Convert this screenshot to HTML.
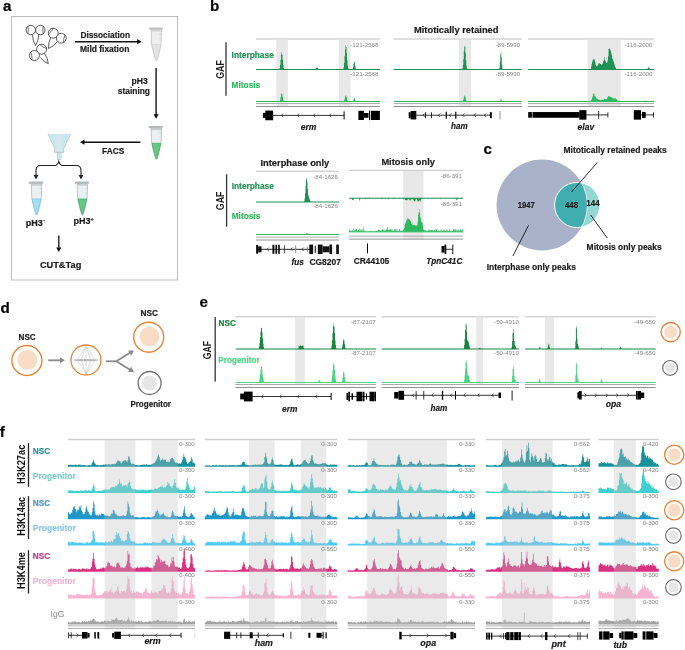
<!DOCTYPE html><html><head><meta charset="utf-8"><style>html,body{margin:0;padding:0;background:#fff;width:685px;height:650px;overflow:hidden;font-family:"Liberation Sans",sans-serif}svg text{font-family:"Liberation Sans",sans-serif}</style></head><body><svg width="685" height="650" viewBox="0 0 685 650" style="position:absolute;left:0;top:0;will-change:transform">
<text x="2.9" y="11.4" font-size="15.2" font-weight="bold" fill="#000" text-anchor="start" stroke="#000" stroke-width="0.18">a</text>
<text x="210.0" y="11.4" font-size="15.2" font-weight="bold" fill="#000" text-anchor="start" stroke="#000" stroke-width="0.18">b</text>
<text x="483.6" y="153.8" font-size="15.2" font-weight="bold" fill="#000" text-anchor="start" stroke="#000" stroke-width="0.18">c</text>
<text x="0.6" y="313.0" font-size="15.2" font-weight="bold" fill="#000" text-anchor="start" stroke="#000" stroke-width="0.18">d</text>
<text x="199.4" y="306.7" font-size="15.2" font-weight="bold" fill="#000" text-anchor="start" stroke="#000" stroke-width="0.18">e</text>
<text x="-0.3" y="436.8" font-size="15.2" font-weight="bold" fill="#000" text-anchor="start" stroke="#000" stroke-width="0.18">f</text>
<rect x="11.5" y="16.5" width="166" height="263.5" fill="none" stroke="#bdbdbd" stroke-width="1"/>
<path d="M32.5,34.5 Q32.46,40.42 35.5,45.5 Q38.68,40.46 38.8,34.5" fill="#fff" stroke="#333" stroke-width="0.8" stroke-linejoin="round"/>
<circle cx="30.8" cy="30" r="4.7" fill="#fff" stroke="#333" stroke-width="0.8"/>
<path d="M27.88,33.68 Q28.78,30.00 27.88,26.32" fill="none" stroke="#333" stroke-width="0.7"/>
<circle cx="40.3" cy="30" r="4.7" fill="#fff" stroke="#333" stroke-width="0.8"/>
<path d="M43.22,26.32 Q42.32,30.00 43.22,33.68" fill="none" stroke="#333" stroke-width="0.7"/>
<path d="M50.8,37.5 Q48.08,42.67 48.5,48.5 Q53.98,46.26 57.5,41.5" fill="#fff" stroke="#333" stroke-width="0.8" stroke-linejoin="round"/>
<circle cx="53.2" cy="33.2" r="5.0" fill="#fff" stroke="#333" stroke-width="0.8"/>
<path d="M48.30,34.20 Q51.56,31.82 53.34,28.20" fill="none" stroke="#333" stroke-width="0.7"/>
<circle cx="61.3" cy="38.2" r="4.9" fill="#fff" stroke="#333" stroke-width="0.8"/>
<path d="M64.97,34.95 Q63.37,38.57 63.63,42.51" fill="none" stroke="#333" stroke-width="0.7"/>
<path d="M40.5,57.5 Q43.40,61.85 48.3,63.7 Q47.90,58.04 44.5,53.5" fill="#fff" stroke="#333" stroke-width="0.8" stroke-linejoin="round"/>
<circle cx="41.6" cy="49.2" r="5.0" fill="#fff" stroke="#333" stroke-width="0.8"/>
<path d="M39.76,44.55 Q42.67,47.34 46.55,48.47" fill="none" stroke="#333" stroke-width="0.7"/>
<circle cx="34.4" cy="55.5" r="5.0" fill="#fff" stroke="#333" stroke-width="0.8"/>
<path d="M32.02,59.90 Q32.29,55.87 30.66,52.18" fill="none" stroke="#333" stroke-width="0.7"/>
<line x1="75" y1="41.7" x2="138.1" y2="41.7" stroke="#111" stroke-width="1.4"/>
<path d="M141.7,41.7 L137.2,39.1 L137.2,44.300000000000004 Z" fill="#111"/>
<text x="80.4" y="37.9" font-size="8.6" font-weight="bold" fill="#1a1a1a" text-anchor="start" textLength="49.6" lengthAdjust="spacingAndGlyphs" stroke="#1a1a1a" stroke-width="0.18">Dissociation</text>
<text x="80.0" y="51.5" font-size="8.6" font-weight="bold" fill="#1a1a1a" text-anchor="start" textLength="49.3" lengthAdjust="spacingAndGlyphs" stroke="#1a1a1a" stroke-width="0.18">Mild fixation</text>
<line x1="156.1" y1="68" x2="156.1" y2="115.10000000000001" stroke="#111" stroke-width="1.4"/>
<path d="M156.1,118.7 L153.5,114.2 L158.7,114.2 Z" fill="#111"/>
<text x="147.7" y="83.7" font-size="8.6" font-weight="bold" fill="#1a1a1a" text-anchor="end" stroke="#1a1a1a" stroke-width="0.18">pH3</text>
<text x="150.0" y="93.6" font-size="8.6" font-weight="bold" fill="#1a1a1a" text-anchor="end" textLength="32.2" lengthAdjust="spacingAndGlyphs" stroke="#1a1a1a" stroke-width="0.18">staining</text>
<line x1="140.4" y1="142.2" x2="83.6" y2="142.2" stroke="#111" stroke-width="1.4"/>
<path d="M80,142.2 L84.5,139.6 L84.5,144.79999999999998 Z" fill="#111"/>
<text x="102" y="153.8" font-size="8.6" font-weight="bold" fill="#1a1a1a" text-anchor="start" textLength="22.4" lengthAdjust="spacingAndGlyphs" stroke="#1a1a1a" stroke-width="0.18">FACS</text>
<path d="M151.1,29.3 L161.6,29.3 L161.1,44.3 Q159.45,52.6 157.09999999999997,60.300000000000004 Q156.39999999999998,61.300000000000004 155.7,60.300000000000004 Q153.3,52.6 151.6,44.3 Z" fill="#efefef" stroke="#c2c2c2" stroke-width="0.8"/>
<path d="M152.0,44.699999999999996 L160.7,44.699999999999996 Q159.14999999999998,52.6 156.89999999999998,59.900000000000006 Q156.39999999999998,60.50000000000001 155.89999999999998,59.900000000000006 Q153.6,52.6 152.0,44.699999999999996 Z" fill="#e3e3e3" stroke="#cfcfcf" stroke-width="0.6"/>
<rect x="151.1" y="29.3" width="10.5" height="2.2" fill="#c2c2c2" opacity="0.6"/>
<path d="M148.29999999999998,28.8 L149.79999999999998,27.400000000000002 L162.89999999999998,27.400000000000002 L162.89999999999998,29.2 L149.0,29.5 Z" fill="#c2c2c2"/>
<line x1="159.2" y1="34.3" x2="161.0" y2="34.3" stroke="#c3c9cb" stroke-width="0.5"/>
<line x1="159.2" y1="38.6" x2="161.0" y2="38.6" stroke="#c3c9cb" stroke-width="0.5"/>
<path d="M151.1,127.9 L161.6,127.9 L161.1,142.9 Q159.45,151.2 157.09999999999997,158.9 Q156.39999999999998,159.9 155.7,158.9 Q153.3,151.2 151.6,142.9 Z" fill="#e9f1f3" stroke="#b3b9bb" stroke-width="0.8"/>
<path d="M152.0,143.3 L160.7,143.3 Q159.14999999999998,151.2 156.89999999999998,158.5 Q156.39999999999998,159.1 155.89999999999998,158.5 Q153.6,151.2 152.0,143.3 Z" fill="#63c983" stroke="#3d9e5b" stroke-width="0.6"/>
<rect x="151.1" y="127.9" width="10.5" height="2.2" fill="#b3b9bb" opacity="0.6"/>
<path d="M148.29999999999998,127.4 L149.79999999999998,126.0 L162.89999999999998,126.0 L162.89999999999998,127.80000000000001 L149.0,128.1 Z" fill="#b3b9bb"/>
<line x1="159.2" y1="132.9" x2="161.0" y2="132.9" stroke="#c3c9cb" stroke-width="0.5"/>
<line x1="159.2" y1="137.20000000000002" x2="161.0" y2="137.20000000000002" stroke="#c3c9cb" stroke-width="0.5"/>
<path d="M31.299999999999997,183.5 L41.8,183.5 L41.3,198.5 Q39.65,206.8 37.3,214.5 Q36.599999999999994,215.5 35.89999999999999,214.5 Q33.49999999999999,206.8 31.799999999999997,198.5 Z" fill="#e9f1f3" stroke="#b3b9bb" stroke-width="0.8"/>
<path d="M32.199999999999996,198.9 L40.9,198.9 Q39.35,206.8 37.099999999999994,214.1 Q36.599999999999994,214.7 36.099999999999994,214.1 Q33.79999999999999,206.8 32.199999999999996,198.9 Z" fill="#a4def2" stroke="#70c2dd" stroke-width="0.6"/>
<rect x="31.299999999999997" y="183.5" width="10.5" height="2.2" fill="#b3b9bb" opacity="0.6"/>
<path d="M28.5,183.0 L30.0,181.6 L43.099999999999994,181.6 L43.099999999999994,183.4 L29.2,183.7 Z" fill="#b3b9bb"/>
<line x1="39.4" y1="188.5" x2="41.199999999999996" y2="188.5" stroke="#c3c9cb" stroke-width="0.5"/>
<line x1="39.4" y1="192.8" x2="41.199999999999996" y2="192.8" stroke="#c3c9cb" stroke-width="0.5"/>
<path d="M77.10000000000001,183.5 L87.60000000000001,183.5 L87.10000000000001,198.5 Q85.45,206.8 83.10000000000001,214.5 Q82.4,215.5 81.7,214.5 Q79.3,206.8 77.60000000000001,198.5 Z" fill="#e9f1f3" stroke="#b3b9bb" stroke-width="0.8"/>
<path d="M78.00000000000001,198.9 L86.7,198.9 Q85.15,206.8 82.9,214.1 Q82.4,214.7 81.9,214.1 Q79.60000000000002,206.8 78.00000000000001,198.9 Z" fill="#63c983" stroke="#3d9e5b" stroke-width="0.6"/>
<rect x="77.10000000000001" y="183.5" width="10.5" height="2.2" fill="#b3b9bb" opacity="0.6"/>
<path d="M74.3,183.0 L75.8,181.6 L88.9,181.6 L88.9,183.4 L75.0,183.7 Z" fill="#b3b9bb"/>
<line x1="85.2" y1="188.5" x2="87.00000000000001" y2="188.5" stroke="#c3c9cb" stroke-width="0.5"/>
<line x1="85.2" y1="192.8" x2="87.00000000000001" y2="192.8" stroke="#c3c9cb" stroke-width="0.5"/>
<path d="M48.6,133.9 L70.1,133.9 L63.3,148.3 L63.3,152.1 L55.0,152.1 L55.0,148.3 Z" fill="#c6eaf3"/>
<path d="M55.3,134 L62.9,134 L61.0,151.8 L57.2,151.8 Z" fill="#dbe4e7" opacity="0.85"/>
<path d="M47.8,133.6 L54.6,148.3 L54.6,152.4 L63.7,152.4 L63.7,148.3 L70.9,133.6" fill="none" stroke="#b8b8b8" stroke-width="0.8"/>
<rect x="57.3" y="152.4" width="3.8" height="7.0" fill="#c6eaf3" stroke="#bdbdbd" stroke-width="0.6"/>
<path d="M36,178 L36,170.5 Q36,165.5 41,165.5 L55,165.5 Q57.5,165.5 58.8,161.4 Q60,165.5 62.5,165.5 L76,165.5 Q81,165.5 81,170.5 L81,178" fill="none" stroke="#222" stroke-width="1.1"/>
<path d="M36,179.5 L33.6,175 L38.4,175 Z" fill="#222"/>
<path d="M81,179.5 L78.6,175 L83.4,175 Z" fill="#222"/>
<text x="25.8" y="225.8" font-size="9.0" font-weight="bold" fill="#1a1a1a" text-anchor="start" stroke="#1a1a1a" stroke-width="0.18">pH3<tspan font-size="5.0" dx="0.8" dy="-3.4">-</tspan></text>
<text x="73.4" y="224.3" font-size="9.0" font-weight="bold" fill="#1a1a1a" text-anchor="start" stroke="#1a1a1a" stroke-width="0.18">pH3<tspan font-size="5.5" dx="0.2" dy="-3.5">+</tspan></text>
<line x1="58.8" y1="235.5" x2="58.8" y2="248.5" stroke="#111" stroke-width="1.3"/>
<path d="M58.8,252.1 L56.199999999999996,247.6 L61.4,247.6 Z" fill="#111"/>
<text x="39.9" y="268" font-size="8.6" font-weight="bold" fill="#1a1a1a" text-anchor="start" textLength="41.4" lengthAdjust="spacingAndGlyphs" stroke="#1a1a1a" stroke-width="0.18">CUT&amp;Tag</text>
<text x="414" y="33" font-size="9.2" font-weight="bold" fill="#1a1a1a" text-anchor="start" textLength="84.5" lengthAdjust="spacingAndGlyphs" stroke="#1a1a1a" stroke-width="0.18">Mitotically retained</text>
<line x1="226" y1="42.3" x2="226" y2="95.8" stroke="#333" stroke-width="1.3"/>
<text transform="translate(223.5,69.5) rotate(-90)" x="0" y="0" font-size="10.3" font-weight="bold" fill="#1a1a1a" text-anchor="middle" textLength="18.6" lengthAdjust="spacingAndGlyphs">GAF</text>
<text x="231.6" y="57.7" font-size="8.6" font-weight="bold" fill="#1f9152" text-anchor="start" textLength="42.2" lengthAdjust="spacingAndGlyphs" stroke="#1f9152" stroke-width="0.18">Interphase</text>
<text x="231.6" y="87.8" font-size="8.6" font-weight="bold" fill="#2cb85c" text-anchor="start" textLength="28.6" lengthAdjust="spacingAndGlyphs" stroke="#2cb85c" stroke-width="0.18">Mitosis</text>
<line x1="256" y1="39.1" x2="380" y2="39.1" stroke="#d4d4d4" stroke-width="1.5"/>
<rect x="276.3" y="39.800000000000004" width="11.599999999999966" height="67.0" fill="#e8e8e8"/>
<rect x="339" y="39.800000000000004" width="11.600000000000023" height="67.0" fill="#e8e8e8"/>
<path d="M256.0,69.90 L256.00,68.90 256.50,68.90 L256.50,68.90 257.00,68.90 L257.00,68.90 257.50,68.90 L257.50,68.90 258.00,68.90 L258.00,68.90 258.50,68.90 L258.50,68.90 259.00,68.90 L259.00,68.90 259.50,68.90 L259.50,68.90 260.00,68.90 L260.00,68.90 260.50,68.90 L260.50,68.90 261.00,68.90 L261.00,68.90 261.50,68.90 L261.50,68.90 262.00,68.90 L262.00,68.90 262.50,68.90 L262.50,68.90 263.00,68.90 L263.00,68.90 263.50,68.90 L263.50,68.90 264.00,68.90 L264.00,68.90 264.50,68.90 L264.50,68.90 265.00,68.90 L265.00,68.90 265.50,68.90 L265.50,68.90 266.00,68.90 L266.00,68.90 266.50,68.90 L266.50,68.90 267.00,68.90 L267.00,68.90 267.50,68.90 L267.50,68.90 268.00,68.90 L268.00,68.90 268.50,68.90 L268.50,68.90 269.00,68.90 L269.00,68.90 269.50,68.90 L269.50,68.90 270.00,68.90 L270.00,68.90 270.50,68.90 L270.50,68.90 271.00,68.90 L271.00,68.90 271.50,68.90 L271.50,68.90 272.00,68.90 L272.00,68.90 272.50,68.90 L272.50,68.90 273.00,68.90 L273.00,68.90 273.50,68.90 L273.50,68.90 274.00,68.90 L274.00,68.90 274.50,68.90 L274.50,68.90 275.00,68.90 L275.00,68.90 275.50,68.90 L275.50,68.90 276.00,68.90 L276.00,68.90 276.50,68.90 L276.50,68.90 277.00,68.90 L277.00,68.90 277.50,68.90 L277.50,68.90 278.00,68.90 L278.00,68.90 278.50,68.90 L278.50,68.90 279.00,68.90 L279.00,68.90 279.50,68.90 L279.50,67.98 280.00,67.98 L280.00,64.84 280.50,64.84 L280.50,59.79 281.00,59.79 L281.00,54.58 281.50,54.58 L281.50,52.30 282.00,52.30 L282.00,54.58 282.50,54.58 L282.50,59.79 283.00,59.79 L283.00,64.84 283.50,64.84 L283.50,67.98 284.00,67.98 L284.00,68.90 284.50,68.90 L284.50,68.90 285.00,68.90 L285.00,68.90 285.50,68.90 L285.50,68.90 286.00,68.90 L286.00,68.90 286.50,68.90 L286.50,68.90 287.00,68.90 L287.00,68.90 287.50,68.90 L287.50,68.90 288.00,68.90 L288.00,68.90 288.50,68.90 L288.50,68.90 289.00,68.90 L289.00,68.90 289.50,68.90 L289.50,68.90 290.00,68.90 L290.00,68.90 290.50,68.90 L290.50,68.90 291.00,68.90 L291.00,68.90 291.50,68.90 L291.50,68.90 292.00,68.90 L292.00,68.90 292.50,68.90 L292.50,68.90 293.00,68.90 L293.00,68.90 293.50,68.90 L293.50,68.90 294.00,68.90 L294.00,68.90 294.50,68.90 L294.50,68.90 295.00,68.90 L295.00,68.90 295.50,68.90 L295.50,68.90 296.00,68.90 L296.00,68.90 296.50,68.90 L296.50,68.90 297.00,68.90 L297.00,68.90 297.50,68.90 L297.50,68.90 298.00,68.90 L298.00,68.90 298.50,68.90 L298.50,68.90 299.00,68.90 L299.00,68.90 299.50,68.90 L299.50,68.90 300.00,68.90 L300.00,68.90 300.50,68.90 L300.50,68.90 301.00,68.90 L301.00,68.90 301.50,68.90 L301.50,68.90 302.00,68.90 L302.00,68.90 302.50,68.90 L302.50,68.90 303.00,68.90 L303.00,68.90 303.50,68.90 L303.50,68.90 304.00,68.90 L304.00,68.90 304.50,68.90 L304.50,68.90 305.00,68.90 L305.00,68.90 305.50,68.90 L305.50,68.90 306.00,68.90 L306.00,68.90 306.50,68.90 L306.50,68.90 307.00,68.90 L307.00,68.90 307.50,68.90 L307.50,68.90 308.00,68.90 L308.00,68.90 308.50,68.90 L308.50,68.90 309.00,68.90 L309.00,68.90 309.50,68.90 L309.50,68.90 310.00,68.90 L310.00,68.90 310.50,68.90 L310.50,68.90 311.00,68.90 L311.00,68.90 311.50,68.90 L311.50,68.90 312.00,68.90 L312.00,68.90 312.50,68.90 L312.50,68.90 313.00,68.90 L313.00,68.90 313.50,68.90 L313.50,68.90 314.00,68.90 L314.00,68.90 314.50,68.90 L314.50,68.90 315.00,68.90 L315.00,68.90 315.50,68.90 L315.50,68.53 316.00,68.53 L316.00,67.81 316.50,67.81 L316.50,67.41 317.00,67.41 L317.00,67.59 317.50,67.59 L317.50,68.23 318.00,68.23 L318.00,68.90 318.50,68.90 L318.50,68.90 319.00,68.90 L319.00,68.90 319.50,68.90 L319.50,68.90 320.00,68.90 L320.00,68.90 320.50,68.90 L320.50,68.90 321.00,68.90 L321.00,68.90 321.50,68.90 L321.50,68.90 322.00,68.90 L322.00,68.90 322.50,68.90 L322.50,68.90 323.00,68.90 L323.00,68.90 323.50,68.90 L323.50,68.90 324.00,68.90 L324.00,68.90 324.50,68.90 L324.50,68.90 325.00,68.90 L325.00,68.90 325.50,68.90 L325.50,68.90 326.00,68.90 L326.00,68.90 326.50,68.90 L326.50,68.90 327.00,68.90 L327.00,68.90 327.50,68.90 L327.50,68.90 328.00,68.90 L328.00,68.90 328.50,68.90 L328.50,68.90 329.00,68.90 L329.00,68.90 329.50,68.90 L329.50,68.90 330.00,68.90 L330.00,68.90 330.50,68.90 L330.50,68.90 331.00,68.90 L331.00,68.90 331.50,68.90 L331.50,68.90 332.00,68.90 L332.00,68.90 332.50,68.90 L332.50,68.90 333.00,68.90 L333.00,68.90 333.50,68.90 L333.50,68.90 334.00,68.90 L334.00,68.90 334.50,68.90 L334.50,68.90 335.00,68.90 L335.00,68.90 335.50,68.90 L335.50,68.90 336.00,68.90 L336.00,68.90 336.50,68.90 L336.50,68.90 337.00,68.90 L337.00,68.90 337.50,68.90 L337.50,68.90 338.00,68.90 L338.00,68.90 338.50,68.90 L338.50,68.90 339.00,68.90 L339.00,68.90 339.50,68.90 L339.50,68.90 340.00,68.90 L340.00,68.90 340.50,68.90 L340.50,68.90 341.00,68.90 L341.00,68.90 341.50,68.90 L341.50,68.90 342.00,68.90 L342.00,68.90 342.50,68.90 L342.50,68.90 343.00,68.90 L343.00,68.90 343.50,68.90 L343.50,67.17 344.00,67.17 L344.00,63.00 344.50,63.00 L344.50,56.36 345.00,56.36 L345.00,49.19 345.50,49.19 L345.50,45.22 346.00,45.22 L346.00,47.01 346.50,47.01 L346.50,53.36 347.00,53.36 L347.00,60.59 347.50,60.59 L347.50,65.82 348.00,65.82 L348.00,68.51 348.50,68.51 L348.50,68.90 349.00,68.90 L349.00,68.90 349.50,68.90 L349.50,68.90 350.00,68.90 L350.00,68.90 350.50,68.90 L350.50,68.90 351.00,68.90 L351.00,68.90 351.50,68.90 L351.50,68.90 352.00,68.90 L352.00,68.90 352.50,68.90 L352.50,68.90 353.00,68.90 L353.00,67.03 353.50,67.03 L353.50,63.80 354.00,63.80 L354.00,61.57 354.50,61.57 L354.50,62.61 355.00,62.61 L355.00,65.81 355.50,65.81 L355.50,68.43 356.00,68.43 L356.00,68.90 356.50,68.90 L356.50,68.90 357.00,68.90 L357.00,68.90 357.50,68.90 L357.50,68.90 358.00,68.90 L358.00,68.90 358.50,68.90 L358.50,68.90 359.00,68.90 L359.00,68.90 359.50,68.90 L359.50,68.90 360.00,68.90 L360.00,68.90 360.50,68.90 L360.50,68.90 361.00,68.90 L361.00,68.90 361.50,68.90 L361.50,68.90 362.00,68.90 L362.00,68.90 362.50,68.90 L362.50,68.90 363.00,68.90 L363.00,68.90 363.50,68.90 L363.50,68.90 364.00,68.90 L364.00,68.90 364.50,68.90 L364.50,68.90 365.00,68.90 L365.00,68.90 365.50,68.90 L365.50,68.90 366.00,68.90 L366.00,68.90 366.50,68.90 L366.50,68.90 367.00,68.90 L367.00,68.90 367.50,68.90 L367.50,68.90 368.00,68.90 L368.00,68.90 368.50,68.90 L368.50,68.90 369.00,68.90 L369.00,68.90 369.50,68.90 L369.50,68.90 370.00,68.90 L370.00,68.90 370.50,68.90 L370.50,68.90 371.00,68.90 L371.00,68.90 371.50,68.90 L371.50,68.90 372.00,68.90 L372.00,68.90 372.50,68.90 L372.50,68.90 373.00,68.90 L373.00,68.90 373.50,68.90 L373.50,68.90 374.00,68.90 L374.00,68.90 374.50,68.90 L374.50,68.90 375.00,68.90 L375.00,68.90 375.50,68.90 L375.50,68.90 376.00,68.90 L376.00,68.90 376.50,68.90 L376.50,68.90 377.00,68.90 L377.00,68.90 377.50,68.90 L377.50,68.90 378.00,68.90 L378.00,68.90 378.50,68.90 L378.50,68.90 379.00,68.90 L379.00,68.90 379.50,68.90 L379.50,68.90 380.00,68.90 L380.00,68.90 380.00,68.90 L380.0,69.90 Z" fill="#1f9152"/>
<path d="M256.0,101.95 L256.00,100.95 256.50,100.95 L256.50,100.95 257.00,100.95 L257.00,100.95 257.50,100.95 L257.50,100.95 258.00,100.95 L258.00,100.95 258.50,100.95 L258.50,100.95 259.00,100.95 L259.00,100.95 259.50,100.95 L259.50,100.95 260.00,100.95 L260.00,100.95 260.50,100.95 L260.50,100.95 261.00,100.95 L261.00,100.95 261.50,100.95 L261.50,100.95 262.00,100.95 L262.00,100.95 262.50,100.95 L262.50,100.95 263.00,100.95 L263.00,100.95 263.50,100.95 L263.50,100.95 264.00,100.95 L264.00,100.95 264.50,100.95 L264.50,100.95 265.00,100.95 L265.00,100.95 265.50,100.95 L265.50,100.95 266.00,100.95 L266.00,100.95 266.50,100.95 L266.50,100.95 267.00,100.95 L267.00,100.95 267.50,100.95 L267.50,100.95 268.00,100.95 L268.00,100.95 268.50,100.95 L268.50,100.95 269.00,100.95 L269.00,100.95 269.50,100.95 L269.50,100.95 270.00,100.95 L270.00,100.95 270.50,100.95 L270.50,100.95 271.00,100.95 L271.00,100.95 271.50,100.95 L271.50,100.95 272.00,100.95 L272.00,100.95 272.50,100.95 L272.50,100.95 273.00,100.95 L273.00,100.95 273.50,100.95 L273.50,100.95 274.00,100.95 L274.00,100.95 274.50,100.95 L274.50,100.95 275.00,100.95 L275.00,100.95 275.50,100.95 L275.50,100.95 276.00,100.95 L276.00,100.95 276.50,100.95 L276.50,100.95 277.00,100.95 L277.00,100.95 277.50,100.95 L277.50,100.95 278.00,100.95 L278.00,100.95 278.50,100.95 L278.50,100.95 279.00,100.95 L279.00,100.95 279.50,100.95 L279.50,100.95 280.00,100.95 L280.00,99.71 280.50,99.71 L280.50,97.10 281.00,97.10 L281.00,94.24 281.50,94.24 L281.50,92.95 282.00,92.95 L282.00,94.24 282.50,94.24 L282.50,97.10 283.00,97.10 L283.00,99.71 283.50,99.71 L283.50,100.95 284.00,100.95 L284.00,100.95 284.50,100.95 L284.50,100.95 285.00,100.95 L285.00,100.95 285.50,100.95 L285.50,100.95 286.00,100.95 L286.00,100.95 286.50,100.95 L286.50,100.95 287.00,100.95 L287.00,100.95 287.50,100.95 L287.50,100.95 288.00,100.95 L288.00,100.95 288.50,100.95 L288.50,100.95 289.00,100.95 L289.00,100.95 289.50,100.95 L289.50,100.95 290.00,100.95 L290.00,100.95 290.50,100.95 L290.50,100.95 291.00,100.95 L291.00,100.95 291.50,100.95 L291.50,100.95 292.00,100.95 L292.00,100.95 292.50,100.95 L292.50,100.95 293.00,100.95 L293.00,100.95 293.50,100.95 L293.50,100.95 294.00,100.95 L294.00,100.95 294.50,100.95 L294.50,100.95 295.00,100.95 L295.00,100.95 295.50,100.95 L295.50,100.95 296.00,100.95 L296.00,100.95 296.50,100.95 L296.50,100.95 297.00,100.95 L297.00,100.95 297.50,100.95 L297.50,100.95 298.00,100.95 L298.00,100.95 298.50,100.95 L298.50,100.95 299.00,100.95 L299.00,100.95 299.50,100.95 L299.50,100.95 300.00,100.95 L300.00,100.95 300.50,100.95 L300.50,100.95 301.00,100.95 L301.00,100.95 301.50,100.95 L301.50,100.95 302.00,100.95 L302.00,100.95 302.50,100.95 L302.50,100.95 303.00,100.95 L303.00,100.95 303.50,100.95 L303.50,100.95 304.00,100.95 L304.00,100.95 304.50,100.95 L304.50,100.95 305.00,100.95 L305.00,100.95 305.50,100.95 L305.50,100.95 306.00,100.95 L306.00,100.95 306.50,100.95 L306.50,100.95 307.00,100.95 L307.00,100.95 307.50,100.95 L307.50,100.95 308.00,100.95 L308.00,100.95 308.50,100.95 L308.50,100.95 309.00,100.95 L309.00,100.95 309.50,100.95 L309.50,100.95 310.00,100.95 L310.00,100.95 310.50,100.95 L310.50,100.95 311.00,100.95 L311.00,100.95 311.50,100.95 L311.50,100.95 312.00,100.95 L312.00,100.95 312.50,100.95 L312.50,100.95 313.00,100.95 L313.00,100.95 313.50,100.95 L313.50,100.95 314.00,100.95 L314.00,100.95 314.50,100.95 L314.50,100.95 315.00,100.95 L315.00,100.95 315.50,100.95 L315.50,100.95 316.00,100.95 L316.00,100.95 316.50,100.95 L316.50,100.95 317.00,100.95 L317.00,100.95 317.50,100.95 L317.50,100.95 318.00,100.95 L318.00,100.95 318.50,100.95 L318.50,100.95 319.00,100.95 L319.00,100.95 319.50,100.95 L319.50,100.95 320.00,100.95 L320.00,100.95 320.50,100.95 L320.50,100.95 321.00,100.95 L321.00,100.95 321.50,100.95 L321.50,100.95 322.00,100.95 L322.00,100.95 322.50,100.95 L322.50,100.95 323.00,100.95 L323.00,100.95 323.50,100.95 L323.50,100.95 324.00,100.95 L324.00,100.95 324.50,100.95 L324.50,100.95 325.00,100.95 L325.00,100.95 325.50,100.95 L325.50,100.95 326.00,100.95 L326.00,100.95 326.50,100.95 L326.50,100.95 327.00,100.95 L327.00,100.95 327.50,100.95 L327.50,100.95 328.00,100.95 L328.00,100.95 328.50,100.95 L328.50,100.95 329.00,100.95 L329.00,100.95 329.50,100.95 L329.50,100.95 330.00,100.95 L330.00,100.95 330.50,100.95 L330.50,100.95 331.00,100.95 L331.00,100.95 331.50,100.95 L331.50,100.95 332.00,100.95 L332.00,100.95 332.50,100.95 L332.50,100.95 333.00,100.95 L333.00,100.95 333.50,100.95 L333.50,100.95 334.00,100.95 L334.00,100.95 334.50,100.95 L334.50,100.95 335.00,100.95 L335.00,100.95 335.50,100.95 L335.50,100.95 336.00,100.95 L336.00,100.95 336.50,100.95 L336.50,100.95 337.00,100.95 L337.00,100.95 337.50,100.95 L337.50,100.95 338.00,100.95 L338.00,100.95 338.50,100.95 L338.50,100.95 339.00,100.95 L339.00,100.95 339.50,100.95 L339.50,100.95 340.00,100.95 L340.00,100.95 340.50,100.95 L340.50,100.95 341.00,100.95 L341.00,100.95 341.50,100.95 L341.50,100.95 342.00,100.95 L342.00,100.95 342.50,100.95 L342.50,100.95 343.00,100.95 L343.00,100.95 343.50,100.95 L343.50,100.95 344.00,100.95 L344.00,100.55 344.50,100.55 L344.50,98.73 345.00,98.73 L345.00,96.50 345.50,96.50 L345.50,95.19 346.00,95.19 L346.00,95.79 346.50,95.79 L346.50,97.83 347.00,97.83 L347.00,99.92 347.50,99.92 L347.50,100.95 348.00,100.95 L348.00,100.95 348.50,100.95 L348.50,100.95 349.00,100.95 L349.00,100.95 349.50,100.95 L349.50,100.95 350.00,100.95 L350.00,100.95 350.50,100.95 L350.50,100.95 351.00,100.95 L351.00,100.95 351.50,100.95 L351.50,100.95 352.00,100.95 L352.00,100.95 352.50,100.95 L352.50,100.95 353.00,100.95 L353.00,100.65 353.50,100.65 L353.50,99.19 354.00,99.19 L354.00,98.18 354.50,98.18 L354.50,98.65 355.00,98.65 L355.00,100.10 355.50,100.10 L355.50,100.95 356.00,100.95 L356.00,100.95 356.50,100.95 L356.50,100.95 357.00,100.95 L357.00,100.95 357.50,100.95 L357.50,100.95 358.00,100.95 L358.00,100.95 358.50,100.95 L358.50,100.95 359.00,100.95 L359.00,100.95 359.50,100.95 L359.50,100.95 360.00,100.95 L360.00,100.95 360.50,100.95 L360.50,100.95 361.00,100.95 L361.00,100.95 361.50,100.95 L361.50,100.95 362.00,100.95 L362.00,100.95 362.50,100.95 L362.50,100.95 363.00,100.95 L363.00,100.95 363.50,100.95 L363.50,100.95 364.00,100.95 L364.00,100.95 364.50,100.95 L364.50,100.95 365.00,100.95 L365.00,100.95 365.50,100.95 L365.50,100.95 366.00,100.95 L366.00,100.95 366.50,100.95 L366.50,100.95 367.00,100.95 L367.00,100.95 367.50,100.95 L367.50,100.95 368.00,100.95 L368.00,100.95 368.50,100.95 L368.50,100.95 369.00,100.95 L369.00,100.95 369.50,100.95 L369.50,100.95 370.00,100.95 L370.00,100.95 370.50,100.95 L370.50,100.95 371.00,100.95 L371.00,100.95 371.50,100.95 L371.50,100.95 372.00,100.95 L372.00,100.95 372.50,100.95 L372.50,100.95 373.00,100.95 L373.00,100.95 373.50,100.95 L373.50,100.95 374.00,100.95 L374.00,100.95 374.50,100.95 L374.50,100.95 375.00,100.95 L375.00,100.95 375.50,100.95 L375.50,100.95 376.00,100.95 L376.00,100.95 376.50,100.95 L376.50,100.95 377.00,100.95 L377.00,100.95 377.50,100.95 L377.50,100.95 378.00,100.95 L378.00,100.95 378.50,100.95 L378.50,100.95 379.00,100.95 L379.00,100.95 379.50,100.95 L379.50,100.95 380.00,100.95 L380.00,100.95 380.00,100.95 L380.0,101.95 Z" fill="#2cb85c"/>
<line x1="256" y1="103.6" x2="380" y2="103.6" stroke="#ababab" stroke-width="1.0"/>
<line x1="256" y1="106.5" x2="380" y2="106.5" stroke="#929292" stroke-width="1.0"/>
<text x="378.5" y="47.0" font-size="6.2" font-weight="normal" fill="#858585" text-anchor="end">-121-2568</text>
<text x="378.5" y="76.3" font-size="6.2" font-weight="normal" fill="#858585" text-anchor="end">-121-2568</text>
<line x1="393.8" y1="39.1" x2="521.7" y2="39.1" stroke="#d4d4d4" stroke-width="1.5"/>
<rect x="459" y="39.800000000000004" width="12" height="67.0" fill="#e8e8e8"/>
<path d="M393.8,69.90 L393.80,68.90 394.30,68.90 L394.30,68.90 394.80,68.90 L394.80,68.90 395.30,68.90 L395.30,68.90 395.80,68.90 L395.80,68.90 396.30,68.90 L396.30,68.90 396.80,68.90 L396.80,68.90 397.30,68.90 L397.30,68.90 397.80,68.90 L397.80,68.90 398.30,68.90 L398.30,68.90 398.80,68.90 L398.80,68.90 399.30,68.90 L399.30,68.90 399.80,68.90 L399.80,68.90 400.30,68.90 L400.30,68.90 400.80,68.90 L400.80,68.90 401.30,68.90 L401.30,68.90 401.80,68.90 L401.80,68.90 402.30,68.90 L402.30,68.90 402.80,68.90 L402.80,68.90 403.30,68.90 L403.30,68.90 403.80,68.90 L403.80,68.90 404.30,68.90 L404.30,68.90 404.80,68.90 L404.80,68.90 405.30,68.90 L405.30,68.90 405.80,68.90 L405.80,68.90 406.30,68.90 L406.30,68.90 406.80,68.90 L406.80,68.90 407.30,68.90 L407.30,68.90 407.80,68.90 L407.80,68.90 408.30,68.90 L408.30,68.90 408.80,68.90 L408.80,68.90 409.30,68.90 L409.30,68.90 409.80,68.90 L409.80,68.90 410.30,68.90 L410.30,68.90 410.80,68.90 L410.80,68.90 411.30,68.90 L411.30,68.90 411.80,68.90 L411.80,68.90 412.30,68.90 L412.30,68.90 412.80,68.90 L412.80,68.90 413.30,68.90 L413.30,68.90 413.80,68.90 L413.80,68.90 414.30,68.90 L414.30,68.90 414.80,68.90 L414.80,68.90 415.30,68.90 L415.30,68.90 415.80,68.90 L415.80,68.90 416.30,68.90 L416.30,68.90 416.80,68.90 L416.80,68.90 417.30,68.90 L417.30,68.90 417.80,68.90 L417.80,68.90 418.30,68.90 L418.30,68.90 418.80,68.90 L418.80,68.90 419.30,68.90 L419.30,68.90 419.80,68.90 L419.80,68.90 420.30,68.90 L420.30,68.90 420.80,68.90 L420.80,68.90 421.30,68.90 L421.30,68.90 421.80,68.90 L421.80,68.90 422.30,68.90 L422.30,68.90 422.80,68.90 L422.80,68.90 423.30,68.90 L423.30,68.90 423.80,68.90 L423.80,68.90 424.30,68.90 L424.30,68.90 424.80,68.90 L424.80,68.90 425.30,68.90 L425.30,68.90 425.80,68.90 L425.80,68.90 426.30,68.90 L426.30,68.90 426.80,68.90 L426.80,68.90 427.30,68.90 L427.30,68.90 427.80,68.90 L427.80,68.90 428.30,68.90 L428.30,68.90 428.80,68.90 L428.80,68.90 429.30,68.90 L429.30,68.90 429.80,68.90 L429.80,68.90 430.30,68.90 L430.30,68.90 430.80,68.90 L430.80,68.90 431.30,68.90 L431.30,68.90 431.80,68.90 L431.80,68.90 432.30,68.90 L432.30,68.90 432.80,68.90 L432.80,68.90 433.30,68.90 L433.30,68.90 433.80,68.90 L433.80,68.90 434.30,68.90 L434.30,68.90 434.80,68.90 L434.80,68.90 435.30,68.90 L435.30,68.90 435.80,68.90 L435.80,68.90 436.30,68.90 L436.30,68.90 436.80,68.90 L436.80,68.90 437.30,68.90 L437.30,68.90 437.80,68.90 L437.80,68.90 438.30,68.90 L438.30,68.90 438.80,68.90 L438.80,68.90 439.30,68.90 L439.30,68.90 439.80,68.90 L439.80,68.90 440.30,68.90 L440.30,68.90 440.80,68.90 L440.80,68.90 441.30,68.90 L441.30,68.90 441.80,68.90 L441.80,68.90 442.30,68.90 L442.30,68.90 442.80,68.90 L442.80,68.90 443.30,68.90 L443.30,68.90 443.80,68.90 L443.80,68.90 444.30,68.90 L444.30,68.90 444.80,68.90 L444.80,68.90 445.30,68.90 L445.30,68.90 445.80,68.90 L445.80,68.90 446.30,68.90 L446.30,68.90 446.80,68.90 L446.80,68.90 447.30,68.90 L447.30,68.90 447.80,68.90 L447.80,68.90 448.30,68.90 L448.30,68.90 448.80,68.90 L448.80,68.90 449.30,68.90 L449.30,68.90 449.80,68.90 L449.80,68.90 450.30,68.90 L450.30,68.90 450.80,68.90 L450.80,68.90 451.30,68.90 L451.30,68.90 451.80,68.90 L451.80,68.90 452.30,68.90 L452.30,68.90 452.80,68.90 L452.80,68.90 453.30,68.90 L453.30,68.90 453.80,68.90 L453.80,68.90 454.30,68.90 L454.30,68.90 454.80,68.90 L454.80,68.90 455.30,68.90 L455.30,68.90 455.80,68.90 L455.80,68.90 456.30,68.90 L456.30,68.90 456.80,68.90 L456.80,68.90 457.30,68.90 L457.30,68.90 457.80,68.90 L457.80,68.90 458.30,68.90 L458.30,68.90 458.80,68.90 L458.80,68.90 459.30,68.90 L459.30,68.90 459.80,68.90 L459.80,68.90 460.30,68.90 L460.30,68.90 460.80,68.90 L460.80,68.90 461.30,68.90 L461.30,68.90 461.80,68.90 L461.80,68.90 462.30,68.90 L462.30,68.23 462.80,68.23 L462.80,64.98 463.30,64.98 L463.30,58.91 463.80,58.91 L463.80,51.30 464.30,51.30 L464.30,46.03 464.80,46.03 L464.80,46.69 465.30,46.69 L465.30,52.78 465.80,52.78 L465.80,60.33 466.30,60.33 L466.30,65.85 466.80,65.85 L466.80,68.60 467.30,68.60 L467.30,68.90 467.80,68.90 L467.80,68.90 468.30,68.90 L468.30,68.90 468.80,68.90 L468.80,68.90 469.30,68.90 L469.30,68.90 469.80,68.90 L469.80,68.90 470.30,68.90 L470.30,68.90 470.80,68.90 L470.80,68.90 471.30,68.90 L471.30,68.90 471.80,68.90 L471.80,68.90 472.30,68.90 L472.30,68.90 472.80,68.90 L472.80,68.90 473.30,68.90 L473.30,68.90 473.80,68.90 L473.80,68.90 474.30,68.90 L474.30,68.90 474.80,68.90 L474.80,68.90 475.30,68.90 L475.30,68.90 475.80,68.90 L475.80,68.90 476.30,68.90 L476.30,68.90 476.80,68.90 L476.80,68.90 477.30,68.90 L477.30,68.90 477.80,68.90 L477.80,68.90 478.30,68.90 L478.30,68.90 478.80,68.90 L478.80,68.90 479.30,68.90 L479.30,68.90 479.80,68.90 L479.80,68.90 480.30,68.90 L480.30,68.90 480.80,68.90 L480.80,68.90 481.30,68.90 L481.30,68.90 481.80,68.90 L481.80,68.90 482.30,68.90 L482.30,68.90 482.80,68.90 L482.80,68.90 483.30,68.90 L483.30,68.90 483.80,68.90 L483.80,68.90 484.30,68.90 L484.30,68.90 484.80,68.90 L484.80,68.90 485.30,68.90 L485.30,68.90 485.80,68.90 L485.80,68.90 486.30,68.90 L486.30,68.90 486.80,68.90 L486.80,68.90 487.30,68.90 L487.30,68.90 487.80,68.90 L487.80,68.90 488.30,68.90 L488.30,68.90 488.80,68.90 L488.80,68.90 489.30,68.90 L489.30,68.90 489.80,68.90 L489.80,68.90 490.30,68.90 L490.30,68.90 490.80,68.90 L490.80,68.90 491.30,68.90 L491.30,68.90 491.80,68.90 L491.80,68.90 492.30,68.90 L492.30,68.90 492.80,68.90 L492.80,68.90 493.30,68.90 L493.30,68.90 493.80,68.90 L493.80,68.90 494.30,68.90 L494.30,68.90 494.80,68.90 L494.80,68.90 495.30,68.90 L495.30,68.90 495.80,68.90 L495.80,68.90 496.30,68.90 L496.30,68.90 496.80,68.90 L496.80,68.90 497.30,68.90 L497.30,68.90 497.80,68.90 L497.80,68.90 498.30,68.90 L498.30,68.90 498.80,68.90 L498.80,68.90 499.30,68.90 L499.30,67.45 499.80,67.45 L499.80,61.98 500.30,61.98 L500.30,54.53 500.80,54.53 L500.80,51.98 501.30,51.98 L501.30,57.36 501.80,57.36 L501.80,64.63 502.30,64.63 L502.30,68.57 502.80,68.57 L502.80,68.90 503.30,68.90 L503.30,68.90 503.80,68.90 L503.80,68.90 504.30,68.90 L504.30,68.90 504.80,68.90 L504.80,68.90 505.30,68.90 L505.30,68.90 505.80,68.90 L505.80,68.90 506.30,68.90 L506.30,68.90 506.80,68.90 L506.80,68.90 507.30,68.90 L507.30,68.90 507.80,68.90 L507.80,68.90 508.30,68.90 L508.30,68.90 508.80,68.90 L508.80,68.90 509.30,68.90 L509.30,68.90 509.80,68.90 L509.80,68.90 510.30,68.90 L510.30,68.90 510.80,68.90 L510.80,68.90 511.30,68.90 L511.30,68.90 511.80,68.90 L511.80,68.90 512.30,68.90 L512.30,68.90 512.80,68.90 L512.80,68.90 513.30,68.90 L513.30,68.90 513.80,68.90 L513.80,68.90 514.30,68.90 L514.30,68.90 514.80,68.90 L514.80,68.90 515.30,68.90 L515.30,68.90 515.80,68.90 L515.80,68.90 516.30,68.90 L516.30,68.90 516.80,68.90 L516.80,68.90 517.30,68.90 L517.30,68.90 517.80,68.90 L517.80,68.90 518.30,68.90 L518.30,68.90 518.80,68.90 L518.80,68.90 519.30,68.90 L519.30,68.90 519.80,68.90 L519.80,68.90 520.30,68.90 L520.30,68.90 520.80,68.90 L520.80,68.90 521.30,68.90 L521.30,68.90 521.70,68.90 L521.7,69.90 Z" fill="#1f9152"/>
<path d="M393.8,101.95 L393.80,100.95 394.30,100.95 L394.30,100.95 394.80,100.95 L394.80,100.95 395.30,100.95 L395.30,100.95 395.80,100.95 L395.80,100.95 396.30,100.95 L396.30,100.95 396.80,100.95 L396.80,100.95 397.30,100.95 L397.30,100.95 397.80,100.95 L397.80,100.95 398.30,100.95 L398.30,100.95 398.80,100.95 L398.80,100.95 399.30,100.95 L399.30,100.95 399.80,100.95 L399.80,100.95 400.30,100.95 L400.30,100.95 400.80,100.95 L400.80,100.95 401.30,100.95 L401.30,100.95 401.80,100.95 L401.80,100.95 402.30,100.95 L402.30,100.95 402.80,100.95 L402.80,100.95 403.30,100.95 L403.30,100.95 403.80,100.95 L403.80,100.95 404.30,100.95 L404.30,100.95 404.80,100.95 L404.80,100.95 405.30,100.95 L405.30,100.95 405.80,100.95 L405.80,100.95 406.30,100.95 L406.30,100.95 406.80,100.95 L406.80,100.95 407.30,100.95 L407.30,100.95 407.80,100.95 L407.80,100.95 408.30,100.95 L408.30,100.95 408.80,100.95 L408.80,100.95 409.30,100.95 L409.30,100.95 409.80,100.95 L409.80,100.95 410.30,100.95 L410.30,100.95 410.80,100.95 L410.80,100.95 411.30,100.95 L411.30,100.95 411.80,100.95 L411.80,100.95 412.30,100.95 L412.30,100.95 412.80,100.95 L412.80,100.95 413.30,100.95 L413.30,100.95 413.80,100.95 L413.80,100.95 414.30,100.95 L414.30,100.95 414.80,100.95 L414.80,100.95 415.30,100.95 L415.30,100.95 415.80,100.95 L415.80,100.95 416.30,100.95 L416.30,100.95 416.80,100.95 L416.80,100.95 417.30,100.95 L417.30,100.95 417.80,100.95 L417.80,100.95 418.30,100.95 L418.30,100.95 418.80,100.95 L418.80,100.95 419.30,100.95 L419.30,100.95 419.80,100.95 L419.80,100.95 420.30,100.95 L420.30,100.95 420.80,100.95 L420.80,100.95 421.30,100.95 L421.30,100.95 421.80,100.95 L421.80,100.95 422.30,100.95 L422.30,100.95 422.80,100.95 L422.80,100.95 423.30,100.95 L423.30,100.95 423.80,100.95 L423.80,100.95 424.30,100.95 L424.30,100.95 424.80,100.95 L424.80,100.95 425.30,100.95 L425.30,100.95 425.80,100.95 L425.80,100.95 426.30,100.95 L426.30,100.95 426.80,100.95 L426.80,100.95 427.30,100.95 L427.30,100.95 427.80,100.95 L427.80,100.95 428.30,100.95 L428.30,100.95 428.80,100.95 L428.80,100.95 429.30,100.95 L429.30,100.95 429.80,100.95 L429.80,100.95 430.30,100.95 L430.30,100.95 430.80,100.95 L430.80,100.95 431.30,100.95 L431.30,100.95 431.80,100.95 L431.80,100.95 432.30,100.95 L432.30,100.95 432.80,100.95 L432.80,100.95 433.30,100.95 L433.30,100.95 433.80,100.95 L433.80,100.95 434.30,100.95 L434.30,100.95 434.80,100.95 L434.80,100.95 435.30,100.95 L435.30,100.95 435.80,100.95 L435.80,100.95 436.30,100.95 L436.30,100.95 436.80,100.95 L436.80,100.95 437.30,100.95 L437.30,100.95 437.80,100.95 L437.80,100.95 438.30,100.95 L438.30,100.95 438.80,100.95 L438.80,100.95 439.30,100.95 L439.30,100.95 439.80,100.95 L439.80,100.95 440.30,100.95 L440.30,100.95 440.80,100.95 L440.80,100.95 441.30,100.95 L441.30,100.95 441.80,100.95 L441.80,100.95 442.30,100.95 L442.30,100.95 442.80,100.95 L442.80,100.95 443.30,100.95 L443.30,100.95 443.80,100.95 L443.80,100.95 444.30,100.95 L444.30,100.95 444.80,100.95 L444.80,100.95 445.30,100.95 L445.30,100.95 445.80,100.95 L445.80,100.95 446.30,100.95 L446.30,100.95 446.80,100.95 L446.80,100.95 447.30,100.95 L447.30,100.95 447.80,100.95 L447.80,100.95 448.30,100.95 L448.30,100.95 448.80,100.95 L448.80,100.95 449.30,100.95 L449.30,100.95 449.80,100.95 L449.80,100.95 450.30,100.95 L450.30,100.95 450.80,100.95 L450.80,100.95 451.30,100.95 L451.30,100.95 451.80,100.95 L451.80,100.95 452.30,100.95 L452.30,100.95 452.80,100.95 L452.80,100.95 453.30,100.95 L453.30,100.95 453.80,100.95 L453.80,100.95 454.30,100.95 L454.30,100.95 454.80,100.95 L454.80,100.95 455.30,100.95 L455.30,100.95 455.80,100.95 L455.80,100.95 456.30,100.95 L456.30,100.95 456.80,100.95 L456.80,100.95 457.30,100.95 L457.30,100.95 457.80,100.95 L457.80,100.95 458.30,100.95 L458.30,100.95 458.80,100.95 L458.80,100.95 459.30,100.95 L459.30,100.95 459.80,100.95 L459.80,100.95 460.30,100.95 L460.30,100.95 460.80,100.95 L460.80,100.95 461.30,100.95 L461.30,100.95 461.80,100.95 L461.80,100.95 462.30,100.95 L462.30,100.95 462.80,100.95 L462.80,100.64 463.30,100.64 L463.30,99.02 463.80,99.02 L463.80,97.00 464.30,97.00 L464.30,95.59 464.80,95.59 L464.80,95.77 465.30,95.77 L465.30,97.39 465.80,97.39 L465.80,99.40 466.30,99.40 L466.30,100.87 466.80,100.87 L466.80,100.95 467.30,100.95 L467.30,100.95 467.80,100.95 L467.80,100.95 468.30,100.95 L468.30,100.95 468.80,100.95 L468.80,100.95 469.30,100.95 L469.30,100.95 469.80,100.95 L469.80,100.95 470.30,100.95 L470.30,100.95 470.80,100.95 L470.80,100.95 471.30,100.95 L471.30,100.95 471.80,100.95 L471.80,100.95 472.30,100.95 L472.30,100.95 472.80,100.95 L472.80,100.95 473.30,100.95 L473.30,100.95 473.80,100.95 L473.80,100.95 474.30,100.95 L474.30,100.95 474.80,100.95 L474.80,100.95 475.30,100.95 L475.30,100.95 475.80,100.95 L475.80,100.95 476.30,100.95 L476.30,100.95 476.80,100.95 L476.80,100.95 477.30,100.95 L477.30,100.95 477.80,100.95 L477.80,100.95 478.30,100.95 L478.30,100.95 478.80,100.95 L478.80,100.95 479.30,100.95 L479.30,100.95 479.80,100.95 L479.80,100.95 480.30,100.95 L480.30,100.95 480.80,100.95 L480.80,100.95 481.30,100.95 L481.30,100.95 481.80,100.95 L481.80,100.95 482.30,100.95 L482.30,100.95 482.80,100.95 L482.80,100.95 483.30,100.95 L483.30,100.95 483.80,100.95 L483.80,100.95 484.30,100.95 L484.30,100.95 484.80,100.95 L484.80,100.95 485.30,100.95 L485.30,100.95 485.80,100.95 L485.80,100.95 486.30,100.95 L486.30,100.95 486.80,100.95 L486.80,100.95 487.30,100.95 L487.30,100.95 487.80,100.95 L487.80,100.95 488.30,100.95 L488.30,100.95 488.80,100.95 L488.80,100.95 489.30,100.95 L489.30,100.95 489.80,100.95 L489.80,100.95 490.30,100.95 L490.30,100.95 490.80,100.95 L490.80,100.95 491.30,100.95 L491.30,100.95 491.80,100.95 L491.80,100.95 492.30,100.95 L492.30,100.95 492.80,100.95 L492.80,100.95 493.30,100.95 L493.30,100.95 493.80,100.95 L493.80,100.95 494.30,100.95 L494.30,100.95 494.80,100.95 L494.80,100.95 495.30,100.95 L495.30,100.95 495.80,100.95 L495.80,100.95 496.30,100.95 L496.30,100.95 496.80,100.95 L496.80,100.95 497.30,100.95 L497.30,100.95 497.80,100.95 L497.80,100.95 498.30,100.95 L498.30,100.95 498.80,100.95 L498.80,100.95 499.30,100.95 L499.30,100.95 499.80,100.95 L499.80,100.64 500.30,100.64 L500.30,99.40 500.80,99.40 L500.80,98.98 501.30,98.98 L501.30,99.87 501.80,99.87 L501.80,100.95 502.30,100.95 L502.30,100.95 502.80,100.95 L502.80,100.95 503.30,100.95 L503.30,100.95 503.80,100.95 L503.80,100.95 504.30,100.95 L504.30,100.95 504.80,100.95 L504.80,100.95 505.30,100.95 L505.30,100.95 505.80,100.95 L505.80,100.95 506.30,100.95 L506.30,100.95 506.80,100.95 L506.80,100.95 507.30,100.95 L507.30,100.95 507.80,100.95 L507.80,100.95 508.30,100.95 L508.30,100.95 508.80,100.95 L508.80,100.95 509.30,100.95 L509.30,100.95 509.80,100.95 L509.80,100.95 510.30,100.95 L510.30,100.95 510.80,100.95 L510.80,100.95 511.30,100.95 L511.30,100.95 511.80,100.95 L511.80,100.95 512.30,100.95 L512.30,100.95 512.80,100.95 L512.80,100.95 513.30,100.95 L513.30,100.95 513.80,100.95 L513.80,100.95 514.30,100.95 L514.30,100.95 514.80,100.95 L514.80,100.95 515.30,100.95 L515.30,100.95 515.80,100.95 L515.80,100.95 516.30,100.95 L516.30,100.95 516.80,100.95 L516.80,100.95 517.30,100.95 L517.30,100.95 517.80,100.95 L517.80,100.95 518.30,100.95 L518.30,100.95 518.80,100.95 L518.80,100.95 519.30,100.95 L519.30,100.95 519.80,100.95 L519.80,100.95 520.30,100.95 L520.30,100.95 520.80,100.95 L520.80,100.95 521.30,100.95 L521.30,100.95 521.70,100.95 L521.7,101.95 Z" fill="#2cb85c"/>
<line x1="393.8" y1="103.6" x2="521.7" y2="103.6" stroke="#ababab" stroke-width="1.0"/>
<line x1="393.8" y1="106.5" x2="521.7" y2="106.5" stroke="#929292" stroke-width="1.0"/>
<text x="520.2" y="47.0" font-size="6.2" font-weight="normal" fill="#858585" text-anchor="end">-89-5990</text>
<text x="520.2" y="76.3" font-size="6.2" font-weight="normal" fill="#858585" text-anchor="end">-89-5990</text>
<line x1="528" y1="39.1" x2="654" y2="39.1" stroke="#d4d4d4" stroke-width="1.5"/>
<rect x="587.5" y="39.800000000000004" width="33.200000000000045" height="67.0" fill="#e8e8e8"/>
<path d="M528.0,69.90 L528.00,68.90 528.50,68.90 L528.50,68.90 529.00,68.90 L529.00,68.90 529.50,68.90 L529.50,68.90 530.00,68.90 L530.00,68.90 530.50,68.90 L530.50,68.90 531.00,68.90 L531.00,68.90 531.50,68.90 L531.50,68.90 532.00,68.90 L532.00,68.90 532.50,68.90 L532.50,68.90 533.00,68.90 L533.00,68.90 533.50,68.90 L533.50,68.90 534.00,68.90 L534.00,68.90 534.50,68.90 L534.50,68.90 535.00,68.90 L535.00,68.90 535.50,68.90 L535.50,68.90 536.00,68.90 L536.00,68.90 536.50,68.90 L536.50,68.90 537.00,68.90 L537.00,68.90 537.50,68.90 L537.50,68.90 538.00,68.90 L538.00,68.90 538.50,68.90 L538.50,68.90 539.00,68.90 L539.00,68.90 539.50,68.90 L539.50,68.90 540.00,68.90 L540.00,68.90 540.50,68.90 L540.50,68.90 541.00,68.90 L541.00,68.90 541.50,68.90 L541.50,68.90 542.00,68.90 L542.00,68.90 542.50,68.90 L542.50,68.90 543.00,68.90 L543.00,68.90 543.50,68.90 L543.50,68.90 544.00,68.90 L544.00,68.90 544.50,68.90 L544.50,68.90 545.00,68.90 L545.00,68.90 545.50,68.90 L545.50,68.90 546.00,68.90 L546.00,68.90 546.50,68.90 L546.50,68.90 547.00,68.90 L547.00,68.90 547.50,68.90 L547.50,68.90 548.00,68.90 L548.00,68.90 548.50,68.90 L548.50,68.90 549.00,68.90 L549.00,68.90 549.50,68.90 L549.50,68.90 550.00,68.90 L550.00,68.90 550.50,68.90 L550.50,68.90 551.00,68.90 L551.00,68.90 551.50,68.90 L551.50,68.90 552.00,68.90 L552.00,68.90 552.50,68.90 L552.50,68.90 553.00,68.90 L553.00,68.90 553.50,68.90 L553.50,68.90 554.00,68.90 L554.00,68.90 554.50,68.90 L554.50,68.90 555.00,68.90 L555.00,68.90 555.50,68.90 L555.50,68.90 556.00,68.90 L556.00,68.90 556.50,68.90 L556.50,68.90 557.00,68.90 L557.00,68.90 557.50,68.90 L557.50,68.90 558.00,68.90 L558.00,68.90 558.50,68.90 L558.50,68.90 559.00,68.90 L559.00,68.90 559.50,68.90 L559.50,68.90 560.00,68.90 L560.00,68.90 560.50,68.90 L560.50,68.90 561.00,68.90 L561.00,68.90 561.50,68.90 L561.50,68.90 562.00,68.90 L562.00,68.90 562.50,68.90 L562.50,68.90 563.00,68.90 L563.00,68.90 563.50,68.90 L563.50,68.90 564.00,68.90 L564.00,68.90 564.50,68.90 L564.50,68.90 565.00,68.90 L565.00,68.90 565.50,68.90 L565.50,68.90 566.00,68.90 L566.00,68.90 566.50,68.90 L566.50,68.90 567.00,68.90 L567.00,68.90 567.50,68.90 L567.50,68.90 568.00,68.90 L568.00,68.90 568.50,68.90 L568.50,68.90 569.00,68.90 L569.00,68.90 569.50,68.90 L569.50,68.90 570.00,68.90 L570.00,68.90 570.50,68.90 L570.50,68.90 571.00,68.90 L571.00,68.90 571.50,68.90 L571.50,68.90 572.00,68.90 L572.00,68.90 572.50,68.90 L572.50,68.90 573.00,68.90 L573.00,68.90 573.50,68.90 L573.50,68.90 574.00,68.90 L574.00,68.90 574.50,68.90 L574.50,68.90 575.00,68.90 L575.00,68.90 575.50,68.90 L575.50,68.90 576.00,68.90 L576.00,68.90 576.50,68.90 L576.50,68.90 577.00,68.90 L577.00,68.90 577.50,68.90 L577.50,68.90 578.00,68.90 L578.00,68.90 578.50,68.90 L578.50,68.90 579.00,68.90 L579.00,68.90 579.50,68.90 L579.50,68.90 580.00,68.90 L580.00,68.90 580.50,68.90 L580.50,68.90 581.00,68.90 L581.00,68.90 581.50,68.90 L581.50,68.90 582.00,68.90 L582.00,68.90 582.50,68.90 L582.50,68.90 583.00,68.90 L583.00,68.90 583.50,68.90 L583.50,68.90 584.00,68.90 L584.00,68.90 584.50,68.90 L584.50,68.90 585.00,68.90 L585.00,68.90 585.50,68.90 L585.50,68.90 586.00,68.90 L586.00,68.90 586.50,68.90 L586.50,68.90 587.00,68.90 L587.00,68.90 587.50,68.90 L587.50,68.90 588.00,68.90 L588.00,68.90 588.50,68.90 L588.50,68.90 589.00,68.90 L589.00,68.90 589.50,68.90 L589.50,68.90 590.00,68.90 L590.00,68.90 590.50,68.90 L590.50,68.90 591.00,68.90 L591.00,66.67 591.50,66.67 L591.50,64.26 592.00,64.26 L592.00,62.25 592.50,62.25 L592.50,60.27 593.00,60.27 L593.00,59.79 593.50,59.79 L593.50,58.73 594.00,58.73 L594.00,58.96 594.50,58.96 L594.50,60.41 595.00,60.41 L595.00,62.49 595.50,62.49 L595.50,64.64 596.00,64.64 L596.00,66.33 596.50,66.33 L596.50,66.11 597.00,66.11 L597.00,66.27 597.50,66.27 L597.50,65.15 598.00,65.15 L598.00,64.41 598.50,64.41 L598.50,63.17 599.00,63.17 L599.00,62.83 599.50,62.83 L599.50,63.65 600.00,63.65 L600.00,63.89 600.50,63.89 L600.50,64.09 601.00,64.09 L601.00,65.10 601.50,65.10 L601.50,64.37 602.00,64.37 L602.00,64.37 602.50,64.37 L602.50,63.62 603.00,63.62 L603.00,61.16 603.50,61.16 L603.50,60.75 604.00,60.75 L604.00,59.67 604.50,59.67 L604.50,57.07 605.00,57.07 L605.00,60.65 605.50,60.65 L605.50,61.53 606.00,61.53 L606.00,62.87 606.50,62.87 L606.50,63.05 607.00,63.05 L607.00,62.33 607.50,62.33 L607.50,60.29 608.00,60.29 L608.00,56.21 608.50,56.21 L608.50,49.10 609.00,49.10 L609.00,48.96 609.50,48.96 L609.50,48.33 610.00,48.33 L610.00,49.43 610.50,49.43 L610.50,50.66 611.00,50.66 L611.00,53.26 611.50,53.26 L611.50,54.67 612.00,54.67 L612.00,58.62 612.50,58.62 L612.50,58.92 613.00,58.92 L613.00,60.44 613.50,60.44 L613.50,62.12 614.00,62.12 L614.00,63.73 614.50,63.73 L614.50,66.00 615.00,66.00 L615.00,66.97 615.50,66.97 L615.50,67.90 616.00,67.90 L616.00,68.90 616.50,68.90 L616.50,68.90 617.00,68.90 L617.00,68.90 617.50,68.90 L617.50,68.90 618.00,68.90 L618.00,68.90 618.50,68.90 L618.50,68.90 619.00,68.90 L619.00,68.90 619.50,68.90 L619.50,68.90 620.00,68.90 L620.00,68.90 620.50,68.90 L620.50,68.90 621.00,68.90 L621.00,68.90 621.50,68.90 L621.50,68.90 622.00,68.90 L622.00,68.90 622.50,68.90 L622.50,68.90 623.00,68.90 L623.00,68.90 623.50,68.90 L623.50,68.90 624.00,68.90 L624.00,68.90 624.50,68.90 L624.50,68.90 625.00,68.90 L625.00,68.90 625.50,68.90 L625.50,68.90 626.00,68.90 L626.00,68.90 626.50,68.90 L626.50,68.90 627.00,68.90 L627.00,68.90 627.50,68.90 L627.50,68.90 628.00,68.90 L628.00,68.90 628.50,68.90 L628.50,68.90 629.00,68.90 L629.00,68.90 629.50,68.90 L629.50,68.90 630.00,68.90 L630.00,68.90 630.50,68.90 L630.50,68.90 631.00,68.90 L631.00,68.90 631.50,68.90 L631.50,68.90 632.00,68.90 L632.00,68.90 632.50,68.90 L632.50,68.90 633.00,68.90 L633.00,68.90 633.50,68.90 L633.50,68.90 634.00,68.90 L634.00,68.90 634.50,68.90 L634.50,68.90 635.00,68.90 L635.00,68.90 635.50,68.90 L635.50,68.90 636.00,68.90 L636.00,68.90 636.50,68.90 L636.50,68.90 637.00,68.90 L637.00,68.90 637.50,68.90 L637.50,68.90 638.00,68.90 L638.00,68.90 638.50,68.90 L638.50,68.90 639.00,68.90 L639.00,68.90 639.50,68.90 L639.50,68.90 640.00,68.90 L640.00,68.90 640.50,68.90 L640.50,68.90 641.00,68.90 L641.00,68.90 641.50,68.90 L641.50,68.90 642.00,68.90 L642.00,68.90 642.50,68.90 L642.50,68.90 643.00,68.90 L643.00,68.90 643.50,68.90 L643.50,68.90 644.00,68.90 L644.00,68.90 644.50,68.90 L644.50,68.90 645.00,68.90 L645.00,68.90 645.50,68.90 L645.50,68.90 646.00,68.90 L646.00,68.90 646.50,68.90 L646.50,68.90 647.00,68.90 L647.00,68.90 647.50,68.90 L647.50,68.23 648.00,68.23 L648.00,67.59 648.50,67.59 L648.50,67.41 649.00,67.41 L649.00,67.81 649.50,67.81 L649.50,68.53 650.00,68.53 L650.00,68.90 650.50,68.90 L650.50,68.90 651.00,68.90 L651.00,68.90 651.50,68.90 L651.50,68.90 652.00,68.90 L652.00,68.90 652.50,68.90 L652.50,68.90 653.00,68.90 L653.00,68.90 653.50,68.90 L653.50,68.90 654.00,68.90 L654.00,68.90 654.00,68.90 L654.0,69.90 Z" fill="#1f9152"/>
<path d="M528.0,101.95 L528.00,100.95 528.50,100.95 L528.50,100.95 529.00,100.95 L529.00,100.95 529.50,100.95 L529.50,100.95 530.00,100.95 L530.00,100.95 530.50,100.95 L530.50,100.95 531.00,100.95 L531.00,100.95 531.50,100.95 L531.50,100.95 532.00,100.95 L532.00,100.95 532.50,100.95 L532.50,100.95 533.00,100.95 L533.00,100.95 533.50,100.95 L533.50,100.95 534.00,100.95 L534.00,100.95 534.50,100.95 L534.50,100.95 535.00,100.95 L535.00,100.95 535.50,100.95 L535.50,100.95 536.00,100.95 L536.00,100.95 536.50,100.95 L536.50,100.95 537.00,100.95 L537.00,100.95 537.50,100.95 L537.50,100.95 538.00,100.95 L538.00,100.95 538.50,100.95 L538.50,100.95 539.00,100.95 L539.00,100.95 539.50,100.95 L539.50,100.95 540.00,100.95 L540.00,100.95 540.50,100.95 L540.50,100.95 541.00,100.95 L541.00,100.95 541.50,100.95 L541.50,100.95 542.00,100.95 L542.00,100.95 542.50,100.95 L542.50,100.95 543.00,100.95 L543.00,100.95 543.50,100.95 L543.50,100.95 544.00,100.95 L544.00,100.95 544.50,100.95 L544.50,100.95 545.00,100.95 L545.00,100.95 545.50,100.95 L545.50,100.95 546.00,100.95 L546.00,100.95 546.50,100.95 L546.50,100.95 547.00,100.95 L547.00,100.95 547.50,100.95 L547.50,100.95 548.00,100.95 L548.00,100.95 548.50,100.95 L548.50,100.95 549.00,100.95 L549.00,100.95 549.50,100.95 L549.50,100.95 550.00,100.95 L550.00,100.95 550.50,100.95 L550.50,100.95 551.00,100.95 L551.00,100.95 551.50,100.95 L551.50,100.95 552.00,100.95 L552.00,100.95 552.50,100.95 L552.50,100.95 553.00,100.95 L553.00,100.95 553.50,100.95 L553.50,100.95 554.00,100.95 L554.00,100.95 554.50,100.95 L554.50,100.95 555.00,100.95 L555.00,100.95 555.50,100.95 L555.50,100.95 556.00,100.95 L556.00,100.95 556.50,100.95 L556.50,100.95 557.00,100.95 L557.00,100.95 557.50,100.95 L557.50,100.95 558.00,100.95 L558.00,100.95 558.50,100.95 L558.50,100.95 559.00,100.95 L559.00,100.95 559.50,100.95 L559.50,100.95 560.00,100.95 L560.00,100.95 560.50,100.95 L560.50,100.95 561.00,100.95 L561.00,100.95 561.50,100.95 L561.50,100.95 562.00,100.95 L562.00,100.95 562.50,100.95 L562.50,100.95 563.00,100.95 L563.00,100.95 563.50,100.95 L563.50,100.95 564.00,100.95 L564.00,100.95 564.50,100.95 L564.50,100.95 565.00,100.95 L565.00,100.95 565.50,100.95 L565.50,100.95 566.00,100.95 L566.00,100.95 566.50,100.95 L566.50,100.95 567.00,100.95 L567.00,100.95 567.50,100.95 L567.50,100.95 568.00,100.95 L568.00,100.95 568.50,100.95 L568.50,100.95 569.00,100.95 L569.00,100.95 569.50,100.95 L569.50,100.95 570.00,100.95 L570.00,100.95 570.50,100.95 L570.50,100.95 571.00,100.95 L571.00,100.95 571.50,100.95 L571.50,100.95 572.00,100.95 L572.00,100.95 572.50,100.95 L572.50,100.95 573.00,100.95 L573.00,100.95 573.50,100.95 L573.50,100.95 574.00,100.95 L574.00,100.95 574.50,100.95 L574.50,100.95 575.00,100.95 L575.00,100.95 575.50,100.95 L575.50,100.95 576.00,100.95 L576.00,100.95 576.50,100.95 L576.50,100.95 577.00,100.95 L577.00,100.95 577.50,100.95 L577.50,100.95 578.00,100.95 L578.00,100.95 578.50,100.95 L578.50,100.95 579.00,100.95 L579.00,100.95 579.50,100.95 L579.50,100.95 580.00,100.95 L580.00,100.95 580.50,100.95 L580.50,100.95 581.00,100.95 L581.00,100.95 581.50,100.95 L581.50,100.95 582.00,100.95 L582.00,100.95 582.50,100.95 L582.50,100.95 583.00,100.95 L583.00,100.95 583.50,100.95 L583.50,100.95 584.00,100.95 L584.00,100.95 584.50,100.95 L584.50,100.95 585.00,100.95 L585.00,100.95 585.50,100.95 L585.50,100.95 586.00,100.95 L586.00,100.95 586.50,100.95 L586.50,100.95 587.00,100.95 L587.00,100.95 587.50,100.95 L587.50,100.95 588.00,100.95 L588.00,100.95 588.50,100.95 L588.50,100.95 589.00,100.95 L589.00,100.95 589.50,100.95 L589.50,100.95 590.00,100.95 L590.00,100.95 590.50,100.95 L590.50,100.95 591.00,100.95 L591.00,100.20 591.50,100.20 L591.50,99.10 592.00,99.10 L592.00,97.72 592.50,97.72 L592.50,96.31 593.00,96.31 L593.00,93.74 593.50,93.74 L593.50,93.85 594.00,93.85 L594.00,93.46 594.50,93.46 L594.50,95.90 595.00,95.90 L595.00,95.85 595.50,95.85 L595.50,97.06 596.00,97.06 L596.00,97.78 596.50,97.78 L596.50,98.67 597.00,98.67 L597.00,98.92 597.50,98.92 L597.50,99.32 598.00,99.32 L598.00,99.65 598.50,99.65 L598.50,99.70 599.00,99.70 L599.00,99.25 599.50,99.25 L599.50,99.88 600.00,99.88 L600.00,100.54 600.50,100.54 L600.50,100.28 601.00,100.28 L601.00,99.96 601.50,99.96 L601.50,99.56 602.00,99.56 L602.00,99.64 602.50,99.64 L602.50,99.76 603.00,99.76 L603.00,100.32 603.50,100.32 L603.50,99.81 604.00,99.81 L604.00,98.87 604.50,98.87 L604.50,99.03 605.00,99.03 L605.00,98.83 605.50,98.83 L605.50,99.43 606.00,99.43 L606.00,99.47 606.50,99.47 L606.50,98.90 607.00,98.90 L607.00,98.36 607.50,98.36 L607.50,97.28 608.00,97.28 L608.00,96.02 608.50,96.02 L608.50,96.40 609.00,96.40 L609.00,96.18 609.50,96.18 L609.50,96.47 610.00,96.47 L610.00,96.88 610.50,96.88 L610.50,96.76 611.00,96.76 L611.00,97.26 611.50,97.26 L611.50,97.50 612.00,97.50 L612.00,97.57 612.50,97.57 L612.50,98.37 613.00,98.37 L613.00,98.62 613.50,98.62 L613.50,98.50 614.00,98.50 L614.00,98.59 614.50,98.59 L614.50,98.34 615.00,98.34 L615.00,98.32 615.50,98.32 L615.50,99.00 616.00,99.00 L616.00,98.94 616.50,98.94 L616.50,99.36 617.00,99.36 L617.00,99.95 617.50,99.95 L617.50,100.87 618.00,100.87 L618.00,100.95 618.50,100.95 L618.50,100.95 619.00,100.95 L619.00,100.95 619.50,100.95 L619.50,100.95 620.00,100.95 L620.00,100.95 620.50,100.95 L620.50,100.95 621.00,100.95 L621.00,100.95 621.50,100.95 L621.50,100.95 622.00,100.95 L622.00,100.95 622.50,100.95 L622.50,100.95 623.00,100.95 L623.00,100.95 623.50,100.95 L623.50,100.95 624.00,100.95 L624.00,100.95 624.50,100.95 L624.50,100.95 625.00,100.95 L625.00,100.95 625.50,100.95 L625.50,100.95 626.00,100.95 L626.00,100.95 626.50,100.95 L626.50,100.95 627.00,100.95 L627.00,100.95 627.50,100.95 L627.50,100.95 628.00,100.95 L628.00,100.95 628.50,100.95 L628.50,100.95 629.00,100.95 L629.00,100.95 629.50,100.95 L629.50,100.95 630.00,100.95 L630.00,100.95 630.50,100.95 L630.50,100.95 631.00,100.95 L631.00,100.95 631.50,100.95 L631.50,100.95 632.00,100.95 L632.00,100.95 632.50,100.95 L632.50,100.95 633.00,100.95 L633.00,100.95 633.50,100.95 L633.50,100.95 634.00,100.95 L634.00,100.95 634.50,100.95 L634.50,100.95 635.00,100.95 L635.00,100.95 635.50,100.95 L635.50,100.95 636.00,100.95 L636.00,100.95 636.50,100.95 L636.50,100.95 637.00,100.95 L637.00,100.95 637.50,100.95 L637.50,100.95 638.00,100.95 L638.00,100.95 638.50,100.95 L638.50,100.95 639.00,100.95 L639.00,100.95 639.50,100.95 L639.50,100.95 640.00,100.95 L640.00,100.95 640.50,100.95 L640.50,100.95 641.00,100.95 L641.00,100.95 641.50,100.95 L641.50,100.95 642.00,100.95 L642.00,100.95 642.50,100.95 L642.50,100.95 643.00,100.95 L643.00,100.95 643.50,100.95 L643.50,100.95 644.00,100.95 L644.00,100.89 644.50,100.89 L644.50,100.57 645.00,100.57 L645.00,100.45 645.50,100.45 L645.50,100.57 646.00,100.57 L646.00,100.89 646.50,100.89 L646.50,100.95 647.00,100.95 L647.00,100.95 647.50,100.95 L647.50,100.95 648.00,100.95 L648.00,100.95 648.50,100.95 L648.50,100.95 649.00,100.95 L649.00,100.95 649.50,100.95 L649.50,100.95 650.00,100.95 L650.00,100.95 650.50,100.95 L650.50,100.95 651.00,100.95 L651.00,100.95 651.50,100.95 L651.50,100.95 652.00,100.95 L652.00,100.95 652.50,100.95 L652.50,100.95 653.00,100.95 L653.00,100.95 653.50,100.95 L653.50,100.95 654.00,100.95 L654.00,100.95 654.00,100.95 L654.0,101.95 Z" fill="#2cb85c"/>
<line x1="528" y1="103.6" x2="654" y2="103.6" stroke="#ababab" stroke-width="1.0"/>
<line x1="528" y1="106.5" x2="654" y2="106.5" stroke="#929292" stroke-width="1.0"/>
<text x="652.5" y="47.0" font-size="6.2" font-weight="normal" fill="#858585" text-anchor="end">-116-2000</text>
<text x="652.5" y="76.3" font-size="6.2" font-weight="normal" fill="#858585" text-anchor="end">-116-2000</text>
<line x1="273" y1="115.4" x2="344" y2="115.4" stroke="#000" stroke-width="0.8"/>
<path d="M283.2,113.60000000000001 L281.4,115.4 L283.2,117.2" fill="none" stroke="#000" stroke-width="0.6"/>
<path d="M299.2,113.60000000000001 L297.4,115.4 L299.2,117.2" fill="none" stroke="#000" stroke-width="0.6"/>
<path d="M315.2,113.60000000000001 L313.4,115.4 L315.2,117.2" fill="none" stroke="#000" stroke-width="0.6"/>
<path d="M331.2,113.60000000000001 L329.4,115.4 L331.2,117.2" fill="none" stroke="#000" stroke-width="0.6"/>
<rect x="262.9" y="112.9" width="10.200000000000045" height="5" fill="#000"/>
<rect x="265.3" y="110.55000000000001" width="7.800000000000011" height="9.7" fill="#000"/>
<rect x="343.6" y="111.4" width="1.0" height="8" fill="#000"/>
<rect x="358.4" y="110.80000000000001" width="5.5" height="9.2" fill="#000"/>
<rect x="363.9" y="113.0" width="4.600000000000023" height="4.8" fill="#000"/>
<rect x="369" y="110.60000000000001" width="1" height="9.6" fill="#000"/>
<rect x="370.8" y="110.80000000000001" width="9.099999999999966" height="9.2" fill="#000"/>
<text x="300.7" y="129.7" font-size="8.6" font-weight="bold" fill="#1a1a1a" text-anchor="start" font-style="italic" textLength="15.7" lengthAdjust="spacingAndGlyphs" stroke="#1a1a1a" stroke-width="0.18">erm</text>
<line x1="416" y1="115.2" x2="491" y2="115.2" stroke="#000" stroke-width="0.8"/>
<path d="M424.7,113.4 L422.9,115.2 L424.7,117.0" fill="none" stroke="#000" stroke-width="0.6"/>
<path d="M440.2,113.4 L438.4,115.2 L440.2,117.0" fill="none" stroke="#000" stroke-width="0.6"/>
<path d="M451.2,113.4 L449.4,115.2 L451.2,117.0" fill="none" stroke="#000" stroke-width="0.6"/>
<path d="M464.5,113.4 L462.7,115.2 L464.5,117.0" fill="none" stroke="#000" stroke-width="0.6"/>
<path d="M475.9,113.4 L474.09999999999997,115.2 L475.9,117.0" fill="none" stroke="#000" stroke-width="0.6"/>
<path d="M486.2,113.4 L484.4,115.2 L486.2,117.0" fill="none" stroke="#000" stroke-width="0.6"/>
<rect x="408.7" y="112.2" width="1.900000000000034" height="6" fill="#000"/>
<rect x="410.6" y="110.95" width="5.699999999999989" height="8.5" fill="#000"/>
<rect x="425" y="112.2" width="0.8000000000000114" height="6" fill="#000"/>
<rect x="431" y="112.2" width="0.8000000000000114" height="6" fill="#000"/>
<rect x="445.7" y="111.7" width="1.1999999999999886" height="7" fill="#000"/>
<rect x="455.2" y="111.7" width="1.1999999999999886" height="7" fill="#000"/>
<rect x="489.9" y="112.2" width="1.900000000000034" height="6" fill="#000"/>
<line x1="500" y1="111" x2="500" y2="119.5" stroke="#888" stroke-width="0.9"/>
<text x="451" y="129.4" font-size="9.0" font-weight="bold" fill="#1a1a1a" text-anchor="start" font-style="italic" textLength="16.7" lengthAdjust="spacingAndGlyphs" stroke="#1a1a1a" stroke-width="0.18">ham</text>
<line x1="586" y1="114.9" x2="608" y2="114.9" stroke="#000" stroke-width="0.8"/>
<line x1="641" y1="114.9" x2="654" y2="114.9" stroke="#000" stroke-width="0.8"/>
<rect x="528.2" y="112.05000000000001" width="3.699999999999932" height="5.7" fill="#000"/>
<rect x="532.5" y="112.05000000000001" width="47.0" height="5.7" fill="#000"/>
<rect x="579.3" y="110.15" width="7.100000000000023" height="9.5" fill="#000"/>
<rect x="598.3" y="110.9" width="0.8000000000000682" height="8" fill="#000"/>
<rect x="607.5" y="112.4" width="0.7999999999999545" height="5" fill="#000"/>
<rect x="633.8" y="110.15" width="7.2000000000000455" height="9.5" fill="#000"/>
<rect x="642" y="111.9" width="3.7000000000000455" height="6" fill="#000"/>
<rect x="653.2" y="112.4" width="0.7999999999999545" height="5" fill="#000"/>
<text x="577.6" y="129.6" font-size="9.0" font-weight="bold" fill="#1a1a1a" text-anchor="start" font-style="italic" textLength="16.6" lengthAdjust="spacingAndGlyphs" stroke="#1a1a1a" stroke-width="0.18">elav</text>
<line x1="226.6" y1="174.2" x2="226.6" y2="226.8" stroke="#333" stroke-width="1.3"/>
<text transform="translate(223.9,200.9) rotate(-90)" x="0" y="0" font-size="10.3" font-weight="bold" fill="#1a1a1a" text-anchor="middle" textLength="18.6" lengthAdjust="spacingAndGlyphs">GAF</text>
<text x="231.7" y="188.8" font-size="8.6" font-weight="bold" fill="#1f9152" text-anchor="start" textLength="42.2" lengthAdjust="spacingAndGlyphs" stroke="#1f9152" stroke-width="0.18">Interphase</text>
<text x="231.7" y="219.0" font-size="8.6" font-weight="bold" fill="#2cb85c" text-anchor="start" textLength="28.6" lengthAdjust="spacingAndGlyphs" stroke="#2cb85c" stroke-width="0.18">Mitosis</text>
<text x="260.5" y="165.7" font-size="9.2" font-weight="bold" fill="#1a1a1a" text-anchor="start" textLength="68.8" lengthAdjust="spacingAndGlyphs" stroke="#1a1a1a" stroke-width="0.18">Interphase only</text>
<text x="381.4" y="165.4" font-size="9.2" font-weight="bold" fill="#1a1a1a" text-anchor="start" textLength="53.5" lengthAdjust="spacingAndGlyphs" stroke="#1a1a1a" stroke-width="0.18">Mitosis only</text>
<line x1="256" y1="171.2" x2="339" y2="171.2" stroke="#d4d4d4" stroke-width="1.5"/>
<path d="M256.0,202.50 L256.00,201.50 256.50,201.50 L256.50,201.50 257.00,201.50 L257.00,201.50 257.50,201.50 L257.50,201.50 258.00,201.50 L258.00,201.50 258.50,201.50 L258.50,201.50 259.00,201.50 L259.00,201.50 259.50,201.50 L259.50,201.50 260.00,201.50 L260.00,201.50 260.50,201.50 L260.50,201.50 261.00,201.50 L261.00,201.50 261.50,201.50 L261.50,201.50 262.00,201.50 L262.00,201.50 262.50,201.50 L262.50,201.50 263.00,201.50 L263.00,201.50 263.50,201.50 L263.50,201.50 264.00,201.50 L264.00,201.50 264.50,201.50 L264.50,201.50 265.00,201.50 L265.00,201.50 265.50,201.50 L265.50,201.50 266.00,201.50 L266.00,201.50 266.50,201.50 L266.50,201.50 267.00,201.50 L267.00,201.50 267.50,201.50 L267.50,201.50 268.00,201.50 L268.00,201.50 268.50,201.50 L268.50,201.50 269.00,201.50 L269.00,201.50 269.50,201.50 L269.50,201.50 270.00,201.50 L270.00,201.50 270.50,201.50 L270.50,201.50 271.00,201.50 L271.00,201.50 271.50,201.50 L271.50,201.50 272.00,201.50 L272.00,201.50 272.50,201.50 L272.50,201.50 273.00,201.50 L273.00,201.50 273.50,201.50 L273.50,201.50 274.00,201.50 L274.00,201.50 274.50,201.50 L274.50,201.50 275.00,201.50 L275.00,201.50 275.50,201.50 L275.50,201.50 276.00,201.50 L276.00,201.50 276.50,201.50 L276.50,201.50 277.00,201.50 L277.00,201.50 277.50,201.50 L277.50,201.50 278.00,201.50 L278.00,201.50 278.50,201.50 L278.50,201.50 279.00,201.50 L279.00,201.50 279.50,201.50 L279.50,201.50 280.00,201.50 L280.00,201.50 280.50,201.50 L280.50,201.50 281.00,201.50 L281.00,201.50 281.50,201.50 L281.50,201.50 282.00,201.50 L282.00,201.50 282.50,201.50 L282.50,201.50 283.00,201.50 L283.00,201.50 283.50,201.50 L283.50,201.50 284.00,201.50 L284.00,201.50 284.50,201.50 L284.50,201.50 285.00,201.50 L285.00,201.50 285.50,201.50 L285.50,201.50 286.00,201.50 L286.00,201.50 286.50,201.50 L286.50,201.50 287.00,201.50 L287.00,201.50 287.50,201.50 L287.50,201.50 288.00,201.50 L288.00,201.50 288.50,201.50 L288.50,201.50 289.00,201.50 L289.00,201.50 289.50,201.50 L289.50,201.50 290.00,201.50 L290.00,201.50 290.50,201.50 L290.50,201.50 291.00,201.50 L291.00,201.50 291.50,201.50 L291.50,201.50 292.00,201.50 L292.00,201.50 292.50,201.50 L292.50,201.50 293.00,201.50 L293.00,201.50 293.50,201.50 L293.50,201.50 294.00,201.50 L294.00,201.50 294.50,201.50 L294.50,201.50 295.00,201.50 L295.00,201.50 295.50,201.50 L295.50,201.50 296.00,201.50 L296.00,201.50 296.50,201.50 L296.50,201.50 297.00,201.50 L297.00,201.50 297.50,201.50 L297.50,201.50 298.00,201.50 L298.00,201.50 298.50,201.50 L298.50,201.50 299.00,201.50 L299.00,201.50 299.50,201.50 L299.50,201.50 300.00,201.50 L300.00,201.50 300.50,201.50 L300.50,201.50 301.00,201.50 L301.00,201.50 301.50,201.50 L301.50,201.50 302.00,201.50 L302.00,201.50 302.50,201.50 L302.50,201.50 303.00,201.50 L303.00,201.50 303.50,201.50 L303.50,201.50 304.00,201.50 L304.00,201.12 304.50,201.12 L304.50,198.45 305.00,198.45 L305.00,193.27 305.50,193.27 L305.50,186.09 306.00,186.09 L306.00,179.79 306.50,179.79 L306.50,178.02 307.00,178.02 L307.00,181.95 307.50,181.95 L307.50,189.07 308.00,189.07 L308.00,194.87 308.50,194.87 L308.50,196.20 309.00,196.20 L309.00,198.02 309.50,198.02 L309.50,199.75 310.00,199.75 L310.00,201.04 310.50,201.04 L310.50,201.50 311.00,201.50 L311.00,201.50 311.50,201.50 L311.50,201.50 312.00,201.50 L312.00,201.50 312.50,201.50 L312.50,201.50 313.00,201.50 L313.00,201.50 313.50,201.50 L313.50,201.50 314.00,201.50 L314.00,201.50 314.50,201.50 L314.50,201.50 315.00,201.50 L315.00,201.50 315.50,201.50 L315.50,201.50 316.00,201.50 L316.00,201.50 316.50,201.50 L316.50,201.50 317.00,201.50 L317.00,201.50 317.50,201.50 L317.50,201.50 318.00,201.50 L318.00,201.50 318.50,201.50 L318.50,201.50 319.00,201.50 L319.00,201.50 319.50,201.50 L319.50,201.50 320.00,201.50 L320.00,201.50 320.50,201.50 L320.50,201.50 321.00,201.50 L321.00,201.50 321.50,201.50 L321.50,201.50 322.00,201.50 L322.00,201.50 322.50,201.50 L322.50,201.50 323.00,201.50 L323.00,201.50 323.50,201.50 L323.50,201.50 324.00,201.50 L324.00,201.50 324.50,201.50 L324.50,201.50 325.00,201.50 L325.00,201.50 325.50,201.50 L325.50,201.50 326.00,201.50 L326.00,201.50 326.50,201.50 L326.50,201.50 327.00,201.50 L327.00,201.50 327.50,201.50 L327.50,201.50 328.00,201.50 L328.00,201.50 328.50,201.50 L328.50,201.50 329.00,201.50 L329.00,201.50 329.50,201.50 L329.50,201.50 330.00,201.50 L330.00,201.50 330.50,201.50 L330.50,201.50 331.00,201.50 L331.00,201.50 331.50,201.50 L331.50,201.50 332.00,201.50 L332.00,201.50 332.50,201.50 L332.50,201.50 333.00,201.50 L333.00,201.50 333.50,201.50 L333.50,201.50 334.00,201.50 L334.00,201.50 334.50,201.50 L334.50,201.50 335.00,201.50 L335.00,201.50 335.50,201.50 L335.50,201.50 336.00,201.50 L336.00,201.50 336.50,201.50 L336.50,201.50 337.00,201.50 L337.00,201.50 337.50,201.50 L337.50,201.50 338.00,201.50 L338.00,201.50 338.50,201.50 L338.50,201.50 339.00,201.50 L339.00,201.50 339.00,201.50 L339.0,202.50 Z" fill="#1f9152"/>
<path d="M256.0,234.90 L256.00,233.90 256.50,233.90 L256.50,233.90 257.00,233.90 L257.00,233.90 257.50,233.90 L257.50,233.90 258.00,233.90 L258.00,233.90 258.50,233.90 L258.50,233.90 259.00,233.90 L259.00,233.90 259.50,233.90 L259.50,233.90 260.00,233.90 L260.00,233.90 260.50,233.90 L260.50,233.90 261.00,233.90 L261.00,233.90 261.50,233.90 L261.50,233.90 262.00,233.90 L262.00,233.90 262.50,233.90 L262.50,233.90 263.00,233.90 L263.00,233.90 263.50,233.90 L263.50,233.90 264.00,233.90 L264.00,233.90 264.50,233.90 L264.50,233.90 265.00,233.90 L265.00,233.90 265.50,233.90 L265.50,233.90 266.00,233.90 L266.00,233.90 266.50,233.90 L266.50,233.90 267.00,233.90 L267.00,233.90 267.50,233.90 L267.50,233.90 268.00,233.90 L268.00,233.90 268.50,233.90 L268.50,233.90 269.00,233.90 L269.00,233.90 269.50,233.90 L269.50,233.90 270.00,233.90 L270.00,233.90 270.50,233.90 L270.50,233.90 271.00,233.90 L271.00,233.90 271.50,233.90 L271.50,233.90 272.00,233.90 L272.00,233.90 272.50,233.90 L272.50,233.90 273.00,233.90 L273.00,233.90 273.50,233.90 L273.50,233.90 274.00,233.90 L274.00,233.90 274.50,233.90 L274.50,233.90 275.00,233.90 L275.00,233.90 275.50,233.90 L275.50,233.90 276.00,233.90 L276.00,233.90 276.50,233.90 L276.50,233.90 277.00,233.90 L277.00,233.90 277.50,233.90 L277.50,233.90 278.00,233.90 L278.00,233.90 278.50,233.90 L278.50,233.90 279.00,233.90 L279.00,233.90 279.50,233.90 L279.50,233.90 280.00,233.90 L280.00,233.90 280.50,233.90 L280.50,233.90 281.00,233.90 L281.00,233.90 281.50,233.90 L281.50,233.90 282.00,233.90 L282.00,233.90 282.50,233.90 L282.50,233.90 283.00,233.90 L283.00,233.90 283.50,233.90 L283.50,233.90 284.00,233.90 L284.00,233.90 284.50,233.90 L284.50,233.90 285.00,233.90 L285.00,233.90 285.50,233.90 L285.50,233.90 286.00,233.90 L286.00,233.90 286.50,233.90 L286.50,233.90 287.00,233.90 L287.00,233.90 287.50,233.90 L287.50,233.90 288.00,233.90 L288.00,233.90 288.50,233.90 L288.50,233.90 289.00,233.90 L289.00,233.90 289.50,233.90 L289.50,233.90 290.00,233.90 L290.00,233.90 290.50,233.90 L290.50,233.90 291.00,233.90 L291.00,233.90 291.50,233.90 L291.50,233.90 292.00,233.90 L292.00,233.90 292.50,233.90 L292.50,233.90 293.00,233.90 L293.00,233.90 293.50,233.90 L293.50,233.90 294.00,233.90 L294.00,233.90 294.50,233.90 L294.50,233.90 295.00,233.90 L295.00,233.90 295.50,233.90 L295.50,233.90 296.00,233.90 L296.00,233.90 296.50,233.90 L296.50,233.90 297.00,233.90 L297.00,233.90 297.50,233.90 L297.50,233.90 298.00,233.90 L298.00,233.90 298.50,233.90 L298.50,233.90 299.00,233.90 L299.00,233.90 299.50,233.90 L299.50,233.90 300.00,233.90 L300.00,233.90 300.50,233.90 L300.50,233.90 301.00,233.90 L301.00,233.90 301.50,233.90 L301.50,233.90 302.00,233.90 L302.00,233.90 302.50,233.90 L302.50,233.90 303.00,233.90 L303.00,233.90 303.50,233.90 L303.50,233.90 304.00,233.90 L304.00,233.90 304.50,233.90 L304.50,233.90 305.00,233.90 L305.00,233.90 305.50,233.90 L305.50,233.90 306.00,233.90 L306.00,233.39 306.50,233.39 L306.50,232.92 307.00,232.92 L307.00,233.14 307.50,233.14 L307.50,233.84 308.00,233.84 L308.00,233.90 308.50,233.90 L308.50,233.90 309.00,233.90 L309.00,233.90 309.50,233.90 L309.50,233.90 310.00,233.90 L310.00,233.90 310.50,233.90 L310.50,233.90 311.00,233.90 L311.00,233.90 311.50,233.90 L311.50,233.90 312.00,233.90 L312.00,233.90 312.50,233.90 L312.50,233.90 313.00,233.90 L313.00,233.90 313.50,233.90 L313.50,233.90 314.00,233.90 L314.00,233.90 314.50,233.90 L314.50,233.90 315.00,233.90 L315.00,233.90 315.50,233.90 L315.50,233.90 316.00,233.90 L316.00,233.90 316.50,233.90 L316.50,233.90 317.00,233.90 L317.00,233.90 317.50,233.90 L317.50,233.90 318.00,233.90 L318.00,233.90 318.50,233.90 L318.50,233.90 319.00,233.90 L319.00,233.90 319.50,233.90 L319.50,233.90 320.00,233.90 L320.00,233.90 320.50,233.90 L320.50,233.90 321.00,233.90 L321.00,233.90 321.50,233.90 L321.50,233.90 322.00,233.90 L322.00,233.90 322.50,233.90 L322.50,233.90 323.00,233.90 L323.00,233.90 323.50,233.90 L323.50,233.90 324.00,233.90 L324.00,233.90 324.50,233.90 L324.50,233.90 325.00,233.90 L325.00,233.90 325.50,233.90 L325.50,233.90 326.00,233.90 L326.00,233.90 326.50,233.90 L326.50,233.90 327.00,233.90 L327.00,233.90 327.50,233.90 L327.50,233.90 328.00,233.90 L328.00,233.90 328.50,233.90 L328.50,233.90 329.00,233.90 L329.00,233.90 329.50,233.90 L329.50,233.90 330.00,233.90 L330.00,233.90 330.50,233.90 L330.50,233.90 331.00,233.90 L331.00,233.90 331.50,233.90 L331.50,233.90 332.00,233.90 L332.00,233.90 332.50,233.90 L332.50,233.90 333.00,233.90 L333.00,233.90 333.50,233.90 L333.50,233.90 334.00,233.90 L334.00,233.90 334.50,233.90 L334.50,233.90 335.00,233.90 L335.00,233.90 335.50,233.90 L335.50,233.90 336.00,233.90 L336.00,233.90 336.50,233.90 L336.50,233.90 337.00,233.90 L337.00,233.90 337.50,233.90 L337.50,233.90 338.00,233.90 L338.00,233.90 338.50,233.90 L338.50,233.90 339.00,233.90 L339.00,233.90 339.00,233.90 L339.0,234.90 Z" fill="#2cb85c"/>
<line x1="256" y1="237.1" x2="339" y2="237.1" stroke="#ababab" stroke-width="1.0"/>
<line x1="256" y1="240.0" x2="339" y2="240.0" stroke="#929292" stroke-width="1.0"/>
<text x="338" y="178.6" font-size="6.2" font-weight="normal" fill="#858585" text-anchor="end">-84-1626</text>
<text x="338" y="207.6" font-size="6.2" font-weight="normal" fill="#858585" text-anchor="end">-84-1626</text>
<line x1="349.1" y1="170.4" x2="463" y2="170.4" stroke="#cfcfcf" stroke-width="1.3"/>
<rect x="403.2" y="171" width="20.30000000000001" height="68.5" fill="#e8e8e8"/>
<path d="M349.1,198.2 L349.1,198.51 L349.6,198.51 L349.6,198.20 L350.1,198.20 L350.1,198.20 L350.6,198.20 L350.6,198.72 L351.1,198.72 L351.1,198.69 L351.6,198.69 L351.6,198.27 L352.1,198.27 L352.1,199.98 L352.6,199.98 L352.6,200.13 L353.1,200.13 L353.1,200.23 L353.6,200.23 L353.6,199.03 L354.1,199.03 L354.1,198.32 L354.6,198.32 L354.6,198.21 L355.1,198.21 L355.1,198.20 L355.6,198.20 L355.6,198.20 L356.1,198.20 L356.1,198.66 L356.6,198.66 L356.6,198.20 L357.1,198.20 L357.1,198.20 L357.6,198.20 L357.6,198.20 L358.1,198.20 L358.1,198.25 L358.6,198.25 L358.6,198.64 L359.1,198.64 L359.1,199.54 L359.6,199.54 L359.6,200.77 L360.1,200.77 L360.1,198.80 L360.6,198.80 L360.6,198.29 L361.1,198.29 L361.1,198.20 L361.6,198.20 L361.6,198.20 L362.1,198.20 L362.1,199.10 L362.6,199.10 L362.6,198.20 L363.1,198.20 L363.1,198.20 L363.6,198.20 L363.6,198.89 L364.1,198.89 L364.1,198.20 L364.6,198.20 L364.6,198.22 L365.1,198.22 L365.1,199.33 L365.6,199.33 L365.6,198.78 L366.1,198.78 L366.1,198.98 L366.6,198.98 L366.6,198.73 L367.1,198.73 L367.1,198.27 L367.6,198.27 L367.6,199.25 L368.1,199.25 L368.1,198.20 L368.6,198.20 L368.6,198.91 L369.1,198.91 L369.1,199.01 L369.6,199.01 L369.6,198.65 L370.1,198.65 L370.1,198.20 L370.6,198.20 L370.6,198.20 L371.1,198.20 L371.1,198.20 L371.6,198.20 L371.6,198.20 L372.1,198.20 L372.1,198.20 L372.6,198.20 L372.6,198.80 L373.1,198.80 L373.1,198.74 L373.6,198.74 L373.6,198.20 L374.1,198.20 L374.1,198.20 L374.6,198.20 L374.6,198.20 L375.1,198.20 L375.1,198.39 L375.6,198.39 L375.6,199.32 L376.1,199.32 L376.1,198.20 L376.6,198.20 L376.6,198.20 L377.1,198.20 L377.1,198.20 L377.6,198.20 L377.6,198.20 L378.1,198.20 L378.1,198.68 L378.6,198.68 L378.6,198.35 L379.1,198.35 L379.1,198.24 L379.6,198.24 L379.6,198.20 L380.1,198.20 L380.1,198.20 L380.6,198.20 L380.6,198.82 L381.1,198.82 L381.1,198.20 L381.6,198.20 L381.6,199.29 L382.1,199.29 L382.1,199.32 L382.6,199.32 L382.6,198.20 L383.1,198.20 L383.1,198.20 L383.6,198.20 L383.6,198.83 L384.1,198.83 L384.1,198.20 L384.6,198.20 L384.6,198.68 L385.1,198.68 L385.1,198.25 L385.6,198.25 L385.6,199.16 L386.1,199.16 L386.1,198.20 L386.6,198.20 L386.6,198.22 L387.1,198.22 L387.1,198.38 L387.6,198.38 L387.6,198.85 L388.1,198.85 L388.1,199.61 L388.6,199.61 L388.6,198.64 L389.1,198.64 L389.1,198.28 L389.6,198.28 L389.6,198.21 L390.1,198.21 L390.1,198.20 L390.6,198.20 L390.6,198.20 L391.1,198.20 L391.1,198.20 L391.6,198.20 L391.6,198.20 L392.1,198.20 L392.1,198.20 L392.6,198.20 L392.6,199.14 L393.1,199.14 L393.1,198.22 L393.6,198.22 L393.6,198.22 L394.1,198.22 L394.1,199.08 L394.6,199.08 L394.6,198.78 L395.1,198.78 L395.1,198.98 L395.6,198.98 L395.6,198.59 L396.1,198.59 L396.1,198.27 L396.6,198.27 L396.6,198.20 L397.1,198.20 L397.1,198.20 L397.6,198.20 L397.6,198.20 L398.1,198.20 L398.1,198.64 L398.6,198.64 L398.6,198.20 L399.1,198.20 L399.1,198.89 L399.6,198.89 L399.6,198.20 L400.1,198.20 L400.1,198.20 L400.6,198.20 L400.6,198.20 L401.1,198.20 L401.1,198.20 L401.6,198.20 L401.6,198.26 L402.1,198.26 L402.1,198.21 L402.6,198.21 L402.6,198.98 L403.1,198.98 L403.1,198.30 L403.6,198.30 L403.6,199.59 L404.1,199.59 L404.1,199.14 L404.6,199.14 L404.6,199.11 L405.1,199.11 L405.1,200.09 L405.6,200.09 L405.6,199.90 L406.1,199.90 L406.1,199.99 L406.6,199.99 L406.6,200.68 L407.1,200.68 L407.1,199.38 L407.6,199.38 L407.6,199.93 L408.1,199.93 L408.1,198.59 L408.6,198.59 L408.6,199.18 L409.1,199.18 L409.1,199.69 L409.6,199.69 L409.6,200.47 L410.1,200.47 L410.1,200.39 L410.6,200.39 L410.6,200.04 L411.1,200.04 L411.1,199.40 L411.6,199.40 L411.6,198.81 L412.1,198.81 L412.1,198.66 L412.6,198.66 L412.6,199.34 L413.1,199.34 L413.1,200.07 L413.6,200.07 L413.6,200.78 L414.1,200.78 L414.1,200.99 L414.6,200.99 L414.6,201.41 L415.1,201.41 L415.1,200.55 L415.6,200.55 L415.6,198.98 L416.1,198.98 L416.1,198.51 L416.6,198.51 L416.6,198.98 L417.1,198.98 L417.1,200.11 L417.6,200.11 L417.6,201.41 L418.1,201.41 L418.1,201.77 L418.6,201.77 L418.6,200.92 L419.1,200.92 L419.1,200.57 L419.6,200.57 L419.6,200.41 L420.1,200.41 L420.1,201.85 L420.6,201.85 L420.6,200.09 L421.1,200.09 L421.1,199.17 L421.6,199.17 L421.6,198.54 L422.1,198.54 L422.1,198.28 L422.6,198.28 L422.6,198.21 L423.1,198.21 L423.1,198.20 L423.6,198.20 L423.6,198.67 L424.1,198.67 L424.1,198.23 L424.6,198.23 L424.6,198.20 L425.1,198.20 L425.1,198.20 L425.6,198.20 L425.6,198.20 L426.1,198.20 L426.1,198.20 L426.6,198.20 L426.6,198.20 L427.1,198.20 L427.1,199.26 L427.6,199.26 L427.6,198.20 L428.1,198.20 L428.1,198.20 L428.6,198.20 L428.6,198.20 L429.1,198.20 L429.1,198.20 L429.6,198.20 L429.6,198.20 L430.1,198.20 L430.1,198.20 L430.6,198.20 L430.6,198.20 L431.1,198.20 L431.1,198.20 L431.6,198.20 L431.6,198.20 L432.1,198.20 L432.1,198.20 L432.6,198.20 L432.6,198.20 L433.1,198.20 L433.1,198.71 L433.6,198.71 L433.6,198.20 L434.1,198.20 L434.1,198.20 L434.6,198.20 L434.6,199.03 L435.1,199.03 L435.1,198.89 L435.6,198.89 L435.6,198.20 L436.1,198.20 L436.1,198.20 L436.6,198.20 L436.6,198.20 L437.1,198.20 L437.1,198.20 L437.6,198.20 L437.6,198.20 L438.1,198.20 L438.1,198.20 L438.6,198.20 L438.6,198.20 L439.1,198.20 L439.1,198.20 L439.6,198.20 L439.6,198.20 L440.1,198.20 L440.1,198.20 L440.6,198.20 L440.6,199.31 L441.1,199.31 L441.1,198.20 L441.6,198.20 L441.6,198.20 L442.1,198.20 L442.1,198.20 L442.6,198.20 L442.6,198.20 L443.1,198.20 L443.1,198.20 L443.6,198.20 L443.6,198.20 L444.1,198.20 L444.1,198.20 L444.6,198.20 L444.6,198.38 L445.1,198.38 L445.1,198.20 L445.6,198.20 L445.6,198.20 L446.1,198.20 L446.1,198.20 L446.6,198.20 L446.6,198.20 L447.1,198.20 L447.1,198.20 L447.6,198.20 L447.6,198.20 L448.1,198.20 L448.1,198.42 L448.6,198.42 L448.6,198.20 L449.1,198.20 L449.1,198.20 L449.6,198.20 L449.6,198.97 L450.1,198.97 L450.1,198.20 L450.6,198.20 L450.6,198.20 L451.1,198.20 L451.1,198.20 L451.6,198.20 L451.6,198.20 L452.1,198.20 L452.1,198.65 L452.6,198.65 L452.6,198.20 L453.1,198.20 L453.1,198.20 L453.6,198.20 L453.6,198.20 L454.1,198.20 L454.1,198.20 L454.6,198.20 L454.6,198.52 L455.1,198.52 L455.1,198.40 L455.6,198.40 L455.6,198.93 L456.1,198.93 L456.1,200.22 L456.6,200.22 L456.6,199.40 L457.1,199.40 L457.1,199.47 L457.6,199.47 L457.6,198.21 L458.1,198.21 L458.1,198.20 L458.6,198.20 L458.6,199.13 L459.1,199.13 L459.1,198.20 L459.6,198.20 L459.6,198.20 L460.1,198.20 L460.1,199.07 L460.6,199.07 L460.6,198.20 L461.1,198.20 L461.1,198.96 L461.6,198.96 L461.6,198.20 L462.1,198.20 L462.1,198.20 L462.6,198.20 L462.6,198.20 L463.1,198.20 L463,198.2 Z" fill="#1f9152"/>
<line x1="349.1" y1="198.2" x2="463" y2="198.2" stroke="#1f9152" stroke-width="1.0"/>
<path d="M349.1,231.7 L349.1,229.46 L349.6,229.46 L349.6,229.45 L350.1,229.45 L350.1,230.40 L350.6,230.40 L350.6,230.95 L351.1,230.95 L351.1,231.26 L351.6,231.26 L351.6,230.74 L352.1,230.74 L352.1,230.68 L352.6,230.68 L352.6,229.65 L353.1,229.65 L353.1,231.28 L353.6,231.28 L353.6,228.70 L354.1,228.70 L354.1,229.88 L354.6,229.88 L354.6,231.04 L355.1,231.04 L355.1,230.61 L355.6,230.61 L355.6,228.81 L356.1,228.81 L356.1,229.11 L356.6,229.11 L356.6,229.32 L357.1,229.32 L357.1,230.72 L357.6,230.72 L357.6,230.46 L358.1,230.46 L358.1,229.91 L358.6,229.91 L358.6,229.57 L359.1,229.57 L359.1,228.05 L359.6,228.05 L359.6,230.98 L360.1,230.98 L360.1,229.18 L360.6,229.18 L360.6,231.27 L361.1,231.27 L361.1,229.90 L361.6,229.90 L361.6,229.22 L362.1,229.22 L362.1,231.06 L362.6,231.06 L362.6,229.12 L363.1,229.12 L363.1,227.04 L363.6,227.04 L363.6,231.30 L364.1,231.30 L364.1,229.81 L364.6,229.81 L364.6,231.30 L365.1,231.30 L365.1,231.26 L365.6,231.26 L365.6,231.32 L366.1,231.32 L366.1,231.49 L366.6,231.49 L366.6,231.41 L367.1,231.41 L367.1,230.92 L367.6,230.92 L367.6,231.42 L368.1,231.42 L368.1,231.52 L368.6,231.52 L368.6,231.05 L369.1,231.05 L369.1,231.31 L369.6,231.31 L369.6,230.92 L370.1,230.92 L370.1,230.87 L370.6,230.87 L370.6,231.41 L371.1,231.41 L371.1,230.92 L371.6,230.92 L371.6,231.25 L372.1,231.25 L372.1,231.25 L372.6,231.25 L372.6,231.47 L373.1,231.47 L373.1,231.56 L373.6,231.56 L373.6,230.75 L374.1,230.75 L374.1,231.54 L374.6,231.54 L374.6,230.87 L375.1,230.87 L375.1,231.38 L375.6,231.38 L375.6,230.72 L376.1,230.72 L376.1,231.35 L376.6,231.35 L376.6,230.74 L377.1,230.74 L377.1,230.28 L377.6,230.28 L377.6,231.03 L378.1,231.03 L378.1,229.69 L378.6,229.69 L378.6,229.92 L379.1,229.92 L379.1,229.88 L379.6,229.88 L379.6,230.54 L380.1,230.54 L380.1,231.07 L380.6,231.07 L380.6,230.02 L381.1,230.02 L381.1,231.23 L381.6,231.23 L381.6,229.86 L382.1,229.86 L382.1,230.04 L382.6,230.04 L382.6,228.72 L383.1,228.72 L383.1,229.49 L383.6,229.49 L383.6,231.11 L384.1,231.11 L384.1,230.72 L384.6,230.72 L384.6,229.49 L385.1,229.49 L385.1,230.75 L385.6,230.75 L385.6,229.79 L386.1,229.79 L386.1,230.11 L386.6,230.11 L386.6,228.56 L387.1,228.56 L387.1,226.91 L387.6,226.91 L387.6,229.75 L388.1,229.75 L388.1,229.45 L388.6,229.45 L388.6,231.17 L389.1,231.17 L389.1,229.79 L389.6,229.79 L389.6,229.30 L390.1,229.30 L390.1,229.55 L390.6,229.55 L390.6,229.22 L391.1,229.22 L391.1,230.49 L391.6,230.49 L391.6,228.87 L392.1,228.87 L392.1,230.89 L392.6,230.89 L392.6,229.56 L393.1,229.56 L393.1,231.30 L393.6,231.30 L393.6,230.65 L394.1,230.65 L394.1,230.05 L394.6,230.05 L394.6,228.97 L395.1,228.97 L395.1,229.01 L395.6,229.01 L395.6,230.86 L396.1,230.86 L396.1,228.75 L396.6,228.75 L396.6,231.12 L397.1,231.12 L397.1,229.40 L397.6,229.40 L397.6,231.17 L398.1,231.17 L398.1,230.69 L398.6,230.69 L398.6,231.26 L399.1,231.26 L399.1,229.26 L399.6,229.26 L399.6,229.37 L400.1,229.37 L400.1,231.19 L400.6,231.19 L400.6,230.37 L401.1,230.37 L401.1,231.00 L401.6,231.00 L401.6,230.46 L402.1,230.46 L402.1,230.29 L402.6,230.29 L402.6,231.23 L403.1,231.23 L403.1,229.24 L403.6,229.24 L403.6,229.74 L404.1,229.74 L404.1,228.12 L404.6,228.12 L404.6,224.92 L405.1,224.92 L405.1,223.48 L405.6,223.48 L405.6,222.30 L406.1,222.30 L406.1,219.75 L406.6,219.75 L406.6,220.89 L407.1,220.89 L407.1,218.63 L407.6,218.63 L407.6,217.86 L408.1,217.86 L408.1,218.48 L408.6,218.48 L408.6,219.33 L409.1,219.33 L409.1,219.18 L409.6,219.18 L409.6,219.90 L410.1,219.90 L410.1,220.92 L410.6,220.92 L410.6,221.87 L411.1,221.87 L411.1,223.50 L411.6,223.50 L411.6,224.21 L412.1,224.21 L412.1,223.41 L412.6,223.41 L412.6,225.49 L413.1,225.49 L413.1,224.71 L413.6,224.71 L413.6,225.17 L414.1,225.17 L414.1,224.87 L414.6,224.87 L414.6,225.23 L415.1,225.23 L415.1,225.81 L415.6,225.81 L415.6,225.60 L416.1,225.60 L416.1,225.90 L416.6,225.90 L416.6,225.32 L417.1,225.32 L417.1,224.46 L417.6,224.46 L417.6,221.64 L418.1,221.64 L418.1,214.65 L418.6,214.65 L418.6,212.07 L419.1,212.07 L419.1,209.44 L419.6,209.44 L419.6,212.80 L420.1,212.80 L420.1,217.33 L420.6,217.33 L420.6,218.32 L421.1,218.32 L421.1,221.55 L421.6,221.55 L421.6,222.56 L422.1,222.56 L422.1,222.63 L422.6,222.63 L422.6,225.39 L423.1,225.39 L423.1,229.88 L423.6,229.88 L423.6,229.22 L424.1,229.22 L424.1,230.43 L424.6,230.43 L424.6,229.74 L425.1,229.74 L425.1,230.34 L425.6,230.34 L425.6,230.89 L426.1,230.89 L426.1,230.46 L426.6,230.46 L426.6,231.28 L427.1,231.28 L427.1,231.28 L427.6,231.28 L427.6,230.36 L428.1,230.36 L428.1,230.50 L428.6,230.50 L428.6,229.36 L429.1,229.36 L429.1,230.45 L429.6,230.45 L429.6,230.28 L430.1,230.28 L430.1,230.47 L430.6,230.47 L430.6,230.16 L431.1,230.16 L431.1,229.73 L431.6,229.73 L431.6,230.37 L432.1,230.37 L432.1,230.26 L432.6,230.26 L432.6,230.46 L433.1,230.46 L433.1,230.10 L433.6,230.10 L433.6,231.02 L434.1,231.02 L434.1,230.29 L434.6,230.29 L434.6,229.92 L435.1,229.92 L435.1,231.12 L435.6,231.12 L435.6,228.74 L436.1,228.74 L436.1,229.67 L436.6,229.67 L436.6,228.88 L437.1,228.88 L437.1,230.93 L437.6,230.93 L437.6,230.59 L438.1,230.59 L438.1,231.00 L438.6,231.00 L438.6,229.73 L439.1,229.73 L439.1,231.30 L439.6,231.30 L439.6,231.02 L440.1,231.02 L440.1,229.25 L440.6,229.25 L440.6,231.16 L441.1,231.16 L441.1,229.87 L441.6,229.87 L441.6,231.02 L442.1,231.02 L442.1,231.27 L442.6,231.27 L442.6,231.11 L443.1,231.11 L443.1,229.90 L443.6,229.90 L443.6,230.44 L444.1,230.44 L444.1,230.30 L444.6,230.30 L444.6,230.57 L445.1,230.57 L445.1,230.97 L445.6,230.97 L445.6,230.47 L446.1,230.47 L446.1,229.02 L446.6,229.02 L446.6,231.10 L447.1,231.10 L447.1,229.72 L447.6,229.72 L447.6,231.02 L448.1,231.02 L448.1,231.11 L448.6,231.11 L448.6,230.87 L449.1,230.87 L449.1,230.03 L449.6,230.03 L449.6,228.96 L450.1,228.96 L450.1,230.78 L450.6,230.78 L450.6,231.14 L451.1,231.14 L451.1,231.30 L451.6,231.30 L451.6,231.27 L452.1,231.27 L452.1,231.08 L452.6,231.08 L452.6,230.66 L453.1,230.66 L453.1,229.26 L453.6,229.26 L453.6,228.78 L454.1,228.78 L454.1,229.14 L454.6,229.14 L454.6,231.03 L455.1,231.03 L455.1,230.12 L455.6,230.12 L455.6,229.02 L456.1,229.02 L456.1,231.23 L456.6,231.23 L456.6,229.28 L457.1,229.28 L457.1,230.71 L457.6,230.71 L457.6,229.55 L458.1,229.55 L458.1,230.87 L458.6,230.87 L458.6,230.07 L459.1,230.07 L459.1,230.42 L459.6,230.42 L459.6,231.23 L460.1,231.23 L460.1,229.62 L460.6,229.62 L460.6,229.40 L461.1,229.40 L461.1,230.49 L461.6,230.49 L461.6,230.73 L462.1,230.73 L462.1,228.91 L462.6,228.91 L462.6,230.76 L463.1,230.76 L463,231.7 Z" fill="#2cb85c"/>
<line x1="349.1" y1="231.9" x2="463" y2="231.9" stroke="#2cb85c" stroke-width="0.9"/>
<line x1="349.1" y1="236.1" x2="463" y2="236.1" stroke="#ababab" stroke-width="1.0"/>
<line x1="349.1" y1="239.1" x2="463" y2="239.1" stroke="#929292" stroke-width="1.0"/>
<text x="462" y="177.6" font-size="6.2" font-weight="normal" fill="#858585" text-anchor="end">-86-391</text>
<text x="462" y="205.5" font-size="6.2" font-weight="normal" fill="#858585" text-anchor="end">-86-391</text>
<line x1="256" y1="249.3" x2="310" y2="249.3" stroke="#111" stroke-width="0.9"/>
<path d="M268.8,247.5 L267.0,249.3 L268.8,251.10000000000002" fill="none" stroke="#111" stroke-width="0.6"/>
<path d="M292.59999999999997,247.5 L290.79999999999995,249.3 L292.59999999999997,251.10000000000002" fill="none" stroke="#111" stroke-width="0.6"/>
<path d="M303.7,247.5 L301.9,249.3 L303.7,251.10000000000002" fill="none" stroke="#111" stroke-width="0.6"/>
<rect x="256.1" y="244.9" width="2.099999999999966" height="8.8" fill="#111"/>
<rect x="258.2" y="246.3" width="3.3000000000000114" height="6" fill="#111"/>
<rect x="272.4" y="244.8" width="2.0" height="9" fill="#111"/>
<rect x="275.4" y="244.8" width="1.7000000000000455" height="9" fill="#111"/>
<rect x="278.1" y="244.8" width="1.6999999999999886" height="9" fill="#111"/>
<rect x="284.3" y="245.3" width="0.6999999999999886" height="8" fill="#111"/>
<rect x="309.3" y="244.55" width="3.8000000000000114" height="9.5" fill="#111"/>
<rect x="314.7" y="245.8" width="1.1000000000000227" height="7" fill="#111"/>
<rect x="317.8" y="244.55" width="4.800000000000011" height="9.5" fill="#111"/>
<rect x="322.6" y="246.3" width="6.7999999999999545" height="6" fill="#111"/>
<rect x="329.4" y="244.55" width="2.7000000000000455" height="9.5" fill="#111"/>
<rect x="336.2" y="244.55" width="2.6999999999999886" height="9.5" fill="#111"/>
<line x1="295.7" y1="245.3" x2="295.7" y2="253.3" stroke="#777" stroke-width="0.8"/>
<line x1="307.4" y1="246.8" x2="307.4" y2="251.8" stroke="#777" stroke-width="0.8"/>
<text x="291.5" y="264.8" font-size="8.6" font-weight="bold" fill="#1a1a1a" text-anchor="start" font-style="italic" textLength="12.4" lengthAdjust="spacingAndGlyphs" stroke="#1a1a1a" stroke-width="0.18">fus</text>
<text x="309.4" y="264.8" font-size="8.6" font-weight="bold" fill="#1a1a1a" text-anchor="start" textLength="31.6" lengthAdjust="spacingAndGlyphs" stroke="#1a1a1a" stroke-width="0.18">CG8207</text>
<line x1="367.5" y1="243.4" x2="367.5" y2="253.4" stroke="#000" stroke-width="1.0"/>
<line x1="445" y1="249.3" x2="452.8" y2="249.3" stroke="#000" stroke-width="0.8"/>
<rect x="441.5" y="246.05" width="3.0" height="6.5" fill="#000"/>
<rect x="444.5" y="244.8" width="1.3000000000000114" height="9" fill="#000"/>
<line x1="445.8" y1="244.5" x2="445.8" y2="254" stroke="#000" stroke-width="0.9"/>
<line x1="452.8" y1="244.5" x2="452.8" y2="254" stroke="#000" stroke-width="0.9"/>
<text x="353.7" y="263.9" font-size="8.6" font-weight="bold" fill="#1a1a1a" text-anchor="start" textLength="35.6" lengthAdjust="spacingAndGlyphs" stroke="#1a1a1a" stroke-width="0.18">CR44105</text>
<text x="426.3" y="263.9" font-size="8.6" font-weight="bold" fill="#1a1a1a" text-anchor="start" font-style="italic" textLength="36.1" lengthAdjust="spacingAndGlyphs" stroke="#1a1a1a" stroke-width="0.18">TpnC41C</text>
<circle cx="542" cy="205" r="45.4" fill="#a9b2c9"/>
<clipPath id="bigc"><circle cx="542" cy="205" r="45.4"/></clipPath>
<circle cx="577.2" cy="205" r="22.6" fill="#93d8d2"/>
<circle cx="577.2" cy="205" r="22.6" fill="#41adae" clip-path="url(#bigc)"/>
<circle cx="577.2" cy="205" r="22.6" fill="none" stroke="#ffffff" stroke-width="1.0"/>
<clipPath id="smc"><circle cx="577.2" cy="205" r="22.6"/></clipPath>
<circle cx="542" cy="205" r="45.4" fill="none" stroke="#e8f4f4" stroke-width="0.9" clip-path="url(#smc)"/>
<text x="563.5" y="153.2" font-size="8.6" font-weight="bold" fill="#1a1a1a" text-anchor="start" textLength="103.3" lengthAdjust="spacingAndGlyphs" stroke="#1a1a1a" stroke-width="0.18">Mitotically retained peaks</text>
<line x1="597.4" y1="162.4" x2="571.5" y2="192" stroke="#111" stroke-width="0.9"/>
<text x="517.7" y="208.3" font-size="8.6" font-weight="bold" fill="#1a1a1a" text-anchor="start" textLength="17" lengthAdjust="spacingAndGlyphs" stroke="#1a1a1a" stroke-width="0.18">1947</text>
<text x="565" y="208.3" font-size="8.6" font-weight="bold" fill="#1a1a1a" text-anchor="start" textLength="13.1" lengthAdjust="spacingAndGlyphs" stroke="#1a1a1a" stroke-width="0.18">448</text>
<text x="586.3" y="206.3" font-size="8.6" font-weight="bold" fill="#1a1a1a" text-anchor="start" textLength="13.4" lengthAdjust="spacingAndGlyphs" stroke="#1a1a1a" stroke-width="0.18">144</text>
<line x1="590.7" y1="215" x2="607.2" y2="238" stroke="#111" stroke-width="0.9"/>
<text x="586.6" y="249.7" font-size="8.6" font-weight="bold" fill="#1a1a1a" text-anchor="start" textLength="75.1" lengthAdjust="spacingAndGlyphs" stroke="#1a1a1a" stroke-width="0.18">Mitosis only peaks</text>
<line x1="528.5" y1="225.4" x2="512.9" y2="256" stroke="#111" stroke-width="0.9"/>
<text x="486.7" y="270.2" font-size="8.6" font-weight="bold" fill="#1a1a1a" text-anchor="start" textLength="89.3" lengthAdjust="spacingAndGlyphs" stroke="#1a1a1a" stroke-width="0.18">Interphase only peaks</text>
<circle cx="26.9" cy="360.5" r="15.0" fill="#fff" stroke="#ec8236" stroke-width="1.4"/>
<circle cx="27.4" cy="359.9" r="10.0" fill="#f9dcc6"/>
<text x="18.5" y="340.3" font-size="8.6" font-weight="bold" fill="#1a1a1a" text-anchor="start" textLength="17.2" lengthAdjust="spacingAndGlyphs" stroke="#1a1a1a" stroke-width="0.18">NSC</text>
<line x1="48.2" y1="360.3" x2="60.5" y2="360.3" stroke="#8a8a8a" stroke-width="1.8"/>
<path d="M65.00,360.30 L60.00,363.30 L60.00,357.30 Z" fill="#8a8a8a"/>
<circle cx="86" cy="360" r="15.0" fill="#fff" stroke="#ec8236" stroke-width="1.3"/>
<path d="M86,346.4 L77.4,360 L86,373.8 M86,346.4 L81.2,360 L86,373.8 M86,346.4 L86,360 L86,373.8 M86,346.4 L90.8,360 L86,373.8 M86,346.4 L95.0,360 L86,373.8" fill="none" stroke="#c4c4c4" stroke-width="0.55"/>
<ellipse cx="86" cy="360.1" rx="12.7" ry="1.1" fill="#b9b9b9"/>
<path d="M106,361.3 L116.6,361.3" stroke="#8a8a8a" stroke-width="1.8" fill="none"/>
<line x1="116.3" y1="361.3" x2="130.06454772108103" y2="352.85357298933667" stroke="#8a8a8a" stroke-width="1.8"/>
<path d="M133.90,350.50 L131.21,355.67 L128.07,350.56 Z" fill="#8a8a8a"/>
<line x1="116.3" y1="361.3" x2="130.05484141429713" y2="369.66231835982836" stroke="#8a8a8a" stroke-width="1.8"/>
<path d="M133.90,372.00 L128.07,371.97 L131.19,366.84 Z" fill="#8a8a8a"/>
<circle cx="148.7" cy="337.2" r="15.0" fill="#fff" stroke="#ec8236" stroke-width="1.4"/>
<circle cx="149.5" cy="336.6" r="10.0" fill="#f9dcc6"/>
<text x="140.6" y="316.2" font-size="8.6" font-weight="bold" fill="#1a1a1a" text-anchor="start" textLength="17.5" lengthAdjust="spacingAndGlyphs" stroke="#1a1a1a" stroke-width="0.18">NSC</text>
<circle cx="149.6" cy="383.0" r="11.5" fill="#fff" stroke="#707070" stroke-width="1.3"/>
<circle cx="149.6" cy="383.0" r="7.6" fill="#e6e6e6"/>
<text x="130.4" y="406.8" font-size="8.6" font-weight="bold" fill="#1a1a1a" text-anchor="start" textLength="40.6" lengthAdjust="spacingAndGlyphs" stroke="#1a1a1a" stroke-width="0.18">Progenitor</text>
<line x1="215.2" y1="317" x2="215.2" y2="381.4" stroke="#333" stroke-width="1.3"/>
<text transform="translate(211.3,350.2) rotate(-90)" x="0" y="0" font-size="10.3" font-weight="bold" fill="#1a1a1a" text-anchor="middle" textLength="18.2" lengthAdjust="spacingAndGlyphs">GAF</text>
<text x="218.6" y="326.0" font-size="8.6" font-weight="bold" fill="#17843f" text-anchor="start" textLength="17.3" lengthAdjust="spacingAndGlyphs" stroke="#17843f" stroke-width="0.18">NSC</text>
<text x="218.3" y="362.8" font-size="8.6" font-weight="bold" fill="#4cd383" text-anchor="start" textLength="41.3" lengthAdjust="spacingAndGlyphs" stroke="#4cd383" stroke-width="0.18">Progenitor</text>
<line x1="235.5" y1="316.7" x2="376" y2="316.7" stroke="#d4d4d4" stroke-width="1.4"/>
<rect x="295.1" y="317.4" width="9.799999999999955" height="67.40000000000003" fill="#e8e8e8"/>
<path d="M235.5,349.50 L235.50,348.50 236.00,348.50 L236.00,348.50 236.50,348.50 L236.50,348.50 237.00,348.50 L237.00,348.50 237.50,348.50 L237.50,348.50 238.00,348.50 L238.00,348.50 238.50,348.50 L238.50,348.50 239.00,348.50 L239.00,348.50 239.50,348.50 L239.50,348.50 240.00,348.50 L240.00,348.50 240.50,348.50 L240.50,348.50 241.00,348.50 L241.00,348.50 241.50,348.50 L241.50,348.50 242.00,348.50 L242.00,348.50 242.50,348.50 L242.50,348.50 243.00,348.50 L243.00,348.50 243.50,348.50 L243.50,348.50 244.00,348.50 L244.00,348.50 244.50,348.50 L244.50,348.50 245.00,348.50 L245.00,348.50 245.50,348.50 L245.50,348.50 246.00,348.50 L246.00,348.50 246.50,348.50 L246.50,348.50 247.00,348.50 L247.00,348.50 247.50,348.50 L247.50,348.50 248.00,348.50 L248.00,348.50 248.50,348.50 L248.50,348.50 249.00,348.50 L249.00,348.50 249.50,348.50 L249.50,348.50 250.00,348.50 L250.00,348.50 250.50,348.50 L250.50,348.50 251.00,348.50 L251.00,348.50 251.50,348.50 L251.50,348.50 252.00,348.50 L252.00,348.50 252.50,348.50 L252.50,348.50 253.00,348.50 L253.00,348.50 253.50,348.50 L253.50,348.50 254.00,348.50 L254.00,348.50 254.50,348.50 L254.50,348.50 255.00,348.50 L255.00,348.50 255.50,348.50 L255.50,348.50 256.00,348.50 L256.00,348.50 256.50,348.50 L256.50,348.50 257.00,348.50 L257.00,348.50 257.50,348.50 L257.50,348.50 258.00,348.50 L258.00,348.50 258.50,348.50 L258.50,348.41 259.00,348.41 L259.00,346.50 259.50,346.50 L259.50,342.77 260.00,342.77 L260.00,337.26 260.50,337.26 L260.50,331.37 261.00,331.37 L261.00,327.66 261.50,327.66 L261.50,328.11 262.00,328.11 L262.00,332.46 262.50,332.46 L262.50,338.46 263.00,338.46 L263.00,343.68 263.50,343.68 L263.50,347.01 264.00,347.01 L264.00,348.50 264.50,348.50 L264.50,348.50 265.00,348.50 L265.00,348.50 265.50,348.50 L265.50,348.50 266.00,348.50 L266.00,348.50 266.50,348.50 L266.50,348.50 267.00,348.50 L267.00,348.50 267.50,348.50 L267.50,348.50 268.00,348.50 L268.00,348.50 268.50,348.50 L268.50,348.50 269.00,348.50 L269.00,348.50 269.50,348.50 L269.50,348.50 270.00,348.50 L270.00,348.50 270.50,348.50 L270.50,348.50 271.00,348.50 L271.00,348.50 271.50,348.50 L271.50,348.50 272.00,348.50 L272.00,348.50 272.50,348.50 L272.50,348.50 273.00,348.50 L273.00,348.50 273.50,348.50 L273.50,348.50 274.00,348.50 L274.00,348.50 274.50,348.50 L274.50,348.50 275.00,348.50 L275.00,348.50 275.50,348.50 L275.50,348.50 276.00,348.50 L276.00,348.50 276.50,348.50 L276.50,348.50 277.00,348.50 L277.00,348.50 277.50,348.50 L277.50,348.50 278.00,348.50 L278.00,348.50 278.50,348.50 L278.50,348.50 279.00,348.50 L279.00,348.50 279.50,348.50 L279.50,348.50 280.00,348.50 L280.00,348.50 280.50,348.50 L280.50,348.50 281.00,348.50 L281.00,348.50 281.50,348.50 L281.50,348.50 282.00,348.50 L282.00,348.50 282.50,348.50 L282.50,348.50 283.00,348.50 L283.00,348.50 283.50,348.50 L283.50,348.50 284.00,348.50 L284.00,348.50 284.50,348.50 L284.50,348.50 285.00,348.50 L285.00,348.50 285.50,348.50 L285.50,348.50 286.00,348.50 L286.00,348.50 286.50,348.50 L286.50,348.50 287.00,348.50 L287.00,348.50 287.50,348.50 L287.50,348.50 288.00,348.50 L288.00,348.50 288.50,348.50 L288.50,348.50 289.00,348.50 L289.00,348.50 289.50,348.50 L289.50,348.50 290.00,348.50 L290.00,348.50 290.50,348.50 L290.50,348.50 291.00,348.50 L291.00,348.50 291.50,348.50 L291.50,348.50 292.00,348.50 L292.00,348.50 292.50,348.50 L292.50,348.50 293.00,348.50 L293.00,348.50 293.50,348.50 L293.50,348.50 294.00,348.50 L294.00,348.50 294.50,348.50 L294.50,348.50 295.00,348.50 L295.00,348.50 295.50,348.50 L295.50,348.50 296.00,348.50 L296.00,348.50 296.50,348.50 L296.50,348.50 297.00,348.50 L297.00,348.50 297.50,348.50 L297.50,348.50 298.00,348.50 L298.00,348.50 298.50,348.50 L298.50,346.29 299.00,346.29 L299.00,346.38 299.50,346.38 L299.50,345.91 300.00,345.91 L300.00,345.17 300.50,345.17 L300.50,346.00 301.00,346.00 L301.00,346.02 301.50,346.02 L301.50,345.90 302.00,345.90 L302.00,345.87 302.50,345.87 L302.50,345.41 303.00,345.41 L303.00,345.40 303.50,345.40 L303.50,348.03 304.00,348.03 L304.00,348.50 304.50,348.50 L304.50,348.50 305.00,348.50 L305.00,348.50 305.50,348.50 L305.50,348.50 306.00,348.50 L306.00,348.50 306.50,348.50 L306.50,348.50 307.00,348.50 L307.00,348.50 307.50,348.50 L307.50,348.50 308.00,348.50 L308.00,348.50 308.50,348.50 L308.50,348.50 309.00,348.50 L309.00,348.50 309.50,348.50 L309.50,348.50 310.00,348.50 L310.00,348.50 310.50,348.50 L310.50,348.50 311.00,348.50 L311.00,348.50 311.50,348.50 L311.50,348.50 312.00,348.50 L312.00,348.50 312.50,348.50 L312.50,348.50 313.00,348.50 L313.00,348.50 313.50,348.50 L313.50,348.50 314.00,348.50 L314.00,348.50 314.50,348.50 L314.50,348.50 315.00,348.50 L315.00,348.50 315.50,348.50 L315.50,348.50 316.00,348.50 L316.00,348.50 316.50,348.50 L316.50,348.50 317.00,348.50 L317.00,348.50 317.50,348.50 L317.50,348.50 318.00,348.50 L318.00,348.50 318.50,348.50 L318.50,348.50 319.00,348.50 L319.00,348.50 319.50,348.50 L319.50,348.50 320.00,348.50 L320.00,348.50 320.50,348.50 L320.50,348.50 321.00,348.50 L321.00,348.50 321.50,348.50 L321.50,348.50 322.00,348.50 L322.00,348.50 322.50,348.50 L322.50,348.50 323.00,348.50 L323.00,348.50 323.50,348.50 L323.50,348.50 324.00,348.50 L324.00,348.50 324.50,348.50 L324.50,348.50 325.00,348.50 L325.00,348.50 325.50,348.50 L325.50,348.50 326.00,348.50 L326.00,348.50 326.50,348.50 L326.50,348.50 327.00,348.50 L327.00,348.50 327.50,348.50 L327.50,348.50 328.00,348.50 L328.00,348.50 328.50,348.50 L328.50,348.50 329.00,348.50 L329.00,348.50 329.50,348.50 L329.50,348.50 330.00,348.50 L330.00,348.50 330.50,348.50 L330.50,348.50 331.00,348.50 L331.00,347.98 331.50,347.98 L331.50,345.28 332.00,345.28 L332.00,340.16 332.50,340.16 L332.50,333.04 333.00,333.04 L333.00,326.38 333.50,326.38 L333.50,323.60 334.00,323.60 L334.00,326.38 334.50,326.38 L334.50,333.04 335.00,333.04 L335.00,340.16 335.50,340.16 L335.50,345.28 336.00,345.28 L336.00,347.98 336.50,347.98 L336.50,348.50 337.00,348.50 L337.00,348.50 337.50,348.50 L337.50,348.50 338.00,348.50 L338.00,348.50 338.50,348.50 L338.50,348.50 339.00,348.50 L339.00,348.50 339.50,348.50 L339.50,348.50 340.00,348.50 L340.00,348.50 340.50,348.50 L340.50,348.50 341.00,348.50 L341.00,348.50 341.50,348.50 L341.50,348.50 342.00,348.50 L342.00,347.27 342.50,347.27 L342.50,344.19 343.00,344.19 L343.00,340.58 343.50,340.58 L343.50,338.90 344.00,338.90 L344.00,340.58 344.50,340.58 L344.50,344.19 345.00,344.19 L345.00,347.27 345.50,347.27 L345.50,348.50 346.00,348.50 L346.00,348.50 346.50,348.50 L346.50,348.50 347.00,348.50 L347.00,348.50 347.50,348.50 L347.50,348.50 348.00,348.50 L348.00,348.50 348.50,348.50 L348.50,348.50 349.00,348.50 L349.00,348.50 349.50,348.50 L349.50,348.50 350.00,348.50 L350.00,348.46 350.50,348.46 L350.50,348.22 351.00,348.22 L351.00,348.50 351.50,348.50 L351.50,348.50 352.00,348.50 L352.00,348.50 352.50,348.50 L352.50,348.50 353.00,348.50 L353.00,348.50 353.50,348.50 L353.50,348.50 354.00,348.50 L354.00,348.50 354.50,348.50 L354.50,348.50 355.00,348.50 L355.00,348.50 355.50,348.50 L355.50,348.50 356.00,348.50 L356.00,348.50 356.50,348.50 L356.50,348.50 357.00,348.50 L357.00,348.50 357.50,348.50 L357.50,348.50 358.00,348.50 L358.00,348.50 358.50,348.50 L358.50,348.50 359.00,348.50 L359.00,348.50 359.50,348.50 L359.50,348.50 360.00,348.50 L360.00,348.50 360.50,348.50 L360.50,348.50 361.00,348.50 L361.00,348.50 361.50,348.50 L361.50,348.50 362.00,348.50 L362.00,348.50 362.50,348.50 L362.50,348.50 363.00,348.50 L363.00,348.50 363.50,348.50 L363.50,348.50 364.00,348.50 L364.00,348.50 364.50,348.50 L364.50,348.50 365.00,348.50 L365.00,348.50 365.50,348.50 L365.50,348.50 366.00,348.50 L366.00,348.50 366.50,348.50 L366.50,348.50 367.00,348.50 L367.00,348.50 367.50,348.50 L367.50,348.50 368.00,348.50 L368.00,348.50 368.50,348.50 L368.50,348.50 369.00,348.50 L369.00,348.50 369.50,348.50 L369.50,348.50 370.00,348.50 L370.00,348.50 370.50,348.50 L370.50,348.50 371.00,348.50 L371.00,348.50 371.50,348.50 L371.50,348.50 372.00,348.50 L372.00,348.50 372.50,348.50 L372.50,348.50 373.00,348.50 L373.00,348.50 373.50,348.50 L373.50,348.50 374.00,348.50 L374.00,348.50 374.50,348.50 L374.50,348.50 375.00,348.50 L375.00,348.50 375.50,348.50 L375.50,348.50 376.00,348.50 L376.00,348.50 376.00,348.50 L376.0,349.50 Z" fill="#17843f"/>
<path d="M235.5,382.90 L235.50,381.90 236.00,381.90 L236.00,381.90 236.50,381.90 L236.50,381.90 237.00,381.90 L237.00,381.90 237.50,381.90 L237.50,381.90 238.00,381.90 L238.00,381.90 238.50,381.90 L238.50,381.90 239.00,381.90 L239.00,381.90 239.50,381.90 L239.50,381.90 240.00,381.90 L240.00,381.90 240.50,381.90 L240.50,381.90 241.00,381.90 L241.00,381.90 241.50,381.90 L241.50,381.90 242.00,381.90 L242.00,381.90 242.50,381.90 L242.50,381.90 243.00,381.90 L243.00,381.90 243.50,381.90 L243.50,381.90 244.00,381.90 L244.00,381.90 244.50,381.90 L244.50,381.90 245.00,381.90 L245.00,381.90 245.50,381.90 L245.50,381.90 246.00,381.90 L246.00,381.90 246.50,381.90 L246.50,381.90 247.00,381.90 L247.00,381.90 247.50,381.90 L247.50,381.90 248.00,381.90 L248.00,381.90 248.50,381.90 L248.50,381.90 249.00,381.90 L249.00,381.90 249.50,381.90 L249.50,381.90 250.00,381.90 L250.00,381.90 250.50,381.90 L250.50,381.90 251.00,381.90 L251.00,381.90 251.50,381.90 L251.50,381.90 252.00,381.90 L252.00,381.90 252.50,381.90 L252.50,381.90 253.00,381.90 L253.00,381.90 253.50,381.90 L253.50,381.90 254.00,381.90 L254.00,381.90 254.50,381.90 L254.50,381.90 255.00,381.90 L255.00,381.90 255.50,381.90 L255.50,381.90 256.00,381.90 L256.00,381.90 256.50,381.90 L256.50,381.90 257.00,381.90 L257.00,381.90 257.50,381.90 L257.50,381.90 258.00,381.90 L258.00,381.90 258.50,381.90 L258.50,381.90 259.00,381.90 L259.00,381.01 259.50,381.01 L259.50,378.32 260.00,378.32 L260.00,374.05 260.50,374.05 L260.50,369.29 261.00,369.29 L261.00,366.21 261.50,366.21 L261.50,366.58 262.00,366.58 L262.00,370.18 262.50,370.18 L262.50,375.00 263.00,375.00 L263.00,378.99 263.50,378.99 L263.50,381.36 264.00,381.36 L264.00,381.90 264.50,381.90 L264.50,381.90 265.00,381.90 L265.00,381.90 265.50,381.90 L265.50,381.90 266.00,381.90 L266.00,381.90 266.50,381.90 L266.50,381.90 267.00,381.90 L267.00,381.90 267.50,381.90 L267.50,381.90 268.00,381.90 L268.00,381.90 268.50,381.90 L268.50,381.90 269.00,381.90 L269.00,381.90 269.50,381.90 L269.50,381.90 270.00,381.90 L270.00,381.90 270.50,381.90 L270.50,381.90 271.00,381.90 L271.00,381.90 271.50,381.90 L271.50,381.90 272.00,381.90 L272.00,381.90 272.50,381.90 L272.50,381.90 273.00,381.90 L273.00,381.90 273.50,381.90 L273.50,381.90 274.00,381.90 L274.00,381.90 274.50,381.90 L274.50,381.90 275.00,381.90 L275.00,381.90 275.50,381.90 L275.50,381.90 276.00,381.90 L276.00,381.90 276.50,381.90 L276.50,381.90 277.00,381.90 L277.00,381.90 277.50,381.90 L277.50,381.90 278.00,381.90 L278.00,381.90 278.50,381.90 L278.50,381.90 279.00,381.90 L279.00,381.90 279.50,381.90 L279.50,381.90 280.00,381.90 L280.00,381.90 280.50,381.90 L280.50,381.90 281.00,381.90 L281.00,381.90 281.50,381.90 L281.50,381.90 282.00,381.90 L282.00,381.90 282.50,381.90 L282.50,381.90 283.00,381.90 L283.00,381.90 283.50,381.90 L283.50,381.90 284.00,381.90 L284.00,381.90 284.50,381.90 L284.50,381.70 285.00,381.70 L285.00,381.90 285.50,381.90 L285.50,381.90 286.00,381.90 L286.00,381.90 286.50,381.90 L286.50,381.90 287.00,381.90 L287.00,381.90 287.50,381.90 L287.50,381.90 288.00,381.90 L288.00,381.90 288.50,381.90 L288.50,381.90 289.00,381.90 L289.00,381.90 289.50,381.90 L289.50,381.90 290.00,381.90 L290.00,381.90 290.50,381.90 L290.50,381.90 291.00,381.90 L291.00,381.90 291.50,381.90 L291.50,381.90 292.00,381.90 L292.00,381.90 292.50,381.90 L292.50,381.90 293.00,381.90 L293.00,381.90 293.50,381.90 L293.50,381.90 294.00,381.90 L294.00,381.90 294.50,381.90 L294.50,381.90 295.00,381.90 L295.00,381.90 295.50,381.90 L295.50,381.90 296.00,381.90 L296.00,381.90 296.50,381.90 L296.50,381.90 297.00,381.90 L297.00,381.90 297.50,381.90 L297.50,381.90 298.00,381.90 L298.00,381.90 298.50,381.90 L298.50,381.90 299.00,381.90 L299.00,381.90 299.50,381.90 L299.50,381.90 300.00,381.90 L300.00,381.90 300.50,381.90 L300.50,381.90 301.00,381.90 L301.00,381.90 301.50,381.90 L301.50,381.90 302.00,381.90 L302.00,381.90 302.50,381.90 L302.50,381.90 303.00,381.90 L303.00,381.90 303.50,381.90 L303.50,381.90 304.00,381.90 L304.00,381.90 304.50,381.90 L304.50,381.90 305.00,381.90 L305.00,381.90 305.50,381.90 L305.50,381.90 306.00,381.90 L306.00,381.90 306.50,381.90 L306.50,381.90 307.00,381.90 L307.00,381.90 307.50,381.90 L307.50,381.90 308.00,381.90 L308.00,381.90 308.50,381.90 L308.50,381.90 309.00,381.90 L309.00,381.90 309.50,381.90 L309.50,381.90 310.00,381.90 L310.00,381.90 310.50,381.90 L310.50,381.90 311.00,381.90 L311.00,381.90 311.50,381.90 L311.50,381.90 312.00,381.90 L312.00,381.90 312.50,381.90 L312.50,381.90 313.00,381.90 L313.00,381.90 313.50,381.90 L313.50,381.90 314.00,381.90 L314.00,381.90 314.50,381.90 L314.50,381.90 315.00,381.90 L315.00,381.90 315.50,381.90 L315.50,381.90 316.00,381.90 L316.00,381.90 316.50,381.90 L316.50,381.90 317.00,381.90 L317.00,381.90 317.50,381.90 L317.50,381.90 318.00,381.90 L318.00,381.44 318.50,381.44 L318.50,380.59 319.00,380.59 L319.00,380.20 319.50,380.20 L319.50,380.59 320.00,380.59 L320.00,381.44 320.50,381.44 L320.50,381.90 321.00,381.90 L321.00,381.90 321.50,381.90 L321.50,381.90 322.00,381.90 L322.00,381.90 322.50,381.90 L322.50,381.90 323.00,381.90 L323.00,381.90 323.50,381.90 L323.50,381.90 324.00,381.90 L324.00,381.90 324.50,381.90 L324.50,381.90 325.00,381.90 L325.00,381.90 325.50,381.90 L325.50,381.90 326.00,381.90 L326.00,381.90 326.50,381.90 L326.50,381.90 327.00,381.90 L327.00,381.90 327.50,381.90 L327.50,381.90 328.00,381.90 L328.00,381.90 328.50,381.90 L328.50,381.90 329.00,381.90 L329.00,381.90 329.50,381.90 L329.50,381.90 330.00,381.90 L330.00,381.90 330.50,381.90 L330.50,381.90 331.00,381.90 L331.00,381.71 331.50,381.71 L331.50,379.59 332.00,379.59 L332.00,375.58 332.50,375.58 L332.50,370.00 333.00,370.00 L333.00,364.78 333.50,364.78 L333.50,362.60 334.00,362.60 L334.00,364.78 334.50,364.78 L334.50,370.00 335.00,370.00 L335.00,375.58 335.50,375.58 L335.50,379.59 336.00,379.59 L336.00,381.71 336.50,381.71 L336.50,381.90 337.00,381.90 L337.00,381.90 337.50,381.90 L337.50,381.90 338.00,381.90 L338.00,381.90 338.50,381.90 L338.50,381.90 339.00,381.90 L339.00,381.90 339.50,381.90 L339.50,381.90 340.00,381.90 L340.00,381.90 340.50,381.90 L340.50,381.90 341.00,381.90 L341.00,381.90 341.50,381.90 L341.50,381.90 342.00,381.90 L342.00,380.39 342.50,380.39 L342.50,376.94 343.00,376.94 L343.00,372.89 343.50,372.89 L343.50,371.00 344.00,371.00 L344.00,372.89 344.50,372.89 L344.50,376.94 345.00,376.94 L345.00,380.39 345.50,380.39 L345.50,381.90 346.00,381.90 L346.00,381.90 346.50,381.90 L346.50,381.90 347.00,381.90 L347.00,381.90 347.50,381.90 L347.50,381.90 348.00,381.90 L348.00,381.90 348.50,381.90 L348.50,381.90 349.00,381.90 L349.00,381.90 349.50,381.90 L349.50,381.90 350.00,381.90 L350.00,381.86 350.50,381.86 L350.50,381.62 351.00,381.62 L351.00,381.90 351.50,381.90 L351.50,381.90 352.00,381.90 L352.00,381.90 352.50,381.90 L352.50,381.90 353.00,381.90 L353.00,381.90 353.50,381.90 L353.50,381.90 354.00,381.90 L354.00,381.90 354.50,381.90 L354.50,381.90 355.00,381.90 L355.00,381.90 355.50,381.90 L355.50,381.90 356.00,381.90 L356.00,381.90 356.50,381.90 L356.50,381.90 357.00,381.90 L357.00,381.90 357.50,381.90 L357.50,381.90 358.00,381.90 L358.00,381.90 358.50,381.90 L358.50,381.90 359.00,381.90 L359.00,381.90 359.50,381.90 L359.50,381.90 360.00,381.90 L360.00,381.90 360.50,381.90 L360.50,381.90 361.00,381.90 L361.00,381.90 361.50,381.90 L361.50,381.90 362.00,381.90 L362.00,381.90 362.50,381.90 L362.50,381.90 363.00,381.90 L363.00,381.90 363.50,381.90 L363.50,381.90 364.00,381.90 L364.00,381.90 364.50,381.90 L364.50,381.90 365.00,381.90 L365.00,381.90 365.50,381.90 L365.50,381.90 366.00,381.90 L366.00,381.90 366.50,381.90 L366.50,381.90 367.00,381.90 L367.00,381.90 367.50,381.90 L367.50,381.90 368.00,381.90 L368.00,381.90 368.50,381.90 L368.50,381.90 369.00,381.90 L369.00,381.90 369.50,381.90 L369.50,381.90 370.00,381.90 L370.00,381.90 370.50,381.90 L370.50,381.90 371.00,381.90 L371.00,381.90 371.50,381.90 L371.50,381.90 372.00,381.90 L372.00,381.90 372.50,381.90 L372.50,381.90 373.00,381.90 L373.00,381.90 373.50,381.90 L373.50,381.90 374.00,381.90 L374.00,381.90 374.50,381.90 L374.50,381.90 375.00,381.90 L375.00,381.90 375.50,381.90 L375.50,381.90 376.00,381.90 L376.00,381.90 376.00,381.90 L376.0,382.90 Z" fill="#4cd383"/>
<line x1="235.5" y1="384.5" x2="376" y2="384.5" stroke="#ababab" stroke-width="1.0"/>
<line x1="235.5" y1="387.5" x2="376" y2="387.5" stroke="#929292" stroke-width="1.0"/>
<text x="375.8" y="323.9" font-size="6.2" font-weight="normal" fill="#858585" text-anchor="end">-87-2107</text>
<text x="375.8" y="355.3" font-size="6.2" font-weight="normal" fill="#858585" text-anchor="end">-87-2107</text>
<line x1="381.6" y1="316.7" x2="519.1" y2="316.7" stroke="#d4d4d4" stroke-width="1.4"/>
<rect x="476.2" y="317.4" width="6.800000000000011" height="67.40000000000003" fill="#e8e8e8"/>
<path d="M381.6,349.50 L381.60,348.50 382.10,348.50 L382.10,348.50 382.60,348.50 L382.60,348.50 383.10,348.50 L383.10,348.50 383.60,348.50 L383.60,348.50 384.10,348.50 L384.10,348.50 384.60,348.50 L384.60,348.50 385.10,348.50 L385.10,348.50 385.60,348.50 L385.60,348.50 386.10,348.50 L386.10,348.50 386.60,348.50 L386.60,348.50 387.10,348.50 L387.10,348.50 387.60,348.50 L387.60,348.50 388.10,348.50 L388.10,348.50 388.60,348.50 L388.60,348.50 389.10,348.50 L389.10,348.50 389.60,348.50 L389.60,348.50 390.10,348.50 L390.10,348.50 390.60,348.50 L390.60,348.50 391.10,348.50 L391.10,348.50 391.60,348.50 L391.60,348.50 392.10,348.50 L392.10,348.50 392.60,348.50 L392.60,348.50 393.10,348.50 L393.10,348.50 393.60,348.50 L393.60,348.50 394.10,348.50 L394.10,348.50 394.60,348.50 L394.60,348.50 395.10,348.50 L395.10,348.50 395.60,348.50 L395.60,348.50 396.10,348.50 L396.10,348.50 396.60,348.50 L396.60,348.50 397.10,348.50 L397.10,348.50 397.60,348.50 L397.60,348.50 398.10,348.50 L398.10,348.50 398.60,348.50 L398.60,348.50 399.10,348.50 L399.10,348.50 399.60,348.50 L399.60,348.50 400.10,348.50 L400.10,348.50 400.60,348.50 L400.60,348.50 401.10,348.50 L401.10,348.50 401.60,348.50 L401.60,348.50 402.10,348.50 L402.10,348.50 402.60,348.50 L402.60,348.50 403.10,348.50 L403.10,348.50 403.60,348.50 L403.60,348.50 404.10,348.50 L404.10,348.50 404.60,348.50 L404.60,348.50 405.10,348.50 L405.10,348.50 405.60,348.50 L405.60,348.50 406.10,348.50 L406.10,348.50 406.60,348.50 L406.60,348.50 407.10,348.50 L407.10,348.50 407.60,348.50 L407.60,348.50 408.10,348.50 L408.10,348.50 408.60,348.50 L408.60,348.50 409.10,348.50 L409.10,348.50 409.60,348.50 L409.60,348.50 410.10,348.50 L410.10,348.50 410.60,348.50 L410.60,348.50 411.10,348.50 L411.10,348.50 411.60,348.50 L411.60,348.50 412.10,348.50 L412.10,348.50 412.60,348.50 L412.60,348.50 413.10,348.50 L413.10,348.50 413.60,348.50 L413.60,348.50 414.10,348.50 L414.10,348.50 414.60,348.50 L414.60,348.50 415.10,348.50 L415.10,348.50 415.60,348.50 L415.60,348.50 416.10,348.50 L416.10,348.50 416.60,348.50 L416.60,348.50 417.10,348.50 L417.10,348.50 417.60,348.50 L417.60,348.50 418.10,348.50 L418.10,348.50 418.60,348.50 L418.60,348.50 419.10,348.50 L419.10,348.50 419.60,348.50 L419.60,348.50 420.10,348.50 L420.10,348.50 420.60,348.50 L420.60,348.50 421.10,348.50 L421.10,348.50 421.60,348.50 L421.60,348.50 422.10,348.50 L422.10,348.50 422.60,348.50 L422.60,348.50 423.10,348.50 L423.10,348.50 423.60,348.50 L423.60,348.50 424.10,348.50 L424.10,348.50 424.60,348.50 L424.60,348.50 425.10,348.50 L425.10,348.50 425.60,348.50 L425.60,348.50 426.10,348.50 L426.10,348.50 426.60,348.50 L426.60,348.50 427.10,348.50 L427.10,348.50 427.60,348.50 L427.60,348.50 428.10,348.50 L428.10,348.50 428.60,348.50 L428.60,348.50 429.10,348.50 L429.10,348.50 429.60,348.50 L429.60,348.50 430.10,348.50 L430.10,348.50 430.60,348.50 L430.60,348.50 431.10,348.50 L431.10,348.50 431.60,348.50 L431.60,348.50 432.10,348.50 L432.10,348.50 432.60,348.50 L432.60,348.50 433.10,348.50 L433.10,348.50 433.60,348.50 L433.60,348.50 434.10,348.50 L434.10,348.50 434.60,348.50 L434.60,348.50 435.10,348.50 L435.10,348.50 435.60,348.50 L435.60,348.50 436.10,348.50 L436.10,348.50 436.60,348.50 L436.60,348.50 437.10,348.50 L437.10,348.50 437.60,348.50 L437.60,348.50 438.10,348.50 L438.10,348.50 438.60,348.50 L438.60,348.50 439.10,348.50 L439.10,348.50 439.60,348.50 L439.60,348.50 440.10,348.50 L440.10,348.50 440.60,348.50 L440.60,348.50 441.10,348.50 L441.10,348.50 441.60,348.50 L441.60,348.50 442.10,348.50 L442.10,348.50 442.60,348.50 L442.60,348.50 443.10,348.50 L443.10,348.50 443.60,348.50 L443.60,348.50 444.10,348.50 L444.10,348.50 444.60,348.50 L444.60,348.50 445.10,348.50 L445.10,348.50 445.60,348.50 L445.60,348.50 446.10,348.50 L446.10,348.50 446.60,348.50 L446.60,348.50 447.10,348.50 L447.10,348.50 447.60,348.50 L447.60,348.50 448.10,348.50 L448.10,348.50 448.60,348.50 L448.60,348.50 449.10,348.50 L449.10,348.50 449.60,348.50 L449.60,348.50 450.10,348.50 L450.10,348.50 450.60,348.50 L450.60,348.50 451.10,348.50 L451.10,348.50 451.60,348.50 L451.60,348.50 452.10,348.50 L452.10,348.50 452.60,348.50 L452.60,348.50 453.10,348.50 L453.10,348.50 453.60,348.50 L453.60,348.50 454.10,348.50 L454.10,348.50 454.60,348.50 L454.60,348.50 455.10,348.50 L455.10,348.50 455.60,348.50 L455.60,348.50 456.10,348.50 L456.10,348.50 456.60,348.50 L456.60,348.50 457.10,348.50 L457.10,348.50 457.60,348.50 L457.60,348.50 458.10,348.50 L458.10,348.50 458.60,348.50 L458.60,348.50 459.10,348.50 L459.10,348.50 459.60,348.50 L459.60,348.50 460.10,348.50 L460.10,348.50 460.60,348.50 L460.60,348.50 461.10,348.50 L461.10,348.50 461.60,348.50 L461.60,348.50 462.10,348.50 L462.10,348.50 462.60,348.50 L462.60,348.50 463.10,348.50 L463.10,348.50 463.60,348.50 L463.60,348.17 464.10,348.17 L464.10,345.08 464.60,345.08 L464.60,338.69 465.10,338.69 L465.10,330.06 465.60,330.06 L465.60,323.84 466.10,323.84 L466.10,324.62 466.60,324.62 L466.60,331.78 467.10,331.78 L467.10,340.23 467.60,340.23 L467.60,340.50 468.10,340.50 L468.10,341.25 468.60,341.25 L468.60,343.14 469.10,343.14 L469.10,345.38 469.60,345.38 L469.60,347.26 470.10,347.26 L470.10,348.47 470.60,348.47 L470.60,348.50 471.10,348.50 L471.10,348.50 471.60,348.50 L471.60,348.50 472.10,348.50 L472.10,348.50 472.60,348.50 L472.60,348.50 473.10,348.50 L473.10,348.50 473.60,348.50 L473.60,348.50 474.10,348.50 L474.10,348.50 474.60,348.50 L474.60,348.50 475.10,348.50 L475.10,348.50 475.60,348.50 L475.60,348.50 476.10,348.50 L476.10,348.50 476.60,348.50 L476.60,348.50 477.10,348.50 L477.10,348.50 477.60,348.50 L477.60,348.50 478.10,348.50 L478.10,348.50 478.60,348.50 L478.60,348.50 479.10,348.50 L479.10,348.11 479.60,348.11 L479.60,347.70 480.10,347.70 L480.10,348.11 480.60,348.11 L480.60,348.50 481.10,348.50 L481.10,348.50 481.60,348.50 L481.60,348.50 482.10,348.50 L482.10,348.50 482.60,348.50 L482.60,348.50 483.10,348.50 L483.10,348.50 483.60,348.50 L483.60,348.50 484.10,348.50 L484.10,348.50 484.60,348.50 L484.60,348.50 485.10,348.50 L485.10,348.50 485.60,348.50 L485.60,348.50 486.10,348.50 L486.10,348.50 486.60,348.50 L486.60,348.50 487.10,348.50 L487.10,348.50 487.60,348.50 L487.60,348.50 488.10,348.50 L488.10,348.50 488.60,348.50 L488.60,348.50 489.10,348.50 L489.10,348.50 489.60,348.50 L489.60,348.50 490.10,348.50 L490.10,348.50 490.60,348.50 L490.60,348.50 491.10,348.50 L491.10,348.50 491.60,348.50 L491.60,348.50 492.10,348.50 L492.10,348.50 492.60,348.50 L492.60,348.50 493.10,348.50 L493.10,348.50 493.60,348.50 L493.60,348.50 494.10,348.50 L494.10,348.50 494.60,348.50 L494.60,348.50 495.10,348.50 L495.10,348.50 495.60,348.50 L495.60,348.50 496.10,348.50 L496.10,348.50 496.60,348.50 L496.60,348.50 497.10,348.50 L497.10,348.50 497.60,348.50 L497.60,348.50 498.10,348.50 L498.10,348.50 498.60,348.50 L498.60,348.50 499.10,348.50 L499.10,348.50 499.60,348.50 L499.60,348.50 500.10,348.50 L500.10,348.50 500.60,348.50 L500.60,348.50 501.10,348.50 L501.10,348.50 501.60,348.50 L501.60,348.50 502.10,348.50 L502.10,348.50 502.60,348.50 L502.60,348.50 503.10,348.50 L503.10,348.50 503.60,348.50 L503.60,348.50 504.10,348.50 L504.10,348.50 504.60,348.50 L504.60,348.50 505.10,348.50 L505.10,348.50 505.60,348.50 L505.60,348.50 506.10,348.50 L506.10,348.50 506.60,348.50 L506.60,348.50 507.10,348.50 L507.10,348.50 507.60,348.50 L507.60,348.50 508.10,348.50 L508.10,348.50 508.60,348.50 L508.60,348.50 509.10,348.50 L509.10,348.50 509.60,348.50 L509.60,348.50 510.10,348.50 L510.10,348.50 510.60,348.50 L510.60,348.50 511.10,348.50 L511.10,348.50 511.60,348.50 L511.60,346.73 512.10,346.73 L512.10,341.07 512.60,341.07 L512.60,333.08 513.10,333.08 L513.10,329.00 513.60,329.00 L513.60,333.08 514.10,333.08 L514.10,341.07 514.60,341.07 L514.60,344.82 515.10,344.82 L515.10,345.92 515.60,345.92 L515.60,347.28 516.10,347.28 L516.10,348.38 516.60,348.38 L516.60,348.50 517.10,348.50 L517.10,348.50 517.60,348.50 L517.60,348.50 518.10,348.50 L518.10,348.50 518.60,348.50 L518.60,348.50 519.10,348.50 L519.10,348.50 519.10,348.50 L519.1,349.50 Z" fill="#17843f"/>
<path d="M381.6,382.90 L381.60,381.90 382.10,381.90 L382.10,381.90 382.60,381.90 L382.60,381.90 383.10,381.90 L383.10,381.90 383.60,381.90 L383.60,381.90 384.10,381.90 L384.10,381.90 384.60,381.90 L384.60,381.90 385.10,381.90 L385.10,381.90 385.60,381.90 L385.60,381.90 386.10,381.90 L386.10,381.90 386.60,381.90 L386.60,381.90 387.10,381.90 L387.10,381.90 387.60,381.90 L387.60,381.90 388.10,381.90 L388.10,381.90 388.60,381.90 L388.60,381.90 389.10,381.90 L389.10,381.90 389.60,381.90 L389.60,381.90 390.10,381.90 L390.10,381.90 390.60,381.90 L390.60,381.90 391.10,381.90 L391.10,381.90 391.60,381.90 L391.60,381.90 392.10,381.90 L392.10,381.90 392.60,381.90 L392.60,381.90 393.10,381.90 L393.10,381.90 393.60,381.90 L393.60,381.90 394.10,381.90 L394.10,381.90 394.60,381.90 L394.60,381.90 395.10,381.90 L395.10,381.90 395.60,381.90 L395.60,381.90 396.10,381.90 L396.10,381.90 396.60,381.90 L396.60,381.90 397.10,381.90 L397.10,381.90 397.60,381.90 L397.60,381.90 398.10,381.90 L398.10,381.90 398.60,381.90 L398.60,381.90 399.10,381.90 L399.10,381.90 399.60,381.90 L399.60,381.90 400.10,381.90 L400.10,381.90 400.60,381.90 L400.60,381.90 401.10,381.90 L401.10,381.90 401.60,381.90 L401.60,381.90 402.10,381.90 L402.10,381.90 402.60,381.90 L402.60,381.90 403.10,381.90 L403.10,381.90 403.60,381.90 L403.60,381.90 404.10,381.90 L404.10,381.90 404.60,381.90 L404.60,381.90 405.10,381.90 L405.10,381.90 405.60,381.90 L405.60,381.90 406.10,381.90 L406.10,381.90 406.60,381.90 L406.60,381.90 407.10,381.90 L407.10,381.90 407.60,381.90 L407.60,381.90 408.10,381.90 L408.10,381.90 408.60,381.90 L408.60,381.90 409.10,381.90 L409.10,381.90 409.60,381.90 L409.60,381.90 410.10,381.90 L410.10,381.90 410.60,381.90 L410.60,381.90 411.10,381.90 L411.10,381.90 411.60,381.90 L411.60,381.90 412.10,381.90 L412.10,381.90 412.60,381.90 L412.60,381.90 413.10,381.90 L413.10,381.90 413.60,381.90 L413.60,381.90 414.10,381.90 L414.10,381.90 414.60,381.90 L414.60,381.90 415.10,381.90 L415.10,381.90 415.60,381.90 L415.60,381.90 416.10,381.90 L416.10,381.90 416.60,381.90 L416.60,381.90 417.10,381.90 L417.10,381.90 417.60,381.90 L417.60,381.90 418.10,381.90 L418.10,381.90 418.60,381.90 L418.60,381.90 419.10,381.90 L419.10,381.90 419.60,381.90 L419.60,381.90 420.10,381.90 L420.10,381.90 420.60,381.90 L420.60,381.90 421.10,381.90 L421.10,381.90 421.60,381.90 L421.60,381.90 422.10,381.90 L422.10,381.90 422.60,381.90 L422.60,381.90 423.10,381.90 L423.10,381.90 423.60,381.90 L423.60,381.90 424.10,381.90 L424.10,381.90 424.60,381.90 L424.60,381.90 425.10,381.90 L425.10,381.90 425.60,381.90 L425.60,381.90 426.10,381.90 L426.10,381.90 426.60,381.90 L426.60,381.90 427.10,381.90 L427.10,381.90 427.60,381.90 L427.60,381.90 428.10,381.90 L428.10,381.90 428.60,381.90 L428.60,381.90 429.10,381.90 L429.10,381.90 429.60,381.90 L429.60,381.90 430.10,381.90 L430.10,381.90 430.60,381.90 L430.60,381.90 431.10,381.90 L431.10,381.90 431.60,381.90 L431.60,381.90 432.10,381.90 L432.10,381.90 432.60,381.90 L432.60,381.90 433.10,381.90 L433.10,381.90 433.60,381.90 L433.60,381.90 434.10,381.90 L434.10,381.90 434.60,381.90 L434.60,381.90 435.10,381.90 L435.10,381.90 435.60,381.90 L435.60,381.90 436.10,381.90 L436.10,381.90 436.60,381.90 L436.60,381.90 437.10,381.90 L437.10,381.90 437.60,381.90 L437.60,381.90 438.10,381.90 L438.10,381.90 438.60,381.90 L438.60,381.90 439.10,381.90 L439.10,381.90 439.60,381.90 L439.60,381.90 440.10,381.90 L440.10,381.90 440.60,381.90 L440.60,381.90 441.10,381.90 L441.10,381.90 441.60,381.90 L441.60,381.90 442.10,381.90 L442.10,381.90 442.60,381.90 L442.60,381.90 443.10,381.90 L443.10,381.90 443.60,381.90 L443.60,381.90 444.10,381.90 L444.10,381.90 444.60,381.90 L444.60,381.90 445.10,381.90 L445.10,381.90 445.60,381.90 L445.60,381.90 446.10,381.90 L446.10,381.90 446.60,381.90 L446.60,381.90 447.10,381.90 L447.10,381.90 447.60,381.90 L447.60,381.90 448.10,381.90 L448.10,381.90 448.60,381.90 L448.60,381.90 449.10,381.90 L449.10,381.90 449.60,381.90 L449.60,381.90 450.10,381.90 L450.10,381.90 450.60,381.90 L450.60,381.90 451.10,381.90 L451.10,381.90 451.60,381.90 L451.60,381.90 452.10,381.90 L452.10,381.90 452.60,381.90 L452.60,381.90 453.10,381.90 L453.10,381.90 453.60,381.90 L453.60,381.90 454.10,381.90 L454.10,381.90 454.60,381.90 L454.60,381.90 455.10,381.90 L455.10,381.90 455.60,381.90 L455.60,381.90 456.10,381.90 L456.10,381.90 456.60,381.90 L456.60,381.90 457.10,381.90 L457.10,381.90 457.60,381.90 L457.60,381.90 458.10,381.90 L458.10,381.90 458.60,381.90 L458.60,381.90 459.10,381.90 L459.10,381.90 459.60,381.90 L459.60,381.90 460.10,381.90 L460.10,381.90 460.60,381.90 L460.60,381.90 461.10,381.90 L461.10,381.90 461.60,381.90 L461.60,381.90 462.10,381.90 L462.10,381.90 462.60,381.90 L462.60,381.90 463.10,381.90 L463.10,381.90 463.60,381.90 L463.60,381.90 464.10,381.90 L464.10,379.79 464.60,379.79 L464.60,375.14 465.10,375.14 L465.10,368.22 465.60,368.22 L465.60,361.85 466.10,361.85 L466.10,360.03 466.60,360.03 L466.60,364.06 467.10,364.06 L467.10,371.13 467.60,371.13 L467.60,375.01 468.10,375.01 L468.10,375.15 468.60,375.15 L468.60,376.49 469.10,376.49 L469.10,378.45 469.60,378.45 L469.60,380.30 470.10,380.30 L470.10,381.63 470.60,381.63 L470.60,381.90 471.10,381.90 L471.10,381.90 471.60,381.90 L471.60,381.90 472.10,381.90 L472.10,381.90 472.60,381.90 L472.60,381.90 473.10,381.90 L473.10,381.90 473.60,381.90 L473.60,381.90 474.10,381.90 L474.10,381.90 474.60,381.90 L474.60,381.90 475.10,381.90 L475.10,381.90 475.60,381.90 L475.60,381.90 476.10,381.90 L476.10,381.90 476.60,381.90 L476.60,381.90 477.10,381.90 L477.10,381.90 477.60,381.90 L477.60,381.90 478.10,381.90 L478.10,381.90 478.60,381.90 L478.60,381.90 479.10,381.90 L479.10,381.90 479.60,381.90 L479.60,381.90 480.10,381.90 L480.10,381.90 480.60,381.90 L480.60,381.90 481.10,381.90 L481.10,381.90 481.60,381.90 L481.60,381.90 482.10,381.90 L482.10,381.90 482.60,381.90 L482.60,381.90 483.10,381.90 L483.10,381.90 483.60,381.90 L483.60,381.90 484.10,381.90 L484.10,381.90 484.60,381.90 L484.60,381.90 485.10,381.90 L485.10,381.90 485.60,381.90 L485.60,381.90 486.10,381.90 L486.10,381.90 486.60,381.90 L486.60,381.90 487.10,381.90 L487.10,381.90 487.60,381.90 L487.60,381.90 488.10,381.90 L488.10,381.90 488.60,381.90 L488.60,381.90 489.10,381.90 L489.10,381.90 489.60,381.90 L489.60,381.90 490.10,381.90 L490.10,381.90 490.60,381.90 L490.60,381.90 491.10,381.90 L491.10,381.90 491.60,381.90 L491.60,381.90 492.10,381.90 L492.10,381.90 492.60,381.90 L492.60,381.90 493.10,381.90 L493.10,381.90 493.60,381.90 L493.60,381.90 494.10,381.90 L494.10,381.90 494.60,381.90 L494.60,381.90 495.10,381.90 L495.10,381.90 495.60,381.90 L495.60,381.90 496.10,381.90 L496.10,381.90 496.60,381.90 L496.60,381.90 497.10,381.90 L497.10,381.90 497.60,381.90 L497.60,381.90 498.10,381.90 L498.10,381.90 498.60,381.90 L498.60,381.90 499.10,381.90 L499.10,381.90 499.60,381.90 L499.60,381.90 500.10,381.90 L500.10,381.90 500.60,381.90 L500.60,381.90 501.10,381.90 L501.10,381.90 501.60,381.90 L501.60,381.90 502.10,381.90 L502.10,381.90 502.60,381.90 L502.60,381.90 503.10,381.90 L503.10,381.90 503.60,381.90 L503.60,381.90 504.10,381.90 L504.10,381.90 504.60,381.90 L504.60,381.90 505.10,381.90 L505.10,381.90 505.60,381.90 L505.60,381.90 506.10,381.90 L506.10,381.90 506.60,381.90 L506.60,381.90 507.10,381.90 L507.10,381.90 507.60,381.90 L507.60,381.90 508.10,381.90 L508.10,381.90 508.60,381.90 L508.60,381.90 509.10,381.90 L509.10,381.90 509.60,381.90 L509.60,381.90 510.10,381.90 L510.10,381.90 510.60,381.90 L510.60,381.90 511.10,381.90 L511.10,381.90 511.60,381.90 L511.60,380.56 512.10,380.56 L512.10,375.79 512.60,375.79 L512.60,369.05 513.10,369.05 L513.10,365.60 513.60,365.60 L513.60,369.05 514.10,369.05 L514.10,375.79 514.60,375.79 L514.60,379.16 515.10,379.16 L515.10,380.04 515.60,380.04 L515.60,381.12 516.10,381.12 L516.10,381.90 516.60,381.90 L516.60,381.90 517.10,381.90 L517.10,381.90 517.60,381.90 L517.60,381.90 518.10,381.90 L518.10,381.90 518.60,381.90 L518.60,381.90 519.10,381.90 L519.10,381.90 519.10,381.90 L519.1,382.90 Z" fill="#4cd383"/>
<line x1="381.6" y1="384.5" x2="519.1" y2="384.5" stroke="#ababab" stroke-width="1.0"/>
<line x1="381.6" y1="387.5" x2="519.1" y2="387.5" stroke="#929292" stroke-width="1.0"/>
<text x="518.9" y="323.9" font-size="6.2" font-weight="normal" fill="#858585" text-anchor="end">-50-4910</text>
<text x="518.9" y="355.3" font-size="6.2" font-weight="normal" fill="#858585" text-anchor="end">-50-4910</text>
<line x1="524.9" y1="316.7" x2="655.7" y2="316.7" stroke="#d4d4d4" stroke-width="1.4"/>
<rect x="544.8" y="317.4" width="9.200000000000045" height="67.40000000000003" fill="#e8e8e8"/>
<path d="M524.9,349.50 L524.90,348.50 525.40,348.50 L525.40,348.50 525.90,348.50 L525.90,348.50 526.40,348.50 L526.40,348.50 526.90,348.50 L526.90,348.50 527.40,348.50 L527.40,348.50 527.90,348.50 L527.90,348.50 528.40,348.50 L528.40,348.50 528.90,348.50 L528.90,348.50 529.40,348.50 L529.40,348.50 529.90,348.50 L529.90,348.50 530.40,348.50 L530.40,348.50 530.90,348.50 L530.90,348.50 531.40,348.50 L531.40,348.50 531.90,348.50 L531.90,348.50 532.40,348.50 L532.40,348.50 532.90,348.50 L532.90,348.50 533.40,348.50 L533.40,348.50 533.90,348.50 L533.90,348.50 534.40,348.50 L534.40,348.50 534.90,348.50 L534.90,348.50 535.40,348.50 L535.40,348.50 535.90,348.50 L535.90,348.50 536.40,348.50 L536.40,348.50 536.90,348.50 L536.90,348.50 537.40,348.50 L537.40,348.50 537.90,348.50 L537.90,348.50 538.40,348.50 L538.40,348.50 538.90,348.50 L538.90,348.13 539.40,348.13 L539.40,346.95 539.90,346.95 L539.90,347.12 540.40,347.12 L540.40,348.39 540.90,348.39 L540.90,348.50 541.40,348.50 L541.40,348.50 541.90,348.50 L541.90,348.50 542.40,348.50 L542.40,348.50 542.90,348.50 L542.90,348.50 543.40,348.50 L543.40,348.50 543.90,348.50 L543.90,348.50 544.40,348.50 L544.40,348.50 544.90,348.50 L544.90,348.50 545.40,348.50 L545.40,348.50 545.90,348.50 L545.90,348.50 546.40,348.50 L546.40,348.50 546.90,348.50 L546.90,348.50 547.40,348.50 L547.40,347.78 547.90,347.78 L547.90,345.41 548.40,345.41 L548.40,343.66 548.90,343.66 L548.90,344.49 549.40,344.49 L549.40,346.92 549.90,346.92 L549.90,348.50 550.40,348.50 L550.40,348.50 550.90,348.50 L550.90,348.50 551.40,348.50 L551.40,348.50 551.90,348.50 L551.90,348.50 552.40,348.50 L552.40,348.50 552.90,348.50 L552.90,348.50 553.40,348.50 L553.40,348.50 553.90,348.50 L553.90,348.50 554.40,348.50 L554.40,348.50 554.90,348.50 L554.90,348.50 555.40,348.50 L555.40,348.50 555.90,348.50 L555.90,348.50 556.40,348.50 L556.40,348.50 556.90,348.50 L556.90,348.50 557.40,348.50 L557.40,348.50 557.90,348.50 L557.90,348.50 558.40,348.50 L558.40,348.50 558.90,348.50 L558.90,348.50 559.40,348.50 L559.40,348.50 559.90,348.50 L559.90,348.50 560.40,348.50 L560.40,348.50 560.90,348.50 L560.90,348.50 561.40,348.50 L561.40,348.50 561.90,348.50 L561.90,348.50 562.40,348.50 L562.40,348.50 562.90,348.50 L562.90,348.50 563.40,348.50 L563.40,348.50 563.90,348.50 L563.90,348.50 564.40,348.50 L564.40,348.50 564.90,348.50 L564.90,348.50 565.40,348.50 L565.40,348.50 565.90,348.50 L565.90,348.50 566.40,348.50 L566.40,348.50 566.90,348.50 L566.90,348.50 567.40,348.50 L567.40,348.50 567.90,348.50 L567.90,348.50 568.40,348.50 L568.40,348.50 568.90,348.50 L568.90,348.50 569.40,348.50 L569.40,348.50 569.90,348.50 L569.90,348.50 570.40,348.50 L570.40,348.50 570.90,348.50 L570.90,348.50 571.40,348.50 L571.40,348.50 571.90,348.50 L571.90,348.50 572.40,348.50 L572.40,348.50 572.90,348.50 L572.90,348.50 573.40,348.50 L573.40,348.50 573.90,348.50 L573.90,348.50 574.40,348.50 L574.40,348.50 574.90,348.50 L574.90,348.00 575.40,348.00 L575.40,340.99 575.90,340.99 L575.90,328.39 576.40,328.39 L576.40,326.57 576.90,326.57 L576.90,338.60 577.40,338.60 L577.40,343.96 577.90,343.96 L577.90,345.50 578.40,345.50 L578.40,347.25 578.90,347.25 L578.90,348.50 579.40,348.50 L579.40,348.50 579.90,348.50 L579.90,348.50 580.40,348.50 L580.40,348.50 580.90,348.50 L580.90,348.50 581.40,348.50 L581.40,348.50 581.90,348.50 L581.90,348.50 582.40,348.50 L582.40,348.50 582.90,348.50 L582.90,348.50 583.40,348.50 L583.40,348.50 583.90,348.50 L583.90,348.50 584.40,348.50 L584.40,348.50 584.90,348.50 L584.90,348.50 585.40,348.50 L585.40,348.50 585.90,348.50 L585.90,348.50 586.40,348.50 L586.40,348.50 586.90,348.50 L586.90,348.50 587.40,348.50 L587.40,348.50 587.90,348.50 L587.90,348.50 588.40,348.50 L588.40,348.50 588.90,348.50 L588.90,348.50 589.40,348.50 L589.40,348.50 589.90,348.50 L589.90,348.50 590.40,348.50 L590.40,348.50 590.90,348.50 L590.90,348.50 591.40,348.50 L591.40,348.50 591.90,348.50 L591.90,348.50 592.40,348.50 L592.40,348.50 592.90,348.50 L592.90,348.50 593.40,348.50 L593.40,348.50 593.90,348.50 L593.90,348.50 594.40,348.50 L594.40,348.50 594.90,348.50 L594.90,348.50 595.40,348.50 L595.40,348.50 595.90,348.50 L595.90,348.50 596.40,348.50 L596.40,348.50 596.90,348.50 L596.90,348.50 597.40,348.50 L597.40,348.50 597.90,348.50 L597.90,348.50 598.40,348.50 L598.40,348.50 598.90,348.50 L598.90,348.50 599.40,348.50 L599.40,348.50 599.90,348.50 L599.90,348.50 600.40,348.50 L600.40,348.50 600.90,348.50 L600.90,348.05 601.40,348.05 L601.40,347.54 601.90,347.54 L601.90,348.50 602.40,348.50 L602.40,348.50 602.90,348.50 L602.90,348.50 603.40,348.50 L603.40,348.50 603.90,348.50 L603.90,348.50 604.40,348.50 L604.40,348.50 604.90,348.50 L604.90,348.50 605.40,348.50 L605.40,348.50 605.90,348.50 L605.90,348.50 606.40,348.50 L606.40,348.50 606.90,348.50 L606.90,348.50 607.40,348.50 L607.40,348.50 607.90,348.50 L607.90,348.50 608.40,348.50 L608.40,348.50 608.90,348.50 L608.90,348.50 609.40,348.50 L609.40,348.50 609.90,348.50 L609.90,348.50 610.40,348.50 L610.40,348.50 610.90,348.50 L610.90,348.50 611.40,348.50 L611.40,348.50 611.90,348.50 L611.90,348.50 612.40,348.50 L612.40,348.50 612.90,348.50 L612.90,348.50 613.40,348.50 L613.40,348.50 613.90,348.50 L613.90,348.50 614.40,348.50 L614.40,348.50 614.90,348.50 L614.90,348.50 615.40,348.50 L615.40,348.50 615.90,348.50 L615.90,348.50 616.40,348.50 L616.40,348.50 616.90,348.50 L616.90,348.50 617.40,348.50 L617.40,348.50 617.90,348.50 L617.90,348.50 618.40,348.50 L618.40,348.50 618.90,348.50 L618.90,348.50 619.40,348.50 L619.40,348.27 619.90,348.27 L619.90,346.85 620.40,346.85 L620.40,346.66 620.90,346.66 L620.90,347.98 621.40,347.98 L621.40,348.50 621.90,348.50 L621.90,348.50 622.40,348.50 L622.40,348.50 622.90,348.50 L622.90,348.50 623.40,348.50 L623.40,348.50 623.90,348.50 L623.90,348.50 624.40,348.50 L624.40,348.50 624.90,348.50 L624.90,348.50 625.40,348.50 L625.40,348.50 625.90,348.50 L625.90,348.50 626.40,348.50 L626.40,348.50 626.90,348.50 L626.90,348.50 627.40,348.50 L627.40,348.50 627.90,348.50 L627.90,348.50 628.40,348.50 L628.40,348.50 628.90,348.50 L628.90,348.50 629.40,348.50 L629.40,348.50 629.90,348.50 L629.90,348.50 630.40,348.50 L630.40,348.50 630.90,348.50 L630.90,348.50 631.40,348.50 L631.40,348.50 631.90,348.50 L631.90,348.50 632.40,348.50 L632.40,348.50 632.90,348.50 L632.90,348.50 633.40,348.50 L633.40,348.50 633.90,348.50 L633.90,348.50 634.40,348.50 L634.40,348.50 634.90,348.50 L634.90,348.50 635.40,348.50 L635.40,348.50 635.90,348.50 L635.90,348.50 636.40,348.50 L636.40,348.50 636.90,348.50 L636.90,348.50 637.40,348.50 L637.40,348.50 637.90,348.50 L637.90,348.50 638.40,348.50 L638.40,348.50 638.90,348.50 L638.90,348.50 639.40,348.50 L639.40,348.50 639.90,348.50 L639.90,348.50 640.40,348.50 L640.40,348.50 640.90,348.50 L640.90,348.50 641.40,348.50 L641.40,348.50 641.90,348.50 L641.90,348.50 642.40,348.50 L642.40,348.50 642.90,348.50 L642.90,348.50 643.40,348.50 L643.40,348.50 643.90,348.50 L643.90,348.50 644.40,348.50 L644.40,348.50 644.90,348.50 L644.90,348.50 645.40,348.50 L645.40,348.50 645.90,348.50 L645.90,348.50 646.40,348.50 L646.40,348.50 646.90,348.50 L646.90,348.50 647.40,348.50 L647.40,348.50 647.90,348.50 L647.90,348.50 648.40,348.50 L648.40,348.50 648.90,348.50 L648.90,348.50 649.40,348.50 L649.40,348.50 649.90,348.50 L649.90,348.50 650.40,348.50 L650.40,348.50 650.90,348.50 L650.90,348.50 651.40,348.50 L651.40,348.50 651.90,348.50 L651.90,348.50 652.40,348.50 L652.40,348.50 652.90,348.50 L652.90,348.50 653.40,348.50 L653.40,348.50 653.90,348.50 L653.90,348.50 654.40,348.50 L654.40,348.50 654.90,348.50 L654.90,348.50 655.40,348.50 L655.40,348.50 655.70,348.50 L655.7,349.50 Z" fill="#17843f"/>
<path d="M524.9,382.90 L524.90,381.90 525.40,381.90 L525.40,381.90 525.90,381.90 L525.90,381.90 526.40,381.90 L526.40,381.90 526.90,381.90 L526.90,381.90 527.40,381.90 L527.40,381.90 527.90,381.90 L527.90,381.90 528.40,381.90 L528.40,381.90 528.90,381.90 L528.90,381.90 529.40,381.90 L529.40,381.90 529.90,381.90 L529.90,381.90 530.40,381.90 L530.40,381.90 530.90,381.90 L530.90,381.90 531.40,381.90 L531.40,381.90 531.90,381.90 L531.90,381.90 532.40,381.90 L532.40,381.90 532.90,381.90 L532.90,381.90 533.40,381.90 L533.40,381.90 533.90,381.90 L533.90,381.90 534.40,381.90 L534.40,381.90 534.90,381.90 L534.90,381.90 535.40,381.90 L535.40,381.90 535.90,381.90 L535.90,381.90 536.40,381.90 L536.40,381.90 536.90,381.90 L536.90,381.90 537.40,381.90 L537.40,381.90 537.90,381.90 L537.90,381.90 538.40,381.90 L538.40,381.50 538.90,381.50 L538.90,379.46 539.40,379.46 L539.40,378.66 539.90,378.66 L539.90,380.29 540.40,380.29 L540.40,381.90 540.90,381.90 L540.90,381.90 541.40,381.90 L541.40,381.90 541.90,381.90 L541.90,381.90 542.40,381.90 L542.40,381.90 542.90,381.90 L542.90,381.90 543.40,381.90 L543.40,381.90 543.90,381.90 L543.90,381.90 544.40,381.90 L544.40,381.90 544.90,381.90 L544.90,381.90 545.40,381.90 L545.40,381.90 545.90,381.90 L545.90,381.90 546.40,381.90 L546.40,381.90 546.90,381.90 L546.90,381.90 547.40,381.90 L547.40,381.90 547.90,381.90 L547.90,381.90 548.40,381.90 L548.40,381.90 548.90,381.90 L548.90,381.90 549.40,381.90 L549.40,381.90 549.90,381.90 L549.90,381.90 550.40,381.90 L550.40,381.90 550.90,381.90 L550.90,381.90 551.40,381.90 L551.40,381.90 551.90,381.90 L551.90,381.90 552.40,381.90 L552.40,381.90 552.90,381.90 L552.90,381.90 553.40,381.90 L553.40,381.90 553.90,381.90 L553.90,381.90 554.40,381.90 L554.40,381.90 554.90,381.90 L554.90,381.90 555.40,381.90 L555.40,381.90 555.90,381.90 L555.90,381.90 556.40,381.90 L556.40,381.90 556.90,381.90 L556.90,381.90 557.40,381.90 L557.40,381.90 557.90,381.90 L557.90,381.90 558.40,381.90 L558.40,381.90 558.90,381.90 L558.90,381.90 559.40,381.90 L559.40,381.90 559.90,381.90 L559.90,381.90 560.40,381.90 L560.40,381.90 560.90,381.90 L560.90,381.90 561.40,381.90 L561.40,381.90 561.90,381.90 L561.90,381.90 562.40,381.90 L562.40,381.90 562.90,381.90 L562.90,381.90 563.40,381.90 L563.40,381.90 563.90,381.90 L563.90,381.90 564.40,381.90 L564.40,381.90 564.90,381.90 L564.90,381.90 565.40,381.90 L565.40,381.90 565.90,381.90 L565.90,381.90 566.40,381.90 L566.40,381.90 566.90,381.90 L566.90,381.90 567.40,381.90 L567.40,381.90 567.90,381.90 L567.90,381.90 568.40,381.90 L568.40,381.90 568.90,381.90 L568.90,381.90 569.40,381.90 L569.40,381.90 569.90,381.90 L569.90,381.90 570.40,381.90 L570.40,381.90 570.90,381.90 L570.90,381.90 571.40,381.90 L571.40,381.90 571.90,381.90 L571.90,381.90 572.40,381.90 L572.40,381.90 572.90,381.90 L572.90,381.90 573.40,381.90 L573.40,381.90 573.90,381.90 L573.90,381.90 574.40,381.90 L574.40,381.90 574.90,381.90 L574.90,381.56 575.40,381.56 L575.40,375.30 575.90,375.30 L575.90,364.03 576.40,364.03 L576.40,362.40 576.90,362.40 L576.90,373.16 577.40,373.16 L577.40,378.28 577.90,378.28 L577.90,379.57 578.40,379.57 L578.40,381.02 578.90,381.02 L578.90,381.90 579.40,381.90 L579.40,381.90 579.90,381.90 L579.90,381.90 580.40,381.90 L580.40,381.90 580.90,381.90 L580.90,381.90 581.40,381.90 L581.40,381.90 581.90,381.90 L581.90,381.90 582.40,381.90 L582.40,381.90 582.90,381.90 L582.90,381.90 583.40,381.90 L583.40,381.90 583.90,381.90 L583.90,381.90 584.40,381.90 L584.40,381.90 584.90,381.90 L584.90,381.90 585.40,381.90 L585.40,381.90 585.90,381.90 L585.90,381.90 586.40,381.90 L586.40,381.90 586.90,381.90 L586.90,381.90 587.40,381.90 L587.40,381.90 587.90,381.90 L587.90,381.90 588.40,381.90 L588.40,381.90 588.90,381.90 L588.90,381.90 589.40,381.90 L589.40,381.90 589.90,381.90 L589.90,381.90 590.40,381.90 L590.40,381.90 590.90,381.90 L590.90,381.90 591.40,381.90 L591.40,381.90 591.90,381.90 L591.90,381.90 592.40,381.90 L592.40,381.90 592.90,381.90 L592.90,381.90 593.40,381.90 L593.40,381.90 593.90,381.90 L593.90,381.90 594.40,381.90 L594.40,381.90 594.90,381.90 L594.90,381.90 595.40,381.90 L595.40,381.90 595.90,381.90 L595.90,381.90 596.40,381.90 L596.40,381.90 596.90,381.90 L596.90,381.90 597.40,381.90 L597.40,381.90 597.90,381.90 L597.90,381.90 598.40,381.90 L598.40,381.90 598.90,381.90 L598.90,381.90 599.40,381.90 L599.40,381.90 599.90,381.90 L599.90,381.90 600.40,381.90 L600.40,381.50 600.90,381.50 L600.90,379.46 601.40,379.46 L601.40,378.66 601.90,378.66 L601.90,380.29 602.40,380.29 L602.40,381.90 602.90,381.90 L602.90,381.90 603.40,381.90 L603.40,381.90 603.90,381.90 L603.90,381.90 604.40,381.90 L604.40,381.90 604.90,381.90 L604.90,381.90 605.40,381.90 L605.40,381.90 605.90,381.90 L605.90,381.90 606.40,381.90 L606.40,381.90 606.90,381.90 L606.90,381.90 607.40,381.90 L607.40,381.90 607.90,381.90 L607.90,381.90 608.40,381.90 L608.40,381.90 608.90,381.90 L608.90,381.90 609.40,381.90 L609.40,381.90 609.90,381.90 L609.90,381.90 610.40,381.90 L610.40,381.90 610.90,381.90 L610.90,381.90 611.40,381.90 L611.40,381.90 611.90,381.90 L611.90,381.90 612.40,381.90 L612.40,381.90 612.90,381.90 L612.90,381.90 613.40,381.90 L613.40,381.90 613.90,381.90 L613.90,381.90 614.40,381.90 L614.40,381.90 614.90,381.90 L614.90,381.90 615.40,381.90 L615.40,381.90 615.90,381.90 L615.90,381.90 616.40,381.90 L616.40,381.90 616.90,381.90 L616.90,381.90 617.40,381.90 L617.40,381.90 617.90,381.90 L617.90,381.90 618.40,381.90 L618.40,381.90 618.90,381.90 L618.90,381.90 619.40,381.90 L619.40,381.90 619.90,381.90 L619.90,381.90 620.40,381.90 L620.40,381.90 620.90,381.90 L620.90,381.90 621.40,381.90 L621.40,381.90 621.90,381.90 L621.90,381.90 622.40,381.90 L622.40,381.90 622.90,381.90 L622.90,381.90 623.40,381.90 L623.40,381.90 623.90,381.90 L623.90,381.90 624.40,381.90 L624.40,381.90 624.90,381.90 L624.90,381.90 625.40,381.90 L625.40,381.90 625.90,381.90 L625.90,381.90 626.40,381.90 L626.40,381.90 626.90,381.90 L626.90,381.90 627.40,381.90 L627.40,381.90 627.90,381.90 L627.90,381.90 628.40,381.90 L628.40,381.90 628.90,381.90 L628.90,381.90 629.40,381.90 L629.40,381.90 629.90,381.90 L629.90,381.90 630.40,381.90 L630.40,381.90 630.90,381.90 L630.90,381.90 631.40,381.90 L631.40,381.90 631.90,381.90 L631.90,381.90 632.40,381.90 L632.40,381.90 632.90,381.90 L632.90,381.90 633.40,381.90 L633.40,381.90 633.90,381.90 L633.90,381.90 634.40,381.90 L634.40,381.90 634.90,381.90 L634.90,381.90 635.40,381.90 L635.40,381.90 635.90,381.90 L635.90,381.90 636.40,381.90 L636.40,381.90 636.90,381.90 L636.90,381.90 637.40,381.90 L637.40,381.90 637.90,381.90 L637.90,381.90 638.40,381.90 L638.40,381.90 638.90,381.90 L638.90,381.90 639.40,381.90 L639.40,381.90 639.90,381.90 L639.90,381.90 640.40,381.90 L640.40,381.90 640.90,381.90 L640.90,381.90 641.40,381.90 L641.40,381.90 641.90,381.90 L641.90,381.90 642.40,381.90 L642.40,381.90 642.90,381.90 L642.90,381.90 643.40,381.90 L643.40,381.90 643.90,381.90 L643.90,381.90 644.40,381.90 L644.40,381.90 644.90,381.90 L644.90,381.90 645.40,381.90 L645.40,381.90 645.90,381.90 L645.90,381.90 646.40,381.90 L646.40,381.90 646.90,381.90 L646.90,381.90 647.40,381.90 L647.40,381.90 647.90,381.90 L647.90,381.90 648.40,381.90 L648.40,381.90 648.90,381.90 L648.90,381.90 649.40,381.90 L649.40,381.90 649.90,381.90 L649.90,381.90 650.40,381.90 L650.40,381.90 650.90,381.90 L650.90,381.90 651.40,381.90 L651.40,381.90 651.90,381.90 L651.90,381.90 652.40,381.90 L652.40,381.90 652.90,381.90 L652.90,381.90 653.40,381.90 L653.40,381.90 653.90,381.90 L653.90,381.90 654.40,381.90 L654.40,381.90 654.90,381.90 L654.90,381.90 655.40,381.90 L655.40,381.90 655.70,381.90 L655.7,382.90 Z" fill="#4cd383"/>
<line x1="524.9" y1="384.5" x2="655.7" y2="384.5" stroke="#ababab" stroke-width="1.0"/>
<line x1="524.9" y1="387.5" x2="655.7" y2="387.5" stroke="#929292" stroke-width="1.0"/>
<text x="655.5" y="323.9" font-size="6.2" font-weight="normal" fill="#858585" text-anchor="end">-49-650</text>
<text x="655.5" y="355.3" font-size="6.2" font-weight="normal" fill="#858585" text-anchor="end">-49-650</text>
<circle cx="670.7" cy="332.1" r="9.6" fill="#fff" stroke="#ec8236" stroke-width="1.35"/>
<circle cx="670.7" cy="332.1" r="6.5" fill="#f9dcc6"/>
<circle cx="670.1" cy="367.9" r="7.4" fill="#fff" stroke="#707070" stroke-width="1.2"/>
<circle cx="670.1" cy="367.9" r="5.0" fill="#e6e6e6"/>
<line x1="252" y1="396.5" x2="331.3" y2="396.5" stroke="#000" stroke-width="0.8"/>
<path d="M263.3,394.7 L261.5,396.5 L263.3,398.3" fill="none" stroke="#000" stroke-width="0.6"/>
<path d="M281.59999999999997,394.7 L279.79999999999995,396.5 L281.59999999999997,398.3" fill="none" stroke="#000" stroke-width="0.6"/>
<path d="M299.09999999999997,394.7 L297.29999999999995,396.5 L299.09999999999997,398.3" fill="none" stroke="#000" stroke-width="0.6"/>
<path d="M317.3,394.7 L315.5,396.5 L317.3,398.3" fill="none" stroke="#000" stroke-width="0.6"/>
<rect x="240.2" y="393.6" width="3.8000000000000114" height="5.8" fill="#000"/>
<rect x="243.9" y="391.6" width="8.699999999999989" height="9.8" fill="#000"/>
<rect x="330.6" y="393.0" width="1.0" height="7" fill="#000"/>
<text x="282.1" y="411.6" font-size="9.0" font-weight="bold" fill="#1a1a1a" text-anchor="start" font-style="italic" textLength="15.3" lengthAdjust="spacingAndGlyphs" stroke="#1a1a1a" stroke-width="0.18">erm</text>
<line x1="347" y1="396.5" x2="376" y2="396.5" stroke="#000" stroke-width="0.8"/>
<rect x="346.5" y="393.0" width="1.5" height="7" fill="#000"/>
<rect x="348.3" y="391.75" width="1.6999999999999886" height="9.5" fill="#000"/>
<rect x="351.5" y="393.25" width="1.5" height="6.5" fill="#000"/>
<rect x="356.5" y="391.75" width="6.0" height="9.5" fill="#000"/>
<rect x="363" y="391.75" width="1.5" height="9.5" fill="#000"/>
<rect x="366" y="393.5" width="1" height="6" fill="#000"/>
<rect x="369.5" y="391.75" width="5.0" height="9.5" fill="#000"/>
<rect x="374.5" y="391.75" width="1.5" height="9.5" fill="#000"/>
<line x1="403" y1="395.3" x2="501" y2="395.3" stroke="#000" stroke-width="0.8"/>
<path d="M414.2,393.5 L412.4,395.3 L414.2,397.1" fill="none" stroke="#000" stroke-width="0.6"/>
<path d="M433.7,393.5 L431.9,395.3 L433.7,397.1" fill="none" stroke="#000" stroke-width="0.6"/>
<path d="M452.2,393.5 L450.4,395.3 L452.2,397.1" fill="none" stroke="#000" stroke-width="0.6"/>
<path d="M465.7,393.5 L463.9,395.3 L465.7,397.1" fill="none" stroke="#000" stroke-width="0.6"/>
<path d="M479.7,393.5 L477.9,395.3 L479.7,397.1" fill="none" stroke="#000" stroke-width="0.6"/>
<path d="M493.7,393.5 L491.9,395.3 L493.7,397.1" fill="none" stroke="#000" stroke-width="0.6"/>
<rect x="394.2" y="392.05" width="4.300000000000011" height="6.5" fill="#000"/>
<rect x="398.5" y="390.8" width="5.600000000000023" height="9" fill="#000"/>
<rect x="415.7" y="391.05" width="0.8000000000000114" height="8.5" fill="#000"/>
<rect x="423.4" y="391.05" width="0.8000000000000114" height="8.5" fill="#000"/>
<rect x="441.8" y="390.8" width="1.3999999999999773" height="9" fill="#000"/>
<rect x="455" y="391.05" width="1" height="8.5" fill="#000"/>
<rect x="498.5" y="392.55" width="2.5" height="5.5" fill="#000"/>
<line x1="512.1" y1="390.5" x2="512.1" y2="400.5" stroke="#000" stroke-width="0.9"/>
<text x="430.4" y="410.8" font-size="9.0" font-weight="bold" fill="#1a1a1a" text-anchor="start" font-style="italic" textLength="16.8" lengthAdjust="spacingAndGlyphs" stroke="#1a1a1a" stroke-width="0.18">ham</text>
<line x1="580" y1="395.3" x2="638" y2="395.3" stroke="#000" stroke-width="0.8"/>
<path d="M584.5,393.5 L586.3000000000001,395.3 L584.5,397.1" fill="none" stroke="#000" stroke-width="0.6"/>
<path d="M595.0,393.5 L596.8000000000001,395.3 L595.0,397.1" fill="none" stroke="#000" stroke-width="0.6"/>
<path d="M605.9,393.5 L607.7,395.3 L605.9,397.1" fill="none" stroke="#000" stroke-width="0.6"/>
<path d="M616.1999999999999,393.5 L618.0,395.3 L616.1999999999999,397.1" fill="none" stroke="#000" stroke-width="0.6"/>
<path d="M627.1999999999999,393.5 L629.0,395.3 L627.1999999999999,397.1" fill="none" stroke="#000" stroke-width="0.6"/>
<rect x="577.4" y="392.3" width="1.6000000000000227" height="6" fill="#000"/>
<rect x="578.8" y="391.05" width="2.900000000000091" height="8.5" fill="#000"/>
<rect x="636" y="391.05" width="1.5" height="8.5" fill="#000"/>
<rect x="637.5" y="391.05" width="3.5" height="8.5" fill="#000"/>
<rect x="641" y="392.55" width="3.2000000000000455" height="5.5" fill="#000"/>
<text x="605.8" y="406.5" font-size="9.0" font-weight="bold" fill="#1a1a1a" text-anchor="start" font-style="italic" textLength="15.4" lengthAdjust="spacingAndGlyphs" stroke="#1a1a1a" stroke-width="0.18">opa</text>
<line x1="28.5" y1="443.2" x2="28.5" y2="486.8" stroke="#222" stroke-width="1.3"/>
<text transform="translate(24.8,464.3) rotate(-90)" x="0" y="0" font-size="10.0" font-weight="bold" fill="#111" text-anchor="middle" textLength="39.4" lengthAdjust="spacingAndGlyphs">H3K27ac</text>
<line x1="28.5" y1="496.2" x2="28.5" y2="539.1" stroke="#222" stroke-width="1.3"/>
<text transform="translate(24.8,516.3) rotate(-90)" x="0" y="0" font-size="10.0" font-weight="bold" fill="#111" text-anchor="middle" textLength="38.8" lengthAdjust="spacingAndGlyphs">H3K14ac</text>
<line x1="28.5" y1="550.2" x2="28.5" y2="593.6" stroke="#222" stroke-width="1.3"/>
<text transform="translate(24.8,570.5) rotate(-90)" x="0" y="0" font-size="10.0" font-weight="bold" fill="#111" text-anchor="middle" textLength="36.9" lengthAdjust="spacingAndGlyphs">H3K4me</text>
<text x="32.8" y="453.6" font-size="8.6" font-weight="bold" fill="#2b8e98" text-anchor="start" textLength="17.3" lengthAdjust="spacingAndGlyphs" stroke="#2b8e98" stroke-width="0.18">NSC</text>
<text x="32.8" y="478.8" font-size="8.6" font-weight="bold" fill="#7ed0cf" text-anchor="start" textLength="43.0" lengthAdjust="spacingAndGlyphs" stroke="#7ed0cf" stroke-width="0.18">Progenitor</text>
<text x="32.8" y="505.6" font-size="8.6" font-weight="bold" fill="#4b93c3" text-anchor="start" textLength="17.3" lengthAdjust="spacingAndGlyphs" stroke="#4b93c3" stroke-width="0.18">NSC</text>
<text x="32.8" y="530.8" font-size="8.6" font-weight="bold" fill="#86c9ee" text-anchor="start" textLength="43.0" lengthAdjust="spacingAndGlyphs" stroke="#86c9ee" stroke-width="0.18">Progenitor</text>
<text x="32.8" y="558.8" font-size="8.6" font-weight="bold" fill="#c23c80" text-anchor="start" textLength="17.3" lengthAdjust="spacingAndGlyphs" stroke="#c23c80" stroke-width="0.18">NSC</text>
<text x="32.8" y="584.2" font-size="8.6" font-weight="bold" fill="#f3b2d0" text-anchor="start" textLength="43.0" lengthAdjust="spacingAndGlyphs" stroke="#f3b2d0" stroke-width="0.18">Progenitor</text>
<text x="50.5" y="616.7" font-size="8.6" font-weight="normal" fill="#8d8d8d" text-anchor="start" textLength="13.9" lengthAdjust="spacingAndGlyphs">IgG</text>
<line x1="68" y1="439.5" x2="195.1" y2="439.5" stroke="#cfcfcf" stroke-width="1.3"/>
<path d="M68.0,466.80 L68.0,464.75 68.7,464.75 L68.7,464.78 69.4,464.78 L69.4,464.65 70.1,464.65 L70.1,464.73 70.8,464.73 L70.8,464.91 71.5,464.91 L71.5,464.79 72.2,464.79 L72.2,465.07 72.9,465.07 L72.9,464.79 73.6,464.79 L73.6,465.03 74.3,465.03 L74.3,465.07 75.0,465.07 L75.0,464.62 75.7,464.62 L75.7,464.69 76.4,464.69 L76.4,464.88 77.1,464.88 L77.1,464.93 77.8,464.93 L77.8,464.38 78.5,464.38 L78.5,464.83 79.2,464.83 L79.2,464.59 79.9,464.59 L79.9,464.96 80.6,464.96 L80.6,464.62 81.3,464.62 L81.3,465.26 82.0,465.26 L82.0,465.12 82.7,465.12 L82.7,464.95 83.4,464.95 L83.4,464.70 84.1,464.70 L84.1,465.10 84.8,465.10 L84.8,465.50 85.5,465.50 L85.5,464.99 86.2,464.99 L86.2,465.73 86.9,465.73 L86.9,465.54 87.6,465.54 L87.6,465.10 88.3,465.10 L88.3,465.10 89.0,465.10 L89.0,464.95 89.7,464.95 L89.7,465.33 90.4,465.33 L90.4,465.17 91.1,465.17 L91.1,464.85 91.8,464.85 L91.8,463.04 92.5,463.04 L92.5,461.45 93.2,461.45 L93.2,459.48 93.9,459.48 L93.9,462.05 94.6,462.05 L94.6,463.40 95.3,463.40 L95.3,464.27 96.0,464.27 L96.0,464.88 96.7,464.88 L96.7,465.08 97.4,465.08 L97.4,464.80 98.1,464.80 L98.1,465.25 98.8,465.25 L98.8,465.27 99.5,465.27 L99.5,465.15 100.2,465.15 L100.2,465.21 100.9,465.21 L100.9,464.93 101.6,464.93 L101.6,464.80 102.3,464.80 L102.3,465.12 103.0,465.12 L103.0,464.76 103.7,464.76 L103.7,464.48 104.4,464.48 L104.4,464.72 105.1,464.72 L105.1,464.27 105.8,464.27 L105.8,464.31 106.5,464.31 L106.5,464.49 107.2,464.49 L107.2,464.75 107.9,464.75 L107.9,464.30 108.6,464.30 L108.6,464.28 109.3,464.28 L109.3,464.46 110.0,464.46 L110.0,464.61 110.7,464.61 L110.7,464.43 111.4,464.43 L111.4,464.25 112.1,464.25 L112.1,463.88 112.8,463.88 L112.8,463.92 113.5,463.92 L113.5,464.43 114.2,464.43 L114.2,463.62 114.9,463.62 L114.9,463.80 115.6,463.80 L115.6,463.81 116.3,463.81 L116.3,462.37 117.0,462.37 L117.0,461.40 117.7,461.40 L117.7,460.08 118.4,460.08 L118.4,460.94 119.1,460.94 L119.1,461.08 119.8,461.08 L119.8,461.57 120.5,461.57 L120.5,463.19 121.2,463.19 L121.2,463.60 121.9,463.60 L121.9,462.28 122.6,462.28 L122.6,461.16 123.3,461.16 L123.3,460.66 124.0,460.66 L124.0,460.16 124.7,460.16 L124.7,460.85 125.4,460.85 L125.4,460.00 126.1,460.00 L126.1,461.16 126.8,461.16 L126.8,462.24 127.5,462.24 L127.5,460.11 128.2,460.11 L128.2,456.49 128.9,456.49 L128.9,456.55 129.6,456.55 L129.6,459.48 130.3,459.48 L130.3,462.56 131.0,462.56 L131.0,463.69 131.7,463.69 L131.7,464.21 132.4,464.21 L132.4,463.53 133.1,463.53 L133.1,463.94 133.8,463.94 L133.8,464.59 134.5,464.59 L134.5,464.56 135.2,464.56 L135.2,464.97 135.9,464.97 L135.9,465.10 136.6,465.10 L136.6,465.35 137.3,465.35 L137.3,465.20 138.0,465.20 L138.0,465.52 138.7,465.52 L138.7,465.32 139.4,465.32 L139.4,464.93 140.1,464.93 L140.1,464.94 140.8,464.94 L140.8,465.00 141.5,465.00 L141.5,465.07 142.2,465.07 L142.2,464.46 142.9,464.46 L142.9,464.83 143.6,464.83 L143.6,464.44 144.3,464.44 L144.3,464.58 145.0,464.58 L145.0,464.66 145.7,464.66 L145.7,464.48 146.4,464.48 L146.4,464.15 147.1,464.15 L147.1,464.75 147.8,464.75 L147.8,464.65 148.5,464.65 L148.5,464.65 149.2,464.65 L149.2,464.66 149.9,464.66 L149.9,465.08 150.6,465.08 L150.6,464.23 151.3,464.23 L151.3,464.43 152.0,464.43 L152.0,463.77 152.7,463.77 L152.7,464.10 153.4,464.10 L153.4,462.91 154.1,462.91 L154.1,463.09 154.8,463.09 L154.8,461.92 155.5,461.92 L155.5,460.76 156.2,460.76 L156.2,459.58 156.9,459.58 L156.9,457.72 157.6,457.72 L157.6,456.14 158.3,456.14 L158.3,454.52 159.0,454.52 L159.0,456.80 159.7,456.80 L159.7,459.61 160.4,459.61 L160.4,461.04 161.1,461.04 L161.1,460.06 161.8,460.06 L161.8,459.48 162.5,459.48 L162.5,458.24 163.2,458.24 L163.2,460.22 163.9,460.22 L163.9,460.08 164.6,460.08 L164.6,459.10 165.3,459.10 L165.3,460.15 166.0,460.15 L166.0,461.88 166.7,461.88 L166.7,461.80 167.4,461.80 L167.4,461.77 168.1,461.77 L168.1,461.71 168.8,461.71 L168.8,462.27 169.5,462.27 L169.5,461.28 170.2,461.28 L170.2,459.16 170.9,459.16 L170.9,457.90 171.6,457.90 L171.6,457.90 172.3,457.90 L172.3,457.78 173.0,457.78 L173.0,459.05 173.7,459.05 L173.7,460.28 174.4,460.28 L174.4,461.61 175.1,461.61 L175.1,462.68 175.8,462.68 L175.8,462.26 176.5,462.26 L176.5,463.11 177.2,463.11 L177.2,462.72 177.9,462.72 L177.9,463.40 178.6,463.40 L178.6,464.08 179.3,464.08 L179.3,463.12 180.0,463.12 L180.0,463.91 180.7,463.91 L180.7,463.20 181.4,463.20 L181.4,461.82 182.1,461.82 L182.1,460.03 182.8,460.03 L182.8,457.22 183.5,457.22 L183.5,453.69 184.2,453.69 L184.2,456.84 184.9,456.84 L184.9,457.85 185.6,457.85 L185.6,459.47 186.3,459.47 L186.3,461.86 187.0,461.86 L187.0,463.87 187.7,463.87 L187.7,462.75 188.4,462.75 L188.4,463.38 189.1,463.38 L189.1,462.12 189.8,462.12 L189.8,461.83 190.5,461.83 L190.5,460.68 191.2,460.68 L191.2,457.37 191.9,457.37 L191.9,459.21 192.6,459.21 L192.6,462.64 193.3,462.64 L193.3,462.62 194.0,462.62 L194.0,463.44 194.7,463.44 L194.7,463.13 195.1,463.13 L195.1,466.80 Z" fill="#14919b"/>
<path d="M68.0,492.90 L68.0,490.88 68.7,490.88 L68.7,490.36 69.4,490.36 L69.4,490.69 70.1,490.69 L70.1,490.32 70.8,490.32 L70.8,490.56 71.5,490.56 L71.5,490.51 72.2,490.51 L72.2,490.40 72.9,490.40 L72.9,490.94 73.6,490.94 L73.6,490.62 74.3,490.62 L74.3,491.15 75.0,491.15 L75.0,490.96 75.7,490.96 L75.7,490.72 76.4,490.72 L76.4,490.58 77.1,490.58 L77.1,491.02 77.8,491.02 L77.8,490.94 78.5,490.94 L78.5,491.06 79.2,491.06 L79.2,491.04 79.9,491.04 L79.9,490.42 80.6,490.42 L80.6,490.44 81.3,490.44 L81.3,491.00 82.0,491.00 L82.0,490.50 82.7,490.50 L82.7,490.38 83.4,490.38 L83.4,490.98 84.1,490.98 L84.1,490.67 84.8,490.67 L84.8,489.79 85.5,489.79 L85.5,490.37 86.2,490.37 L86.2,490.36 86.9,490.36 L86.9,491.05 87.6,491.05 L87.6,490.61 88.3,490.61 L88.3,490.22 89.0,490.22 L89.0,489.88 89.7,489.88 L89.7,491.01 90.4,491.01 L90.4,490.67 91.1,490.67 L91.1,490.80 91.8,490.80 L91.8,488.76 92.5,488.76 L92.5,487.22 93.2,487.22 L93.2,483.77 93.9,483.77 L93.9,485.64 94.6,485.64 L94.6,490.17 95.3,490.17 L95.3,491.25 96.0,491.25 L96.0,491.36 96.7,491.36 L96.7,491.13 97.4,491.13 L97.4,491.13 98.1,491.13 L98.1,490.40 98.8,490.40 L98.8,491.04 99.5,491.04 L99.5,490.88 100.2,490.88 L100.2,490.76 100.9,490.76 L100.9,491.14 101.6,491.14 L101.6,490.47 102.3,490.47 L102.3,490.52 103.0,490.52 L103.0,489.96 103.7,489.96 L103.7,490.05 104.4,490.05 L104.4,489.43 105.1,489.43 L105.1,489.16 105.8,489.16 L105.8,489.73 106.5,489.73 L106.5,489.29 107.2,489.29 L107.2,490.27 107.9,490.27 L107.9,489.22 108.6,489.22 L108.6,489.76 109.3,489.76 L109.3,489.19 110.0,489.19 L110.0,488.26 110.7,488.26 L110.7,487.45 111.4,487.45 L111.4,487.46 112.1,487.46 L112.1,486.77 112.8,486.77 L112.8,486.86 113.5,486.86 L113.5,487.14 114.2,487.14 L114.2,487.19 114.9,487.19 L114.9,485.54 115.6,485.54 L115.6,486.67 116.3,486.67 L116.3,485.38 117.0,485.38 L117.0,485.41 117.7,485.41 L117.7,484.11 118.4,484.11 L118.4,484.03 119.1,484.03 L119.1,479.51 119.8,479.51 L119.8,482.20 120.5,482.20 L120.5,484.26 121.2,484.26 L121.2,483.47 121.9,483.47 L121.9,486.51 122.6,486.51 L122.6,486.10 123.3,486.10 L123.3,485.53 124.0,485.53 L124.0,485.32 124.7,485.32 L124.7,485.92 125.4,485.92 L125.4,484.29 126.1,484.29 L126.1,485.35 126.8,485.35 L126.8,487.21 127.5,487.21 L127.5,484.17 128.2,484.17 L128.2,482.95 128.9,482.95 L128.9,480.13 129.6,480.13 L129.6,481.94 130.3,481.94 L130.3,485.65 131.0,485.65 L131.0,488.00 131.7,488.00 L131.7,488.83 132.4,488.83 L132.4,488.88 133.1,488.88 L133.1,489.48 133.8,489.48 L133.8,488.87 134.5,488.87 L134.5,489.81 135.2,489.81 L135.2,489.01 135.9,489.01 L135.9,489.57 136.6,489.57 L136.6,489.79 137.3,489.79 L137.3,490.42 138.0,490.42 L138.0,489.82 138.7,489.82 L138.7,489.86 139.4,489.86 L139.4,490.34 140.1,490.34 L140.1,490.33 140.8,490.33 L140.8,489.68 141.5,489.68 L141.5,490.30 142.2,490.30 L142.2,489.37 142.9,489.37 L142.9,490.02 143.6,490.02 L143.6,489.72 144.3,489.72 L144.3,489.81 145.0,489.81 L145.0,490.34 145.7,490.34 L145.7,490.44 146.4,490.44 L146.4,490.33 147.1,490.33 L147.1,490.21 147.8,490.21 L147.8,489.81 148.5,489.81 L148.5,489.54 149.2,489.54 L149.2,489.75 149.9,489.75 L149.9,489.89 150.6,489.89 L150.6,489.51 151.3,489.51 L151.3,489.38 152.0,489.38 L152.0,489.42 152.7,489.42 L152.7,489.89 153.4,489.89 L153.4,489.61 154.1,489.61 L154.1,489.09 154.8,489.09 L154.8,488.19 155.5,488.19 L155.5,488.63 156.2,488.63 L156.2,489.11 156.9,489.11 L156.9,488.46 157.6,488.46 L157.6,488.54 158.3,488.54 L158.3,487.42 159.0,487.42 L159.0,487.48 159.7,487.48 L159.7,486.95 160.4,486.95 L160.4,486.07 161.1,486.07 L161.1,486.90 161.8,486.90 L161.8,485.54 162.5,485.54 L162.5,487.07 163.2,487.07 L163.2,487.89 163.9,487.89 L163.9,487.22 164.6,487.22 L164.6,487.37 165.3,487.37 L165.3,487.58 166.0,487.58 L166.0,485.43 166.7,485.43 L166.7,485.49 167.4,485.49 L167.4,481.66 168.1,481.66 L168.1,483.71 168.8,483.71 L168.8,483.11 169.5,483.11 L169.5,485.80 170.2,485.80 L170.2,486.42 170.9,486.42 L170.9,486.61 171.6,486.61 L171.6,487.95 172.3,487.95 L172.3,485.89 173.0,485.89 L173.0,485.17 173.7,485.17 L173.7,483.02 174.4,483.02 L174.4,478.90 175.1,478.90 L175.1,482.63 175.8,482.63 L175.8,486.25 176.5,486.25 L176.5,488.13 177.2,488.13 L177.2,488.36 177.9,488.36 L177.9,487.49 178.6,487.49 L178.6,489.22 179.3,489.22 L179.3,489.57 180.0,489.57 L180.0,489.99 180.7,489.99 L180.7,490.14 181.4,490.14 L181.4,489.89 182.1,489.89 L182.1,490.11 182.8,490.11 L182.8,489.06 183.5,489.06 L183.5,490.27 184.2,490.27 L184.2,489.57 184.9,489.57 L184.9,489.60 185.6,489.60 L185.6,486.98 186.3,486.98 L186.3,481.66 187.0,481.66 L187.0,477.93 187.7,477.93 L187.7,483.51 188.4,483.51 L188.4,485.60 189.1,485.60 L189.1,487.72 189.8,487.72 L189.8,489.90 190.5,489.90 L190.5,489.38 191.2,489.38 L191.2,490.13 191.9,490.13 L191.9,490.03 192.6,490.03 L192.6,489.68 193.3,489.68 L193.3,488.78 194.0,488.78 L194.0,486.50 194.7,486.50 L194.7,487.17 195.1,487.17 L195.1,492.90 Z" fill="#3fcfcf"/>
<path d="M68.0,519.20 L68.0,511.74 68.7,511.74 L68.7,512.94 69.4,512.94 L69.4,514.17 70.1,514.17 L70.1,514.13 70.8,514.13 L70.8,512.70 71.5,512.70 L71.5,512.59 72.2,512.59 L72.2,510.06 72.9,510.06 L72.9,507.39 73.6,507.39 L73.6,507.57 74.3,507.57 L74.3,506.01 75.0,506.01 L75.0,509.16 75.7,509.16 L75.7,509.25 76.4,509.25 L76.4,512.28 77.1,512.28 L77.1,509.77 77.8,509.77 L77.8,510.13 78.5,510.13 L78.5,509.38 79.2,509.38 L79.2,506.58 79.9,506.58 L79.9,507.46 80.6,507.46 L80.6,505.37 81.3,505.37 L81.3,510.33 82.0,510.33 L82.0,512.11 82.7,512.11 L82.7,514.40 83.4,514.40 L83.4,513.63 84.1,513.63 L84.1,513.93 84.8,513.93 L84.8,512.10 85.5,512.10 L85.5,508.17 86.2,508.17 L86.2,505.77 86.9,505.77 L86.9,509.49 87.6,509.49 L87.6,511.13 88.3,511.13 L88.3,512.31 89.0,512.31 L89.0,514.04 89.7,514.04 L89.7,515.12 90.4,515.12 L90.4,515.37 91.1,515.37 L91.1,515.20 91.8,515.20 L91.8,512.24 92.5,512.24 L92.5,508.04 93.2,508.04 L93.2,500.90 93.9,500.90 L93.9,504.30 94.6,504.30 L94.6,511.34 95.3,511.34 L95.3,514.79 96.0,514.79 L96.0,515.49 96.7,515.49 L96.7,514.83 97.4,514.83 L97.4,515.21 98.1,515.21 L98.1,515.82 98.8,515.82 L98.8,514.17 99.5,514.17 L99.5,515.35 100.2,515.35 L100.2,515.22 100.9,515.22 L100.9,513.59 101.6,513.59 L101.6,513.79 102.3,513.79 L102.3,513.91 103.0,513.91 L103.0,513.65 103.7,513.65 L103.7,514.43 104.4,514.43 L104.4,515.69 105.1,515.69 L105.1,515.42 105.8,515.42 L105.8,515.29 106.5,515.29 L106.5,515.91 107.2,515.91 L107.2,515.41 107.9,515.41 L107.9,515.92 108.6,515.92 L108.6,516.05 109.3,516.05 L109.3,516.61 110.0,516.61 L110.0,515.57 110.7,515.57 L110.7,514.36 111.4,514.36 L111.4,513.36 112.1,513.36 L112.1,513.81 112.8,513.81 L112.8,509.66 113.5,509.66 L113.5,509.89 114.2,509.89 L114.2,511.26 114.9,511.26 L114.9,513.84 115.6,513.84 L115.6,513.78 116.3,513.78 L116.3,514.66 117.0,514.66 L117.0,515.44 117.7,515.44 L117.7,515.99 118.4,515.99 L118.4,515.56 119.1,515.56 L119.1,516.24 119.8,516.24 L119.8,515.65 120.5,515.65 L120.5,515.93 121.2,515.93 L121.2,515.97 121.9,515.97 L121.9,515.26 122.6,515.26 L122.6,516.33 123.3,516.33 L123.3,514.91 124.0,514.91 L124.0,515.69 124.7,515.69 L124.7,515.74 125.4,515.74 L125.4,516.34 126.1,516.34 L126.1,514.54 126.8,514.54 L126.8,511.46 127.5,511.46 L127.5,501.60 128.2,501.60 L128.2,504.23 128.9,504.23 L128.9,506.70 129.6,506.70 L129.6,513.37 130.3,513.37 L130.3,514.71 131.0,514.71 L131.0,515.40 131.7,515.40 L131.7,515.81 132.4,515.81 L132.4,515.08 133.1,515.08 L133.1,515.56 133.8,515.56 L133.8,516.71 134.5,516.71 L134.5,516.87 135.2,516.87 L135.2,517.21 135.9,517.21 L135.9,517.01 136.6,517.01 L136.6,517.29 137.3,517.29 L137.3,517.27 138.0,517.27 L138.0,517.39 138.7,517.39 L138.7,517.17 139.4,517.17 L139.4,517.57 140.1,517.57 L140.1,517.74 140.8,517.74 L140.8,517.24 141.5,517.24 L141.5,516.96 142.2,516.96 L142.2,517.12 142.9,517.12 L142.9,517.24 143.6,517.24 L143.6,517.06 144.3,517.06 L144.3,517.14 145.0,517.14 L145.0,517.47 145.7,517.47 L145.7,517.41 146.4,517.41 L146.4,517.47 147.1,517.47 L147.1,517.00 147.8,517.00 L147.8,517.24 148.5,517.24 L148.5,516.97 149.2,516.97 L149.2,517.61 149.9,517.61 L149.9,517.26 150.6,517.26 L150.6,517.59 151.3,517.59 L151.3,517.39 152.0,517.39 L152.0,516.86 152.7,516.86 L152.7,516.64 153.4,516.64 L153.4,516.12 154.1,516.12 L154.1,515.78 154.8,515.78 L154.8,513.98 155.5,513.98 L155.5,511.60 156.2,511.60 L156.2,511.60 156.9,511.60 L156.9,509.47 157.6,509.47 L157.6,510.93 158.3,510.93 L158.3,513.27 159.0,513.27 L159.0,514.17 159.7,514.17 L159.7,515.98 160.4,515.98 L160.4,514.86 161.1,514.86 L161.1,514.71 161.8,514.71 L161.8,513.74 162.5,513.74 L162.5,513.68 163.2,513.68 L163.2,512.74 163.9,512.74 L163.9,514.95 164.6,514.95 L164.6,515.73 165.3,515.73 L165.3,516.30 166.0,516.30 L166.0,516.40 166.7,516.40 L166.7,516.86 167.4,516.86 L167.4,516.69 168.1,516.69 L168.1,517.37 168.8,517.37 L168.8,517.40 169.5,517.40 L169.5,517.10 170.2,517.10 L170.2,517.08 170.9,517.08 L170.9,515.47 171.6,515.47 L171.6,512.60 172.3,512.60 L172.3,510.77 173.0,510.77 L173.0,512.23 173.7,512.23 L173.7,514.92 174.4,514.92 L174.4,515.79 175.1,515.79 L175.1,516.10 175.8,516.10 L175.8,515.87 176.5,515.87 L176.5,516.43 177.2,516.43 L177.2,516.18 177.9,516.18 L177.9,516.50 178.6,516.50 L178.6,516.67 179.3,516.67 L179.3,516.91 180.0,516.91 L180.0,516.51 180.7,516.51 L180.7,516.90 181.4,516.90 L181.4,517.37 182.1,517.37 L182.1,516.11 182.8,516.11 L182.8,513.02 183.5,513.02 L183.5,509.64 184.2,509.64 L184.2,506.23 184.9,506.23 L184.9,513.21 185.6,513.21 L185.6,515.73 186.3,515.73 L186.3,516.23 187.0,516.23 L187.0,517.01 187.7,517.01 L187.7,516.83 188.4,516.83 L188.4,517.42 189.1,517.42 L189.1,516.53 189.8,516.53 L189.8,515.70 190.5,515.70 L190.5,513.35 191.2,513.35 L191.2,512.80 191.9,512.80 L191.9,514.53 192.6,514.53 L192.6,515.35 193.3,515.35 L193.3,516.43 194.0,516.43 L194.0,517.43 194.7,517.43 L194.7,517.00 195.1,517.00 L195.1,519.20 Z" fill="#1e98c9"/>
<path d="M68.0,545.60 L68.0,541.71 68.7,541.71 L68.7,541.89 69.4,541.89 L69.4,542.16 70.1,542.16 L70.1,542.72 70.8,542.72 L70.8,542.19 71.5,542.19 L71.5,541.93 72.2,541.93 L72.2,542.08 72.9,542.08 L72.9,542.05 73.6,542.05 L73.6,542.00 74.3,542.00 L74.3,542.72 75.0,542.72 L75.0,542.21 75.7,542.21 L75.7,542.85 76.4,542.85 L76.4,542.08 77.1,542.08 L77.1,542.93 77.8,542.93 L77.8,543.15 78.5,543.15 L78.5,542.58 79.2,542.58 L79.2,542.41 79.9,542.41 L79.9,542.73 80.6,542.73 L80.6,542.83 81.3,542.83 L81.3,542.69 82.0,542.69 L82.0,543.01 82.7,543.01 L82.7,543.14 83.4,543.14 L83.4,543.55 84.1,543.55 L84.1,543.53 84.8,543.53 L84.8,542.91 85.5,542.91 L85.5,543.27 86.2,543.27 L86.2,542.34 86.9,542.34 L86.9,542.20 87.6,542.20 L87.6,542.36 88.3,542.36 L88.3,543.13 89.0,543.13 L89.0,542.78 89.7,542.78 L89.7,542.14 90.4,542.14 L90.4,542.56 91.1,542.56 L91.1,540.92 91.8,540.92 L91.8,540.26 92.5,540.26 L92.5,531.12 93.2,531.12 L93.2,530.91 93.9,530.91 L93.9,533.49 94.6,533.49 L94.6,538.87 95.3,538.87 L95.3,542.43 96.0,542.43 L96.0,542.19 96.7,542.19 L96.7,542.34 97.4,542.34 L97.4,542.12 98.1,542.12 L98.1,542.42 98.8,542.42 L98.8,542.04 99.5,542.04 L99.5,542.89 100.2,542.89 L100.2,542.13 100.9,542.13 L100.9,542.07 101.6,542.07 L101.6,542.78 102.3,542.78 L102.3,542.06 103.0,542.06 L103.0,543.04 103.7,543.04 L103.7,542.58 104.4,542.58 L104.4,542.82 105.1,542.82 L105.1,541.47 105.8,541.47 L105.8,542.36 106.5,542.36 L106.5,542.25 107.2,542.25 L107.2,542.75 107.9,542.75 L107.9,541.88 108.6,541.88 L108.6,541.33 109.3,541.33 L109.3,542.08 110.0,542.08 L110.0,542.60 110.7,542.60 L110.7,540.84 111.4,540.84 L111.4,540.69 112.1,540.69 L112.1,542.15 112.8,542.15 L112.8,541.37 113.5,541.37 L113.5,539.35 114.2,539.35 L114.2,539.11 114.9,539.11 L114.9,538.54 115.6,538.54 L115.6,534.89 116.3,534.89 L116.3,531.77 117.0,531.77 L117.0,534.76 117.7,534.76 L117.7,533.28 118.4,533.28 L118.4,532.91 119.1,532.91 L119.1,535.63 119.8,535.63 L119.8,537.94 120.5,537.94 L120.5,538.60 121.2,538.60 L121.2,540.95 121.9,540.95 L121.9,539.80 122.6,539.80 L122.6,541.08 123.3,541.08 L123.3,541.32 124.0,541.32 L124.0,541.76 124.7,541.76 L124.7,540.35 125.4,540.35 L125.4,540.37 126.1,540.37 L126.1,539.95 126.8,539.95 L126.8,534.05 127.5,534.05 L127.5,531.09 128.2,531.09 L128.2,531.74 128.9,531.74 L128.9,533.65 129.6,533.65 L129.6,538.17 130.3,538.17 L130.3,540.86 131.0,540.86 L131.0,541.04 131.7,541.04 L131.7,541.47 132.4,541.47 L132.4,541.33 133.1,541.33 L133.1,541.79 133.8,541.79 L133.8,541.08 134.5,541.08 L134.5,542.07 135.2,542.07 L135.2,543.25 135.9,543.25 L135.9,543.45 136.6,543.45 L136.6,543.71 137.3,543.71 L137.3,543.21 138.0,543.21 L138.0,543.86 138.7,543.86 L138.7,543.67 139.4,543.67 L139.4,543.32 140.1,543.32 L140.1,543.30 140.8,543.30 L140.8,543.49 141.5,543.49 L141.5,543.45 142.2,543.45 L142.2,543.76 142.9,543.76 L142.9,543.03 143.6,543.03 L143.6,542.90 144.3,542.90 L144.3,542.60 145.0,542.60 L145.0,542.46 145.7,542.46 L145.7,542.80 146.4,542.80 L146.4,543.16 147.1,543.16 L147.1,542.60 147.8,542.60 L147.8,543.33 148.5,543.33 L148.5,543.51 149.2,543.51 L149.2,542.67 149.9,542.67 L149.9,543.02 150.6,543.02 L150.6,543.27 151.3,543.27 L151.3,543.28 152.0,543.28 L152.0,542.07 152.7,542.07 L152.7,542.55 153.4,542.55 L153.4,541.72 154.1,541.72 L154.1,542.20 154.8,542.20 L154.8,542.77 155.5,542.77 L155.5,542.48 156.2,542.48 L156.2,542.05 156.9,542.05 L156.9,542.89 157.6,542.89 L157.6,542.71 158.3,542.71 L158.3,542.83 159.0,542.83 L159.0,542.84 159.7,542.84 L159.7,542.40 160.4,542.40 L160.4,542.64 161.1,542.64 L161.1,541.01 161.8,541.01 L161.8,539.87 162.5,539.87 L162.5,540.30 163.2,540.30 L163.2,538.30 163.9,538.30 L163.9,538.81 164.6,538.81 L164.6,539.82 165.3,539.82 L165.3,539.71 166.0,539.71 L166.0,541.23 166.7,541.23 L166.7,541.40 167.4,541.40 L167.4,542.83 168.1,542.83 L168.1,542.77 168.8,542.77 L168.8,543.04 169.5,543.04 L169.5,542.15 170.2,542.15 L170.2,541.18 170.9,541.18 L170.9,539.00 171.6,539.00 L171.6,537.82 172.3,537.82 L172.3,534.49 173.0,534.49 L173.0,538.07 173.7,538.07 L173.7,539.58 174.4,539.58 L174.4,541.63 175.1,541.63 L175.1,542.51 175.8,542.51 L175.8,542.71 176.5,542.71 L176.5,543.26 177.2,543.26 L177.2,542.70 177.9,542.70 L177.9,542.74 178.6,542.74 L178.6,543.21 179.3,543.21 L179.3,543.28 180.0,543.28 L180.0,543.34 180.7,543.34 L180.7,543.26 181.4,543.26 L181.4,543.11 182.1,543.11 L182.1,540.43 182.8,540.43 L182.8,539.17 183.5,539.17 L183.5,535.01 184.2,535.01 L184.2,536.22 184.9,536.22 L184.9,539.35 185.6,539.35 L185.6,541.18 186.3,541.18 L186.3,541.95 187.0,541.95 L187.0,543.17 187.7,543.17 L187.7,542.77 188.4,542.77 L188.4,542.95 189.1,542.95 L189.1,542.96 189.8,542.96 L189.8,542.20 190.5,542.20 L190.5,540.04 191.2,540.04 L191.2,538.91 191.9,538.91 L191.9,540.50 192.6,540.50 L192.6,542.38 193.3,542.38 L193.3,542.87 194.0,542.87 L194.0,543.67 194.7,543.67 L194.7,543.00 195.1,543.00 L195.1,545.60 Z" fill="#4fcaf2"/>
<path d="M68.0,571.70 L68.0,569.49 68.7,569.49 L68.7,569.60 69.4,569.60 L69.4,569.27 70.1,569.27 L70.1,568.80 70.8,568.80 L70.8,568.68 71.5,568.68 L71.5,568.43 72.2,568.43 L72.2,569.56 72.9,569.56 L72.9,568.61 73.6,568.61 L73.6,569.15 74.3,569.15 L74.3,568.80 75.0,568.80 L75.0,568.67 75.7,568.67 L75.7,568.94 76.4,568.94 L76.4,569.53 77.1,569.53 L77.1,569.64 77.8,569.64 L77.8,569.22 78.5,569.22 L78.5,568.85 79.2,568.85 L79.2,568.64 79.9,568.64 L79.9,569.28 80.6,569.28 L80.6,569.55 81.3,569.55 L81.3,569.31 82.0,569.31 L82.0,568.36 82.7,568.36 L82.7,568.60 83.4,568.60 L83.4,568.75 84.1,568.75 L84.1,568.67 84.8,568.67 L84.8,569.05 85.5,569.05 L85.5,569.19 86.2,569.19 L86.2,568.46 86.9,568.46 L86.9,568.40 87.6,568.40 L87.6,569.42 88.3,569.42 L88.3,569.12 89.0,569.12 L89.0,569.26 89.7,569.26 L89.7,569.12 90.4,569.12 L90.4,568.58 91.1,568.58 L91.1,567.04 91.8,567.04 L91.8,561.70 92.5,561.70 L92.5,558.47 93.2,558.47 L93.2,552.72 93.9,552.72 L93.9,559.00 94.6,559.00 L94.6,564.20 95.3,564.20 L95.3,567.23 96.0,567.23 L96.0,568.82 96.7,568.82 L96.7,569.31 97.4,569.31 L97.4,569.26 98.1,569.26 L98.1,568.85 98.8,568.85 L98.8,568.89 99.5,568.89 L99.5,568.90 100.2,568.90 L100.2,568.37 100.9,568.37 L100.9,568.91 101.6,568.91 L101.6,567.60 102.3,567.60 L102.3,567.90 103.0,567.90 L103.0,567.23 103.7,567.23 L103.7,567.92 104.4,567.92 L104.4,568.17 105.1,568.17 L105.1,567.60 105.8,567.60 L105.8,566.26 106.5,566.26 L106.5,566.13 107.2,566.13 L107.2,562.84 107.9,562.84 L107.9,561.86 108.6,561.86 L108.6,563.00 109.3,563.00 L109.3,562.89 110.0,562.89 L110.0,565.74 110.7,565.74 L110.7,564.94 111.4,564.94 L111.4,565.88 112.1,565.88 L112.1,566.61 112.8,566.61 L112.8,566.60 113.5,566.60 L113.5,567.23 114.2,567.23 L114.2,566.20 114.9,566.20 L114.9,567.41 115.6,567.41 L115.6,566.67 116.3,566.67 L116.3,563.38 117.0,563.38 L117.0,562.68 117.7,562.68 L117.7,562.21 118.4,562.21 L118.4,563.57 119.1,563.57 L119.1,564.88 119.8,564.88 L119.8,566.34 120.5,566.34 L120.5,567.83 121.2,567.83 L121.2,567.28 121.9,567.28 L121.9,566.89 122.6,566.89 L122.6,567.64 123.3,567.64 L123.3,567.70 124.0,567.70 L124.0,567.72 124.7,567.72 L124.7,567.59 125.4,567.59 L125.4,565.94 126.1,565.94 L126.1,564.40 126.8,564.40 L126.8,560.88 127.5,560.88 L127.5,551.03 128.2,551.03 L128.2,554.74 128.9,554.74 L128.9,553.62 129.6,553.62 L129.6,562.97 130.3,562.97 L130.3,566.53 131.0,566.53 L131.0,566.78 131.7,566.78 L131.7,568.36 132.4,568.36 L132.4,568.36 133.1,568.36 L133.1,568.13 133.8,568.13 L133.8,568.59 134.5,568.59 L134.5,567.37 135.2,567.37 L135.2,568.42 135.9,568.42 L135.9,567.95 136.6,567.95 L136.6,567.40 137.3,567.40 L137.3,566.53 138.0,566.53 L138.0,567.87 138.7,567.87 L138.7,568.36 139.4,568.36 L139.4,567.47 140.1,567.47 L140.1,567.14 140.8,567.14 L140.8,567.08 141.5,567.08 L141.5,567.80 142.2,567.80 L142.2,567.34 142.9,567.34 L142.9,567.36 143.6,567.36 L143.6,567.81 144.3,567.81 L144.3,567.21 145.0,567.21 L145.0,567.33 145.7,567.33 L145.7,566.17 146.4,566.17 L146.4,567.47 147.1,567.47 L147.1,566.72 147.8,566.72 L147.8,566.85 148.5,566.85 L148.5,567.59 149.2,567.59 L149.2,567.90 149.9,567.90 L149.9,568.19 150.6,568.19 L150.6,567.76 151.3,567.76 L151.3,567.77 152.0,567.77 L152.0,568.14 152.7,568.14 L152.7,567.68 153.4,567.68 L153.4,565.70 154.1,565.70 L154.1,565.50 154.8,565.50 L154.8,562.57 155.5,562.57 L155.5,562.33 156.2,562.33 L156.2,559.12 156.9,559.12 L156.9,560.07 157.6,560.07 L157.6,554.44 158.3,554.44 L158.3,556.14 159.0,556.14 L159.0,557.87 159.7,557.87 L159.7,559.62 160.4,559.62 L160.4,562.51 161.1,562.51 L161.1,560.06 161.8,560.06 L161.8,561.07 162.5,561.07 L162.5,561.99 163.2,561.99 L163.2,561.42 163.9,561.42 L163.9,561.50 164.6,561.50 L164.6,560.67 165.3,560.67 L165.3,564.00 166.0,564.00 L166.0,565.16 166.7,565.16 L166.7,564.59 167.4,564.59 L167.4,565.06 168.1,565.06 L168.1,566.38 168.8,566.38 L168.8,567.14 169.5,567.14 L169.5,566.51 170.2,566.51 L170.2,563.33 170.9,563.33 L170.9,563.38 171.6,563.38 L171.6,557.27 172.3,557.27 L172.3,560.70 173.0,560.70 L173.0,557.07 173.7,557.07 L173.7,561.59 174.4,561.59 L174.4,565.62 175.1,565.62 L175.1,567.05 175.8,567.05 L175.8,566.34 176.5,566.34 L176.5,566.92 177.2,566.92 L177.2,566.42 177.9,566.42 L177.9,567.42 178.6,567.42 L178.6,567.97 179.3,567.97 L179.3,567.32 180.0,567.32 L180.0,568.99 180.7,568.99 L180.7,568.64 181.4,568.64 L181.4,567.28 182.1,567.28 L182.1,562.15 182.8,562.15 L182.8,557.63 183.5,557.63 L183.5,550.64 184.2,550.64 L184.2,548.52 184.9,548.52 L184.9,558.80 185.6,558.80 L185.6,564.80 186.3,564.80 L186.3,567.33 187.0,567.33 L187.0,568.12 187.7,568.12 L187.7,568.46 188.4,568.46 L188.4,568.26 189.1,568.26 L189.1,566.73 189.8,566.73 L189.8,563.36 190.5,563.36 L190.5,554.69 191.2,554.69 L191.2,553.97 191.9,553.97 L191.9,557.01 192.6,557.01 L192.6,564.04 193.3,564.04 L193.3,567.32 194.0,567.32 L194.0,567.88 194.7,567.88 L194.7,568.87 195.1,568.87 L195.1,571.70 Z" fill="#d9307f"/>
<path d="M68.0,598.40 L68.0,594.69 68.7,594.69 L68.7,594.75 69.4,594.75 L69.4,594.13 70.1,594.13 L70.1,595.36 70.8,595.36 L70.8,594.12 71.5,594.12 L71.5,595.28 72.2,595.28 L72.2,595.63 72.9,595.63 L72.9,594.58 73.6,594.58 L73.6,594.72 74.3,594.72 L74.3,595.68 75.0,595.68 L75.0,595.72 75.7,595.72 L75.7,594.19 76.4,594.19 L76.4,593.91 77.1,593.91 L77.1,594.03 77.8,594.03 L77.8,594.16 78.5,594.16 L78.5,594.37 79.2,594.37 L79.2,594.47 79.9,594.47 L79.9,594.50 80.6,594.50 L80.6,594.76 81.3,594.76 L81.3,594.52 82.0,594.52 L82.0,595.05 82.7,595.05 L82.7,595.09 83.4,595.09 L83.4,595.35 84.1,595.35 L84.1,594.72 84.8,594.72 L84.8,595.12 85.5,595.12 L85.5,594.97 86.2,594.97 L86.2,594.21 86.9,594.21 L86.9,594.44 87.6,594.44 L87.6,595.52 88.3,595.52 L88.3,595.17 89.0,595.17 L89.0,594.42 89.7,594.42 L89.7,595.05 90.4,595.05 L90.4,594.32 91.1,594.32 L91.1,594.06 91.8,594.06 L91.8,586.23 92.5,586.23 L92.5,577.30 93.2,577.30 L93.2,577.76 93.9,577.76 L93.9,578.53 94.6,578.53 L94.6,589.64 95.3,589.64 L95.3,593.17 96.0,593.17 L96.0,594.64 96.7,594.64 L96.7,595.47 97.4,595.47 L97.4,595.12 98.1,595.12 L98.1,595.91 98.8,595.91 L98.8,594.72 99.5,594.72 L99.5,594.95 100.2,594.95 L100.2,594.68 100.9,594.68 L100.9,595.07 101.6,595.07 L101.6,594.42 102.3,594.42 L102.3,594.03 103.0,594.03 L103.0,593.01 103.7,593.01 L103.7,592.19 104.4,592.19 L104.4,591.03 105.1,591.03 L105.1,592.53 105.8,592.53 L105.8,590.98 106.5,590.98 L106.5,591.04 107.2,591.04 L107.2,592.75 107.9,592.75 L107.9,591.45 108.6,591.45 L108.6,592.01 109.3,592.01 L109.3,590.52 110.0,590.52 L110.0,590.42 110.7,590.42 L110.7,587.38 111.4,587.38 L111.4,592.22 112.1,592.22 L112.1,591.66 112.8,591.66 L112.8,593.25 113.5,593.25 L113.5,593.35 114.2,593.35 L114.2,592.05 114.9,592.05 L114.9,591.45 115.6,591.45 L115.6,591.96 116.3,591.96 L116.3,589.85 117.0,589.85 L117.0,586.93 117.7,586.93 L117.7,586.32 118.4,586.32 L118.4,590.25 119.1,590.25 L119.1,593.07 119.8,593.07 L119.8,593.63 120.5,593.63 L120.5,591.32 121.2,591.32 L121.2,591.01 121.9,591.01 L121.9,592.33 122.6,592.33 L122.6,591.50 123.3,591.50 L123.3,591.09 124.0,591.09 L124.0,590.54 124.7,590.54 L124.7,591.83 125.4,591.83 L125.4,592.84 126.1,592.84 L126.1,589.25 126.8,589.25 L126.8,584.46 127.5,584.46 L127.5,575.74 128.2,575.74 L128.2,578.36 128.9,578.36 L128.9,578.85 129.6,578.85 L129.6,586.46 130.3,586.46 L130.3,591.17 131.0,591.17 L131.0,590.43 131.7,590.43 L131.7,592.99 132.4,592.99 L132.4,592.65 133.1,592.65 L133.1,590.01 133.8,590.01 L133.8,592.73 134.5,592.73 L134.5,592.12 135.2,592.12 L135.2,592.86 135.9,592.86 L135.9,591.22 136.6,591.22 L136.6,592.16 137.3,592.16 L137.3,591.23 138.0,591.23 L138.0,591.48 138.7,591.48 L138.7,591.80 139.4,591.80 L139.4,593.01 140.1,593.01 L140.1,593.33 140.8,593.33 L140.8,593.10 141.5,593.10 L141.5,593.26 142.2,593.26 L142.2,594.31 142.9,594.31 L142.9,592.42 143.6,592.42 L143.6,592.10 144.3,592.10 L144.3,591.19 145.0,591.19 L145.0,588.60 145.7,588.60 L145.7,586.74 146.4,586.74 L146.4,589.79 147.1,589.79 L147.1,592.43 147.8,592.43 L147.8,592.75 148.5,592.75 L148.5,592.67 149.2,592.67 L149.2,593.32 149.9,593.32 L149.9,593.94 150.6,593.94 L150.6,592.25 151.3,592.25 L151.3,589.91 152.0,589.91 L152.0,592.61 152.7,592.61 L152.7,592.88 153.4,592.88 L153.4,592.31 154.1,592.31 L154.1,592.46 154.8,592.46 L154.8,591.39 155.5,591.39 L155.5,592.23 156.2,592.23 L156.2,591.69 156.9,591.69 L156.9,593.09 157.6,593.09 L157.6,593.29 158.3,593.29 L158.3,590.71 159.0,590.71 L159.0,591.10 159.7,591.10 L159.7,591.11 160.4,591.11 L160.4,590.56 161.1,590.56 L161.1,589.72 161.8,589.72 L161.8,589.53 162.5,589.53 L162.5,587.64 163.2,587.64 L163.2,584.66 163.9,584.66 L163.9,585.54 164.6,585.54 L164.6,585.02 165.3,585.02 L165.3,588.59 166.0,588.59 L166.0,592.28 166.7,592.28 L166.7,593.68 167.4,593.68 L167.4,592.94 168.1,592.94 L168.1,591.74 168.8,591.74 L168.8,593.20 169.5,593.20 L169.5,593.22 170.2,593.22 L170.2,591.73 170.9,591.73 L170.9,588.77 171.6,588.77 L171.6,579.87 172.3,579.87 L172.3,576.61 173.0,576.61 L173.0,581.03 173.7,581.03 L173.7,588.37 174.4,588.37 L174.4,591.07 175.1,591.07 L175.1,592.42 175.8,592.42 L175.8,591.16 176.5,591.16 L176.5,592.65 177.2,592.65 L177.2,593.15 177.9,593.15 L177.9,592.54 178.6,592.54 L178.6,593.67 179.3,593.67 L179.3,594.63 180.0,594.63 L180.0,594.45 180.7,594.45 L180.7,594.84 181.4,594.84 L181.4,594.24 182.1,594.24 L182.1,592.12 182.8,592.12 L182.8,586.75 183.5,586.75 L183.5,579.45 184.2,579.45 L184.2,576.25 184.9,576.25 L184.9,588.84 185.6,588.84 L185.6,592.99 186.3,592.99 L186.3,593.34 187.0,593.34 L187.0,592.71 187.7,592.71 L187.7,594.44 188.4,594.44 L188.4,594.34 189.1,594.34 L189.1,592.33 189.8,592.33 L189.8,588.99 190.5,588.99 L190.5,580.46 191.2,580.46 L191.2,574.40 191.9,574.40 L191.9,584.59 192.6,584.59 L192.6,588.61 193.3,588.61 L193.3,593.88 194.0,593.88 L194.0,595.32 194.7,595.32 L194.7,594.10 195.1,594.10 L195.1,598.40 Z" fill="#f9b3d1"/>
<path d="M68.0,624.60 L68.0,621.69 68.7,621.69 L68.7,622.19 69.4,622.19 L69.4,621.99 70.1,621.99 L70.1,622.99 70.8,622.99 L70.8,621.47 71.5,621.47 L71.5,622.32 72.2,622.32 L72.2,621.24 72.9,621.24 L72.9,621.71 73.6,621.71 L73.6,622.12 74.3,622.12 L74.3,621.23 75.0,621.23 L75.0,621.71 75.7,621.71 L75.7,621.31 76.4,621.31 L76.4,622.52 77.1,622.52 L77.1,621.90 77.8,621.90 L77.8,621.97 78.5,621.97 L78.5,621.73 79.2,621.73 L79.2,621.98 79.9,621.98 L79.9,622.73 80.6,622.73 L80.6,622.16 81.3,622.16 L81.3,621.99 82.0,621.99 L82.0,621.12 82.7,621.12 L82.7,622.00 83.4,622.00 L83.4,621.81 84.1,621.81 L84.1,621.02 84.8,621.02 L84.8,621.94 85.5,621.94 L85.5,621.35 86.2,621.35 L86.2,621.49 86.9,621.49 L86.9,621.94 87.6,621.94 L87.6,621.15 88.3,621.15 L88.3,620.84 89.0,620.84 L89.0,621.40 89.7,621.40 L89.7,620.94 90.4,620.94 L90.4,620.31 91.1,620.31 L91.1,621.36 91.8,621.36 L91.8,620.11 92.5,620.11 L92.5,619.11 93.2,619.11 L93.2,618.40 93.9,618.40 L93.9,619.00 94.6,619.00 L94.6,621.41 95.3,621.41 L95.3,620.29 96.0,620.29 L96.0,621.79 96.7,621.79 L96.7,621.68 97.4,621.68 L97.4,621.34 98.1,621.34 L98.1,621.64 98.8,621.64 L98.8,621.63 99.5,621.63 L99.5,622.40 100.2,622.40 L100.2,621.53 100.9,621.53 L100.9,621.51 101.6,621.51 L101.6,621.57 102.3,621.57 L102.3,621.54 103.0,621.54 L103.0,622.05 103.7,622.05 L103.7,620.94 104.4,620.94 L104.4,620.18 105.1,620.18 L105.1,620.90 105.8,620.90 L105.8,620.42 106.5,620.42 L106.5,621.64 107.2,621.64 L107.2,620.62 107.9,620.62 L107.9,620.79 108.6,620.79 L108.6,620.90 109.3,620.90 L109.3,621.32 110.0,621.32 L110.0,620.96 110.7,620.96 L110.7,621.35 111.4,621.35 L111.4,619.54 112.1,619.54 L112.1,620.09 112.8,620.09 L112.8,619.62 113.5,619.62 L113.5,620.01 114.2,620.01 L114.2,619.90 114.9,619.90 L114.9,618.69 115.6,618.69 L115.6,618.24 116.3,618.24 L116.3,617.59 117.0,617.59 L117.0,619.11 117.7,619.11 L117.7,620.67 118.4,620.67 L118.4,620.05 119.1,620.05 L119.1,620.00 119.8,620.00 L119.8,620.19 120.5,620.19 L120.5,620.11 121.2,620.11 L121.2,619.42 121.9,619.42 L121.9,619.56 122.6,619.56 L122.6,621.01 123.3,621.01 L123.3,621.08 124.0,621.08 L124.0,619.91 124.7,619.91 L124.7,621.62 125.4,621.62 L125.4,621.06 126.1,621.06 L126.1,621.14 126.8,621.14 L126.8,619.65 127.5,619.65 L127.5,619.43 128.2,619.43 L128.2,617.16 128.9,617.16 L128.9,619.16 129.6,619.16 L129.6,620.81 130.3,620.81 L130.3,621.70 131.0,621.70 L131.0,620.29 131.7,620.29 L131.7,620.83 132.4,620.83 L132.4,621.68 133.1,621.68 L133.1,620.61 133.8,620.61 L133.8,621.21 134.5,621.21 L134.5,621.42 135.2,621.42 L135.2,621.40 135.9,621.40 L135.9,621.41 136.6,621.41 L136.6,622.05 137.3,622.05 L137.3,621.73 138.0,621.73 L138.0,620.84 138.7,620.84 L138.7,620.99 139.4,620.99 L139.4,621.57 140.1,621.57 L140.1,621.74 140.8,621.74 L140.8,621.67 141.5,621.67 L141.5,620.87 142.2,620.87 L142.2,621.93 142.9,621.93 L142.9,622.15 143.6,622.15 L143.6,622.42 144.3,622.42 L144.3,622.10 145.0,622.10 L145.0,621.89 145.7,621.89 L145.7,621.44 146.4,621.44 L146.4,621.99 147.1,621.99 L147.1,622.24 147.8,622.24 L147.8,621.46 148.5,621.46 L148.5,621.55 149.2,621.55 L149.2,620.81 149.9,620.81 L149.9,621.35 150.6,621.35 L150.6,621.32 151.3,621.32 L151.3,621.76 152.0,621.76 L152.0,621.30 152.7,621.30 L152.7,620.94 153.4,620.94 L153.4,620.46 154.1,620.46 L154.1,620.81 154.8,620.81 L154.8,621.15 155.5,621.15 L155.5,620.79 156.2,620.79 L156.2,620.91 156.9,620.91 L156.9,619.70 157.6,619.70 L157.6,619.80 158.3,619.80 L158.3,619.82 159.0,619.82 L159.0,621.29 159.7,621.29 L159.7,620.68 160.4,620.68 L160.4,621.36 161.1,621.36 L161.1,621.03 161.8,621.03 L161.8,621.21 162.5,621.21 L162.5,620.52 163.2,620.52 L163.2,620.69 163.9,620.69 L163.9,621.60 164.6,621.60 L164.6,620.83 165.3,620.83 L165.3,620.52 166.0,620.52 L166.0,620.83 166.7,620.83 L166.7,620.68 167.4,620.68 L167.4,622.28 168.1,622.28 L168.1,621.29 168.8,621.29 L168.8,621.27 169.5,621.27 L169.5,621.17 170.2,621.17 L170.2,621.34 170.9,621.34 L170.9,621.56 171.6,621.56 L171.6,621.58 172.3,621.58 L172.3,620.77 173.0,620.77 L173.0,621.96 173.7,621.96 L173.7,621.43 174.4,621.43 L174.4,621.13 175.1,621.13 L175.1,621.44 175.8,621.44 L175.8,622.00 176.5,622.00 L176.5,621.97 177.2,621.97 L177.2,622.08 177.9,622.08 L177.9,621.48 178.6,621.48 L178.6,621.57 179.3,621.57 L179.3,622.09 180.0,622.09 L180.0,621.60 180.7,621.60 L180.7,622.31 181.4,622.31 L181.4,622.44 182.1,622.44 L182.1,622.76 182.8,622.76 L182.8,621.05 183.5,621.05 L183.5,619.12 184.2,619.12 L184.2,618.36 184.9,618.36 L184.9,622.00 185.6,622.00 L185.6,622.15 186.3,622.15 L186.3,621.25 187.0,621.25 L187.0,622.00 187.7,622.00 L187.7,622.12 188.4,622.12 L188.4,620.40 189.1,620.40 L189.1,621.03 189.8,621.03 L189.8,622.00 190.5,622.00 L190.5,621.79 191.2,621.79 L191.2,621.87 191.9,621.87 L191.9,620.98 192.6,620.98 L192.6,622.00 193.3,622.00 L193.3,621.16 194.0,621.16 L194.0,621.01 194.7,621.01 L194.7,621.70 195.1,621.70 L195.1,624.60 Z" fill="#a3a3a3"/>
<rect x="104.6" y="440.2" width="30.80000000000001" height="189.10000000000002" fill="#bebebe" opacity="0.33"/>
<rect x="151.5" y="440.2" width="26.19999999999999" height="189.10000000000002" fill="#bebebe" opacity="0.33"/>
<line x1="68" y1="625.9" x2="195.1" y2="625.9" stroke="#ababab" stroke-width="0.9"/>
<line x1="68" y1="628.5" x2="195.1" y2="628.5" stroke="#ababab" stroke-width="0.9"/>
<text x="194.79999999999998" y="445.5" font-size="6.2" font-weight="normal" fill="#858585" text-anchor="end">0-300</text>
<text x="194.79999999999998" y="472.3" font-size="6.2" font-weight="normal" fill="#858585" text-anchor="end">0-300</text>
<text x="194.79999999999998" y="498.4" font-size="6.2" font-weight="normal" fill="#858585" text-anchor="end">0-300</text>
<text x="194.79999999999998" y="524.7" font-size="6.2" font-weight="normal" fill="#858585" text-anchor="end">0-300</text>
<text x="194.79999999999998" y="551.1" font-size="6.2" font-weight="normal" fill="#858585" text-anchor="end">0-400</text>
<text x="194.79999999999998" y="577.2" font-size="6.2" font-weight="normal" fill="#858585" text-anchor="end">0-400</text>
<text x="194.79999999999998" y="603.9" font-size="6.2" font-weight="normal" fill="#858585" text-anchor="end">0-300</text>
<line x1="204.9" y1="439.5" x2="337.3" y2="439.5" stroke="#cfcfcf" stroke-width="1.3"/>
<path d="M204.9,466.80 L204.9,465.44 205.6,465.44 L205.6,465.46 206.3,465.46 L206.3,465.51 207.0,465.51 L207.0,465.33 207.7,465.33 L207.7,465.41 208.4,465.41 L208.4,465.46 209.1,465.46 L209.1,465.28 209.8,465.28 L209.8,465.69 210.5,465.69 L210.5,465.61 211.2,465.61 L211.2,465.68 211.9,465.68 L211.9,465.47 212.6,465.47 L212.6,465.04 213.3,465.04 L213.3,465.28 214.0,465.28 L214.0,465.49 214.7,465.49 L214.7,465.20 215.4,465.20 L215.4,465.36 216.1,465.36 L216.1,464.77 216.8,464.77 L216.8,465.45 217.5,465.45 L217.5,465.54 218.2,465.54 L218.2,465.45 218.9,465.45 L218.9,464.83 219.6,464.83 L219.6,465.26 220.3,465.26 L220.3,465.27 221.0,465.27 L221.0,465.17 221.7,465.17 L221.7,465.14 222.4,465.14 L222.4,465.14 223.1,465.14 L223.1,465.02 223.8,465.02 L223.8,465.18 224.5,465.18 L224.5,465.48 225.2,465.48 L225.2,464.87 225.9,464.87 L225.9,465.47 226.6,465.47 L226.6,465.36 227.3,465.36 L227.3,465.33 228.0,465.33 L228.0,465.28 228.7,465.28 L228.7,465.36 229.4,465.36 L229.4,465.06 230.1,465.06 L230.1,465.26 230.8,465.26 L230.8,465.18 231.5,465.18 L231.5,464.96 232.2,464.96 L232.2,465.21 232.9,465.21 L232.9,465.27 233.6,465.27 L233.6,465.04 234.3,465.04 L234.3,465.21 235.0,465.21 L235.0,465.47 235.7,465.47 L235.7,465.13 236.4,465.13 L236.4,465.17 237.1,465.17 L237.1,465.37 237.8,465.37 L237.8,464.71 238.5,464.71 L238.5,465.29 239.2,465.29 L239.2,464.97 239.9,464.97 L239.9,464.75 240.6,464.75 L240.6,464.68 241.3,464.68 L241.3,464.53 242.0,464.53 L242.0,462.56 242.7,462.56 L242.7,461.94 243.4,461.94 L243.4,461.60 244.1,461.60 L244.1,461.90 244.8,461.90 L244.8,464.19 245.5,464.19 L245.5,464.80 246.2,464.80 L246.2,464.81 246.9,464.81 L246.9,465.09 247.6,465.09 L247.6,465.22 248.3,465.22 L248.3,465.37 249.0,465.37 L249.0,465.35 249.7,465.35 L249.7,465.24 250.4,465.24 L250.4,464.94 251.1,464.94 L251.1,465.16 251.8,465.16 L251.8,464.90 252.5,464.90 L252.5,464.76 253.2,464.76 L253.2,464.74 253.9,464.74 L253.9,465.01 254.6,465.01 L254.6,464.59 255.3,464.59 L255.3,464.54 256.0,464.54 L256.0,464.90 256.7,464.90 L256.7,464.61 257.4,464.61 L257.4,465.05 258.1,465.05 L258.1,464.51 258.8,464.51 L258.8,464.38 259.5,464.38 L259.5,464.68 260.2,464.68 L260.2,464.86 260.9,464.86 L260.9,464.52 261.6,464.52 L261.6,464.82 262.3,464.82 L262.3,463.93 263.0,463.93 L263.0,463.47 263.7,463.47 L263.7,461.99 264.4,461.99 L264.4,456.99 265.1,456.99 L265.1,452.86 265.8,452.86 L265.8,456.36 266.5,456.36 L266.5,458.14 267.2,458.14 L267.2,462.72 267.9,462.72 L267.9,463.61 268.6,463.61 L268.6,464.04 269.3,464.04 L269.3,464.35 270.0,464.35 L270.0,463.53 270.7,463.53 L270.7,462.40 271.4,462.40 L271.4,459.59 272.1,459.59 L272.1,457.45 272.8,457.45 L272.8,459.88 273.5,459.88 L273.5,463.53 274.2,463.53 L274.2,464.14 274.9,464.14 L274.9,464.74 275.6,464.74 L275.6,464.78 276.3,464.78 L276.3,465.07 277.0,465.07 L277.0,465.11 277.7,465.11 L277.7,464.80 278.4,464.80 L278.4,464.83 279.1,464.83 L279.1,464.42 279.8,464.42 L279.8,464.43 280.5,464.43 L280.5,464.27 281.2,464.27 L281.2,464.55 281.9,464.55 L281.9,464.51 282.6,464.51 L282.6,464.93 283.3,464.93 L283.3,465.15 284.0,465.15 L284.0,465.00 284.7,465.00 L284.7,465.05 285.4,465.05 L285.4,465.03 286.1,465.03 L286.1,465.10 286.8,465.10 L286.8,465.22 287.5,465.22 L287.5,465.37 288.2,465.37 L288.2,464.96 288.9,464.96 L288.9,464.55 289.6,464.55 L289.6,463.71 290.3,463.71 L290.3,460.93 291.0,460.93 L291.0,459.21 291.7,459.21 L291.7,458.45 292.4,458.45 L292.4,461.76 293.1,461.76 L293.1,464.54 293.8,464.54 L293.8,465.02 294.5,465.02 L294.5,465.33 295.2,465.33 L295.2,465.18 295.9,465.18 L295.9,465.08 296.6,465.08 L296.6,464.77 297.3,464.77 L297.3,464.35 298.0,464.35 L298.0,464.87 298.7,464.87 L298.7,464.50 299.4,464.50 L299.4,464.68 300.1,464.68 L300.1,464.61 300.8,464.61 L300.8,463.95 301.5,463.95 L301.5,463.20 302.2,463.20 L302.2,462.18 302.9,462.18 L302.9,461.30 303.6,461.30 L303.6,460.25 304.3,460.25 L304.3,460.11 305.0,460.11 L305.0,460.25 305.7,460.25 L305.7,461.38 306.4,461.38 L306.4,461.96 307.1,461.96 L307.1,462.96 307.8,462.96 L307.8,463.85 308.5,463.85 L308.5,463.82 309.2,463.82 L309.2,462.93 309.9,462.93 L309.9,461.16 310.6,461.16 L310.6,458.55 311.3,458.55 L311.3,455.45 312.0,455.45 L312.0,455.32 312.7,455.32 L312.7,460.12 313.4,460.12 L313.4,461.91 314.1,461.91 L314.1,464.05 314.8,464.05 L314.8,463.01 315.5,463.01 L315.5,463.48 316.2,463.48 L316.2,463.66 316.9,463.66 L316.9,463.94 317.6,463.94 L317.6,464.11 318.3,464.11 L318.3,464.32 319.0,464.32 L319.0,464.36 319.7,464.36 L319.7,463.73 320.4,463.73 L320.4,463.94 321.1,463.94 L321.1,463.89 321.8,463.89 L321.8,463.22 322.5,463.22 L322.5,463.28 323.2,463.28 L323.2,463.24 323.9,463.24 L323.9,463.25 324.6,463.25 L324.6,463.12 325.3,463.12 L325.3,463.57 326.0,463.57 L326.0,464.17 326.7,464.17 L326.7,464.20 327.4,464.20 L327.4,465.05 328.1,465.05 L328.1,465.14 328.8,465.14 L328.8,464.93 329.5,464.93 L329.5,464.71 330.2,464.71 L330.2,464.30 330.9,464.30 L330.9,464.59 331.6,464.59 L331.6,464.89 332.3,464.89 L332.3,464.44 333.0,464.44 L333.0,464.44 333.7,464.44 L333.7,464.74 334.4,464.74 L334.4,464.45 335.1,464.45 L335.1,464.82 335.8,464.82 L335.8,464.71 336.5,464.71 L336.5,464.77 337.2,464.77 L337.2,465.04 337.3,465.04 L337.3,466.80 Z" fill="#14919b"/>
<path d="M204.9,492.90 L204.9,491.11 205.6,491.11 L205.6,491.31 206.3,491.31 L206.3,491.20 207.0,491.20 L207.0,491.26 207.7,491.26 L207.7,491.43 208.4,491.43 L208.4,491.02 209.1,491.02 L209.1,491.21 209.8,491.21 L209.8,491.40 210.5,491.40 L210.5,491.65 211.2,491.65 L211.2,491.77 211.9,491.77 L211.9,491.81 212.6,491.81 L212.6,491.36 213.3,491.36 L213.3,491.50 214.0,491.50 L214.0,491.49 214.7,491.49 L214.7,491.54 215.4,491.54 L215.4,491.78 216.1,491.78 L216.1,491.31 216.8,491.31 L216.8,491.48 217.5,491.48 L217.5,491.34 218.2,491.34 L218.2,491.26 218.9,491.26 L218.9,491.47 219.6,491.47 L219.6,491.12 220.3,491.12 L220.3,491.22 221.0,491.22 L221.0,491.45 221.7,491.45 L221.7,491.37 222.4,491.37 L222.4,491.77 223.1,491.77 L223.1,491.73 223.8,491.73 L223.8,491.76 224.5,491.76 L224.5,491.57 225.2,491.57 L225.2,491.61 225.9,491.61 L225.9,491.55 226.6,491.55 L226.6,491.22 227.3,491.22 L227.3,491.61 228.0,491.61 L228.0,491.43 228.7,491.43 L228.7,491.61 229.4,491.61 L229.4,491.50 230.1,491.50 L230.1,491.39 230.8,491.39 L230.8,491.25 231.5,491.25 L231.5,491.27 232.2,491.27 L232.2,490.95 232.9,490.95 L232.9,491.47 233.6,491.47 L233.6,491.28 234.3,491.28 L234.3,491.14 235.0,491.14 L235.0,491.40 235.7,491.40 L235.7,491.78 236.4,491.78 L236.4,491.43 237.1,491.43 L237.1,491.71 237.8,491.71 L237.8,491.72 238.5,491.72 L238.5,491.43 239.2,491.43 L239.2,491.32 239.9,491.32 L239.9,491.52 240.6,491.52 L240.6,491.19 241.3,491.19 L241.3,490.55 242.0,490.55 L242.0,487.68 242.7,487.68 L242.7,485.47 243.4,485.47 L243.4,486.14 244.1,486.14 L244.1,485.32 244.8,485.32 L244.8,489.56 245.5,489.56 L245.5,490.61 246.2,490.61 L246.2,491.38 246.9,491.38 L246.9,491.81 247.6,491.81 L247.6,491.65 248.3,491.65 L248.3,491.45 249.0,491.45 L249.0,490.43 249.7,490.43 L249.7,490.01 250.4,490.01 L250.4,489.72 251.1,489.72 L251.1,490.09 251.8,490.09 L251.8,488.77 252.5,488.77 L252.5,488.67 253.2,488.67 L253.2,489.49 253.9,489.49 L253.9,489.78 254.6,489.78 L254.6,488.37 255.3,488.37 L255.3,488.37 256.0,488.37 L256.0,488.36 256.7,488.36 L256.7,489.80 257.4,489.80 L257.4,489.33 258.1,489.33 L258.1,489.85 258.8,489.85 L258.8,488.38 259.5,488.38 L259.5,488.36 260.2,488.36 L260.2,485.50 260.9,485.50 L260.9,483.59 261.6,483.59 L261.6,482.62 262.3,482.62 L262.3,484.24 263.0,484.24 L263.0,488.14 263.7,488.14 L263.7,487.16 264.4,487.16 L264.4,479.45 265.1,479.45 L265.1,476.75 265.8,476.75 L265.8,474.67 266.5,474.67 L266.5,481.86 267.2,481.86 L267.2,487.61 267.9,487.61 L267.9,488.88 268.6,488.88 L268.6,489.73 269.3,489.73 L269.3,489.39 270.0,489.39 L270.0,488.77 270.7,488.77 L270.7,486.52 271.4,486.52 L271.4,482.74 272.1,482.74 L272.1,480.79 272.8,480.79 L272.8,484.36 273.5,484.36 L273.5,485.73 274.2,485.73 L274.2,489.66 274.9,489.66 L274.9,490.41 275.6,490.41 L275.6,490.22 276.3,490.22 L276.3,490.99 277.0,490.99 L277.0,490.64 277.7,490.64 L277.7,491.04 278.4,491.04 L278.4,491.30 279.1,491.30 L279.1,491.03 279.8,491.03 L279.8,491.13 280.5,491.13 L280.5,491.24 281.2,491.24 L281.2,490.88 281.9,490.88 L281.9,490.79 282.6,490.79 L282.6,490.54 283.3,490.54 L283.3,490.68 284.0,490.68 L284.0,491.13 284.7,491.13 L284.7,490.99 285.4,490.99 L285.4,490.61 286.1,490.61 L286.1,491.16 286.8,491.16 L286.8,490.88 287.5,490.88 L287.5,490.96 288.2,490.96 L288.2,490.70 288.9,490.70 L288.9,490.97 289.6,490.97 L289.6,489.73 290.3,489.73 L290.3,488.20 291.0,488.20 L291.0,482.43 291.7,482.43 L291.7,483.79 292.4,483.79 L292.4,485.63 293.1,485.63 L293.1,489.58 293.8,489.58 L293.8,489.76 294.5,489.76 L294.5,489.93 295.2,489.93 L295.2,490.54 295.9,490.54 L295.9,490.11 296.6,490.11 L296.6,490.31 297.3,490.31 L297.3,490.55 298.0,490.55 L298.0,490.62 298.7,490.62 L298.7,490.66 299.4,490.66 L299.4,490.12 300.1,490.12 L300.1,490.28 300.8,490.28 L300.8,489.84 301.5,489.84 L301.5,489.07 302.2,489.07 L302.2,486.92 302.9,486.92 L302.9,485.66 303.6,485.66 L303.6,482.76 304.3,482.76 L304.3,484.13 305.0,484.13 L305.0,485.06 305.7,485.06 L305.7,486.47 306.4,486.47 L306.4,486.32 307.1,486.32 L307.1,487.85 307.8,487.85 L307.8,487.32 308.5,487.32 L308.5,488.80 309.2,488.80 L309.2,487.16 309.9,487.16 L309.9,482.18 310.6,482.18 L310.6,478.82 311.3,478.82 L311.3,474.23 312.0,474.23 L312.0,477.93 312.7,477.93 L312.7,482.00 313.4,482.00 L313.4,486.78 314.1,486.78 L314.1,488.28 314.8,488.28 L314.8,487.37 315.5,487.37 L315.5,487.90 316.2,487.90 L316.2,487.53 316.9,487.53 L316.9,487.06 317.6,487.06 L317.6,488.48 318.3,488.48 L318.3,486.57 319.0,486.57 L319.0,487.87 319.7,487.87 L319.7,486.42 320.4,486.42 L320.4,487.21 321.1,487.21 L321.1,488.16 321.8,488.16 L321.8,488.23 322.5,488.23 L322.5,488.30 323.2,488.30 L323.2,487.71 323.9,487.71 L323.9,489.31 324.6,489.31 L324.6,487.45 325.3,487.45 L325.3,488.07 326.0,488.07 L326.0,489.61 326.7,489.61 L326.7,489.69 327.4,489.69 L327.4,490.38 328.1,490.38 L328.1,489.86 328.8,489.86 L328.8,487.54 329.5,487.54 L329.5,487.75 330.2,487.75 L330.2,487.32 330.9,487.32 L330.9,489.13 331.6,489.13 L331.6,490.34 332.3,490.34 L332.3,490.15 333.0,490.15 L333.0,491.27 333.7,491.27 L333.7,490.49 334.4,490.49 L334.4,490.86 335.1,490.86 L335.1,491.03 335.8,491.03 L335.8,490.84 336.5,490.84 L336.5,490.82 337.2,490.82 L337.2,490.85 337.3,490.85 L337.3,492.90 Z" fill="#3fcfcf"/>
<path d="M204.9,519.20 L204.9,516.60 205.6,516.60 L205.6,516.21 206.3,516.21 L206.3,514.86 207.0,514.86 L207.0,514.05 207.7,514.05 L207.7,514.66 208.4,514.66 L208.4,515.10 209.1,515.10 L209.1,515.54 209.8,515.54 L209.8,514.50 210.5,514.50 L210.5,515.15 211.2,515.15 L211.2,515.76 211.9,515.76 L211.9,513.22 212.6,513.22 L212.6,513.06 213.3,513.06 L213.3,509.86 214.0,509.86 L214.0,507.64 214.7,507.64 L214.7,511.40 215.4,511.40 L215.4,511.09 216.1,511.09 L216.1,513.84 216.8,513.84 L216.8,514.87 217.5,514.87 L217.5,515.23 218.2,515.23 L218.2,514.43 218.9,514.43 L218.9,514.60 219.6,514.60 L219.6,516.09 220.3,516.09 L220.3,515.76 221.0,515.76 L221.0,515.59 221.7,515.59 L221.7,515.17 222.4,515.17 L222.4,514.48 223.1,514.48 L223.1,514.78 223.8,514.78 L223.8,514.29 224.5,514.29 L224.5,513.43 225.2,513.43 L225.2,512.13 225.9,512.13 L225.9,509.78 226.6,509.78 L226.6,506.67 227.3,506.67 L227.3,508.34 228.0,508.34 L228.0,512.56 228.7,512.56 L228.7,514.90 229.4,514.90 L229.4,516.20 230.1,516.20 L230.1,516.45 230.8,516.45 L230.8,515.78 231.5,515.78 L231.5,514.05 232.2,514.05 L232.2,512.42 232.9,512.42 L232.9,508.62 233.6,508.62 L233.6,512.28 234.3,512.28 L234.3,515.41 235.0,515.41 L235.0,514.70 235.7,514.70 L235.7,514.85 236.4,514.85 L236.4,514.63 237.1,514.63 L237.1,514.45 237.8,514.45 L237.8,515.00 238.5,515.00 L238.5,515.41 239.2,515.41 L239.2,515.31 239.9,515.31 L239.9,515.63 240.6,515.63 L240.6,514.88 241.3,514.88 L241.3,511.57 242.0,511.57 L242.0,508.26 242.7,508.26 L242.7,508.09 243.4,508.09 L243.4,508.42 244.1,508.42 L244.1,511.28 244.8,511.28 L244.8,513.29 245.5,513.29 L245.5,515.71 246.2,515.71 L246.2,515.89 246.9,515.89 L246.9,516.46 247.6,516.46 L247.6,516.70 248.3,516.70 L248.3,516.94 249.0,516.94 L249.0,516.67 249.7,516.67 L249.7,516.53 250.4,516.53 L250.4,516.89 251.1,516.89 L251.1,515.98 251.8,515.98 L251.8,516.53 252.5,516.53 L252.5,516.54 253.2,516.54 L253.2,515.72 253.9,515.72 L253.9,516.25 254.6,516.25 L254.6,515.75 255.3,515.75 L255.3,515.67 256.0,515.67 L256.0,516.52 256.7,516.52 L256.7,516.67 257.4,516.67 L257.4,516.19 258.1,516.19 L258.1,516.06 258.8,516.06 L258.8,516.35 259.5,516.35 L259.5,515.69 260.2,515.69 L260.2,516.30 260.9,516.30 L260.9,516.05 261.6,516.05 L261.6,516.52 262.3,516.52 L262.3,516.06 263.0,516.06 L263.0,515.99 263.7,515.99 L263.7,514.10 264.4,514.10 L264.4,509.87 265.1,509.87 L265.1,501.38 265.8,501.38 L265.8,502.32 266.5,502.32 L266.5,511.99 267.2,511.99 L267.2,515.03 267.9,515.03 L267.9,516.17 268.6,516.17 L268.6,516.07 269.3,516.07 L269.3,516.16 270.0,516.16 L270.0,514.56 270.7,514.56 L270.7,513.54 271.4,513.54 L271.4,510.86 272.1,510.86 L272.1,510.68 272.8,510.68 L272.8,510.57 273.5,510.57 L273.5,515.18 274.2,515.18 L274.2,516.11 274.9,516.11 L274.9,516.75 275.6,516.75 L275.6,516.58 276.3,516.58 L276.3,516.29 277.0,516.29 L277.0,516.73 277.7,516.73 L277.7,517.13 278.4,517.13 L278.4,516.73 279.1,516.73 L279.1,516.83 279.8,516.83 L279.8,516.37 280.5,516.37 L280.5,516.50 281.2,516.50 L281.2,516.34 281.9,516.34 L281.9,516.51 282.6,516.51 L282.6,516.35 283.3,516.35 L283.3,516.29 284.0,516.29 L284.0,516.28 284.7,516.28 L284.7,516.95 285.4,516.95 L285.4,517.16 286.1,517.16 L286.1,516.42 286.8,516.42 L286.8,517.25 287.5,517.25 L287.5,516.57 288.2,516.57 L288.2,516.72 288.9,516.72 L288.9,516.74 289.6,516.74 L289.6,515.74 290.3,515.74 L290.3,510.32 291.0,510.32 L291.0,507.69 291.7,507.69 L291.7,505.40 292.4,505.40 L292.4,512.54 293.1,512.54 L293.1,516.27 293.8,516.27 L293.8,517.01 294.5,517.01 L294.5,517.13 295.2,517.13 L295.2,516.87 295.9,516.87 L295.9,516.82 296.6,516.82 L296.6,516.43 297.3,516.43 L297.3,516.36 298.0,516.36 L298.0,516.34 298.7,516.34 L298.7,516.34 299.4,516.34 L299.4,516.47 300.1,516.47 L300.1,516.45 300.8,516.45 L300.8,516.70 301.5,516.70 L301.5,516.36 302.2,516.36 L302.2,516.18 302.9,516.18 L302.9,516.32 303.6,516.32 L303.6,516.60 304.3,516.60 L304.3,516.74 305.0,516.74 L305.0,516.14 305.7,516.14 L305.7,516.28 306.4,516.28 L306.4,516.89 307.1,516.89 L307.1,516.67 307.8,516.67 L307.8,516.09 308.5,516.09 L308.5,516.20 309.2,516.20 L309.2,515.55 309.9,515.55 L309.9,512.58 310.6,512.58 L310.6,509.48 311.3,509.48 L311.3,500.82 312.0,500.82 L312.0,505.99 312.7,505.99 L312.7,511.74 313.4,511.74 L313.4,514.44 314.1,514.44 L314.1,515.33 314.8,515.33 L314.8,516.08 315.5,516.08 L315.5,516.05 316.2,516.05 L316.2,515.98 316.9,515.98 L316.9,515.61 317.6,515.61 L317.6,515.22 318.3,515.22 L318.3,516.14 319.0,516.14 L319.0,516.19 319.7,516.19 L319.7,516.77 320.4,516.77 L320.4,516.49 321.1,516.49 L321.1,516.68 321.8,516.68 L321.8,517.16 322.5,517.16 L322.5,516.77 323.2,516.77 L323.2,516.55 323.9,516.55 L323.9,517.27 324.6,517.27 L324.6,516.52 325.3,516.52 L325.3,516.42 326.0,516.42 L326.0,516.65 326.7,516.65 L326.7,515.96 327.4,515.96 L327.4,515.18 328.1,515.18 L328.1,514.62 328.8,514.62 L328.8,514.61 329.5,514.61 L329.5,514.97 330.2,514.97 L330.2,515.81 330.9,515.81 L330.9,516.13 331.6,516.13 L331.6,517.38 332.3,517.38 L332.3,516.55 333.0,516.55 L333.0,516.79 333.7,516.79 L333.7,517.16 334.4,517.16 L334.4,516.94 335.1,516.94 L335.1,516.42 335.8,516.42 L335.8,517.41 336.5,517.41 L336.5,517.11 337.2,517.11 L337.2,516.96 337.3,516.96 L337.3,519.20 Z" fill="#1e98c9"/>
<path d="M204.9,545.60 L204.9,543.60 205.6,543.60 L205.6,542.26 206.3,542.26 L206.3,542.95 207.0,542.95 L207.0,541.17 207.7,541.17 L207.7,542.08 208.4,542.08 L208.4,541.71 209.1,541.71 L209.1,542.30 209.8,542.30 L209.8,542.37 210.5,542.37 L210.5,541.94 211.2,541.94 L211.2,542.01 211.9,542.01 L211.9,541.88 212.6,541.88 L212.6,542.16 213.3,542.16 L213.3,542.43 214.0,542.43 L214.0,541.93 214.7,541.93 L214.7,542.75 215.4,542.75 L215.4,542.00 216.1,542.00 L216.1,542.77 216.8,542.77 L216.8,541.43 217.5,541.43 L217.5,542.08 218.2,542.08 L218.2,541.90 218.9,541.90 L218.9,541.85 219.6,541.85 L219.6,542.20 220.3,542.20 L220.3,542.49 221.0,542.49 L221.0,542.09 221.7,542.09 L221.7,542.19 222.4,542.19 L222.4,542.16 223.1,542.16 L223.1,541.59 223.8,541.59 L223.8,541.93 224.5,541.93 L224.5,541.89 225.2,541.89 L225.2,542.39 225.9,542.39 L225.9,542.69 226.6,542.69 L226.6,542.18 227.3,542.18 L227.3,541.91 228.0,541.91 L228.0,541.49 228.7,541.49 L228.7,542.01 229.4,542.01 L229.4,542.51 230.1,542.51 L230.1,541.04 230.8,541.04 L230.8,541.69 231.5,541.69 L231.5,540.77 232.2,540.77 L232.2,541.53 232.9,541.53 L232.9,541.40 233.6,541.40 L233.6,540.45 234.3,540.45 L234.3,541.49 235.0,541.49 L235.0,541.69 235.7,541.69 L235.7,542.68 236.4,542.68 L236.4,542.67 237.1,542.67 L237.1,542.53 237.8,542.53 L237.8,542.66 238.5,542.66 L238.5,542.92 239.2,542.92 L239.2,542.59 239.9,542.59 L239.9,541.80 240.6,541.80 L240.6,541.13 241.3,541.13 L241.3,540.32 242.0,540.32 L242.0,535.62 242.7,535.62 L242.7,532.67 243.4,532.67 L243.4,531.01 244.1,531.01 L244.1,532.30 244.8,532.30 L244.8,539.80 245.5,539.80 L245.5,541.20 246.2,541.20 L246.2,543.50 246.9,543.50 L246.9,542.94 247.6,542.94 L247.6,543.47 248.3,543.47 L248.3,543.09 249.0,543.09 L249.0,542.63 249.7,542.63 L249.7,541.44 250.4,541.44 L250.4,542.94 251.1,542.94 L251.1,541.97 251.8,541.97 L251.8,541.61 252.5,541.61 L252.5,542.63 253.2,542.63 L253.2,542.23 253.9,542.23 L253.9,542.25 254.6,542.25 L254.6,542.95 255.3,542.95 L255.3,542.44 256.0,542.44 L256.0,541.83 256.7,541.83 L256.7,542.42 257.4,542.42 L257.4,541.88 258.1,541.88 L258.1,542.08 258.8,542.08 L258.8,541.94 259.5,541.94 L259.5,541.73 260.2,541.73 L260.2,541.70 260.9,541.70 L260.9,542.06 261.6,542.06 L261.6,542.94 262.3,542.94 L262.3,542.57 263.0,542.57 L263.0,542.19 263.7,542.19 L263.7,540.64 264.4,540.64 L264.4,537.82 265.1,537.82 L265.1,531.72 265.8,531.72 L265.8,534.75 266.5,534.75 L266.5,538.25 267.2,538.25 L267.2,541.86 267.9,541.86 L267.9,542.48 268.6,542.48 L268.6,543.33 269.3,543.33 L269.3,542.16 270.0,542.16 L270.0,542.20 270.7,542.20 L270.7,540.50 271.4,540.50 L271.4,539.54 272.1,539.54 L272.1,538.88 272.8,538.88 L272.8,540.61 273.5,540.61 L273.5,541.95 274.2,541.95 L274.2,541.20 274.9,541.20 L274.9,542.43 275.6,542.43 L275.6,542.21 276.3,542.21 L276.3,542.22 277.0,542.22 L277.0,542.40 277.7,542.40 L277.7,543.07 278.4,543.07 L278.4,541.88 279.1,541.88 L279.1,542.67 279.8,542.67 L279.8,543.14 280.5,543.14 L280.5,542.24 281.2,542.24 L281.2,542.28 281.9,542.28 L281.9,542.47 282.6,542.47 L282.6,542.38 283.3,542.38 L283.3,542.62 284.0,542.62 L284.0,542.68 284.7,542.68 L284.7,542.31 285.4,542.31 L285.4,542.38 286.1,542.38 L286.1,542.50 286.8,542.50 L286.8,543.27 287.5,543.27 L287.5,543.08 288.2,543.08 L288.2,542.48 288.9,542.48 L288.9,542.84 289.6,542.84 L289.6,541.79 290.3,541.79 L290.3,537.32 291.0,537.32 L291.0,532.60 291.7,532.60 L291.7,533.75 292.4,533.75 L292.4,537.08 293.1,537.08 L293.1,540.75 293.8,540.75 L293.8,541.67 294.5,541.67 L294.5,541.88 295.2,541.88 L295.2,542.73 295.9,542.73 L295.9,542.70 296.6,542.70 L296.6,541.90 297.3,541.90 L297.3,541.93 298.0,541.93 L298.0,542.11 298.7,542.11 L298.7,542.39 299.4,542.39 L299.4,543.12 300.1,543.12 L300.1,542.46 300.8,542.46 L300.8,542.62 301.5,542.62 L301.5,541.58 302.2,541.58 L302.2,539.97 302.9,539.97 L302.9,538.81 303.6,538.81 L303.6,538.20 304.3,538.20 L304.3,539.24 305.0,539.24 L305.0,540.78 305.7,540.78 L305.7,542.43 306.4,542.43 L306.4,541.54 307.1,541.54 L307.1,542.39 307.8,542.39 L307.8,541.45 308.5,541.45 L308.5,542.29 309.2,542.29 L309.2,542.55 309.9,542.55 L309.9,540.95 310.6,540.95 L310.6,537.18 311.3,537.18 L311.3,529.99 312.0,529.99 L312.0,534.49 312.7,534.49 L312.7,538.71 313.4,538.71 L313.4,542.48 314.1,542.48 L314.1,542.85 314.8,542.85 L314.8,542.70 315.5,542.70 L315.5,542.80 316.2,542.80 L316.2,542.99 316.9,542.99 L316.9,543.13 317.6,543.13 L317.6,543.47 318.3,543.47 L318.3,543.22 319.0,543.22 L319.0,543.07 319.7,543.07 L319.7,543.37 320.4,543.37 L320.4,542.74 321.1,542.74 L321.1,543.43 321.8,543.43 L321.8,543.35 322.5,543.35 L322.5,543.14 323.2,543.14 L323.2,543.28 323.9,543.28 L323.9,542.61 324.6,542.61 L324.6,542.69 325.3,542.69 L325.3,543.41 326.0,543.41 L326.0,543.39 326.7,543.39 L326.7,543.34 327.4,543.34 L327.4,542.70 328.1,542.70 L328.1,541.69 328.8,541.69 L328.8,539.90 329.5,539.90 L329.5,539.61 330.2,539.61 L330.2,538.82 330.9,538.82 L330.9,539.89 331.6,539.89 L331.6,542.03 332.3,542.03 L332.3,542.54 333.0,542.54 L333.0,542.68 333.7,542.68 L333.7,542.21 334.4,542.21 L334.4,542.90 335.1,542.90 L335.1,542.37 335.8,542.37 L335.8,542.96 336.5,542.96 L336.5,542.59 337.2,542.59 L337.2,542.86 337.3,542.86 L337.3,545.60 Z" fill="#4fcaf2"/>
<path d="M204.9,571.70 L204.9,570.67 205.6,570.67 L205.6,570.70 206.3,570.70 L206.3,570.41 207.0,570.41 L207.0,570.57 207.7,570.57 L207.7,570.34 208.4,570.34 L208.4,570.39 209.1,570.39 L209.1,570.70 209.8,570.70 L209.8,570.52 210.5,570.52 L210.5,570.41 211.2,570.41 L211.2,570.70 211.9,570.70 L211.9,570.70 212.6,570.70 L212.6,570.70 213.3,570.70 L213.3,570.51 214.0,570.51 L214.0,570.35 214.7,570.35 L214.7,570.66 215.4,570.66 L215.4,570.13 216.1,570.13 L216.1,570.25 216.8,570.25 L216.8,570.54 217.5,570.54 L217.5,570.14 218.2,570.14 L218.2,570.07 218.9,570.07 L218.9,570.36 219.6,570.36 L219.6,570.70 220.3,570.70 L220.3,570.11 221.0,570.11 L221.0,570.16 221.7,570.16 L221.7,570.20 222.4,570.20 L222.4,570.44 223.1,570.44 L223.1,570.32 223.8,570.32 L223.8,570.32 224.5,570.32 L224.5,569.97 225.2,569.97 L225.2,570.31 225.9,570.31 L225.9,570.09 226.6,570.09 L226.6,570.61 227.3,570.61 L227.3,570.34 228.0,570.34 L228.0,570.30 228.7,570.30 L228.7,570.47 229.4,570.47 L229.4,570.25 230.1,570.25 L230.1,570.70 230.8,570.70 L230.8,570.38 231.5,570.38 L231.5,570.49 232.2,570.49 L232.2,570.19 232.9,570.19 L232.9,570.34 233.6,570.34 L233.6,570.54 234.3,570.54 L234.3,570.50 235.0,570.50 L235.0,570.43 235.7,570.43 L235.7,570.30 236.4,570.30 L236.4,570.46 237.1,570.46 L237.1,570.33 237.8,570.33 L237.8,570.06 238.5,570.06 L238.5,570.04 239.2,570.04 L239.2,569.79 239.9,569.79 L239.9,569.87 240.6,569.87 L240.6,569.27 241.3,569.27 L241.3,569.25 242.0,569.25 L242.0,566.54 242.7,566.54 L242.7,564.60 243.4,564.60 L243.4,561.81 244.1,561.81 L244.1,563.81 244.8,563.81 L244.8,567.30 245.5,567.30 L245.5,568.47 246.2,568.47 L246.2,569.44 246.9,569.44 L246.9,569.54 247.6,569.54 L247.6,568.99 248.3,568.99 L248.3,566.73 249.0,566.73 L249.0,564.66 249.7,564.66 L249.7,565.63 250.4,565.63 L250.4,565.44 251.1,565.44 L251.1,566.86 251.8,566.86 L251.8,567.16 252.5,567.16 L252.5,568.21 253.2,568.21 L253.2,567.69 253.9,567.69 L253.9,567.92 254.6,567.92 L254.6,568.48 255.3,568.48 L255.3,568.74 256.0,568.74 L256.0,568.79 256.7,568.79 L256.7,568.80 257.4,568.80 L257.4,569.46 258.1,569.46 L258.1,568.40 258.8,568.40 L258.8,569.33 259.5,569.33 L259.5,569.12 260.2,569.12 L260.2,569.56 260.9,569.56 L260.9,568.93 261.6,568.93 L261.6,568.69 262.3,568.69 L262.3,568.63 263.0,568.63 L263.0,567.60 263.7,567.60 L263.7,564.67 264.4,564.67 L264.4,559.05 265.1,559.05 L265.1,558.79 265.8,558.79 L265.8,559.98 266.5,559.98 L266.5,562.71 267.2,562.71 L267.2,565.12 267.9,565.12 L267.9,567.73 268.6,567.73 L268.6,568.55 269.3,568.55 L269.3,568.49 270.0,568.49 L270.0,567.89 270.7,567.89 L270.7,565.73 271.4,565.73 L271.4,561.55 272.1,561.55 L272.1,559.76 272.8,559.76 L272.8,563.86 273.5,563.86 L273.5,565.85 274.2,565.85 L274.2,568.57 274.9,568.57 L274.9,569.48 275.6,569.48 L275.6,568.73 276.3,568.73 L276.3,569.46 277.0,569.46 L277.0,569.34 277.7,569.34 L277.7,569.77 278.4,569.77 L278.4,568.74 279.1,568.74 L279.1,569.01 279.8,569.01 L279.8,569.02 280.5,569.02 L280.5,568.45 281.2,568.45 L281.2,568.88 281.9,568.88 L281.9,569.40 282.6,569.40 L282.6,569.08 283.3,569.08 L283.3,568.40 284.0,568.40 L284.0,569.03 284.7,569.03 L284.7,569.27 285.4,569.27 L285.4,568.77 286.1,568.77 L286.1,568.78 286.8,568.78 L286.8,569.15 287.5,569.15 L287.5,568.78 288.2,568.78 L288.2,569.80 288.9,569.80 L288.9,568.79 289.6,568.79 L289.6,567.55 290.3,567.55 L290.3,564.44 291.0,564.44 L291.0,556.29 291.7,556.29 L291.7,556.71 292.4,556.71 L292.4,561.97 293.1,561.97 L293.1,567.01 293.8,567.01 L293.8,567.96 294.5,567.96 L294.5,568.90 295.2,568.90 L295.2,568.84 295.9,568.84 L295.9,568.38 296.6,568.38 L296.6,568.49 297.3,568.49 L297.3,568.56 298.0,568.56 L298.0,568.74 298.7,568.74 L298.7,569.08 299.4,569.08 L299.4,569.03 300.1,569.03 L300.1,568.10 300.8,568.10 L300.8,568.28 301.5,568.28 L301.5,567.18 302.2,567.18 L302.2,565.44 302.9,565.44 L302.9,563.06 303.6,563.06 L303.6,564.65 304.3,564.65 L304.3,566.07 305.0,566.07 L305.0,566.65 305.7,566.65 L305.7,567.97 306.4,567.97 L306.4,568.46 307.1,568.46 L307.1,568.19 307.8,568.19 L307.8,568.68 308.5,568.68 L308.5,568.66 309.2,568.66 L309.2,567.21 309.9,567.21 L309.9,564.31 310.6,564.31 L310.6,560.75 311.3,560.75 L311.3,559.10 312.0,559.10 L312.0,560.04 312.7,560.04 L312.7,563.77 313.4,563.77 L313.4,566.44 314.1,566.44 L314.1,567.71 314.8,567.71 L314.8,568.94 315.5,568.94 L315.5,568.83 316.2,568.83 L316.2,568.92 316.9,568.92 L316.9,568.92 317.6,568.92 L317.6,569.01 318.3,569.01 L318.3,568.44 319.0,568.44 L319.0,568.42 319.7,568.42 L319.7,569.16 320.4,569.16 L320.4,568.04 321.1,568.04 L321.1,568.27 321.8,568.27 L321.8,569.28 322.5,569.28 L322.5,568.49 323.2,568.49 L323.2,567.76 323.9,567.76 L323.9,567.76 324.6,567.76 L324.6,567.69 325.3,567.69 L325.3,568.86 326.0,568.86 L326.0,568.72 326.7,568.72 L326.7,568.81 327.4,568.81 L327.4,568.63 328.1,568.63 L328.1,568.66 328.8,568.66 L328.8,566.59 329.5,566.59 L329.5,564.86 330.2,564.86 L330.2,566.73 330.9,566.73 L330.9,566.85 331.6,566.85 L331.6,569.04 332.3,569.04 L332.3,569.85 333.0,569.85 L333.0,569.64 333.7,569.64 L333.7,569.01 334.4,569.01 L334.4,569.30 335.1,569.30 L335.1,568.94 335.8,568.94 L335.8,569.87 336.5,569.87 L336.5,569.57 337.2,569.57 L337.2,569.54 337.3,569.54 L337.3,571.70 Z" fill="#d9307f"/>
<path d="M204.9,598.40 L204.9,596.76 205.6,596.76 L205.6,597.12 206.3,597.12 L206.3,596.62 207.0,596.62 L207.0,597.06 207.7,597.06 L207.7,596.87 208.4,596.87 L208.4,596.75 209.1,596.75 L209.1,596.24 209.8,596.24 L209.8,596.65 210.5,596.65 L210.5,596.50 211.2,596.50 L211.2,596.59 211.9,596.59 L211.9,596.71 212.6,596.71 L212.6,596.13 213.3,596.13 L213.3,596.47 214.0,596.47 L214.0,596.50 214.7,596.50 L214.7,597.01 215.4,597.01 L215.4,596.67 216.1,596.67 L216.1,596.36 216.8,596.36 L216.8,596.31 217.5,596.31 L217.5,596.91 218.2,596.91 L218.2,596.75 218.9,596.75 L218.9,596.85 219.6,596.85 L219.6,596.96 220.3,596.96 L220.3,596.54 221.0,596.54 L221.0,596.68 221.7,596.68 L221.7,597.08 222.4,597.08 L222.4,596.59 223.1,596.59 L223.1,596.74 223.8,596.74 L223.8,596.44 224.5,596.44 L224.5,596.77 225.2,596.77 L225.2,596.40 225.9,596.40 L225.9,596.52 226.6,596.52 L226.6,596.87 227.3,596.87 L227.3,596.73 228.0,596.73 L228.0,596.75 228.7,596.75 L228.7,596.85 229.4,596.85 L229.4,597.08 230.1,597.08 L230.1,597.07 230.8,597.07 L230.8,597.03 231.5,597.03 L231.5,596.70 232.2,596.70 L232.2,596.78 232.9,596.78 L232.9,596.98 233.6,596.98 L233.6,596.44 234.3,596.44 L234.3,597.09 235.0,597.09 L235.0,596.65 235.7,596.65 L235.7,596.17 236.4,596.17 L236.4,596.67 237.1,596.67 L237.1,596.79 237.8,596.79 L237.8,596.33 238.5,596.33 L238.5,596.12 239.2,596.12 L239.2,596.27 239.9,596.27 L239.9,595.70 240.6,595.70 L240.6,595.38 241.3,595.38 L241.3,594.43 242.0,594.43 L242.0,591.80 242.7,591.80 L242.7,585.20 243.4,585.20 L243.4,584.70 244.1,584.70 L244.1,586.95 244.8,586.95 L244.8,592.04 245.5,592.04 L245.5,595.09 246.2,595.09 L246.2,595.79 246.9,595.79 L246.9,595.12 247.6,595.12 L247.6,594.69 248.3,594.69 L248.3,594.06 249.0,594.06 L249.0,591.26 249.7,591.26 L249.7,591.59 250.4,591.59 L250.4,590.63 251.1,590.63 L251.1,593.68 251.8,593.68 L251.8,593.53 252.5,593.53 L252.5,594.40 253.2,594.40 L253.2,594.90 253.9,594.90 L253.9,594.95 254.6,594.95 L254.6,594.81 255.3,594.81 L255.3,593.77 256.0,593.77 L256.0,593.07 256.7,593.07 L256.7,594.89 257.4,594.89 L257.4,594.19 258.1,594.19 L258.1,594.43 258.8,594.43 L258.8,594.23 259.5,594.23 L259.5,594.42 260.2,594.42 L260.2,595.45 260.9,595.45 L260.9,594.87 261.6,594.87 L261.6,595.30 262.3,595.30 L262.3,594.94 263.0,594.94 L263.0,593.59 263.7,593.59 L263.7,591.21 264.4,591.21 L264.4,583.85 265.1,583.85 L265.1,582.85 265.8,582.85 L265.8,578.87 266.5,578.87 L266.5,587.13 267.2,587.13 L267.2,591.91 267.9,591.91 L267.9,593.74 268.6,593.74 L268.6,595.07 269.3,595.07 L269.3,595.16 270.0,595.16 L270.0,594.41 270.7,594.41 L270.7,593.28 271.4,593.28 L271.4,591.81 272.1,591.81 L272.1,590.23 272.8,590.23 L272.8,591.32 273.5,591.32 L273.5,593.39 274.2,593.39 L274.2,594.15 274.9,594.15 L274.9,595.42 275.6,595.42 L275.6,595.33 276.3,595.33 L276.3,595.14 277.0,595.14 L277.0,595.19 277.7,595.19 L277.7,595.45 278.4,595.45 L278.4,595.25 279.1,595.25 L279.1,595.38 279.8,595.38 L279.8,596.19 280.5,596.19 L280.5,595.04 281.2,595.04 L281.2,595.15 281.9,595.15 L281.9,596.04 282.6,596.04 L282.6,596.18 283.3,596.18 L283.3,595.47 284.0,595.47 L284.0,596.25 284.7,596.25 L284.7,595.89 285.4,595.89 L285.4,595.87 286.1,595.87 L286.1,595.84 286.8,595.84 L286.8,595.87 287.5,595.87 L287.5,595.79 288.2,595.79 L288.2,595.01 288.9,595.01 L288.9,595.00 289.6,595.00 L289.6,593.46 290.3,593.46 L290.3,587.45 291.0,587.45 L291.0,580.97 291.7,580.97 L291.7,583.11 292.4,583.11 L292.4,590.06 293.1,590.06 L293.1,593.69 293.8,593.69 L293.8,595.40 294.5,595.40 L294.5,595.51 295.2,595.51 L295.2,594.66 295.9,594.66 L295.9,595.44 296.6,595.44 L296.6,595.79 297.3,595.79 L297.3,594.64 298.0,594.64 L298.0,594.56 298.7,594.56 L298.7,594.62 299.4,594.62 L299.4,595.33 300.1,595.33 L300.1,595.10 300.8,595.10 L300.8,593.03 301.5,593.03 L301.5,591.06 302.2,591.06 L302.2,590.38 302.9,590.38 L302.9,587.45 303.6,587.45 L303.6,590.51 304.3,590.51 L304.3,588.94 305.0,588.94 L305.0,593.20 305.7,593.20 L305.7,594.44 306.4,594.44 L306.4,594.03 307.1,594.03 L307.1,594.34 307.8,594.34 L307.8,594.91 308.5,594.91 L308.5,595.52 309.2,595.52 L309.2,593.82 309.9,593.82 L309.9,589.80 310.6,589.80 L310.6,585.67 311.3,585.67 L311.3,585.24 312.0,585.24 L312.0,585.29 312.7,585.29 L312.7,590.85 313.4,590.85 L313.4,592.12 314.1,592.12 L314.1,593.60 314.8,593.60 L314.8,594.58 315.5,594.58 L315.5,594.74 316.2,594.74 L316.2,594.40 316.9,594.40 L316.9,595.03 317.6,595.03 L317.6,595.18 318.3,595.18 L318.3,595.13 319.0,595.13 L319.0,594.67 319.7,594.67 L319.7,594.21 320.4,594.21 L320.4,595.25 321.1,595.25 L321.1,593.83 321.8,593.83 L321.8,595.38 322.5,595.38 L322.5,594.20 323.2,594.20 L323.2,595.06 323.9,595.06 L323.9,594.99 324.6,594.99 L324.6,594.27 325.3,594.27 L325.3,595.31 326.0,595.31 L326.0,595.76 326.7,595.76 L326.7,595.31 327.4,595.31 L327.4,594.69 328.1,594.69 L328.1,594.45 328.8,594.45 L328.8,591.25 329.5,591.25 L329.5,588.84 330.2,588.84 L330.2,590.47 330.9,590.47 L330.9,592.31 331.6,592.31 L331.6,594.74 332.3,594.74 L332.3,595.64 333.0,595.64 L333.0,595.77 333.7,595.77 L333.7,595.60 334.4,595.60 L334.4,595.38 335.1,595.38 L335.1,595.32 335.8,595.32 L335.8,595.64 336.5,595.64 L336.5,594.94 337.2,594.94 L337.2,594.67 337.3,594.67 L337.3,598.40 Z" fill="#f9b3d1"/>
<path d="M204.9,624.60 L204.9,622.52 205.6,622.52 L205.6,621.90 206.3,621.90 L206.3,621.25 207.0,621.25 L207.0,620.57 207.7,620.57 L207.7,621.52 208.4,621.52 L208.4,620.78 209.1,620.78 L209.1,621.04 209.8,621.04 L209.8,620.45 210.5,620.45 L210.5,621.02 211.2,621.02 L211.2,621.77 211.9,621.77 L211.9,621.28 212.6,621.28 L212.6,621.86 213.3,621.86 L213.3,621.55 214.0,621.55 L214.0,621.59 214.7,621.59 L214.7,622.03 215.4,622.03 L215.4,621.77 216.1,621.77 L216.1,622.14 216.8,622.14 L216.8,622.19 217.5,622.19 L217.5,621.79 218.2,621.79 L218.2,621.20 218.9,621.20 L218.9,622.21 219.6,622.21 L219.6,620.60 220.3,620.60 L220.3,621.76 221.0,621.76 L221.0,621.98 221.7,621.98 L221.7,621.58 222.4,621.58 L222.4,622.04 223.1,622.04 L223.1,621.46 223.8,621.46 L223.8,620.93 224.5,620.93 L224.5,621.39 225.2,621.39 L225.2,622.02 225.9,622.02 L225.9,621.78 226.6,621.78 L226.6,622.26 227.3,622.26 L227.3,622.43 228.0,622.43 L228.0,621.50 228.7,621.50 L228.7,621.38 229.4,621.38 L229.4,621.88 230.1,621.88 L230.1,621.71 230.8,621.71 L230.8,621.96 231.5,621.96 L231.5,621.73 232.2,621.73 L232.2,620.94 232.9,620.94 L232.9,621.19 233.6,621.19 L233.6,620.84 234.3,620.84 L234.3,621.74 235.0,621.74 L235.0,622.24 235.7,622.24 L235.7,620.65 236.4,620.65 L236.4,622.31 237.1,622.31 L237.1,621.28 237.8,621.28 L237.8,621.27 238.5,621.27 L238.5,621.04 239.2,621.04 L239.2,621.37 239.9,621.37 L239.9,620.80 240.6,620.80 L240.6,620.40 241.3,620.40 L241.3,620.56 242.0,620.56 L242.0,621.51 242.7,621.51 L242.7,619.76 243.4,619.76 L243.4,617.72 244.1,617.72 L244.1,620.55 244.8,620.55 L244.8,620.87 245.5,620.87 L245.5,621.33 246.2,621.33 L246.2,621.41 246.9,621.41 L246.9,621.34 247.6,621.34 L247.6,621.31 248.3,621.31 L248.3,621.85 249.0,621.85 L249.0,621.67 249.7,621.67 L249.7,622.02 250.4,622.02 L250.4,622.52 251.1,622.52 L251.1,622.65 251.8,622.65 L251.8,621.85 252.5,621.85 L252.5,622.04 253.2,622.04 L253.2,622.53 253.9,622.53 L253.9,622.30 254.6,622.30 L254.6,621.54 255.3,621.54 L255.3,621.47 256.0,621.47 L256.0,621.41 256.7,621.41 L256.7,621.17 257.4,621.17 L257.4,620.90 258.1,620.90 L258.1,622.14 258.8,622.14 L258.8,621.96 259.5,621.96 L259.5,621.74 260.2,621.74 L260.2,621.57 260.9,621.57 L260.9,621.02 261.6,621.02 L261.6,622.19 262.3,622.19 L262.3,621.15 263.0,621.15 L263.0,620.97 263.7,620.97 L263.7,621.72 264.4,621.72 L264.4,621.20 265.1,621.20 L265.1,617.68 265.8,617.68 L265.8,617.70 266.5,617.70 L266.5,621.97 267.2,621.97 L267.2,622.09 267.9,622.09 L267.9,621.39 268.6,621.39 L268.6,621.22 269.3,621.22 L269.3,621.36 270.0,621.36 L270.0,620.98 270.7,620.98 L270.7,622.20 271.4,622.20 L271.4,621.38 272.1,621.38 L272.1,621.92 272.8,621.92 L272.8,621.02 273.5,621.02 L273.5,621.77 274.2,621.77 L274.2,621.85 274.9,621.85 L274.9,621.69 275.6,621.69 L275.6,622.25 276.3,622.25 L276.3,621.84 277.0,621.84 L277.0,621.93 277.7,621.93 L277.7,621.43 278.4,621.43 L278.4,622.29 279.1,622.29 L279.1,622.55 279.8,622.55 L279.8,622.00 280.5,622.00 L280.5,622.04 281.2,622.04 L281.2,621.94 281.9,621.94 L281.9,621.31 282.6,621.31 L282.6,621.64 283.3,621.64 L283.3,622.59 284.0,622.59 L284.0,621.40 284.7,621.40 L284.7,622.15 285.4,622.15 L285.4,622.20 286.1,622.20 L286.1,621.50 286.8,621.50 L286.8,621.41 287.5,621.41 L287.5,621.81 288.2,621.81 L288.2,621.55 288.9,621.55 L288.9,622.48 289.6,622.48 L289.6,621.60 290.3,621.60 L290.3,621.03 291.0,621.03 L291.0,620.76 291.7,620.76 L291.7,619.79 292.4,619.79 L292.4,621.92 293.1,621.92 L293.1,621.77 293.8,621.77 L293.8,622.26 294.5,622.26 L294.5,621.74 295.2,621.74 L295.2,620.92 295.9,620.92 L295.9,621.84 296.6,621.84 L296.6,620.83 297.3,620.83 L297.3,621.10 298.0,621.10 L298.0,622.23 298.7,622.23 L298.7,621.94 299.4,621.94 L299.4,622.07 300.1,622.07 L300.1,621.91 300.8,621.91 L300.8,621.83 301.5,621.83 L301.5,621.60 302.2,621.60 L302.2,622.34 302.9,622.34 L302.9,621.16 303.6,621.16 L303.6,620.91 304.3,620.91 L304.3,622.03 305.0,622.03 L305.0,622.08 305.7,622.08 L305.7,621.56 306.4,621.56 L306.4,621.56 307.1,621.56 L307.1,621.42 307.8,621.42 L307.8,621.49 308.5,621.49 L308.5,621.32 309.2,621.32 L309.2,621.40 309.9,621.40 L309.9,620.58 310.6,620.58 L310.6,621.15 311.3,621.15 L311.3,617.91 312.0,617.91 L312.0,620.01 312.7,620.01 L312.7,621.10 313.4,621.10 L313.4,621.61 314.1,621.61 L314.1,621.33 314.8,621.33 L314.8,621.18 315.5,621.18 L315.5,621.63 316.2,621.63 L316.2,621.29 316.9,621.29 L316.9,620.97 317.6,620.97 L317.6,622.06 318.3,622.06 L318.3,620.72 319.0,620.72 L319.0,621.81 319.7,621.81 L319.7,621.97 320.4,621.97 L320.4,621.76 321.1,621.76 L321.1,621.77 321.8,621.77 L321.8,621.90 322.5,621.90 L322.5,621.55 323.2,621.55 L323.2,622.34 323.9,622.34 L323.9,622.51 324.6,622.51 L324.6,620.80 325.3,620.80 L325.3,621.87 326.0,621.87 L326.0,620.86 326.7,620.86 L326.7,621.95 327.4,621.95 L327.4,621.42 328.1,621.42 L328.1,621.24 328.8,621.24 L328.8,621.43 329.5,621.43 L329.5,621.48 330.2,621.48 L330.2,621.78 330.9,621.78 L330.9,621.44 331.6,621.44 L331.6,621.24 332.3,621.24 L332.3,621.52 333.0,621.52 L333.0,621.04 333.7,621.04 L333.7,621.89 334.4,621.89 L334.4,622.47 335.1,622.47 L335.1,621.49 335.8,621.49 L335.8,621.79 336.5,621.79 L336.5,621.78 337.2,621.78 L337.2,622.30 337.3,622.30 L337.3,624.60 Z" fill="#a3a3a3"/>
<rect x="249" y="440.2" width="25.600000000000023" height="189.10000000000002" fill="#bebebe" opacity="0.33"/>
<rect x="300.8" y="440.2" width="25.5" height="189.10000000000002" fill="#bebebe" opacity="0.33"/>
<line x1="204.9" y1="625.9" x2="337.3" y2="625.9" stroke="#ababab" stroke-width="0.9"/>
<line x1="204.9" y1="628.5" x2="337.3" y2="628.5" stroke="#ababab" stroke-width="0.9"/>
<text x="337.0" y="445.5" font-size="6.2" font-weight="normal" fill="#858585" text-anchor="end">0-300</text>
<text x="337.0" y="472.3" font-size="6.2" font-weight="normal" fill="#858585" text-anchor="end">0-300</text>
<text x="337.0" y="498.4" font-size="6.2" font-weight="normal" fill="#858585" text-anchor="end">0-300</text>
<text x="337.0" y="524.7" font-size="6.2" font-weight="normal" fill="#858585" text-anchor="end">0-300</text>
<text x="337.0" y="551.1" font-size="6.2" font-weight="normal" fill="#858585" text-anchor="end">0-550</text>
<text x="337.0" y="577.2" font-size="6.2" font-weight="normal" fill="#858585" text-anchor="end">0-550</text>
<text x="337.0" y="603.9" font-size="6.2" font-weight="normal" fill="#858585" text-anchor="end">0-300</text>
<line x1="347.7" y1="439.5" x2="475.1" y2="439.5" stroke="#cfcfcf" stroke-width="1.3"/>
<path d="M347.7,466.80 L347.7,465.19 348.4,465.19 L348.4,465.38 349.1,465.38 L349.1,464.99 349.8,464.99 L349.8,464.86 350.5,464.86 L350.5,465.27 351.2,465.27 L351.2,465.44 351.9,465.44 L351.9,465.46 352.6,465.46 L352.6,464.97 353.3,464.97 L353.3,465.08 354.0,465.08 L354.0,465.61 354.7,465.61 L354.7,465.20 355.4,465.20 L355.4,465.69 356.1,465.69 L356.1,465.20 356.8,465.20 L356.8,465.25 357.5,465.25 L357.5,465.35 358.2,465.35 L358.2,465.47 358.9,465.47 L358.9,464.97 359.6,464.97 L359.6,465.57 360.3,465.57 L360.3,465.20 361.0,465.20 L361.0,465.16 361.7,465.16 L361.7,465.03 362.4,465.03 L362.4,464.98 363.1,464.98 L363.1,465.31 363.8,465.31 L363.8,465.02 364.5,465.02 L364.5,464.50 365.2,464.50 L365.2,463.18 365.9,463.18 L365.9,462.24 366.6,462.24 L366.6,462.40 367.3,462.40 L367.3,462.98 368.0,462.98 L368.0,464.64 368.7,464.64 L368.7,465.16 369.4,465.16 L369.4,464.98 370.1,464.98 L370.1,465.18 370.8,465.18 L370.8,464.87 371.5,464.87 L371.5,463.29 372.2,463.29 L372.2,460.96 372.9,460.96 L372.9,460.87 373.6,460.87 L373.6,458.13 374.3,458.13 L374.3,461.01 375.0,461.01 L375.0,461.69 375.7,461.69 L375.7,463.55 376.4,463.55 L376.4,464.05 377.1,464.05 L377.1,464.22 377.8,464.22 L377.8,464.73 378.5,464.73 L378.5,464.67 379.2,464.67 L379.2,464.84 379.9,464.84 L379.9,465.09 380.6,465.09 L380.6,464.93 381.3,464.93 L381.3,465.15 382.0,465.15 L382.0,464.97 382.7,464.97 L382.7,465.18 383.4,465.18 L383.4,465.06 384.1,465.06 L384.1,465.18 384.8,465.18 L384.8,464.93 385.5,464.93 L385.5,465.12 386.2,465.12 L386.2,465.20 386.9,465.20 L386.9,465.08 387.6,465.08 L387.6,465.12 388.3,465.12 L388.3,464.86 389.0,464.86 L389.0,465.42 389.7,465.42 L389.7,465.03 390.4,465.03 L390.4,465.09 391.1,465.09 L391.1,464.69 391.8,464.69 L391.8,464.60 392.5,464.60 L392.5,464.63 393.2,464.63 L393.2,464.82 393.9,464.82 L393.9,464.78 394.6,464.78 L394.6,464.96 395.3,464.96 L395.3,464.66 396.0,464.66 L396.0,463.83 396.7,463.83 L396.7,461.20 397.4,461.20 L397.4,456.72 398.1,456.72 L398.1,455.17 398.8,455.17 L398.8,454.27 399.5,454.27 L399.5,457.08 400.2,457.08 L400.2,460.22 400.9,460.22 L400.9,462.80 401.6,462.80 L401.6,464.04 402.3,464.04 L402.3,465.31 403.0,465.31 L403.0,464.89 403.7,464.89 L403.7,464.76 404.4,464.76 L404.4,464.45 405.1,464.45 L405.1,465.12 405.8,465.12 L405.8,465.34 406.5,465.34 L406.5,464.87 407.2,464.87 L407.2,464.94 407.9,464.94 L407.9,464.03 408.6,464.03 L408.6,463.92 409.3,463.92 L409.3,462.07 410.0,462.07 L410.0,462.37 410.7,462.37 L410.7,461.18 411.4,461.18 L411.4,461.78 412.1,461.78 L412.1,463.62 412.8,463.62 L412.8,463.65 413.5,463.65 L413.5,464.07 414.2,464.07 L414.2,464.35 414.9,464.35 L414.9,464.21 415.6,464.21 L415.6,464.83 416.3,464.83 L416.3,464.60 417.0,464.60 L417.0,463.88 417.7,463.88 L417.7,462.87 418.4,462.87 L418.4,462.64 419.1,462.64 L419.1,459.99 419.8,459.99 L419.8,461.35 420.5,461.35 L420.5,462.80 421.2,462.80 L421.2,463.57 421.9,463.57 L421.9,464.66 422.6,464.66 L422.6,465.03 423.3,465.03 L423.3,465.00 424.0,465.00 L424.0,464.57 424.7,464.57 L424.7,464.59 425.4,464.59 L425.4,464.48 426.1,464.48 L426.1,464.57 426.8,464.57 L426.8,464.70 427.5,464.70 L427.5,464.55 428.2,464.55 L428.2,464.94 428.9,464.94 L428.9,464.05 429.6,464.05 L429.6,463.77 430.3,463.77 L430.3,463.46 431.0,463.46 L431.0,464.41 431.7,464.41 L431.7,464.47 432.4,464.47 L432.4,464.61 433.1,464.61 L433.1,464.79 433.8,464.79 L433.8,464.57 434.5,464.57 L434.5,464.85 435.2,464.85 L435.2,464.45 435.9,464.45 L435.9,464.41 436.6,464.41 L436.6,464.72 437.3,464.72 L437.3,464.41 438.0,464.41 L438.0,463.99 438.7,463.99 L438.7,464.59 439.4,464.59 L439.4,464.07 440.1,464.07 L440.1,464.07 440.8,464.07 L440.8,463.67 441.5,463.67 L441.5,463.95 442.2,463.95 L442.2,463.59 442.9,463.59 L442.9,463.79 443.6,463.79 L443.6,463.83 444.3,463.83 L444.3,464.49 445.0,464.49 L445.0,464.52 445.7,464.52 L445.7,464.75 446.4,464.75 L446.4,464.33 447.1,464.33 L447.1,464.78 447.8,464.78 L447.8,464.71 448.5,464.71 L448.5,465.23 449.2,465.23 L449.2,465.10 449.9,465.10 L449.9,464.53 450.6,464.53 L450.6,465.07 451.3,465.07 L451.3,465.04 452.0,465.04 L452.0,465.35 452.7,465.35 L452.7,464.85 453.4,464.85 L453.4,465.26 454.1,465.26 L454.1,465.06 454.8,465.06 L454.8,464.80 455.5,464.80 L455.5,465.10 456.2,465.10 L456.2,465.09 456.9,465.09 L456.9,465.00 457.6,465.00 L457.6,463.84 458.3,463.84 L458.3,464.09 459.0,464.09 L459.0,463.91 459.7,463.91 L459.7,464.16 460.4,464.16 L460.4,464.83 461.1,464.83 L461.1,464.92 461.8,464.92 L461.8,465.43 462.5,465.43 L462.5,465.57 463.2,465.57 L463.2,465.55 463.9,465.55 L463.9,465.52 464.6,465.52 L464.6,465.30 465.3,465.30 L465.3,465.06 466.0,465.06 L466.0,465.09 466.7,465.09 L466.7,465.38 467.4,465.38 L467.4,465.09 468.1,465.09 L468.1,465.16 468.8,465.16 L468.8,464.86 469.5,464.86 L469.5,464.96 470.2,464.96 L470.2,465.45 470.9,465.45 L470.9,465.46 471.6,465.46 L471.6,465.40 472.3,465.40 L472.3,465.30 473.0,465.30 L473.0,465.00 473.7,465.00 L473.7,465.29 474.4,465.29 L474.4,465.33 475.1,465.33 L475.1,465.08 475.1,465.08 L475.1,466.80 Z" fill="#14919b"/>
<path d="M347.7,492.90 L347.7,490.28 348.4,490.28 L348.4,489.03 349.1,489.03 L349.1,489.33 349.8,489.33 L349.8,489.23 350.5,489.23 L350.5,490.51 351.2,490.51 L351.2,491.16 351.9,491.16 L351.9,490.81 352.6,490.81 L352.6,491.34 353.3,491.34 L353.3,490.86 354.0,490.86 L354.0,491.01 354.7,491.01 L354.7,491.02 355.4,491.02 L355.4,491.41 356.1,491.41 L356.1,491.61 356.8,491.61 L356.8,491.62 357.5,491.62 L357.5,491.23 358.2,491.23 L358.2,491.43 358.9,491.43 L358.9,491.57 359.6,491.57 L359.6,491.52 360.3,491.52 L360.3,491.60 361.0,491.60 L361.0,491.57 361.7,491.57 L361.7,491.43 362.4,491.43 L362.4,491.50 363.1,491.50 L363.1,491.07 363.8,491.07 L363.8,490.97 364.5,490.97 L364.5,490.99 365.2,490.99 L365.2,489.52 365.9,489.52 L365.9,488.29 366.6,488.29 L366.6,488.58 367.3,488.58 L367.3,488.94 368.0,488.94 L368.0,489.90 368.7,489.90 L368.7,490.25 369.4,490.25 L369.4,490.38 370.1,490.38 L370.1,489.64 370.8,489.64 L370.8,489.59 371.5,489.59 L371.5,488.05 372.2,488.05 L372.2,485.23 372.9,485.23 L372.9,483.78 373.6,483.78 L373.6,483.92 374.3,483.92 L374.3,484.97 375.0,484.97 L375.0,485.70 375.7,485.70 L375.7,488.14 376.4,488.14 L376.4,489.00 377.1,489.00 L377.1,489.79 377.8,489.79 L377.8,489.53 378.5,489.53 L378.5,490.37 379.2,490.37 L379.2,490.48 379.9,490.48 L379.9,489.24 380.6,489.24 L380.6,489.61 381.3,489.61 L381.3,490.06 382.0,490.06 L382.0,489.21 382.7,489.21 L382.7,490.11 383.4,490.11 L383.4,490.00 384.1,490.00 L384.1,490.45 384.8,490.45 L384.8,489.57 385.5,489.57 L385.5,489.26 386.2,489.26 L386.2,490.33 386.9,490.33 L386.9,490.27 387.6,490.27 L387.6,488.71 388.3,488.71 L388.3,488.29 389.0,488.29 L389.0,486.86 389.7,486.86 L389.7,484.70 390.4,484.70 L390.4,486.46 391.1,486.46 L391.1,486.46 391.8,486.46 L391.8,488.66 392.5,488.66 L392.5,488.66 393.2,488.66 L393.2,489.43 393.9,489.43 L393.9,489.47 394.6,489.47 L394.6,489.85 395.3,489.85 L395.3,489.55 396.0,489.55 L396.0,487.16 396.7,487.16 L396.7,482.47 397.4,482.47 L397.4,478.77 398.1,478.77 L398.1,473.43 398.8,473.43 L398.8,477.38 399.5,477.38 L399.5,480.80 400.2,480.80 L400.2,479.99 400.9,479.99 L400.9,483.70 401.6,483.70 L401.6,485.59 402.3,485.59 L402.3,487.72 403.0,487.72 L403.0,489.00 403.7,489.00 L403.7,489.71 404.4,489.71 L404.4,490.40 405.1,490.40 L405.1,489.76 405.8,489.76 L405.8,490.53 406.5,490.53 L406.5,490.02 407.2,490.02 L407.2,490.43 407.9,490.43 L407.9,489.48 408.6,489.48 L408.6,488.38 409.3,488.38 L409.3,485.58 410.0,485.58 L410.0,486.62 410.7,486.62 L410.7,483.93 411.4,483.93 L411.4,486.68 412.1,486.68 L412.1,487.37 412.8,487.37 L412.8,489.13 413.5,489.13 L413.5,489.75 414.2,489.75 L414.2,490.72 414.9,490.72 L414.9,490.83 415.6,490.83 L415.6,490.63 416.3,490.63 L416.3,489.39 417.0,489.39 L417.0,488.83 417.7,488.83 L417.7,487.48 418.4,487.48 L418.4,484.82 419.1,484.82 L419.1,483.70 419.8,483.70 L419.8,481.81 420.5,481.81 L420.5,487.08 421.2,487.08 L421.2,487.44 421.9,487.44 L421.9,489.59 422.6,489.59 L422.6,489.48 423.3,489.48 L423.3,490.20 424.0,490.20 L424.0,490.32 424.7,490.32 L424.7,490.47 425.4,490.47 L425.4,490.06 426.1,490.06 L426.1,489.90 426.8,489.90 L426.8,489.90 427.5,489.90 L427.5,490.09 428.2,490.09 L428.2,490.16 428.9,490.16 L428.9,489.50 429.6,489.50 L429.6,489.70 430.3,489.70 L430.3,490.21 431.0,490.21 L431.0,489.24 431.7,489.24 L431.7,489.45 432.4,489.45 L432.4,489.56 433.1,489.56 L433.1,489.27 433.8,489.27 L433.8,489.31 434.5,489.31 L434.5,488.97 435.2,488.97 L435.2,489.29 435.9,489.29 L435.9,488.94 436.6,488.94 L436.6,489.49 437.3,489.49 L437.3,489.93 438.0,489.93 L438.0,489.81 438.7,489.81 L438.7,489.01 439.4,489.01 L439.4,489.74 440.1,489.74 L440.1,489.40 440.8,489.40 L440.8,489.65 441.5,489.65 L441.5,489.95 442.2,489.95 L442.2,490.16 442.9,490.16 L442.9,490.57 443.6,490.57 L443.6,490.58 444.3,490.58 L444.3,489.77 445.0,489.77 L445.0,490.44 445.7,490.44 L445.7,490.13 446.4,490.13 L446.4,490.35 447.1,490.35 L447.1,490.68 447.8,490.68 L447.8,491.35 448.5,491.35 L448.5,491.26 449.2,491.26 L449.2,491.43 449.9,491.43 L449.9,491.07 450.6,491.07 L450.6,491.25 451.3,491.25 L451.3,490.96 452.0,490.96 L452.0,490.00 452.7,490.00 L452.7,489.76 453.4,489.76 L453.4,487.75 454.1,487.75 L454.1,489.51 454.8,489.51 L454.8,490.21 455.5,490.21 L455.5,491.05 456.2,491.05 L456.2,491.11 456.9,491.11 L456.9,491.19 457.6,491.19 L457.6,491.11 458.3,491.11 L458.3,491.47 459.0,491.47 L459.0,491.65 459.7,491.65 L459.7,491.10 460.4,491.10 L460.4,491.40 461.1,491.40 L461.1,491.29 461.8,491.29 L461.8,490.78 462.5,490.78 L462.5,491.04 463.2,491.04 L463.2,490.85 463.9,490.85 L463.9,491.11 464.6,491.11 L464.6,491.28 465.3,491.28 L465.3,491.36 466.0,491.36 L466.0,490.98 466.7,490.98 L466.7,491.63 467.4,491.63 L467.4,491.40 468.1,491.40 L468.1,491.24 468.8,491.24 L468.8,491.52 469.5,491.52 L469.5,490.85 470.2,490.85 L470.2,489.37 470.9,489.37 L470.9,490.31 471.6,490.31 L471.6,490.44 472.3,490.44 L472.3,491.13 473.0,491.13 L473.0,491.37 473.7,491.37 L473.7,491.53 474.4,491.53 L474.4,491.68 475.1,491.68 L475.1,491.64 475.1,491.64 L475.1,492.90 Z" fill="#3fcfcf"/>
<path d="M347.7,519.20 L347.7,517.66 348.4,517.66 L348.4,517.11 349.1,517.11 L349.1,517.38 349.8,517.38 L349.8,517.10 350.5,517.10 L350.5,517.47 351.2,517.47 L351.2,517.64 351.9,517.64 L351.9,517.29 352.6,517.29 L352.6,517.88 353.3,517.88 L353.3,517.93 354.0,517.93 L354.0,517.51 354.7,517.51 L354.7,516.77 355.4,516.77 L355.4,516.57 356.1,516.57 L356.1,515.63 356.8,515.63 L356.8,515.27 357.5,515.27 L357.5,516.88 358.2,516.88 L358.2,517.22 358.9,517.22 L358.9,517.81 359.6,517.81 L359.6,517.41 360.3,517.41 L360.3,517.79 361.0,517.79 L361.0,517.51 361.7,517.51 L361.7,517.70 362.4,517.70 L362.4,517.18 363.1,517.18 L363.1,517.50 363.8,517.50 L363.8,517.32 364.5,517.32 L364.5,517.06 365.2,517.06 L365.2,515.45 365.9,515.45 L365.9,513.34 366.6,513.34 L366.6,514.10 367.3,514.10 L367.3,514.85 368.0,514.85 L368.0,516.32 368.7,516.32 L368.7,516.10 369.4,516.10 L369.4,516.42 370.1,516.42 L370.1,517.31 370.8,517.31 L370.8,516.65 371.5,516.65 L371.5,516.45 372.2,516.45 L372.2,513.63 372.9,513.63 L372.9,511.65 373.6,511.65 L373.6,508.87 374.3,508.87 L374.3,510.14 375.0,510.14 L375.0,514.11 375.7,514.11 L375.7,516.34 376.4,516.34 L376.4,517.09 377.1,517.09 L377.1,516.54 377.8,516.54 L377.8,516.53 378.5,516.53 L378.5,516.51 379.2,516.51 L379.2,516.19 379.9,516.19 L379.9,516.19 380.6,516.19 L380.6,516.35 381.3,516.35 L381.3,516.31 382.0,516.31 L382.0,517.05 382.7,517.05 L382.7,516.66 383.4,516.66 L383.4,516.90 384.1,516.90 L384.1,516.53 384.8,516.53 L384.8,516.83 385.5,516.83 L385.5,517.18 386.2,517.18 L386.2,516.64 386.9,516.64 L386.9,517.10 387.6,517.10 L387.6,516.89 388.3,516.89 L388.3,517.03 389.0,517.03 L389.0,516.87 389.7,516.87 L389.7,517.01 390.4,517.01 L390.4,516.77 391.1,516.77 L391.1,516.78 391.8,516.78 L391.8,516.27 392.5,516.27 L392.5,517.00 393.2,517.00 L393.2,516.80 393.9,516.80 L393.9,516.74 394.6,516.74 L394.6,516.42 395.3,516.42 L395.3,515.90 396.0,515.90 L396.0,515.90 396.7,515.90 L396.7,512.89 397.4,512.89 L397.4,501.14 398.1,501.14 L398.1,499.25 398.8,499.25 L398.8,505.38 399.5,505.38 L399.5,507.41 400.2,507.41 L400.2,512.07 400.9,512.07 L400.9,515.37 401.6,515.37 L401.6,516.49 402.3,516.49 L402.3,516.62 403.0,516.62 L403.0,517.09 403.7,517.09 L403.7,517.38 404.4,517.38 L404.4,517.30 405.1,517.30 L405.1,517.31 405.8,517.31 L405.8,517.22 406.5,517.22 L406.5,517.54 407.2,517.54 L407.2,516.74 407.9,516.74 L407.9,517.02 408.6,517.02 L408.6,516.41 409.3,516.41 L409.3,514.65 410.0,514.65 L410.0,512.81 410.7,512.81 L410.7,512.98 411.4,512.98 L411.4,514.35 412.1,514.35 L412.1,516.46 412.8,516.46 L412.8,516.86 413.5,516.86 L413.5,516.62 414.2,516.62 L414.2,516.56 414.9,516.56 L414.9,517.25 415.6,517.25 L415.6,516.39 416.3,516.39 L416.3,516.88 417.0,516.88 L417.0,516.68 417.7,516.68 L417.7,515.77 418.4,515.77 L418.4,513.80 419.1,513.80 L419.1,511.05 419.8,511.05 L419.8,512.10 420.5,512.10 L420.5,514.04 421.2,514.04 L421.2,516.34 421.9,516.34 L421.9,516.84 422.6,516.84 L422.6,517.24 423.3,517.24 L423.3,516.88 424.0,516.88 L424.0,516.97 424.7,516.97 L424.7,517.19 425.4,517.19 L425.4,516.69 426.1,516.69 L426.1,516.76 426.8,516.76 L426.8,516.64 427.5,516.64 L427.5,516.87 428.2,516.87 L428.2,516.66 428.9,516.66 L428.9,516.42 429.6,516.42 L429.6,516.47 430.3,516.47 L430.3,516.57 431.0,516.57 L431.0,516.37 431.7,516.37 L431.7,516.48 432.4,516.48 L432.4,517.06 433.1,517.06 L433.1,516.44 433.8,516.44 L433.8,516.44 434.5,516.44 L434.5,516.68 435.2,516.68 L435.2,514.59 435.9,514.59 L435.9,513.80 436.6,513.80 L436.6,514.45 437.3,514.45 L437.3,514.42 438.0,514.42 L438.0,516.64 438.7,516.64 L438.7,516.42 439.4,516.42 L439.4,516.54 440.1,516.54 L440.1,516.55 440.8,516.55 L440.8,516.88 441.5,516.88 L441.5,516.80 442.2,516.80 L442.2,515.69 442.9,515.69 L442.9,513.28 443.6,513.28 L443.6,514.62 444.3,514.62 L444.3,516.09 445.0,516.09 L445.0,516.93 445.7,516.93 L445.7,517.01 446.4,517.01 L446.4,517.37 447.1,517.37 L447.1,516.83 447.8,516.83 L447.8,516.34 448.5,516.34 L448.5,516.06 449.2,516.06 L449.2,517.02 449.9,517.02 L449.9,516.12 450.6,516.12 L450.6,517.02 451.3,517.02 L451.3,516.86 452.0,516.86 L452.0,516.47 452.7,516.47 L452.7,515.92 453.4,515.92 L453.4,516.12 454.1,516.12 L454.1,515.81 454.8,515.81 L454.8,516.65 455.5,516.65 L455.5,516.21 456.2,516.21 L456.2,516.90 456.9,516.90 L456.9,515.91 457.6,515.91 L457.6,516.78 458.3,516.78 L458.3,516.09 459.0,516.09 L459.0,515.72 459.7,515.72 L459.7,516.24 460.4,516.24 L460.4,515.53 461.1,515.53 L461.1,514.62 461.8,514.62 L461.8,511.75 462.5,511.75 L462.5,511.14 463.2,511.14 L463.2,512.63 463.9,512.63 L463.9,514.58 464.6,514.58 L464.6,515.07 465.3,515.07 L465.3,516.21 466.0,516.21 L466.0,516.50 466.7,516.50 L466.7,515.88 467.4,515.88 L467.4,514.85 468.1,514.85 L468.1,515.59 468.8,515.59 L468.8,513.62 469.5,513.62 L469.5,511.19 470.2,511.19 L470.2,511.90 470.9,511.90 L470.9,508.54 471.6,508.54 L471.6,511.02 472.3,511.02 L472.3,513.18 473.0,513.18 L473.0,513.81 473.7,513.81 L473.7,513.82 474.4,513.82 L474.4,511.24 475.1,511.24 L475.1,510.31 475.1,510.31 L475.1,519.20 Z" fill="#1e98c9"/>
<path d="M347.7,545.60 L347.7,543.65 348.4,543.65 L348.4,543.74 349.1,543.74 L349.1,543.93 349.8,543.93 L349.8,543.77 350.5,543.77 L350.5,543.52 351.2,543.52 L351.2,543.40 351.9,543.40 L351.9,543.86 352.6,543.86 L352.6,543.74 353.3,543.74 L353.3,543.33 354.0,543.33 L354.0,543.32 354.7,543.32 L354.7,543.92 355.4,543.92 L355.4,543.63 356.1,543.63 L356.1,543.30 356.8,543.30 L356.8,543.43 357.5,543.43 L357.5,544.23 358.2,544.23 L358.2,543.71 358.9,543.71 L358.9,543.55 359.6,543.55 L359.6,543.55 360.3,543.55 L360.3,544.15 361.0,544.15 L361.0,544.00 361.7,544.00 L361.7,544.19 362.4,544.19 L362.4,543.82 363.1,543.82 L363.1,543.93 363.8,543.93 L363.8,543.89 364.5,543.89 L364.5,543.39 365.2,543.39 L365.2,540.91 365.9,540.91 L365.9,539.97 366.6,539.97 L366.6,539.84 367.3,539.84 L367.3,540.87 368.0,540.87 L368.0,541.73 368.7,541.73 L368.7,542.80 369.4,542.80 L369.4,542.38 370.1,542.38 L370.1,542.60 370.8,542.60 L370.8,541.73 371.5,541.73 L371.5,541.88 372.2,541.88 L372.2,540.76 372.9,540.76 L372.9,538.51 373.6,538.51 L373.6,537.87 374.3,537.87 L374.3,536.73 375.0,536.73 L375.0,541.59 375.7,541.59 L375.7,542.40 376.4,542.40 L376.4,542.70 377.1,542.70 L377.1,543.54 377.8,543.54 L377.8,543.69 378.5,543.69 L378.5,543.54 379.2,543.54 L379.2,543.72 379.9,543.72 L379.9,543.65 380.6,543.65 L380.6,543.76 381.3,543.76 L381.3,542.90 382.0,542.90 L382.0,542.77 382.7,542.77 L382.7,542.51 383.4,542.51 L383.4,542.95 384.1,542.95 L384.1,543.31 384.8,543.31 L384.8,543.45 385.5,543.45 L385.5,542.33 386.2,542.33 L386.2,543.00 386.9,543.00 L386.9,542.37 387.6,542.37 L387.6,542.95 388.3,542.95 L388.3,543.24 389.0,543.24 L389.0,543.03 389.7,543.03 L389.7,542.69 390.4,542.69 L390.4,542.73 391.1,542.73 L391.1,542.76 391.8,542.76 L391.8,542.73 392.5,542.73 L392.5,542.71 393.2,542.71 L393.2,542.82 393.9,542.82 L393.9,542.74 394.6,542.74 L394.6,543.72 395.3,543.72 L395.3,543.22 396.0,543.22 L396.0,542.07 396.7,542.07 L396.7,539.76 397.4,539.76 L397.4,528.54 398.1,528.54 L398.1,528.96 398.8,528.96 L398.8,529.42 399.5,529.42 L399.5,535.69 400.2,535.69 L400.2,537.92 400.9,537.92 L400.9,541.84 401.6,541.84 L401.6,542.34 402.3,542.34 L402.3,542.71 403.0,542.71 L403.0,543.12 403.7,543.12 L403.7,542.49 404.4,542.49 L404.4,542.38 405.1,542.38 L405.1,542.51 405.8,542.51 L405.8,542.45 406.5,542.45 L406.5,542.74 407.2,542.74 L407.2,542.67 407.9,542.67 L407.9,541.99 408.6,541.99 L408.6,541.83 409.3,541.83 L409.3,540.23 410.0,540.23 L410.0,538.95 410.7,538.95 L410.7,538.95 411.4,538.95 L411.4,538.23 412.1,538.23 L412.1,540.38 412.8,540.38 L412.8,542.38 413.5,542.38 L413.5,542.99 414.2,542.99 L414.2,542.90 414.9,542.90 L414.9,543.69 415.6,543.69 L415.6,542.94 416.3,542.94 L416.3,542.22 417.0,542.22 L417.0,542.80 417.7,542.80 L417.7,542.32 418.4,542.32 L418.4,539.22 419.1,539.22 L419.1,536.96 419.8,536.96 L419.8,536.60 420.5,536.60 L420.5,539.78 421.2,539.78 L421.2,541.67 421.9,541.67 L421.9,543.15 422.6,543.15 L422.6,542.46 423.3,542.46 L423.3,543.10 424.0,543.10 L424.0,543.30 424.7,543.30 L424.7,542.86 425.4,542.86 L425.4,543.05 426.1,543.05 L426.1,543.26 426.8,543.26 L426.8,543.03 427.5,543.03 L427.5,543.23 428.2,543.23 L428.2,542.66 428.9,542.66 L428.9,541.95 429.6,541.95 L429.6,542.45 430.3,542.45 L430.3,542.39 431.0,542.39 L431.0,542.28 431.7,542.28 L431.7,542.28 432.4,542.28 L432.4,542.17 433.1,542.17 L433.1,542.34 433.8,542.34 L433.8,543.14 434.5,543.14 L434.5,542.88 435.2,542.88 L435.2,542.84 435.9,542.84 L435.9,543.15 436.6,543.15 L436.6,542.85 437.3,542.85 L437.3,542.48 438.0,542.48 L438.0,542.51 438.7,542.51 L438.7,543.04 439.4,543.04 L439.4,542.10 440.1,542.10 L440.1,541.11 440.8,541.11 L440.8,539.64 441.5,539.64 L441.5,539.63 442.2,539.63 L442.2,540.80 442.9,540.80 L442.9,542.33 443.6,542.33 L443.6,542.18 444.3,542.18 L444.3,542.36 445.0,542.36 L445.0,542.59 445.7,542.59 L445.7,543.35 446.4,543.35 L446.4,543.35 447.1,543.35 L447.1,542.89 447.8,542.89 L447.8,542.90 448.5,542.90 L448.5,543.88 449.2,543.88 L449.2,543.28 449.9,543.28 L449.9,543.00 450.6,543.00 L450.6,542.97 451.3,542.97 L451.3,543.63 452.0,543.63 L452.0,543.24 452.7,543.24 L452.7,543.80 453.4,543.80 L453.4,543.77 454.1,543.77 L454.1,543.96 454.8,543.96 L454.8,543.85 455.5,543.85 L455.5,543.73 456.2,543.73 L456.2,543.10 456.9,543.10 L456.9,543.15 457.6,543.15 L457.6,543.34 458.3,543.34 L458.3,543.78 459.0,543.78 L459.0,543.47 459.7,543.47 L459.7,543.57 460.4,543.57 L460.4,543.49 461.1,543.49 L461.1,543.25 461.8,543.25 L461.8,543.18 462.5,543.18 L462.5,543.57 463.2,543.57 L463.2,543.34 463.9,543.34 L463.9,543.64 464.6,543.64 L464.6,542.61 465.3,542.61 L465.3,542.94 466.0,542.94 L466.0,543.02 466.7,543.02 L466.7,543.14 467.4,543.14 L467.4,543.10 468.1,543.10 L468.1,543.57 468.8,543.57 L468.8,543.60 469.5,543.60 L469.5,543.67 470.2,543.67 L470.2,543.12 470.9,543.12 L470.9,541.64 471.6,541.64 L471.6,539.81 472.3,539.81 L472.3,541.24 473.0,541.24 L473.0,542.10 473.7,542.10 L473.7,540.77 474.4,540.77 L474.4,541.12 475.1,541.12 L475.1,539.95 475.1,539.95 L475.1,545.60 Z" fill="#4fcaf2"/>
<path d="M347.7,571.70 L347.7,570.35 348.4,570.35 L348.4,570.08 349.1,570.08 L349.1,570.63 349.8,570.63 L349.8,570.16 350.5,570.16 L350.5,570.31 351.2,570.31 L351.2,570.50 351.9,570.50 L351.9,570.51 352.6,570.51 L352.6,570.51 353.3,570.51 L353.3,570.48 354.0,570.48 L354.0,570.01 354.7,570.01 L354.7,569.60 355.4,569.60 L355.4,568.73 356.1,568.73 L356.1,568.30 356.8,568.30 L356.8,568.11 357.5,568.11 L357.5,569.36 358.2,569.36 L358.2,569.82 358.9,569.82 L358.9,570.07 359.6,570.07 L359.6,570.24 360.3,570.24 L360.3,569.96 361.0,569.96 L361.0,569.71 361.7,569.71 L361.7,569.68 362.4,569.68 L362.4,570.32 363.1,570.32 L363.1,570.03 363.8,570.03 L363.8,569.77 364.5,569.77 L364.5,569.03 365.2,569.03 L365.2,567.93 365.9,567.93 L365.9,564.56 366.6,564.56 L366.6,565.51 367.3,565.51 L367.3,568.06 368.0,568.06 L368.0,568.93 368.7,568.93 L368.7,569.16 369.4,569.16 L369.4,569.77 370.1,569.77 L370.1,569.53 370.8,569.53 L370.8,568.94 371.5,568.94 L371.5,567.93 372.2,567.93 L372.2,566.19 372.9,566.19 L372.9,560.25 373.6,560.25 L373.6,561.92 374.3,561.92 L374.3,559.21 375.0,559.21 L375.0,563.66 375.7,563.66 L375.7,565.94 376.4,565.94 L376.4,568.33 377.1,568.33 L377.1,569.10 377.8,569.10 L377.8,569.07 378.5,569.07 L378.5,569.13 379.2,569.13 L379.2,568.64 379.9,568.64 L379.9,568.32 380.6,568.32 L380.6,568.05 381.3,568.05 L381.3,569.39 382.0,569.39 L382.0,568.57 382.7,568.57 L382.7,568.84 383.4,568.84 L383.4,569.19 384.1,569.19 L384.1,568.94 384.8,568.94 L384.8,568.86 385.5,568.86 L385.5,568.71 386.2,568.71 L386.2,569.26 386.9,569.26 L386.9,569.63 387.6,569.63 L387.6,568.76 388.3,568.76 L388.3,567.93 389.0,567.93 L389.0,566.86 389.7,566.86 L389.7,564.57 390.4,564.57 L390.4,563.60 391.1,563.60 L391.1,564.89 391.8,564.89 L391.8,566.76 392.5,566.76 L392.5,568.87 393.2,568.87 L393.2,569.35 393.9,569.35 L393.9,569.27 394.6,569.27 L394.6,568.93 395.3,568.93 L395.3,569.46 396.0,569.46 L396.0,567.39 396.7,567.39 L396.7,563.56 397.4,563.56 L397.4,553.18 398.1,553.18 L398.1,550.27 398.8,550.27 L398.8,557.23 399.5,557.23 L399.5,558.46 400.2,558.46 L400.2,560.15 400.9,560.15 L400.9,560.19 401.6,560.19 L401.6,565.41 402.3,565.41 L402.3,567.18 403.0,567.18 L403.0,567.77 403.7,567.77 L403.7,569.01 404.4,569.01 L404.4,569.02 405.1,569.02 L405.1,568.11 405.8,568.11 L405.8,568.77 406.5,568.77 L406.5,569.30 407.2,569.30 L407.2,568.98 407.9,568.98 L407.9,568.94 408.6,568.94 L408.6,568.19 409.3,568.19 L409.3,567.19 410.0,567.19 L410.0,566.09 410.7,566.09 L410.7,564.87 411.4,564.87 L411.4,566.90 412.1,566.90 L412.1,568.14 412.8,568.14 L412.8,568.98 413.5,568.98 L413.5,568.95 414.2,568.95 L414.2,568.02 414.9,568.02 L414.9,569.25 415.6,569.25 L415.6,568.27 416.3,568.27 L416.3,567.93 417.0,567.93 L417.0,568.33 417.7,568.33 L417.7,565.35 418.4,565.35 L418.4,563.11 419.1,563.11 L419.1,560.96 419.8,560.96 L419.8,560.04 420.5,560.04 L420.5,565.08 421.2,565.08 L421.2,567.99 421.9,567.99 L421.9,568.35 422.6,568.35 L422.6,568.88 423.3,568.88 L423.3,569.31 424.0,569.31 L424.0,569.35 424.7,569.35 L424.7,569.46 425.4,569.46 L425.4,568.56 426.1,568.56 L426.1,568.73 426.8,568.73 L426.8,569.32 427.5,569.32 L427.5,568.87 428.2,568.87 L428.2,569.04 428.9,569.04 L428.9,567.87 429.6,567.87 L429.6,568.56 430.3,568.56 L430.3,568.23 431.0,568.23 L431.0,567.27 431.7,567.27 L431.7,566.75 432.4,566.75 L432.4,567.97 433.1,567.97 L433.1,566.55 433.8,566.55 L433.8,568.32 434.5,568.32 L434.5,567.51 435.2,567.51 L435.2,568.00 435.9,568.00 L435.9,568.10 436.6,568.10 L436.6,568.18 437.3,568.18 L437.3,567.28 438.0,567.28 L438.0,566.53 438.7,566.53 L438.7,567.89 439.4,567.89 L439.4,568.66 440.1,568.66 L440.1,566.53 440.8,566.53 L440.8,565.75 441.5,565.75 L441.5,563.13 442.2,563.13 L442.2,562.95 442.9,562.95 L442.9,564.68 443.6,564.68 L443.6,566.81 444.3,566.81 L444.3,568.07 445.0,568.07 L445.0,568.16 445.7,568.16 L445.7,569.26 446.4,569.26 L446.4,568.89 447.1,568.89 L447.1,569.48 447.8,569.48 L447.8,570.38 448.5,570.38 L448.5,570.42 449.2,570.42 L449.2,570.00 449.9,570.00 L449.9,570.02 450.6,570.02 L450.6,570.23 451.3,570.23 L451.3,569.88 452.0,569.88 L452.0,568.92 452.7,568.92 L452.7,567.03 453.4,567.03 L453.4,566.68 454.1,566.68 L454.1,567.43 454.8,567.43 L454.8,568.58 455.5,568.58 L455.5,568.85 456.2,568.85 L456.2,569.99 456.9,569.99 L456.9,569.63 457.6,569.63 L457.6,569.98 458.3,569.98 L458.3,569.96 459.0,569.96 L459.0,569.96 459.7,569.96 L459.7,570.25 460.4,570.25 L460.4,570.48 461.1,570.48 L461.1,570.02 461.8,570.02 L461.8,570.46 462.5,570.46 L462.5,570.08 463.2,570.08 L463.2,569.76 463.9,569.76 L463.9,570.21 464.6,570.21 L464.6,569.64 465.3,569.64 L465.3,570.22 466.0,570.22 L466.0,570.21 466.7,570.21 L466.7,569.89 467.4,569.89 L467.4,570.04 468.1,570.04 L468.1,569.60 468.8,569.60 L468.8,569.98 469.5,569.98 L469.5,568.50 470.2,568.50 L470.2,568.37 470.9,568.37 L470.9,568.82 471.6,568.82 L471.6,568.01 472.3,568.01 L472.3,569.17 473.0,569.17 L473.0,569.69 473.7,569.69 L473.7,570.15 474.4,570.15 L474.4,569.91 475.1,569.91 L475.1,569.95 475.1,569.95 L475.1,571.70 Z" fill="#d9307f"/>
<path d="M347.7,598.40 L347.7,596.35 348.4,596.35 L348.4,596.43 349.1,596.43 L349.1,595.92 349.8,595.92 L349.8,596.07 350.5,596.07 L350.5,595.81 351.2,595.81 L351.2,596.76 351.9,596.76 L351.9,596.58 352.6,596.58 L352.6,596.48 353.3,596.48 L353.3,596.92 354.0,596.92 L354.0,596.78 354.7,596.78 L354.7,596.39 355.4,596.39 L355.4,596.84 356.1,596.84 L356.1,596.73 356.8,596.73 L356.8,596.12 357.5,596.12 L357.5,596.20 358.2,596.20 L358.2,596.36 358.9,596.36 L358.9,596.56 359.6,596.56 L359.6,596.07 360.3,596.07 L360.3,596.04 361.0,596.04 L361.0,596.45 361.7,596.45 L361.7,596.19 362.4,596.19 L362.4,596.09 363.1,596.09 L363.1,596.23 363.8,596.23 L363.8,596.10 364.5,596.10 L364.5,595.28 365.2,595.28 L365.2,591.77 365.9,591.77 L365.9,590.49 366.6,590.49 L366.6,590.38 367.3,590.38 L367.3,592.77 368.0,592.77 L368.0,593.28 368.7,593.28 L368.7,594.42 369.4,594.42 L369.4,594.21 370.1,594.21 L370.1,593.52 370.8,593.52 L370.8,593.52 371.5,593.52 L371.5,592.14 372.2,592.14 L372.2,590.89 372.9,590.89 L372.9,588.01 373.6,588.01 L373.6,587.32 374.3,587.32 L374.3,588.88 375.0,588.88 L375.0,591.34 375.7,591.34 L375.7,593.16 376.4,593.16 L376.4,594.58 377.1,594.58 L377.1,594.30 377.8,594.30 L377.8,594.60 378.5,594.60 L378.5,595.05 379.2,595.05 L379.2,595.19 379.9,595.19 L379.9,595.10 380.6,595.10 L380.6,594.68 381.3,594.68 L381.3,594.11 382.0,594.11 L382.0,593.52 382.7,593.52 L382.7,594.37 383.4,594.37 L383.4,594.00 384.1,594.00 L384.1,594.24 384.8,594.24 L384.8,594.44 385.5,594.44 L385.5,594.92 386.2,594.92 L386.2,594.83 386.9,594.83 L386.9,594.17 387.6,594.17 L387.6,594.23 388.3,594.23 L388.3,592.96 389.0,592.96 L389.0,591.08 389.7,591.08 L389.7,588.25 390.4,588.25 L390.4,589.55 391.1,589.55 L391.1,589.38 391.8,589.38 L391.8,591.19 392.5,591.19 L392.5,592.51 393.2,592.51 L393.2,593.03 393.9,593.03 L393.9,593.95 394.6,593.95 L394.6,594.01 395.3,594.01 L395.3,592.93 396.0,592.93 L396.0,592.45 396.7,592.45 L396.7,586.64 397.4,586.64 L397.4,576.98 398.1,576.98 L398.1,574.67 398.8,574.67 L398.8,582.29 399.5,582.29 L399.5,589.90 400.2,589.90 L400.2,587.83 400.9,587.83 L400.9,586.70 401.6,586.70 L401.6,586.25 402.3,586.25 L402.3,590.64 403.0,590.64 L403.0,593.32 403.7,593.32 L403.7,593.36 404.4,593.36 L404.4,593.89 405.1,593.89 L405.1,593.75 405.8,593.75 L405.8,594.14 406.5,594.14 L406.5,594.46 407.2,594.46 L407.2,594.20 407.9,594.20 L407.9,594.46 408.6,594.46 L408.6,592.68 409.3,592.68 L409.3,591.38 410.0,591.38 L410.0,590.21 410.7,590.21 L410.7,585.19 411.4,585.19 L411.4,588.57 412.1,588.57 L412.1,592.72 412.8,592.72 L412.8,593.50 413.5,593.50 L413.5,592.42 414.2,592.42 L414.2,594.49 414.9,594.49 L414.9,593.13 415.6,593.13 L415.6,593.90 416.3,593.90 L416.3,594.57 417.0,594.57 L417.0,594.26 417.7,594.26 L417.7,592.76 418.4,592.76 L418.4,586.62 419.1,586.62 L419.1,587.70 419.8,587.70 L419.8,588.40 420.5,588.40 L420.5,589.18 421.2,589.18 L421.2,591.75 421.9,591.75 L421.9,593.50 422.6,593.50 L422.6,593.60 423.3,593.60 L423.3,593.36 424.0,593.36 L424.0,594.11 424.7,594.11 L424.7,593.38 425.4,593.38 L425.4,593.95 426.1,593.95 L426.1,593.39 426.8,593.39 L426.8,593.82 427.5,593.82 L427.5,593.23 428.2,593.23 L428.2,594.78 428.9,594.78 L428.9,593.53 429.6,593.53 L429.6,594.86 430.3,594.86 L430.3,593.96 431.0,593.96 L431.0,594.28 431.7,594.28 L431.7,593.83 432.4,593.83 L432.4,593.29 433.1,593.29 L433.1,593.49 433.8,593.49 L433.8,593.51 434.5,593.51 L434.5,593.11 435.2,593.11 L435.2,593.81 435.9,593.81 L435.9,593.62 436.6,593.62 L436.6,593.82 437.3,593.82 L437.3,593.64 438.0,593.64 L438.0,594.57 438.7,594.57 L438.7,593.67 439.4,593.67 L439.4,593.63 440.1,593.63 L440.1,593.00 440.8,593.00 L440.8,593.32 441.5,593.32 L441.5,592.70 442.2,592.70 L442.2,592.89 442.9,592.89 L442.9,592.26 443.6,592.26 L443.6,593.23 444.3,593.23 L444.3,593.58 445.0,593.58 L445.0,593.27 445.7,593.27 L445.7,593.80 446.4,593.80 L446.4,593.98 447.1,593.98 L447.1,594.35 447.8,594.35 L447.8,595.24 448.5,595.24 L448.5,596.35 449.2,596.35 L449.2,596.16 449.9,596.16 L449.9,595.84 450.6,595.84 L450.6,595.75 451.3,595.75 L451.3,594.35 452.0,594.35 L452.0,592.56 452.7,592.56 L452.7,591.33 453.4,591.33 L453.4,592.90 454.1,592.90 L454.1,594.92 454.8,594.92 L454.8,595.37 455.5,595.37 L455.5,596.16 456.2,596.16 L456.2,596.32 456.9,596.32 L456.9,595.63 457.6,595.63 L457.6,596.23 458.3,596.23 L458.3,596.43 459.0,596.43 L459.0,596.15 459.7,596.15 L459.7,596.45 460.4,596.45 L460.4,596.12 461.1,596.12 L461.1,595.14 461.8,595.14 L461.8,593.46 462.5,593.46 L462.5,593.58 463.2,593.58 L463.2,594.13 463.9,594.13 L463.9,594.15 464.6,594.15 L464.6,595.24 465.3,595.24 L465.3,596.32 466.0,596.32 L466.0,596.51 466.7,596.51 L466.7,596.04 467.4,596.04 L467.4,596.92 468.1,596.92 L468.1,596.66 468.8,596.66 L468.8,595.69 469.5,595.69 L469.5,595.25 470.2,595.25 L470.2,593.57 470.9,593.57 L470.9,594.42 471.6,594.42 L471.6,595.22 472.3,595.22 L472.3,595.57 473.0,595.57 L473.0,595.55 473.7,595.55 L473.7,596.45 474.4,596.45 L474.4,596.52 475.1,596.52 L475.1,596.13 475.1,596.13 L475.1,598.40 Z" fill="#f9b3d1"/>
<path d="M347.7,624.60 L347.7,622.08 348.4,622.08 L348.4,621.43 349.1,621.43 L349.1,622.04 349.8,622.04 L349.8,622.38 350.5,622.38 L350.5,621.85 351.2,621.85 L351.2,622.30 351.9,622.30 L351.9,622.61 352.6,622.61 L352.6,622.39 353.3,622.39 L353.3,622.36 354.0,622.36 L354.0,621.92 354.7,621.92 L354.7,622.25 355.4,622.25 L355.4,622.65 356.1,622.65 L356.1,623.16 356.8,623.16 L356.8,622.38 357.5,622.38 L357.5,622.55 358.2,622.55 L358.2,621.74 358.9,621.74 L358.9,622.78 359.6,622.78 L359.6,622.00 360.3,622.00 L360.3,621.84 361.0,621.84 L361.0,621.55 361.7,621.55 L361.7,621.50 362.4,621.50 L362.4,622.70 363.1,622.70 L363.1,621.78 363.8,621.78 L363.8,622.26 364.5,622.26 L364.5,621.28 365.2,621.28 L365.2,621.26 365.9,621.26 L365.9,622.01 366.6,622.01 L366.6,621.71 367.3,621.71 L367.3,622.11 368.0,622.11 L368.0,622.33 368.7,622.33 L368.7,621.66 369.4,621.66 L369.4,622.16 370.1,622.16 L370.1,621.48 370.8,621.48 L370.8,621.45 371.5,621.45 L371.5,621.90 372.2,621.90 L372.2,621.79 372.9,621.79 L372.9,621.97 373.6,621.97 L373.6,621.37 374.3,621.37 L374.3,620.56 375.0,620.56 L375.0,621.69 375.7,621.69 L375.7,620.79 376.4,620.79 L376.4,621.11 377.1,621.11 L377.1,621.25 377.8,621.25 L377.8,621.52 378.5,621.52 L378.5,621.80 379.2,621.80 L379.2,621.74 379.9,621.74 L379.9,621.20 380.6,621.20 L380.6,620.75 381.3,620.75 L381.3,621.51 382.0,621.51 L382.0,621.46 382.7,621.46 L382.7,621.84 383.4,621.84 L383.4,622.12 384.1,622.12 L384.1,622.22 384.8,622.22 L384.8,621.56 385.5,621.56 L385.5,621.85 386.2,621.85 L386.2,621.71 386.9,621.71 L386.9,622.04 387.6,622.04 L387.6,621.54 388.3,621.54 L388.3,621.92 389.0,621.92 L389.0,621.92 389.7,621.92 L389.7,621.41 390.4,621.41 L390.4,622.19 391.1,622.19 L391.1,622.36 391.8,622.36 L391.8,622.22 392.5,622.22 L392.5,621.96 393.2,621.96 L393.2,622.65 393.9,622.65 L393.9,622.09 394.6,622.09 L394.6,622.47 395.3,622.47 L395.3,621.45 396.0,621.45 L396.0,621.98 396.7,621.98 L396.7,620.77 397.4,620.77 L397.4,617.84 398.1,617.84 L398.1,619.02 398.8,619.02 L398.8,618.96 399.5,618.96 L399.5,620.33 400.2,620.33 L400.2,621.86 400.9,621.86 L400.9,621.45 401.6,621.45 L401.6,622.73 402.3,622.73 L402.3,622.61 403.0,622.61 L403.0,622.42 403.7,622.42 L403.7,622.82 404.4,622.82 L404.4,621.54 405.1,621.54 L405.1,622.02 405.8,622.02 L405.8,622.66 406.5,622.66 L406.5,621.77 407.2,621.77 L407.2,622.19 407.9,622.19 L407.9,621.49 408.6,621.49 L408.6,622.01 409.3,622.01 L409.3,621.60 410.0,621.60 L410.0,619.96 410.7,619.96 L410.7,619.78 411.4,619.78 L411.4,620.60 412.1,620.60 L412.1,621.84 412.8,621.84 L412.8,621.05 413.5,621.05 L413.5,621.82 414.2,621.82 L414.2,622.11 414.9,622.11 L414.9,620.99 415.6,620.99 L415.6,622.06 416.3,622.06 L416.3,622.24 417.0,622.24 L417.0,622.11 417.7,622.11 L417.7,622.24 418.4,622.24 L418.4,621.54 419.1,621.54 L419.1,621.85 419.8,621.85 L419.8,622.13 420.5,622.13 L420.5,621.64 421.2,621.64 L421.2,621.74 421.9,621.74 L421.9,621.10 422.6,621.10 L422.6,621.32 423.3,621.32 L423.3,621.63 424.0,621.63 L424.0,622.52 424.7,622.52 L424.7,621.56 425.4,621.56 L425.4,621.93 426.1,621.93 L426.1,622.24 426.8,622.24 L426.8,622.00 427.5,622.00 L427.5,621.80 428.2,621.80 L428.2,622.02 428.9,622.02 L428.9,621.42 429.6,621.42 L429.6,622.22 430.3,622.22 L430.3,621.81 431.0,621.81 L431.0,621.87 431.7,621.87 L431.7,622.10 432.4,622.10 L432.4,621.52 433.1,621.52 L433.1,621.68 433.8,621.68 L433.8,622.87 434.5,622.87 L434.5,621.59 435.2,621.59 L435.2,622.39 435.9,622.39 L435.9,621.71 436.6,621.71 L436.6,622.24 437.3,622.24 L437.3,621.60 438.0,621.60 L438.0,622.00 438.7,622.00 L438.7,622.18 439.4,622.18 L439.4,622.65 440.1,622.65 L440.1,622.46 440.8,622.46 L440.8,622.76 441.5,622.76 L441.5,622.56 442.2,622.56 L442.2,622.07 442.9,622.07 L442.9,621.91 443.6,621.91 L443.6,621.43 444.3,621.43 L444.3,621.21 445.0,621.21 L445.0,621.92 445.7,621.92 L445.7,620.96 446.4,620.96 L446.4,621.38 447.1,621.38 L447.1,622.15 447.8,622.15 L447.8,621.59 448.5,621.59 L448.5,621.46 449.2,621.46 L449.2,621.34 449.9,621.34 L449.9,621.75 450.6,621.75 L450.6,619.75 451.3,619.75 L451.3,619.15 452.0,619.15 L452.0,620.08 452.7,620.08 L452.7,620.36 453.4,620.36 L453.4,621.38 454.1,621.38 L454.1,621.74 454.8,621.74 L454.8,621.88 455.5,621.88 L455.5,621.17 456.2,621.17 L456.2,622.16 456.9,622.16 L456.9,622.69 457.6,622.69 L457.6,622.35 458.3,622.35 L458.3,622.47 459.0,622.47 L459.0,622.44 459.7,622.44 L459.7,622.24 460.4,622.24 L460.4,622.47 461.1,622.47 L461.1,622.82 461.8,622.82 L461.8,621.54 462.5,621.54 L462.5,621.29 463.2,621.29 L463.2,622.69 463.9,622.69 L463.9,622.35 464.6,622.35 L464.6,621.65 465.3,621.65 L465.3,622.41 466.0,622.41 L466.0,621.30 466.7,621.30 L466.7,622.11 467.4,622.11 L467.4,622.32 468.1,622.32 L468.1,621.77 468.8,621.77 L468.8,622.01 469.5,622.01 L469.5,622.14 470.2,622.14 L470.2,622.78 470.9,622.78 L470.9,622.11 471.6,622.11 L471.6,622.55 472.3,622.55 L472.3,622.66 473.0,622.66 L473.0,622.28 473.7,622.28 L473.7,622.24 474.4,622.24 L474.4,621.68 475.1,621.68 L475.1,621.21 475.1,621.21 L475.1,624.60 Z" fill="#a3a3a3"/>
<rect x="367.2" y="440.2" width="79.60000000000002" height="189.10000000000002" fill="#bebebe" opacity="0.33"/>
<line x1="347.7" y1="625.9" x2="475.1" y2="625.9" stroke="#ababab" stroke-width="0.9"/>
<line x1="347.7" y1="628.5" x2="475.1" y2="628.5" stroke="#ababab" stroke-width="0.9"/>
<text x="474.8" y="445.5" font-size="6.2" font-weight="normal" fill="#858585" text-anchor="end">0-330</text>
<text x="474.8" y="472.3" font-size="6.2" font-weight="normal" fill="#858585" text-anchor="end">0-330</text>
<text x="474.8" y="498.4" font-size="6.2" font-weight="normal" fill="#858585" text-anchor="end">0-330</text>
<text x="474.8" y="524.7" font-size="6.2" font-weight="normal" fill="#858585" text-anchor="end">0-330</text>
<text x="474.8" y="551.1" font-size="6.2" font-weight="normal" fill="#858585" text-anchor="end">0-550</text>
<text x="474.8" y="577.2" font-size="6.2" font-weight="normal" fill="#858585" text-anchor="end">0-550</text>
<text x="474.8" y="603.9" font-size="6.2" font-weight="normal" fill="#858585" text-anchor="end">0-330</text>
<line x1="486" y1="439.5" x2="590" y2="439.5" stroke="#cfcfcf" stroke-width="1.3"/>
<path d="M486.0,466.80 L486.0,464.98 486.7,464.98 L486.7,465.34 487.4,465.34 L487.4,464.90 488.1,464.90 L488.1,465.20 488.8,465.20 L488.8,465.40 489.5,465.40 L489.5,465.26 490.2,465.26 L490.2,465.26 490.9,465.26 L490.9,465.37 491.6,465.37 L491.6,465.60 492.3,465.60 L492.3,465.62 493.0,465.62 L493.0,465.16 493.7,465.16 L493.7,465.22 494.4,465.22 L494.4,465.07 495.1,465.07 L495.1,464.99 495.8,464.99 L495.8,464.82 496.5,464.82 L496.5,465.48 497.2,465.48 L497.2,465.50 497.9,465.50 L497.9,465.21 498.6,465.21 L498.6,465.28 499.3,465.28 L499.3,464.73 500.0,464.73 L500.0,465.11 500.7,465.11 L500.7,463.67 501.4,463.67 L501.4,463.09 502.1,463.09 L502.1,462.11 502.8,462.11 L502.8,460.11 503.5,460.11 L503.5,457.30 504.2,457.30 L504.2,451.20 504.9,451.20 L504.9,448.97 505.6,448.97 L505.6,456.35 506.3,456.35 L506.3,454.88 507.0,454.88 L507.0,450.46 507.7,450.46 L507.7,454.06 508.4,454.06 L508.4,458.21 509.1,458.21 L509.1,460.73 509.8,460.73 L509.8,461.73 510.5,461.73 L510.5,461.44 511.2,461.44 L511.2,462.40 511.9,462.40 L511.9,462.64 512.6,462.64 L512.6,461.36 513.3,461.36 L513.3,462.17 514.0,462.17 L514.0,462.22 514.7,462.22 L514.7,462.35 515.4,462.35 L515.4,460.90 516.1,460.90 L516.1,461.57 516.8,461.57 L516.8,460.30 517.5,460.30 L517.5,461.22 518.2,461.22 L518.2,459.84 518.9,459.84 L518.9,462.16 519.6,462.16 L519.6,460.98 520.3,460.98 L520.3,457.60 521.0,457.60 L521.0,449.36 521.7,449.36 L521.7,454.48 522.4,454.48 L522.4,458.35 523.1,458.35 L523.1,460.54 523.8,460.54 L523.8,462.59 524.5,462.59 L524.5,462.24 525.2,462.24 L525.2,460.18 525.9,460.18 L525.9,452.20 526.6,452.20 L526.6,445.46 527.3,445.46 L527.3,450.99 528.0,450.99 L528.0,442.80 528.7,442.80 L528.7,448.37 529.4,448.37 L529.4,459.71 530.1,459.71 L530.1,461.84 530.8,461.84 L530.8,457.09 531.5,457.09 L531.5,453.18 532.2,453.18 L532.2,455.87 532.9,455.87 L532.9,457.69 533.6,457.69 L533.6,460.72 534.3,460.72 L534.3,456.35 535.0,456.35 L535.0,454.67 535.7,454.67 L535.7,456.38 536.4,456.38 L536.4,459.06 537.1,459.06 L537.1,461.86 537.8,461.86 L537.8,461.88 538.5,461.88 L538.5,461.36 539.2,461.36 L539.2,460.07 539.9,460.07 L539.9,458.38 540.6,458.38 L540.6,457.67 541.3,457.67 L541.3,460.28 542.0,460.28 L542.0,462.62 542.7,462.62 L542.7,461.85 543.4,461.85 L543.4,462.51 544.1,462.51 L544.1,462.09 544.8,462.09 L544.8,458.24 545.5,458.24 L545.5,452.78 546.2,452.78 L546.2,453.87 546.9,453.87 L546.9,459.62 547.6,459.62 L547.6,460.88 548.3,460.88 L548.3,459.11 549.0,459.11 L549.0,456.57 549.7,456.57 L549.7,457.52 550.4,457.52 L550.4,460.67 551.1,460.67 L551.1,458.68 551.8,458.68 L551.8,461.64 552.5,461.64 L552.5,462.17 553.2,462.17 L553.2,463.19 553.9,463.19 L553.9,462.97 554.6,462.97 L554.6,464.60 555.3,464.60 L555.3,464.85 556.0,464.85 L556.0,465.00 556.7,465.00 L556.7,465.14 557.4,465.14 L557.4,465.14 558.1,465.14 L558.1,464.46 558.8,464.46 L558.8,464.23 559.5,464.23 L559.5,464.77 560.2,464.77 L560.2,464.75 560.9,464.75 L560.9,464.52 561.6,464.52 L561.6,464.12 562.3,464.12 L562.3,464.03 563.0,464.03 L563.0,463.73 563.7,463.73 L563.7,464.02 564.4,464.02 L564.4,464.61 565.1,464.61 L565.1,464.18 565.8,464.18 L565.8,464.32 566.5,464.32 L566.5,464.60 567.2,464.60 L567.2,465.18 567.9,465.18 L567.9,464.92 568.6,464.92 L568.6,465.49 569.3,465.49 L569.3,465.27 570.0,465.27 L570.0,465.54 570.7,465.54 L570.7,465.19 571.4,465.19 L571.4,464.78 572.1,464.78 L572.1,465.31 572.8,465.31 L572.8,465.11 573.5,465.11 L573.5,465.10 574.2,465.10 L574.2,465.21 574.9,465.21 L574.9,465.21 575.6,465.21 L575.6,465.29 576.3,465.29 L576.3,465.38 577.0,465.38 L577.0,465.24 577.7,465.24 L577.7,465.16 578.4,465.16 L578.4,465.24 579.1,465.24 L579.1,464.04 579.8,464.04 L579.8,464.49 580.5,464.49 L580.5,463.48 581.2,463.48 L581.2,460.84 581.9,460.84 L581.9,456.34 582.6,456.34 L582.6,454.08 583.3,454.08 L583.3,457.54 584.0,457.54 L584.0,462.19 584.7,462.19 L584.7,461.98 585.4,461.98 L585.4,462.03 586.1,462.03 L586.1,461.30 586.8,461.30 L586.8,457.17 587.5,457.17 L587.5,459.31 588.2,459.31 L588.2,461.77 588.9,461.77 L588.9,458.52 589.6,458.52 L589.6,459.21 590.0,459.21 L590.0,466.80 Z" fill="#14919b"/>
<path d="M486.0,492.90 L486.0,491.48 486.7,491.48 L486.7,491.13 487.4,491.13 L487.4,491.30 488.1,491.30 L488.1,491.33 488.8,491.33 L488.8,491.55 489.5,491.55 L489.5,491.61 490.2,491.61 L490.2,491.52 490.9,491.52 L490.9,491.76 491.6,491.76 L491.6,491.43 492.3,491.43 L492.3,491.57 493.0,491.57 L493.0,491.51 493.7,491.51 L493.7,491.57 494.4,491.57 L494.4,491.85 495.1,491.85 L495.1,491.90 495.8,491.90 L495.8,491.77 496.5,491.77 L496.5,491.71 497.2,491.71 L497.2,491.70 497.9,491.70 L497.9,491.57 498.6,491.57 L498.6,491.82 499.3,491.82 L499.3,491.69 500.0,491.69 L500.0,491.67 500.7,491.67 L500.7,490.63 501.4,490.63 L501.4,490.40 502.1,490.40 L502.1,489.65 502.8,489.65 L502.8,487.90 503.5,487.90 L503.5,484.54 504.2,484.54 L504.2,483.64 504.9,483.64 L504.9,482.86 505.6,482.86 L505.6,483.60 506.3,483.60 L506.3,484.38 507.0,484.38 L507.0,486.22 507.7,486.22 L507.7,488.89 508.4,488.89 L508.4,490.53 509.1,490.53 L509.1,489.91 509.8,489.91 L509.8,490.88 510.5,490.88 L510.5,490.75 511.2,490.75 L511.2,490.57 511.9,490.57 L511.9,490.53 512.6,490.53 L512.6,490.59 513.3,490.59 L513.3,490.56 514.0,490.56 L514.0,490.97 514.7,490.97 L514.7,490.77 515.4,490.77 L515.4,491.29 516.1,491.29 L516.1,491.04 516.8,491.04 L516.8,490.64 517.5,490.64 L517.5,490.44 518.2,490.44 L518.2,490.48 518.9,490.48 L518.9,490.65 519.6,490.65 L519.6,490.55 520.3,490.55 L520.3,490.67 521.0,490.67 L521.0,490.85 521.7,490.85 L521.7,490.93 522.4,490.93 L522.4,490.43 523.1,490.43 L523.1,490.97 523.8,490.97 L523.8,490.53 524.5,490.53 L524.5,490.59 525.2,490.59 L525.2,490.27 525.9,490.27 L525.9,491.27 526.6,491.27 L526.6,490.66 527.3,490.66 L527.3,491.50 528.0,491.50 L528.0,490.94 528.7,490.94 L528.7,491.55 529.4,491.55 L529.4,491.29 530.1,491.29 L530.1,491.40 530.8,491.40 L530.8,491.15 531.5,491.15 L531.5,491.45 532.2,491.45 L532.2,491.16 532.9,491.16 L532.9,491.15 533.6,491.15 L533.6,490.86 534.3,490.86 L534.3,491.70 535.0,491.70 L535.0,491.31 535.7,491.31 L535.7,491.05 536.4,491.05 L536.4,491.49 537.1,491.49 L537.1,491.22 537.8,491.22 L537.8,491.06 538.5,491.06 L538.5,490.43 539.2,490.43 L539.2,490.52 539.9,490.52 L539.9,490.45 540.6,490.45 L540.6,490.94 541.3,490.94 L541.3,490.92 542.0,490.92 L542.0,490.78 542.7,490.78 L542.7,490.73 543.4,490.73 L543.4,491.19 544.1,491.19 L544.1,491.60 544.8,491.60 L544.8,491.15 545.5,491.15 L545.5,491.36 546.2,491.36 L546.2,491.48 546.9,491.48 L546.9,490.82 547.6,490.82 L547.6,491.33 548.3,491.33 L548.3,490.60 549.0,490.60 L549.0,490.54 549.7,490.54 L549.7,490.60 550.4,490.60 L550.4,490.95 551.1,490.95 L551.1,490.88 551.8,490.88 L551.8,491.32 552.5,491.32 L552.5,491.60 553.2,491.60 L553.2,491.81 553.9,491.81 L553.9,491.45 554.6,491.45 L554.6,491.71 555.3,491.71 L555.3,491.76 556.0,491.76 L556.0,491.45 556.7,491.45 L556.7,491.71 557.4,491.71 L557.4,491.55 558.1,491.55 L558.1,491.63 558.8,491.63 L558.8,491.90 559.5,491.90 L559.5,491.43 560.2,491.43 L560.2,491.55 560.9,491.55 L560.9,491.58 561.6,491.58 L561.6,491.74 562.3,491.74 L562.3,491.90 563.0,491.90 L563.0,491.90 563.7,491.90 L563.7,491.90 564.4,491.90 L564.4,491.90 565.1,491.90 L565.1,491.90 565.8,491.90 L565.8,491.90 566.5,491.90 L566.5,491.79 567.2,491.79 L567.2,491.90 567.9,491.90 L567.9,491.51 568.6,491.51 L568.6,491.90 569.3,491.90 L569.3,491.90 570.0,491.90 L570.0,491.90 570.7,491.90 L570.7,491.90 571.4,491.90 L571.4,491.73 572.1,491.73 L572.1,491.57 572.8,491.57 L572.8,491.82 573.5,491.82 L573.5,491.32 574.2,491.32 L574.2,491.86 574.9,491.86 L574.9,491.68 575.6,491.68 L575.6,491.79 576.3,491.79 L576.3,491.78 577.0,491.78 L577.0,491.90 577.7,491.90 L577.7,491.90 578.4,491.90 L578.4,491.79 579.1,491.79 L579.1,491.90 579.8,491.90 L579.8,491.86 580.5,491.86 L580.5,491.90 581.2,491.90 L581.2,491.78 581.9,491.78 L581.9,490.22 582.6,490.22 L582.6,490.63 583.3,490.63 L583.3,491.08 584.0,491.08 L584.0,491.90 584.7,491.90 L584.7,491.81 585.4,491.81 L585.4,491.70 586.1,491.70 L586.1,491.90 586.8,491.90 L586.8,491.70 587.5,491.70 L587.5,491.81 588.2,491.81 L588.2,491.90 588.9,491.90 L588.9,491.90 589.6,491.90 L589.6,491.79 590.0,491.79 L590.0,492.90 Z" fill="#3fcfcf"/>
<path d="M486.0,519.20 L486.0,517.19 486.7,517.19 L486.7,517.05 487.4,517.05 L487.4,516.39 488.1,516.39 L488.1,516.62 488.8,516.62 L488.8,517.17 489.5,517.17 L489.5,516.67 490.2,516.67 L490.2,516.57 490.9,516.57 L490.9,516.52 491.6,516.52 L491.6,516.80 492.3,516.80 L492.3,516.77 493.0,516.77 L493.0,517.06 493.7,517.06 L493.7,516.94 494.4,516.94 L494.4,516.56 495.1,516.56 L495.1,516.87 495.8,516.87 L495.8,516.71 496.5,516.71 L496.5,517.03 497.2,517.03 L497.2,517.05 497.9,517.05 L497.9,516.67 498.6,516.67 L498.6,517.11 499.3,517.11 L499.3,517.27 500.0,517.27 L500.0,516.84 500.7,516.84 L500.7,516.01 501.4,516.01 L501.4,515.88 502.1,515.88 L502.1,514.84 502.8,514.84 L502.8,512.44 503.5,512.44 L503.5,510.76 504.2,510.76 L504.2,509.17 504.9,509.17 L504.9,509.30 505.6,509.30 L505.6,512.22 506.3,512.22 L506.3,511.12 507.0,511.12 L507.0,510.14 507.7,510.14 L507.7,506.25 508.4,506.25 L508.4,505.44 509.1,505.44 L509.1,509.93 509.8,509.93 L509.8,513.69 510.5,513.69 L510.5,514.78 511.2,514.78 L511.2,514.76 511.9,514.76 L511.9,512.97 512.6,512.97 L512.6,507.89 513.3,507.89 L513.3,507.43 514.0,507.43 L514.0,508.96 514.7,508.96 L514.7,511.41 515.4,511.41 L515.4,511.83 516.1,511.83 L516.1,511.68 516.8,511.68 L516.8,513.78 517.5,513.78 L517.5,512.73 518.2,512.73 L518.2,513.07 518.9,513.07 L518.9,511.48 519.6,511.48 L519.6,511.40 520.3,511.40 L520.3,512.07 521.0,512.07 L521.0,506.66 521.7,506.66 L521.7,502.23 522.4,502.23 L522.4,508.99 523.1,508.99 L523.1,513.53 523.8,513.53 L523.8,513.92 524.5,513.92 L524.5,513.55 525.2,513.55 L525.2,513.72 525.9,513.72 L525.9,511.79 526.6,511.79 L526.6,510.27 527.3,510.27 L527.3,507.84 528.0,507.84 L528.0,511.59 528.7,511.59 L528.7,512.73 529.4,512.73 L529.4,513.96 530.1,513.96 L530.1,512.92 530.8,512.92 L530.8,514.10 531.5,514.10 L531.5,513.34 532.2,513.34 L532.2,513.53 532.9,513.53 L532.9,514.22 533.6,514.22 L533.6,514.79 534.3,514.79 L534.3,514.10 535.0,514.10 L535.0,514.49 535.7,514.49 L535.7,515.12 536.4,515.12 L536.4,515.63 537.1,515.63 L537.1,515.50 537.8,515.50 L537.8,514.22 538.5,514.22 L538.5,514.98 539.2,514.98 L539.2,514.35 539.9,514.35 L539.9,513.80 540.6,513.80 L540.6,512.49 541.3,512.49 L541.3,510.64 542.0,510.64 L542.0,510.52 542.7,510.52 L542.7,513.09 543.4,513.09 L543.4,512.67 544.1,512.67 L544.1,512.25 544.8,512.25 L544.8,513.86 545.5,513.86 L545.5,512.38 546.2,512.38 L546.2,512.76 546.9,512.76 L546.9,511.73 547.6,511.73 L547.6,513.07 548.3,513.07 L548.3,514.27 549.0,514.27 L549.0,512.60 549.7,512.60 L549.7,509.83 550.4,509.83 L550.4,511.14 551.1,511.14 L551.1,510.16 551.8,510.16 L551.8,513.94 552.5,513.94 L552.5,515.05 553.2,515.05 L553.2,514.50 553.9,514.50 L553.9,515.45 554.6,515.45 L554.6,516.35 555.3,516.35 L555.3,516.42 556.0,516.42 L556.0,516.56 556.7,516.56 L556.7,516.75 557.4,516.75 L557.4,516.01 558.1,516.01 L558.1,516.17 558.8,516.17 L558.8,513.98 559.5,513.98 L559.5,511.59 560.2,511.59 L560.2,511.24 560.9,511.24 L560.9,515.58 561.6,515.58 L561.6,515.71 562.3,515.71 L562.3,515.38 563.0,515.38 L563.0,515.84 563.7,515.84 L563.7,515.94 564.4,515.94 L564.4,515.80 565.1,515.80 L565.1,515.23 565.8,515.23 L565.8,515.91 566.5,515.91 L566.5,516.52 567.2,516.52 L567.2,517.01 567.9,517.01 L567.9,516.88 568.6,516.88 L568.6,516.67 569.3,516.67 L569.3,517.13 570.0,517.13 L570.0,516.76 570.7,516.76 L570.7,516.26 571.4,516.26 L571.4,516.64 572.1,516.64 L572.1,516.21 572.8,516.21 L572.8,516.93 573.5,516.93 L573.5,515.98 574.2,515.98 L574.2,515.94 574.9,515.94 L574.9,516.72 575.6,516.72 L575.6,516.77 576.3,516.77 L576.3,516.06 577.0,516.06 L577.0,516.09 577.7,516.09 L577.7,516.68 578.4,516.68 L578.4,516.54 579.1,516.54 L579.1,516.88 579.8,516.88 L579.8,516.83 580.5,516.83 L580.5,516.10 581.2,516.10 L581.2,515.94 581.9,515.94 L581.9,513.30 582.6,513.30 L582.6,511.34 583.3,511.34 L583.3,514.80 584.0,514.80 L584.0,516.31 584.7,516.31 L584.7,516.53 585.4,516.53 L585.4,516.74 586.1,516.74 L586.1,516.44 586.8,516.44 L586.8,516.38 587.5,516.38 L587.5,515.97 588.2,515.97 L588.2,512.68 588.9,512.68 L588.9,513.59 589.6,513.59 L589.6,515.84 590.0,515.84 L590.0,519.20 Z" fill="#1e98c9"/>
<path d="M486.0,545.60 L486.0,543.06 486.7,543.06 L486.7,542.34 487.4,542.34 L487.4,543.37 488.1,543.37 L488.1,542.41 488.8,542.41 L488.8,542.79 489.5,542.79 L489.5,542.99 490.2,542.99 L490.2,543.32 490.9,543.32 L490.9,542.84 491.6,542.84 L491.6,542.92 492.3,542.92 L492.3,543.20 493.0,543.20 L493.0,543.62 493.7,543.62 L493.7,543.78 494.4,543.78 L494.4,542.90 495.1,542.90 L495.1,543.22 495.8,543.22 L495.8,542.48 496.5,542.48 L496.5,542.58 497.2,542.58 L497.2,543.31 497.9,543.31 L497.9,542.45 498.6,542.45 L498.6,543.28 499.3,543.28 L499.3,542.58 500.0,542.58 L500.0,542.65 500.7,542.65 L500.7,542.48 501.4,542.48 L501.4,541.99 502.1,541.99 L502.1,540.95 502.8,540.95 L502.8,541.89 503.5,541.89 L503.5,540.34 504.2,540.34 L504.2,536.17 504.9,536.17 L504.9,536.75 505.6,536.75 L505.6,540.22 506.3,540.22 L506.3,540.74 507.0,540.74 L507.0,541.57 507.7,541.57 L507.7,541.88 508.4,541.88 L508.4,541.92 509.1,541.92 L509.1,542.48 509.8,542.48 L509.8,542.05 510.5,542.05 L510.5,541.74 511.2,541.74 L511.2,542.21 511.9,542.21 L511.9,542.02 512.6,542.02 L512.6,541.88 513.3,541.88 L513.3,541.78 514.0,541.78 L514.0,541.15 514.7,541.15 L514.7,541.56 515.4,541.56 L515.4,542.38 516.1,542.38 L516.1,541.57 516.8,541.57 L516.8,541.59 517.5,541.59 L517.5,542.24 518.2,542.24 L518.2,542.50 518.9,542.50 L518.9,541.70 519.6,541.70 L519.6,542.79 520.3,542.79 L520.3,541.09 521.0,541.09 L521.0,537.29 521.7,537.29 L521.7,540.55 522.4,540.55 L522.4,542.09 523.1,542.09 L523.1,541.71 523.8,541.71 L523.8,542.63 524.5,542.63 L524.5,542.16 525.2,542.16 L525.2,543.12 525.9,543.12 L525.9,542.26 526.6,542.26 L526.6,541.92 527.3,541.92 L527.3,542.63 528.0,542.63 L528.0,543.27 528.7,543.27 L528.7,543.23 529.4,543.23 L529.4,542.66 530.1,542.66 L530.1,543.07 530.8,543.07 L530.8,542.11 531.5,542.11 L531.5,542.80 532.2,542.80 L532.2,541.88 532.9,541.88 L532.9,542.12 533.6,542.12 L533.6,537.21 534.3,537.21 L534.3,536.52 535.0,536.52 L535.0,541.04 535.7,541.04 L535.7,541.15 536.4,541.15 L536.4,541.59 537.1,541.59 L537.1,541.24 537.8,541.24 L537.8,541.71 538.5,541.71 L538.5,541.68 539.2,541.68 L539.2,542.78 539.9,542.78 L539.9,541.74 540.6,541.74 L540.6,541.88 541.3,541.88 L541.3,541.67 542.0,541.67 L542.0,541.85 542.7,541.85 L542.7,542.88 543.4,542.88 L543.4,542.47 544.1,542.47 L544.1,542.25 544.8,542.25 L544.8,542.88 545.5,542.88 L545.5,542.55 546.2,542.55 L546.2,542.88 546.9,542.88 L546.9,542.05 547.6,542.05 L547.6,542.24 548.3,542.24 L548.3,542.43 549.0,542.43 L549.0,542.13 549.7,542.13 L549.7,542.45 550.4,542.45 L550.4,541.94 551.1,541.94 L551.1,541.90 551.8,541.90 L551.8,542.46 552.5,542.46 L552.5,542.35 553.2,542.35 L553.2,543.00 553.9,543.00 L553.9,542.83 554.6,542.83 L554.6,543.16 555.3,543.16 L555.3,543.28 556.0,543.28 L556.0,543.42 556.7,543.42 L556.7,543.34 557.4,543.34 L557.4,543.09 558.1,543.09 L558.1,543.76 558.8,543.76 L558.8,543.83 559.5,543.83 L559.5,543.56 560.2,543.56 L560.2,543.31 560.9,543.31 L560.9,543.29 561.6,543.29 L561.6,543.24 562.3,543.24 L562.3,543.65 563.0,543.65 L563.0,542.94 563.7,542.94 L563.7,543.56 564.4,543.56 L564.4,543.21 565.1,543.21 L565.1,543.18 565.8,543.18 L565.8,543.67 566.5,543.67 L566.5,543.51 567.2,543.51 L567.2,543.59 567.9,543.59 L567.9,543.99 568.6,543.99 L568.6,543.94 569.3,543.94 L569.3,543.93 570.0,543.93 L570.0,543.68 570.7,543.68 L570.7,543.45 571.4,543.45 L571.4,544.12 572.1,544.12 L572.1,544.13 572.8,544.13 L572.8,543.68 573.5,543.68 L573.5,544.19 574.2,544.19 L574.2,543.85 574.9,543.85 L574.9,543.53 575.6,543.53 L575.6,543.59 576.3,543.59 L576.3,544.00 577.0,544.00 L577.0,543.36 577.7,543.36 L577.7,543.41 578.4,543.41 L578.4,543.04 579.1,543.04 L579.1,543.47 579.8,543.47 L579.8,543.45 580.5,543.45 L580.5,543.53 581.2,543.53 L581.2,543.09 581.9,543.09 L581.9,541.35 582.6,541.35 L582.6,540.03 583.3,540.03 L583.3,541.92 584.0,541.92 L584.0,543.14 584.7,543.14 L584.7,544.04 585.4,544.04 L585.4,543.49 586.1,543.49 L586.1,543.45 586.8,543.45 L586.8,543.84 587.5,543.84 L587.5,544.04 588.2,544.04 L588.2,543.27 588.9,543.27 L588.9,543.61 589.6,543.61 L589.6,542.79 590.0,542.79 L590.0,545.60 Z" fill="#4fcaf2"/>
<path d="M486.0,571.70 L486.0,570.16 486.7,570.16 L486.7,569.32 487.4,569.32 L487.4,569.97 488.1,569.97 L488.1,569.54 488.8,569.54 L488.8,569.69 489.5,569.69 L489.5,569.76 490.2,569.76 L490.2,569.68 490.9,569.68 L490.9,569.31 491.6,569.31 L491.6,568.98 492.3,568.98 L492.3,569.58 493.0,569.58 L493.0,569.59 493.7,569.59 L493.7,569.71 494.4,569.71 L494.4,569.18 495.1,569.18 L495.1,569.29 495.8,569.29 L495.8,568.45 496.5,568.45 L496.5,568.45 497.2,568.45 L497.2,567.58 497.9,567.58 L497.9,566.89 498.6,566.89 L498.6,568.11 499.3,568.11 L499.3,567.04 500.0,567.04 L500.0,568.49 500.7,568.49 L500.7,567.04 501.4,567.04 L501.4,567.13 502.1,567.13 L502.1,565.47 502.8,565.47 L502.8,559.43 503.5,559.43 L503.5,552.15 504.2,552.15 L504.2,555.33 504.9,555.33 L504.9,563.29 505.6,563.29 L505.6,565.31 506.3,565.31 L506.3,566.73 507.0,566.73 L507.0,562.99 507.7,562.99 L507.7,561.67 508.4,561.67 L508.4,558.39 509.1,558.39 L509.1,564.39 509.8,564.39 L509.8,564.28 510.5,564.28 L510.5,566.12 511.2,566.12 L511.2,566.05 511.9,566.05 L511.9,567.01 512.6,567.01 L512.6,566.48 513.3,566.48 L513.3,565.52 514.0,565.52 L514.0,565.17 514.7,565.17 L514.7,565.84 515.4,565.84 L515.4,565.52 516.1,565.52 L516.1,566.59 516.8,566.59 L516.8,566.89 517.5,566.89 L517.5,565.64 518.2,565.64 L518.2,565.26 518.9,565.26 L518.9,567.68 519.6,567.68 L519.6,566.38 520.3,566.38 L520.3,563.41 521.0,563.41 L521.0,551.99 521.7,551.99 L521.7,559.40 522.4,559.40 L522.4,563.52 523.1,563.52 L523.1,564.23 523.8,564.23 L523.8,566.50 524.5,566.50 L524.5,564.27 525.2,564.27 L525.2,560.92 525.9,560.92 L525.9,557.31 526.6,557.31 L526.6,551.78 527.3,551.78 L527.3,558.82 528.0,558.82 L528.0,563.62 528.7,563.62 L528.7,564.35 529.4,564.35 L529.4,565.27 530.1,565.27 L530.1,564.65 530.8,564.65 L530.8,565.26 531.5,565.26 L531.5,563.37 532.2,563.37 L532.2,559.66 532.9,559.66 L532.9,554.06 533.6,554.06 L533.6,561.90 534.3,561.90 L534.3,562.56 535.0,562.56 L535.0,563.07 535.7,563.07 L535.7,563.78 536.4,563.78 L536.4,564.33 537.1,564.33 L537.1,565.76 537.8,565.76 L537.8,565.89 538.5,565.89 L538.5,565.07 539.2,565.07 L539.2,566.29 539.9,566.29 L539.9,565.88 540.6,565.88 L540.6,566.23 541.3,566.23 L541.3,565.71 542.0,565.71 L542.0,567.06 542.7,567.06 L542.7,565.53 543.4,565.53 L543.4,567.02 544.1,567.02 L544.1,564.98 544.8,564.98 L544.8,566.69 545.5,566.69 L545.5,565.61 546.2,565.61 L546.2,564.91 546.9,564.91 L546.9,555.96 547.6,555.96 L547.6,556.58 548.3,556.58 L548.3,561.17 549.0,561.17 L549.0,565.00 549.7,565.00 L549.7,565.47 550.4,565.47 L550.4,565.89 551.1,565.89 L551.1,566.47 551.8,566.47 L551.8,566.34 552.5,566.34 L552.5,565.04 553.2,565.04 L553.2,567.28 553.9,567.28 L553.9,567.21 554.6,567.21 L554.6,566.56 555.3,566.56 L555.3,566.82 556.0,566.82 L556.0,567.48 556.7,567.48 L556.7,567.07 557.4,567.07 L557.4,567.24 558.1,567.24 L558.1,567.32 558.8,567.32 L558.8,562.04 559.5,562.04 L559.5,559.28 560.2,559.28 L560.2,562.57 560.9,562.57 L560.9,565.99 561.6,565.99 L561.6,567.83 562.3,567.83 L562.3,568.23 563.0,568.23 L563.0,566.16 563.7,566.16 L563.7,567.52 564.4,567.52 L564.4,566.45 565.1,566.45 L565.1,567.27 565.8,567.27 L565.8,565.59 566.5,565.59 L566.5,566.46 567.2,566.46 L567.2,566.62 567.9,566.62 L567.9,566.63 568.6,566.63 L568.6,566.99 569.3,566.99 L569.3,567.17 570.0,567.17 L570.0,567.77 570.7,567.77 L570.7,568.00 571.4,568.00 L571.4,568.24 572.1,568.24 L572.1,568.29 572.8,568.29 L572.8,568.74 573.5,568.74 L573.5,568.14 574.2,568.14 L574.2,568.55 574.9,568.55 L574.9,568.05 575.6,568.05 L575.6,567.74 576.3,567.74 L576.3,567.90 577.0,567.90 L577.0,567.70 577.7,567.70 L577.7,568.93 578.4,568.93 L578.4,567.74 579.1,567.74 L579.1,569.01 579.8,569.01 L579.8,568.11 580.5,568.11 L580.5,568.55 581.2,568.55 L581.2,567.59 581.9,567.59 L581.9,562.43 582.6,562.43 L582.6,561.03 583.3,561.03 L583.3,564.17 584.0,564.17 L584.0,567.48 584.7,567.48 L584.7,567.69 585.4,567.69 L585.4,568.22 586.1,568.22 L586.1,567.62 586.8,567.62 L586.8,566.29 587.5,566.29 L587.5,562.70 588.2,562.70 L588.2,560.59 588.9,560.59 L588.9,567.20 589.6,567.20 L589.6,567.16 590.0,567.16 L590.0,571.70 Z" fill="#d9307f"/>
<path d="M486.0,598.40 L486.0,595.95 486.7,595.95 L486.7,596.22 487.4,596.22 L487.4,596.87 488.1,596.87 L488.1,596.29 488.8,596.29 L488.8,596.55 489.5,596.55 L489.5,596.38 490.2,596.38 L490.2,596.18 490.9,596.18 L490.9,596.03 491.6,596.03 L491.6,595.73 492.3,595.73 L492.3,595.87 493.0,595.87 L493.0,596.35 493.7,596.35 L493.7,596.09 494.4,596.09 L494.4,596.51 495.1,596.51 L495.1,596.86 495.8,596.86 L495.8,596.08 496.5,596.08 L496.5,595.53 497.2,595.53 L497.2,594.20 497.9,594.20 L497.9,594.25 498.6,594.25 L498.6,592.71 499.3,592.71 L499.3,592.67 500.0,592.67 L500.0,592.85 500.7,592.85 L500.7,594.15 501.4,594.15 L501.4,593.70 502.1,593.70 L502.1,591.81 502.8,591.81 L502.8,587.28 503.5,587.28 L503.5,580.10 504.2,580.10 L504.2,581.87 504.9,581.87 L504.9,589.79 505.6,589.79 L505.6,592.55 506.3,592.55 L506.3,593.87 507.0,593.87 L507.0,593.60 507.7,593.60 L507.7,593.10 508.4,593.10 L508.4,593.76 509.1,593.76 L509.1,592.59 509.8,592.59 L509.8,592.55 510.5,592.55 L510.5,593.47 511.2,593.47 L511.2,593.87 511.9,593.87 L511.9,594.39 512.6,594.39 L512.6,593.23 513.3,593.23 L513.3,594.02 514.0,594.02 L514.0,590.96 514.7,590.96 L514.7,588.47 515.4,588.47 L515.4,590.19 516.1,590.19 L516.1,591.68 516.8,591.68 L516.8,593.06 517.5,593.06 L517.5,593.10 518.2,593.10 L518.2,593.48 518.9,593.48 L518.9,593.95 519.6,593.95 L519.6,594.45 520.3,594.45 L520.3,590.90 521.0,590.90 L521.0,579.11 521.7,579.11 L521.7,583.11 522.4,583.11 L522.4,593.84 523.1,593.84 L523.1,592.89 523.8,592.89 L523.8,590.28 524.5,590.28 L524.5,583.08 525.2,583.08 L525.2,587.40 525.9,587.40 L525.9,590.02 526.6,590.02 L526.6,589.56 527.3,589.56 L527.3,586.72 528.0,586.72 L528.0,587.63 528.7,587.63 L528.7,592.13 529.4,592.13 L529.4,594.09 530.1,594.09 L530.1,594.58 530.8,594.58 L530.8,594.08 531.5,594.08 L531.5,593.81 532.2,593.81 L532.2,590.91 532.9,590.91 L532.9,588.21 533.6,588.21 L533.6,586.73 534.3,586.73 L534.3,590.46 535.0,590.46 L535.0,594.11 535.7,594.11 L535.7,595.14 536.4,595.14 L536.4,594.61 537.1,594.61 L537.1,594.81 537.8,594.81 L537.8,595.00 538.5,595.00 L538.5,594.37 539.2,594.37 L539.2,594.05 539.9,594.05 L539.9,594.06 540.6,594.06 L540.6,594.94 541.3,594.94 L541.3,593.59 542.0,593.59 L542.0,594.29 542.7,594.29 L542.7,593.45 543.4,593.45 L543.4,594.35 544.1,594.35 L544.1,594.83 544.8,594.83 L544.8,594.45 545.5,594.45 L545.5,594.06 546.2,594.06 L546.2,592.33 546.9,592.33 L546.9,586.40 547.6,586.40 L547.6,585.12 548.3,585.12 L548.3,589.20 549.0,589.20 L549.0,591.42 549.7,591.42 L549.7,594.06 550.4,594.06 L550.4,592.55 551.1,592.55 L551.1,592.89 551.8,592.89 L551.8,593.21 552.5,593.21 L552.5,594.69 553.2,594.69 L553.2,595.02 553.9,595.02 L553.9,595.72 554.6,595.72 L554.6,596.26 555.3,596.26 L555.3,596.47 556.0,596.47 L556.0,596.42 556.7,596.42 L556.7,596.38 557.4,596.38 L557.4,596.10 558.1,596.10 L558.1,596.23 558.8,596.23 L558.8,595.91 559.5,595.91 L559.5,597.00 560.2,597.00 L560.2,596.66 560.9,596.66 L560.9,596.51 561.6,596.51 L561.6,596.97 562.3,596.97 L562.3,596.77 563.0,596.77 L563.0,596.61 563.7,596.61 L563.7,596.81 564.4,596.81 L564.4,596.38 565.1,596.38 L565.1,595.96 565.8,595.96 L565.8,596.31 566.5,596.31 L566.5,596.12 567.2,596.12 L567.2,596.41 567.9,596.41 L567.9,595.84 568.6,595.84 L568.6,596.19 569.3,596.19 L569.3,596.64 570.0,596.64 L570.0,596.46 570.7,596.46 L570.7,596.47 571.4,596.47 L571.4,596.57 572.1,596.57 L572.1,596.51 572.8,596.51 L572.8,596.42 573.5,596.42 L573.5,597.20 574.2,597.20 L574.2,596.66 574.9,596.66 L574.9,596.22 575.6,596.22 L575.6,596.85 576.3,596.85 L576.3,596.69 577.0,596.69 L577.0,596.28 577.7,596.28 L577.7,596.35 578.4,596.35 L578.4,595.99 579.1,595.99 L579.1,596.22 579.8,596.22 L579.8,595.34 580.5,595.34 L580.5,594.93 581.2,594.93 L581.2,594.83 581.9,594.83 L581.9,594.76 582.6,594.76 L582.6,594.98 583.3,594.98 L583.3,595.89 584.0,595.89 L584.0,595.02 584.7,595.02 L584.7,596.02 585.4,596.02 L585.4,594.61 586.1,594.61 L586.1,592.60 586.8,592.60 L586.8,589.19 587.5,589.19 L587.5,592.96 588.2,592.96 L588.2,594.12 588.9,594.12 L588.9,590.90 589.6,590.90 L589.6,591.36 590.0,591.36 L590.0,598.40 Z" fill="#f9b3d1"/>
<path d="M486.0,624.60 L486.0,621.73 486.7,621.73 L486.7,620.63 487.4,620.63 L487.4,621.43 488.1,621.43 L488.1,621.80 488.8,621.80 L488.8,621.19 489.5,621.19 L489.5,621.84 490.2,621.84 L490.2,622.67 490.9,622.67 L490.9,621.38 491.6,621.38 L491.6,622.79 492.3,622.79 L492.3,621.81 493.0,621.81 L493.0,621.96 493.7,621.96 L493.7,621.73 494.4,621.73 L494.4,622.51 495.1,622.51 L495.1,622.43 495.8,622.43 L495.8,622.40 496.5,622.40 L496.5,622.14 497.2,622.14 L497.2,622.46 497.9,622.46 L497.9,622.48 498.6,622.48 L498.6,621.65 499.3,621.65 L499.3,621.70 500.0,621.70 L500.0,622.06 500.7,622.06 L500.7,621.98 501.4,621.98 L501.4,622.19 502.1,622.19 L502.1,622.29 502.8,622.29 L502.8,622.17 503.5,622.17 L503.5,620.82 504.2,620.82 L504.2,619.43 504.9,619.43 L504.9,619.49 505.6,619.49 L505.6,621.46 506.3,621.46 L506.3,621.67 507.0,621.67 L507.0,622.22 507.7,622.22 L507.7,622.05 508.4,622.05 L508.4,621.31 509.1,621.31 L509.1,622.03 509.8,622.03 L509.8,621.36 510.5,621.36 L510.5,621.71 511.2,621.71 L511.2,621.56 511.9,621.56 L511.9,621.93 512.6,621.93 L512.6,622.87 513.3,622.87 L513.3,621.89 514.0,621.89 L514.0,621.94 514.7,621.94 L514.7,622.09 515.4,622.09 L515.4,622.34 516.1,622.34 L516.1,622.47 516.8,622.47 L516.8,622.30 517.5,622.30 L517.5,622.79 518.2,622.79 L518.2,622.51 518.9,622.51 L518.9,621.41 519.6,621.41 L519.6,622.08 520.3,622.08 L520.3,621.83 521.0,621.83 L521.0,622.30 521.7,622.30 L521.7,621.78 522.4,621.78 L522.4,621.41 523.1,621.41 L523.1,621.81 523.8,621.81 L523.8,612.84 524.5,612.84 L524.5,622.38 525.2,622.38 L525.2,622.16 525.9,622.16 L525.9,622.75 526.6,622.75 L526.6,622.98 527.3,622.98 L527.3,622.61 528.0,622.61 L528.0,622.93 528.7,622.93 L528.7,621.62 529.4,621.62 L529.4,621.72 530.1,621.72 L530.1,621.00 530.8,621.00 L530.8,621.10 531.5,621.10 L531.5,622.12 532.2,622.12 L532.2,621.77 532.9,621.77 L532.9,621.79 533.6,621.79 L533.6,622.22 534.3,622.22 L534.3,621.89 535.0,621.89 L535.0,621.50 535.7,621.50 L535.7,622.42 536.4,622.42 L536.4,621.99 537.1,621.99 L537.1,622.66 537.8,622.66 L537.8,622.11 538.5,622.11 L538.5,621.90 539.2,621.90 L539.2,621.78 539.9,621.78 L539.9,622.55 540.6,622.55 L540.6,621.76 541.3,621.76 L541.3,621.76 542.0,621.76 L542.0,621.60 542.7,621.60 L542.7,622.06 543.4,622.06 L543.4,621.80 544.1,621.80 L544.1,622.21 544.8,622.21 L544.8,622.70 545.5,622.70 L545.5,622.08 546.2,622.08 L546.2,621.98 546.9,621.98 L546.9,621.92 547.6,621.92 L547.6,622.30 548.3,622.30 L548.3,621.93 549.0,621.93 L549.0,622.20 549.7,622.20 L549.7,621.56 550.4,621.56 L550.4,622.68 551.1,622.68 L551.1,622.06 551.8,622.06 L551.8,622.80 552.5,622.80 L552.5,621.52 553.2,621.52 L553.2,622.69 553.9,622.69 L553.9,622.46 554.6,622.46 L554.6,622.49 555.3,622.49 L555.3,621.82 556.0,621.82 L556.0,621.89 556.7,621.89 L556.7,622.18 557.4,622.18 L557.4,622.29 558.1,622.29 L558.1,621.82 558.8,621.82 L558.8,620.80 559.5,620.80 L559.5,622.07 560.2,622.07 L560.2,621.82 560.9,621.82 L560.9,621.06 561.6,621.06 L561.6,622.06 562.3,622.06 L562.3,622.67 563.0,622.67 L563.0,621.96 563.7,621.96 L563.7,621.84 564.4,621.84 L564.4,621.93 565.1,621.93 L565.1,621.36 565.8,621.36 L565.8,621.99 566.5,621.99 L566.5,621.59 567.2,621.59 L567.2,622.03 567.9,622.03 L567.9,622.35 568.6,622.35 L568.6,621.21 569.3,621.21 L569.3,621.46 570.0,621.46 L570.0,622.36 570.7,622.36 L570.7,621.66 571.4,621.66 L571.4,622.66 572.1,622.66 L572.1,622.34 572.8,622.34 L572.8,622.36 573.5,622.36 L573.5,622.05 574.2,622.05 L574.2,622.26 574.9,622.26 L574.9,622.44 575.6,622.44 L575.6,621.93 576.3,621.93 L576.3,622.58 577.0,622.58 L577.0,622.58 577.7,622.58 L577.7,621.71 578.4,621.71 L578.4,621.46 579.1,621.46 L579.1,621.35 579.8,621.35 L579.8,621.02 580.5,621.02 L580.5,621.96 581.2,621.96 L581.2,620.63 581.9,620.63 L581.9,620.52 582.6,620.52 L582.6,618.72 583.3,618.72 L583.3,621.68 584.0,621.68 L584.0,621.01 584.7,621.01 L584.7,621.30 585.4,621.30 L585.4,621.32 586.1,621.32 L586.1,621.88 586.8,621.88 L586.8,622.28 587.5,622.28 L587.5,621.81 588.2,621.81 L588.2,621.88 588.9,621.88 L588.9,621.58 589.6,621.58 L589.6,621.71 590.0,621.71 L590.0,624.60 Z" fill="#a3a3a3"/>
<rect x="501.9" y="440.2" width="50.700000000000045" height="189.10000000000002" fill="#bebebe" opacity="0.33"/>
<line x1="486" y1="625.9" x2="590" y2="625.9" stroke="#ababab" stroke-width="0.9"/>
<line x1="486" y1="628.5" x2="590" y2="628.5" stroke="#ababab" stroke-width="0.9"/>
<text x="589.7" y="445.5" font-size="6.2" font-weight="normal" fill="#858585" text-anchor="end">0-562</text>
<text x="589.7" y="472.3" font-size="6.2" font-weight="normal" fill="#858585" text-anchor="end">0-562</text>
<text x="589.7" y="498.4" font-size="6.2" font-weight="normal" fill="#858585" text-anchor="end">0-375</text>
<text x="589.7" y="524.7" font-size="6.2" font-weight="normal" fill="#858585" text-anchor="end">0-375</text>
<text x="589.7" y="551.1" font-size="6.2" font-weight="normal" fill="#858585" text-anchor="end">0-375</text>
<text x="589.7" y="577.2" font-size="6.2" font-weight="normal" fill="#858585" text-anchor="end">0-375</text>
<text x="589.7" y="603.9" font-size="6.2" font-weight="normal" fill="#858585" text-anchor="end">0-375</text>
<line x1="598.5" y1="439.5" x2="658.8" y2="439.5" stroke="#cfcfcf" stroke-width="1.3"/>
<path d="M598.5,466.80 L598.5,463.54 599.2,463.54 L599.2,463.03 599.9,463.03 L599.9,463.29 600.6,463.29 L600.6,462.85 601.3,462.85 L601.3,461.82 602.0,461.82 L602.0,463.36 602.7,463.36 L602.7,462.33 603.4,462.33 L603.4,462.96 604.1,462.96 L604.1,462.00 604.8,462.00 L604.8,462.93 605.5,462.93 L605.5,462.91 606.2,462.91 L606.2,463.65 606.9,463.65 L606.9,462.19 607.6,462.19 L607.6,462.51 608.3,462.51 L608.3,463.47 609.0,463.47 L609.0,463.30 609.7,463.30 L609.7,463.10 610.4,463.10 L610.4,463.16 611.1,463.16 L611.1,463.27 611.8,463.27 L611.8,463.34 612.5,463.34 L612.5,463.95 613.2,463.95 L613.2,464.30 613.9,464.30 L613.9,464.76 614.6,464.76 L614.6,465.12 615.3,465.12 L615.3,464.64 616.0,464.64 L616.0,464.75 616.7,464.75 L616.7,464.47 617.4,464.47 L617.4,462.12 618.1,462.12 L618.1,459.41 618.8,459.41 L618.8,457.52 619.5,457.52 L619.5,453.02 620.2,453.02 L620.2,449.48 620.9,449.48 L620.9,448.20 621.6,448.20 L621.6,449.41 622.3,449.41 L622.3,454.63 623.0,454.63 L623.0,453.52 623.7,453.52 L623.7,457.01 624.4,457.01 L624.4,457.06 625.1,457.06 L625.1,456.35 625.8,456.35 L625.8,459.24 626.5,459.24 L626.5,457.78 627.2,457.78 L627.2,459.88 627.9,459.88 L627.9,458.52 628.6,458.52 L628.6,460.47 629.3,460.47 L629.3,460.61 630.0,460.61 L630.0,461.64 630.7,461.64 L630.7,461.84 631.4,461.84 L631.4,462.31 632.1,462.31 L632.1,462.64 632.8,462.64 L632.8,463.59 633.5,463.59 L633.5,464.25 634.2,464.25 L634.2,464.08 634.9,464.08 L634.9,464.70 635.6,464.70 L635.6,464.99 636.3,464.99 L636.3,464.64 637.0,464.64 L637.0,464.95 637.7,464.95 L637.7,464.99 638.4,464.99 L638.4,464.29 639.1,464.29 L639.1,463.58 639.8,463.58 L639.8,462.66 640.5,462.66 L640.5,460.33 641.2,460.33 L641.2,452.78 641.9,452.78 L641.9,447.02 642.6,447.02 L642.6,445.39 643.3,445.39 L643.3,446.51 644.0,446.51 L644.0,452.25 644.7,452.25 L644.7,454.55 645.4,454.55 L645.4,455.83 646.1,455.83 L646.1,457.80 646.8,457.80 L646.8,455.73 647.5,455.73 L647.5,456.11 648.2,456.11 L648.2,458.39 648.9,458.39 L648.9,456.60 649.6,456.60 L649.6,458.49 650.3,458.49 L650.3,458.18 651.0,458.18 L651.0,458.98 651.7,458.98 L651.7,459.38 652.4,459.38 L652.4,459.85 653.1,459.85 L653.1,462.36 653.8,462.36 L653.8,461.83 654.5,461.83 L654.5,463.37 655.2,463.37 L655.2,463.04 655.9,463.04 L655.9,463.44 656.6,463.44 L656.6,464.13 657.3,464.13 L657.3,463.87 658.0,463.87 L658.0,464.63 658.7,464.63 L658.7,465.26 658.8,465.26 L658.8,466.80 Z" fill="#14919b"/>
<path d="M598.5,492.90 L598.5,488.00 599.2,488.00 L599.2,488.55 599.9,488.55 L599.9,487.36 600.6,487.36 L600.6,488.70 601.3,488.70 L601.3,488.02 602.0,488.02 L602.0,489.09 602.7,489.09 L602.7,489.02 603.4,489.02 L603.4,488.83 604.1,488.83 L604.1,489.35 604.8,489.35 L604.8,489.25 605.5,489.25 L605.5,488.13 606.2,488.13 L606.2,489.20 606.9,489.20 L606.9,487.85 607.6,487.85 L607.6,487.49 608.3,487.49 L608.3,487.66 609.0,487.66 L609.0,488.57 609.7,488.57 L609.7,487.69 610.4,487.69 L610.4,487.45 611.1,487.45 L611.1,488.48 611.8,488.48 L611.8,488.66 612.5,488.66 L612.5,489.35 613.2,489.35 L613.2,489.11 613.9,489.11 L613.9,490.23 614.6,490.23 L614.6,490.26 615.3,490.26 L615.3,491.04 616.0,491.04 L616.0,490.75 616.7,490.75 L616.7,489.53 617.4,489.53 L617.4,485.88 618.1,485.88 L618.1,484.99 618.8,484.99 L618.8,479.89 619.5,479.89 L619.5,472.67 620.2,472.67 L620.2,474.05 620.9,474.05 L620.9,472.90 621.6,472.90 L621.6,477.11 622.3,477.11 L622.3,479.02 623.0,479.02 L623.0,480.22 623.7,480.22 L623.7,484.16 624.4,484.16 L624.4,482.92 625.1,482.92 L625.1,484.22 625.8,484.22 L625.8,483.49 626.5,483.49 L626.5,482.55 627.2,482.55 L627.2,485.69 627.9,485.69 L627.9,485.42 628.6,485.42 L628.6,484.25 629.3,484.25 L629.3,486.88 630.0,486.88 L630.0,487.68 630.7,487.68 L630.7,487.82 631.4,487.82 L631.4,488.84 632.1,488.84 L632.1,488.68 632.8,488.68 L632.8,489.41 633.5,489.41 L633.5,490.58 634.2,490.58 L634.2,489.95 634.9,489.95 L634.9,490.82 635.6,490.82 L635.6,490.78 636.3,490.78 L636.3,490.91 637.0,490.91 L637.0,490.84 637.7,490.84 L637.7,490.91 638.4,490.91 L638.4,490.50 639.1,490.50 L639.1,490.48 639.8,490.48 L639.8,489.05 640.5,489.05 L640.5,487.99 641.2,487.99 L641.2,483.17 641.9,483.17 L641.9,474.92 642.6,474.92 L642.6,472.21 643.3,472.21 L643.3,469.84 644.0,469.84 L644.0,475.81 644.7,475.81 L644.7,478.67 645.4,478.67 L645.4,481.30 646.1,481.30 L646.1,482.79 646.8,482.79 L646.8,480.88 647.5,480.88 L647.5,484.06 648.2,484.06 L648.2,481.86 648.9,481.86 L648.9,483.34 649.6,483.34 L649.6,484.47 650.3,484.47 L650.3,485.06 651.0,485.06 L651.0,485.23 651.7,485.23 L651.7,487.80 652.4,487.80 L652.4,487.22 653.1,487.22 L653.1,486.94 653.8,486.94 L653.8,488.38 654.5,488.38 L654.5,488.73 655.2,488.73 L655.2,489.73 655.9,489.73 L655.9,489.10 656.6,489.10 L656.6,489.67 657.3,489.67 L657.3,490.39 658.0,490.39 L658.0,490.88 658.7,490.88 L658.7,490.91 658.8,490.91 L658.8,492.90 Z" fill="#3fcfcf"/>
<path d="M598.5,519.20 L598.5,516.16 599.2,516.16 L599.2,516.44 599.9,516.44 L599.9,516.47 600.6,516.47 L600.6,516.84 601.3,516.84 L601.3,516.37 602.0,516.37 L602.0,517.13 602.7,517.13 L602.7,517.21 603.4,517.21 L603.4,516.81 604.1,516.81 L604.1,516.92 604.8,516.92 L604.8,517.14 605.5,517.14 L605.5,516.75 606.2,516.75 L606.2,516.54 606.9,516.54 L606.9,516.17 607.6,516.17 L607.6,516.56 608.3,516.56 L608.3,516.47 609.0,516.47 L609.0,516.28 609.7,516.28 L609.7,516.06 610.4,516.06 L610.4,516.93 611.1,516.93 L611.1,516.76 611.8,516.76 L611.8,516.42 612.5,516.42 L612.5,516.73 613.2,516.73 L613.2,516.13 613.9,516.13 L613.9,515.13 614.6,515.13 L614.6,516.13 615.3,516.13 L615.3,515.84 616.0,515.84 L616.0,514.09 616.7,514.09 L616.7,513.82 617.4,513.82 L617.4,513.48 618.1,513.48 L618.1,511.59 618.8,511.59 L618.8,511.40 619.5,511.40 L619.5,512.02 620.2,512.02 L620.2,510.84 620.9,510.84 L620.9,513.17 621.6,513.17 L621.6,511.72 622.3,511.72 L622.3,511.78 623.0,511.78 L623.0,513.64 623.7,513.64 L623.7,513.56 624.4,513.56 L624.4,514.49 625.1,514.49 L625.1,514.05 625.8,514.05 L625.8,513.73 626.5,513.73 L626.5,514.87 627.2,514.87 L627.2,515.16 627.9,515.16 L627.9,514.25 628.6,514.25 L628.6,515.64 629.3,515.64 L629.3,515.01 630.0,515.01 L630.0,515.90 630.7,515.90 L630.7,516.14 631.4,516.14 L631.4,516.28 632.1,516.28 L632.1,516.96 632.8,516.96 L632.8,516.83 633.5,516.83 L633.5,516.96 634.2,516.96 L634.2,516.61 634.9,516.61 L634.9,517.30 635.6,517.30 L635.6,517.06 636.3,517.06 L636.3,517.57 637.0,517.57 L637.0,517.89 637.7,517.89 L637.7,517.31 638.4,517.31 L638.4,517.82 639.1,517.82 L639.1,517.12 639.8,517.12 L639.8,516.11 640.5,516.11 L640.5,515.08 641.2,515.08 L641.2,514.98 641.9,514.98 L641.9,512.14 642.6,512.14 L642.6,512.20 643.3,512.20 L643.3,511.44 644.0,511.44 L644.0,512.58 644.7,512.58 L644.7,514.57 645.4,514.57 L645.4,513.31 646.1,513.31 L646.1,515.50 646.8,515.50 L646.8,514.82 647.5,514.82 L647.5,515.37 648.2,515.37 L648.2,516.54 648.9,516.54 L648.9,515.64 649.6,515.64 L649.6,516.20 650.3,516.20 L650.3,516.93 651.0,516.93 L651.0,517.21 651.7,517.21 L651.7,516.95 652.4,516.95 L652.4,517.45 653.1,517.45 L653.1,517.36 653.8,517.36 L653.8,517.72 654.5,517.72 L654.5,517.79 655.2,517.79 L655.2,518.05 655.9,518.05 L655.9,517.87 656.6,517.87 L656.6,518.04 657.3,518.04 L657.3,517.54 658.0,517.54 L658.0,517.72 658.7,517.72 L658.7,517.43 658.8,517.43 L658.8,519.20 Z" fill="#1e98c9"/>
<path d="M598.5,545.60 L598.5,541.79 599.2,541.79 L599.2,542.29 599.9,542.29 L599.9,542.48 600.6,542.48 L600.6,542.06 601.3,542.06 L601.3,542.53 602.0,542.53 L602.0,542.68 602.7,542.68 L602.7,541.94 603.4,541.94 L603.4,542.51 604.1,542.51 L604.1,543.08 604.8,543.08 L604.8,542.39 605.5,542.39 L605.5,542.95 606.2,542.95 L606.2,543.08 606.9,543.08 L606.9,542.65 607.6,542.65 L607.6,542.26 608.3,542.26 L608.3,542.13 609.0,542.13 L609.0,542.97 609.7,542.97 L609.7,543.21 610.4,543.21 L610.4,542.23 611.1,542.23 L611.1,542.39 611.8,542.39 L611.8,542.68 612.5,542.68 L612.5,542.59 613.2,542.59 L613.2,542.56 613.9,542.56 L613.9,542.53 614.6,542.53 L614.6,542.32 615.3,542.32 L615.3,540.45 616.0,540.45 L616.0,539.82 616.7,539.82 L616.7,539.87 617.4,539.87 L617.4,539.79 618.1,539.79 L618.1,539.82 618.8,539.82 L618.8,537.43 619.5,537.43 L619.5,538.91 620.2,538.91 L620.2,538.60 620.9,538.60 L620.9,537.18 621.6,537.18 L621.6,537.43 622.3,537.43 L622.3,538.66 623.0,538.66 L623.0,539.59 623.7,539.59 L623.7,538.25 624.4,538.25 L624.4,539.53 625.1,539.53 L625.1,539.82 625.8,539.82 L625.8,541.06 626.5,541.06 L626.5,540.97 627.2,540.97 L627.2,541.51 627.9,541.51 L627.9,540.77 628.6,540.77 L628.6,540.81 629.3,540.81 L629.3,541.41 630.0,541.41 L630.0,542.20 630.7,542.20 L630.7,542.79 631.4,542.79 L631.4,542.45 632.1,542.45 L632.1,542.12 632.8,542.12 L632.8,542.36 633.5,542.36 L633.5,542.71 634.2,542.71 L634.2,542.91 634.9,542.91 L634.9,543.05 635.6,543.05 L635.6,543.54 636.3,543.54 L636.3,543.41 637.0,543.41 L637.0,542.33 637.7,542.33 L637.7,542.39 638.4,542.39 L638.4,542.90 639.1,542.90 L639.1,542.13 639.8,542.13 L639.8,542.67 640.5,542.67 L640.5,542.24 641.2,542.24 L641.2,542.93 641.9,542.93 L641.9,542.10 642.6,542.10 L642.6,542.60 643.3,542.60 L643.3,542.33 644.0,542.33 L644.0,543.00 644.7,543.00 L644.7,542.68 645.4,542.68 L645.4,543.15 646.1,543.15 L646.1,542.99 646.8,542.99 L646.8,542.43 647.5,542.43 L647.5,542.53 648.2,542.53 L648.2,541.90 648.9,541.90 L648.9,542.53 649.6,542.53 L649.6,542.47 650.3,542.47 L650.3,543.27 651.0,543.27 L651.0,543.54 651.7,543.54 L651.7,543.94 652.4,543.94 L652.4,544.07 653.1,544.07 L653.1,543.81 653.8,543.81 L653.8,543.90 654.5,543.90 L654.5,544.37 655.2,544.37 L655.2,543.85 655.9,543.85 L655.9,543.77 656.6,543.77 L656.6,543.64 657.3,543.64 L657.3,543.61 658.0,543.61 L658.0,543.92 658.7,543.92 L658.7,543.95 658.8,543.95 L658.8,545.60 Z" fill="#4fcaf2"/>
<path d="M598.5,571.70 L598.5,565.42 599.2,565.42 L599.2,564.68 599.9,564.68 L599.9,563.28 600.6,563.28 L600.6,563.26 601.3,563.26 L601.3,564.14 602.0,564.14 L602.0,564.36 602.7,564.36 L602.7,565.08 603.4,565.08 L603.4,566.12 604.1,566.12 L604.1,565.08 604.8,565.08 L604.8,564.57 605.5,564.57 L605.5,566.26 606.2,566.26 L606.2,566.31 606.9,566.31 L606.9,564.87 607.6,564.87 L607.6,564.50 608.3,564.50 L608.3,566.75 609.0,566.75 L609.0,565.52 609.7,565.52 L609.7,564.31 610.4,564.31 L610.4,565.60 611.1,565.60 L611.1,565.19 611.8,565.19 L611.8,565.98 612.5,565.98 L612.5,566.56 613.2,566.56 L613.2,567.81 613.9,567.81 L613.9,568.09 614.6,568.09 L614.6,568.55 615.3,568.55 L615.3,566.47 616.0,566.47 L616.0,565.87 616.7,565.87 L616.7,564.79 617.4,564.79 L617.4,563.82 618.1,563.82 L618.1,564.25 618.8,564.25 L618.8,564.06 619.5,564.06 L619.5,563.92 620.2,563.92 L620.2,565.41 620.9,565.41 L620.9,564.77 621.6,564.77 L621.6,565.23 622.3,565.23 L622.3,563.87 623.0,563.87 L623.0,563.03 623.7,563.03 L623.7,564.94 624.4,564.94 L624.4,564.57 625.1,564.57 L625.1,564.78 625.8,564.78 L625.8,564.58 626.5,564.58 L626.5,564.55 627.2,564.55 L627.2,564.65 627.9,564.65 L627.9,566.01 628.6,566.01 L628.6,566.00 629.3,566.00 L629.3,565.87 630.0,565.87 L630.0,564.96 630.7,564.96 L630.7,566.15 631.4,566.15 L631.4,565.75 632.1,565.75 L632.1,566.49 632.8,566.49 L632.8,566.92 633.5,566.92 L633.5,566.83 634.2,566.83 L634.2,566.44 634.9,566.44 L634.9,567.01 635.6,567.01 L635.6,567.10 636.3,567.10 L636.3,568.84 637.0,568.84 L637.0,568.74 637.7,568.74 L637.7,566.84 638.4,566.84 L638.4,565.67 639.1,565.67 L639.1,566.24 639.8,566.24 L639.8,566.11 640.5,566.11 L640.5,564.38 641.2,564.38 L641.2,564.45 641.9,564.45 L641.9,564.44 642.6,564.44 L642.6,566.17 643.3,566.17 L643.3,563.89 644.0,563.89 L644.0,564.74 644.7,564.74 L644.7,566.27 645.4,566.27 L645.4,566.60 646.1,566.60 L646.1,565.28 646.8,565.28 L646.8,565.12 647.5,565.12 L647.5,565.14 648.2,565.14 L648.2,564.12 648.9,564.12 L648.9,566.28 649.6,566.28 L649.6,565.06 650.3,565.06 L650.3,564.93 651.0,564.93 L651.0,565.16 651.7,565.16 L651.7,565.49 652.4,565.49 L652.4,563.09 653.1,563.09 L653.1,565.46 653.8,565.46 L653.8,564.42 654.5,564.42 L654.5,566.01 655.2,566.01 L655.2,566.32 655.9,566.32 L655.9,567.49 656.6,567.49 L656.6,568.93 657.3,568.93 L657.3,568.85 658.0,568.85 L658.0,568.47 658.7,568.47 L658.7,569.03 658.8,569.03 L658.8,571.70 Z" fill="#d9307f"/>
<path d="M598.5,598.40 L598.5,591.55 599.2,591.55 L599.2,589.34 599.9,589.34 L599.9,592.41 600.6,592.41 L600.6,591.14 601.3,591.14 L601.3,590.94 602.0,590.94 L602.0,592.73 602.7,592.73 L602.7,592.45 603.4,592.45 L603.4,593.40 604.1,593.40 L604.1,593.32 604.8,593.32 L604.8,591.84 605.5,591.84 L605.5,592.61 606.2,592.61 L606.2,593.67 606.9,593.67 L606.9,592.24 607.6,592.24 L607.6,592.58 608.3,592.58 L608.3,591.96 609.0,591.96 L609.0,593.52 609.7,593.52 L609.7,592.38 610.4,592.38 L610.4,591.74 611.1,591.74 L611.1,593.88 611.8,593.88 L611.8,592.77 612.5,592.77 L612.5,594.12 613.2,594.12 L613.2,595.31 613.9,595.31 L613.9,594.73 614.6,594.73 L614.6,593.17 615.3,593.17 L615.3,591.08 616.0,591.08 L616.0,587.68 616.7,587.68 L616.7,588.06 617.4,588.06 L617.4,584.37 618.1,584.37 L618.1,582.32 618.8,582.32 L618.8,583.94 619.5,583.94 L619.5,585.82 620.2,585.82 L620.2,585.98 620.9,585.98 L620.9,589.81 621.6,589.81 L621.6,588.31 622.3,588.31 L622.3,588.36 623.0,588.36 L623.0,589.57 623.7,589.57 L623.7,586.59 624.4,586.59 L624.4,586.38 625.1,586.38 L625.1,585.29 625.8,585.29 L625.8,586.42 626.5,586.42 L626.5,583.13 627.2,583.13 L627.2,583.42 627.9,583.42 L627.9,588.49 628.6,588.49 L628.6,587.33 629.3,587.33 L629.3,586.97 630.0,586.97 L630.0,589.20 630.7,589.20 L630.7,590.01 631.4,590.01 L631.4,590.19 632.1,590.19 L632.1,593.24 632.8,593.24 L632.8,593.40 633.5,593.40 L633.5,593.86 634.2,593.86 L634.2,594.67 634.9,594.67 L634.9,594.18 635.6,594.18 L635.6,594.05 636.3,594.05 L636.3,595.09 637.0,595.09 L637.0,594.24 637.7,594.24 L637.7,592.84 638.4,592.84 L638.4,591.23 639.1,591.23 L639.1,590.72 639.8,590.72 L639.8,589.86 640.5,589.86 L640.5,589.29 641.2,589.29 L641.2,588.98 641.9,588.98 L641.9,584.50 642.6,584.50 L642.6,587.34 643.3,587.34 L643.3,587.41 644.0,587.41 L644.0,584.86 644.7,584.86 L644.7,586.04 645.4,586.04 L645.4,588.58 646.1,588.58 L646.1,589.13 646.8,589.13 L646.8,587.59 647.5,587.59 L647.5,588.39 648.2,588.39 L648.2,589.04 648.9,589.04 L648.9,591.77 649.6,591.77 L649.6,590.39 650.3,590.39 L650.3,590.87 651.0,590.87 L651.0,589.78 651.7,589.78 L651.7,592.75 652.4,592.75 L652.4,593.46 653.1,593.46 L653.1,595.66 653.8,595.66 L653.8,596.25 654.5,596.25 L654.5,596.33 655.2,596.33 L655.2,596.71 655.9,596.71 L655.9,596.57 656.6,596.57 L656.6,596.31 657.3,596.31 L657.3,596.77 658.0,596.77 L658.0,596.82 658.7,596.82 L658.7,596.31 658.8,596.31 L658.8,598.40 Z" fill="#f9b3d1"/>
<path d="M598.5,624.60 L598.5,621.14 599.2,621.14 L599.2,620.51 599.9,620.51 L599.9,620.76 600.6,620.76 L600.6,620.60 601.3,620.60 L601.3,620.89 602.0,620.89 L602.0,621.61 602.7,621.61 L602.7,621.25 603.4,621.25 L603.4,620.68 604.1,620.68 L604.1,621.04 604.8,621.04 L604.8,620.11 605.5,620.11 L605.5,619.57 606.2,619.57 L606.2,619.19 606.9,619.19 L606.9,619.59 607.6,619.59 L607.6,620.74 608.3,620.74 L608.3,620.45 609.0,620.45 L609.0,620.22 609.7,620.22 L609.7,620.23 610.4,620.23 L610.4,620.84 611.1,620.84 L611.1,620.95 611.8,620.95 L611.8,621.26 612.5,621.26 L612.5,620.98 613.2,620.98 L613.2,620.89 613.9,620.89 L613.9,621.35 614.6,621.35 L614.6,621.72 615.3,621.72 L615.3,620.75 616.0,620.75 L616.0,620.04 616.7,620.04 L616.7,621.11 617.4,621.11 L617.4,621.43 618.1,621.43 L618.1,620.94 618.8,620.94 L618.8,619.90 619.5,619.90 L619.5,620.21 620.2,620.21 L620.2,619.94 620.9,619.94 L620.9,620.62 621.6,620.62 L621.6,620.76 622.3,620.76 L622.3,619.87 623.0,619.87 L623.0,619.53 623.7,619.53 L623.7,619.79 624.4,619.79 L624.4,619.89 625.1,619.89 L625.1,619.66 625.8,619.66 L625.8,618.98 626.5,618.98 L626.5,619.22 627.2,619.22 L627.2,618.06 627.9,618.06 L627.9,617.97 628.6,617.97 L628.6,620.15 629.3,620.15 L629.3,619.49 630.0,619.49 L630.0,620.54 630.7,620.54 L630.7,620.75 631.4,620.75 L631.4,622.10 632.1,622.10 L632.1,621.24 632.8,621.24 L632.8,621.20 633.5,621.20 L633.5,621.33 634.2,621.33 L634.2,621.24 634.9,621.24 L634.9,621.25 635.6,621.25 L635.6,622.11 636.3,622.11 L636.3,621.09 637.0,621.09 L637.0,620.18 637.7,620.18 L637.7,620.29 638.4,620.29 L638.4,621.25 639.1,621.25 L639.1,620.56 639.8,620.56 L639.8,620.20 640.5,620.20 L640.5,621.17 641.2,621.17 L641.2,620.54 641.9,620.54 L641.9,620.97 642.6,620.97 L642.6,621.80 643.3,621.80 L643.3,621.20 644.0,621.20 L644.0,620.94 644.7,620.94 L644.7,620.60 645.4,620.60 L645.4,621.08 646.1,621.08 L646.1,621.67 646.8,621.67 L646.8,620.72 647.5,620.72 L647.5,621.21 648.2,621.21 L648.2,621.43 648.9,621.43 L648.9,621.15 649.6,621.15 L649.6,621.37 650.3,621.37 L650.3,621.91 651.0,621.91 L651.0,620.70 651.7,620.70 L651.7,620.91 652.4,620.91 L652.4,621.47 653.1,621.47 L653.1,621.04 653.8,621.04 L653.8,620.95 654.5,620.95 L654.5,621.52 655.2,621.52 L655.2,621.17 655.9,621.17 L655.9,621.63 656.6,621.63 L656.6,622.12 657.3,622.12 L657.3,621.15 658.0,621.15 L658.0,621.45 658.7,621.45 L658.7,620.99 658.8,620.99 L658.8,624.60 Z" fill="#a3a3a3"/>
<rect x="613.8" y="440.2" width="22.0" height="189.10000000000002" fill="#bebebe" opacity="0.33"/>
<line x1="598.5" y1="625.9" x2="658.8" y2="625.9" stroke="#ababab" stroke-width="0.9"/>
<line x1="598.5" y1="628.5" x2="658.8" y2="628.5" stroke="#ababab" stroke-width="0.9"/>
<text x="658.5" y="445.5" font-size="6.2" font-weight="normal" fill="#858585" text-anchor="end">0-420</text>
<text x="658.5" y="472.3" font-size="6.2" font-weight="normal" fill="#858585" text-anchor="end">0-420</text>
<text x="658.5" y="498.4" font-size="6.2" font-weight="normal" fill="#858585" text-anchor="end">0-300</text>
<text x="658.5" y="524.7" font-size="6.2" font-weight="normal" fill="#858585" text-anchor="end">0-300</text>
<text x="658.5" y="551.1" font-size="6.2" font-weight="normal" fill="#858585" text-anchor="end">0-300</text>
<text x="658.5" y="577.2" font-size="6.2" font-weight="normal" fill="#858585" text-anchor="end">0-300</text>
<text x="658.5" y="603.9" font-size="6.2" font-weight="normal" fill="#858585" text-anchor="end">0-300</text>
<circle cx="674.2" cy="454.8" r="9.6" fill="#fff" stroke="#ec8236" stroke-width="1.35"/>
<circle cx="674.2" cy="454.8" r="6.5" fill="#f9dcc6"/>
<circle cx="674.2" cy="510.2" r="9.6" fill="#fff" stroke="#ec8236" stroke-width="1.35"/>
<circle cx="674.2" cy="510.2" r="6.5" fill="#f9dcc6"/>
<circle cx="674.2" cy="561.3" r="9.6" fill="#fff" stroke="#ec8236" stroke-width="1.35"/>
<circle cx="674.2" cy="561.3" r="6.5" fill="#f9dcc6"/>
<circle cx="673.4" cy="481.8" r="7.8" fill="#fff" stroke="#707070" stroke-width="1.2"/>
<circle cx="673.4" cy="481.8" r="5.1" fill="#e6e6e6"/>
<circle cx="673.4" cy="535.6" r="7.8" fill="#fff" stroke="#707070" stroke-width="1.2"/>
<circle cx="673.4" cy="535.6" r="5.1" fill="#e6e6e6"/>
<circle cx="673.4" cy="587.4" r="7.8" fill="#fff" stroke="#707070" stroke-width="1.2"/>
<circle cx="673.4" cy="587.4" r="5.1" fill="#e6e6e6"/>
<line x1="68.6" y1="632.3" x2="68.6" y2="638.3" stroke="#000" stroke-width="0.8"/>
<line x1="71.2" y1="632.3" x2="71.2" y2="638.3" stroke="#000" stroke-width="0.8"/>
<line x1="68.6" y1="635.3" x2="82" y2="635.3" stroke="#000" stroke-width="0.8"/>
<line x1="120" y1="635.3" x2="181" y2="635.3" stroke="#000" stroke-width="0.8"/>
<path d="M130.1,633.5 L128.3,635.3 L130.1,637.0999999999999" fill="none" stroke="#000" stroke-width="0.6"/>
<path d="M144.0,633.5 L142.20000000000002,635.3 L144.0,637.0999999999999" fill="none" stroke="#000" stroke-width="0.6"/>
<path d="M157.29999999999998,633.5 L155.5,635.3 L157.29999999999998,637.0999999999999" fill="none" stroke="#000" stroke-width="0.6"/>
<path d="M171.2,633.5 L169.4,635.3 L171.2,637.0999999999999" fill="none" stroke="#000" stroke-width="0.6"/>
<rect x="82" y="632.05" width="5.5" height="6.5" fill="#000"/>
<rect x="87.5" y="633.05" width="2.0999999999999943" height="4.5" fill="#000"/>
<rect x="94.3" y="632.05" width="1.5" height="6.5" fill="#000"/>
<rect x="97.4" y="632.05" width="1.7999999999999972" height="6.5" fill="#000"/>
<rect x="112.1" y="633.05" width="2.200000000000003" height="4.5" fill="#000"/>
<rect x="114.3" y="631.6999999999999" width="6.6000000000000085" height="7.2" fill="#000"/>
<rect x="180.6" y="632.8" width="0.9000000000000057" height="5" fill="#000"/>
<path d="M76.6,633.6 L78.4,635.3 L76.6,637" fill="none" stroke="#000" stroke-width="0.6"/>
<line x1="194.9" y1="632.5" x2="194.9" y2="638" stroke="#cfcfcf" stroke-width="0.8"/>
<text x="144.4" y="644.4" font-size="9.0" font-weight="bold" fill="#1a1a1a" text-anchor="start" font-style="italic" textLength="16.4" lengthAdjust="spacingAndGlyphs" stroke="#1a1a1a" stroke-width="0.18">erm</text>
<line x1="230" y1="635.3" x2="284" y2="635.3" stroke="#000" stroke-width="0.8"/>
<line x1="321" y1="635.3" x2="323" y2="635.3" stroke="#000" stroke-width="0.8"/>
<path d="M268.59999999999997,633.5 L266.79999999999995,635.3 L268.59999999999997,637.0999999999999" fill="none" stroke="#000" stroke-width="0.6"/>
<rect x="224.1" y="631.6999999999999" width="6.099999999999994" height="7.2" fill="#000"/>
<rect x="236.4" y="632.3" width="0.799999999999983" height="6" fill="#000"/>
<rect x="240.5" y="632.3" width="0.8000000000000114" height="6" fill="#000"/>
<rect x="249.7" y="632.3" width="3.0" height="6" fill="#000"/>
<rect x="257.8" y="632.3" width="0.8000000000000114" height="6" fill="#000"/>
<rect x="282.8" y="633.1999999999999" width="1.099999999999966" height="4.2" fill="#000"/>
<rect x="290.5" y="631.8" width="0.8000000000000114" height="7" fill="#000"/>
<rect x="308.3" y="632.8" width="2.099999999999966" height="5" fill="#000"/>
<rect x="316.5" y="632.8" width="5.100000000000023" height="5" fill="#000"/>
<rect x="322.6" y="631.8" width="1.0" height="7" fill="#000"/>
<rect x="325.5" y="632.3" width="1.1999999999999886" height="6" fill="#000"/>
<text x="254.8" y="646.0" font-size="9.0" font-weight="bold" fill="#1a1a1a" text-anchor="start" font-style="italic" textLength="18.2" lengthAdjust="spacingAndGlyphs" stroke="#1a1a1a" stroke-width="0.18">ham</text>
<line x1="401.7" y1="635.5999999999999" x2="450.4" y2="635.5999999999999" stroke="#000" stroke-width="0.8"/>
<path d="M409.3,633.8 L411.1,635.5999999999999 L409.3,637.3999999999999" fill="none" stroke="#000" stroke-width="0.6"/>
<path d="M426.7,633.8 L428.5,635.5999999999999 L426.7,637.3999999999999" fill="none" stroke="#000" stroke-width="0.6"/>
<path d="M445.1,633.8 L446.90000000000003,635.5999999999999 L445.1,637.3999999999999" fill="none" stroke="#000" stroke-width="0.6"/>
<rect x="399.3" y="631.8499999999999" width="2.3999999999999773" height="7.5" fill="#000"/>
<rect x="450.4" y="631.8499999999999" width="3.1000000000000227" height="7.5" fill="#000"/>
<rect x="453.5" y="633.0999999999999" width="2.6000000000000227" height="5" fill="#000"/>
<text x="420.3" y="646.0" font-size="9.0" font-weight="bold" fill="#1a1a1a" text-anchor="start" font-style="italic" textLength="15.8" lengthAdjust="spacingAndGlyphs" stroke="#1a1a1a" stroke-width="0.18">opa</text>
<line x1="486.1" y1="636.0999999999999" x2="587.3" y2="636.0999999999999" stroke="#000" stroke-width="0.8"/>
<path d="M501.59999999999997,634.3 L499.79999999999995,636.0999999999999 L501.59999999999997,637.8999999999999" fill="none" stroke="#000" stroke-width="0.6"/>
<path d="M529.8000000000001,634.3 L528.0,636.0999999999999 L529.8000000000001,637.8999999999999" fill="none" stroke="#000" stroke-width="0.6"/>
<path d="M542.5,634.3 L540.6999999999999,636.0999999999999 L542.5,637.8999999999999" fill="none" stroke="#000" stroke-width="0.6"/>
<path d="M555.8000000000001,634.3 L554.0,636.0999999999999 L555.8000000000001,637.8999999999999" fill="none" stroke="#000" stroke-width="0.6"/>
<path d="M570.1,634.3 L568.3,636.0999999999999 L570.1,637.8999999999999" fill="none" stroke="#000" stroke-width="0.6"/>
<rect x="486.1" y="632.5999999999999" width="1.5" height="7" fill="#000"/>
<rect x="488.3" y="632.5999999999999" width="1.6999999999999886" height="7" fill="#000"/>
<rect x="491.1" y="632.5999999999999" width="1.1999999999999886" height="7" fill="#000"/>
<rect x="503.3" y="633.0999999999999" width="0.6999999999999886" height="6" fill="#000"/>
<rect x="505" y="633.0999999999999" width="1" height="6" fill="#000"/>
<rect x="506.2" y="632.0999999999999" width="3.3000000000000114" height="8" fill="#000"/>
<rect x="510.2" y="632.0999999999999" width="3.3000000000000114" height="8" fill="#000"/>
<rect x="514.2" y="632.0999999999999" width="4.2999999999999545" height="8" fill="#000"/>
<rect x="518.8" y="632.0999999999999" width="2.1000000000000227" height="8" fill="#000"/>
<rect x="545" y="632.0999999999999" width="2.3999999999999773" height="8" fill="#000"/>
<rect x="577.5" y="632.0999999999999" width="0.7000000000000455" height="8" fill="#000"/>
<rect x="579.8" y="632.0999999999999" width="0.7000000000000455" height="8" fill="#000"/>
<rect x="586.9" y="633.5999999999999" width="0.8000000000000682" height="5" fill="#000"/>
<text x="551.5" y="646.5" font-size="9.0" font-weight="bold" fill="#1a1a1a" text-anchor="start" font-style="italic" textLength="14.3" lengthAdjust="spacingAndGlyphs" stroke="#1a1a1a" stroke-width="0.18">pnt</text>
<rect x="599.1" y="631.4" width="3.3999999999999773" height="8.2" fill="#000"/>
<rect x="603.2" y="631.4" width="6.2999999999999545" height="8.2" fill="#000"/>
<rect x="609.5" y="633.0" width="3.6000000000000227" height="5" fill="#000"/>
<rect x="619.2" y="632.75" width="2.2999999999999545" height="5.5" fill="#000"/>
<rect x="621.5" y="631.4" width="2.2000000000000455" height="8.2" fill="#000"/>
<rect x="624.3" y="631.4" width="9.200000000000045" height="8.2" fill="#000"/>
<rect x="633.5" y="633.0" width="3.7999999999999545" height="5" fill="#000"/>
<rect x="642.6" y="631.4" width="2.8999999999999773" height="8.2" fill="#000"/>
<rect x="646.2" y="631.4" width="7.2999999999999545" height="8.2" fill="#000"/>
<rect x="653.5" y="633.0" width="4.0" height="5" fill="#000"/>
<text x="613.4" y="647.8" font-size="9.0" font-weight="bold" fill="#1a1a1a" text-anchor="start" font-style="italic" textLength="13.7" lengthAdjust="spacingAndGlyphs" stroke="#1a1a1a" stroke-width="0.18">tub</text>
</svg></body></html>
